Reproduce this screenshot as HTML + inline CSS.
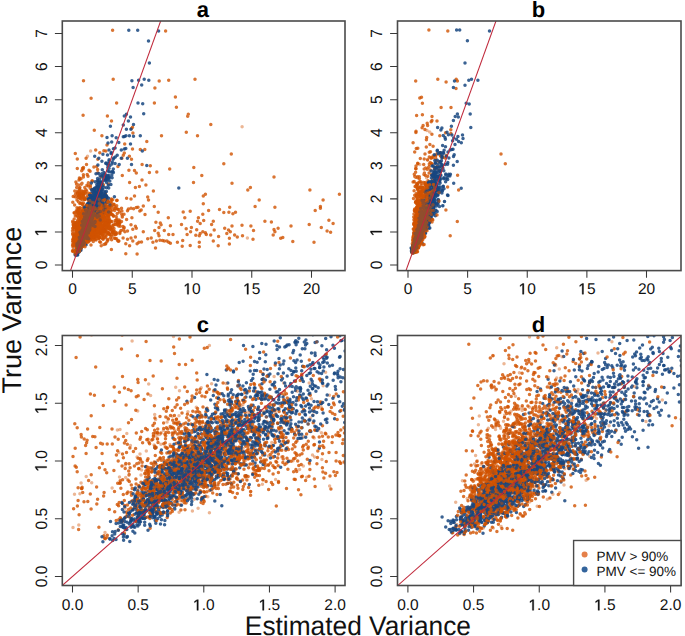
<!DOCTYPE html><html><head><meta charset="utf-8"><style>html,body{margin:0;padding:0;background:#fff;overflow:hidden}svg{display:block;text-rendering:geometricPrecision}.t{font-family:"Liberation Sans", sans-serif;font-size:15.5px;fill:#111}.h{font-family:"Liberation Sans", sans-serif;font-size:22px;font-weight:bold;fill:#000}.L{font-family:"Liberation Sans", sans-serif;font-size:26.3px;fill:#111}.g{font-family:"Liberation Sans", sans-serif;font-size:13.5px;fill:#111}</style></head><body><svg width="685" height="636" viewBox="0 0 685 636"><rect width="685" height="636" fill="#fff"/><defs><clipPath id="ca"><rect x="62.30" y="21.00" width="282.70" height="249.60"/></clipPath><clipPath id="cb"><rect x="397.50" y="21.00" width="283.50" height="249.60"/></clipPath><clipPath id="cc"><rect x="62.30" y="335.50" width="282.70" height="250.00"/></clipPath><clipPath id="cd"><rect x="397.50" y="335.50" width="283.50" height="250.00"/></clipPath></defs><path d="M90.6 151.1h0M107.0 206.9h0M122.3 216.0h0M90.1 214.1h0" stroke="#d15200" stroke-opacity="0.42" stroke-width="3.5" stroke-linecap="round" fill="none" clip-path="url(#ca)"/><path d="M153.4 191.0h0M117.0 219.1h0M85.8 222.8h0M80.0 197.6h0M89.5 210.2h0M75.9 181.9h0M100.8 201.1h0M100.0 208.1h0M107.4 115.9h0M79.2 197.7h0M87.2 174.5h0M82.0 231.6h0M108.4 224.2h0M82.1 228.7h0M90.9 204.5h0M81.9 191.1h0M169.7 169.1h0M92.5 217.1h0M78.8 195.8h0M93.1 224.0h0M93.6 205.0h0M80.5 229.5h0M93.4 196.7h0M92.0 181.1h0M113.3 225.0h0M81.6 219.1h0M145.0 214.6h0M100.9 215.6h0M223.8 163.8h0M75.3 153.5h0M104.6 222.9h0M88.5 226.0h0M119.2 220.1h0M77.8 192.9h0M113.9 204.4h0M86.8 232.7h0M88.5 230.5h0M88.6 211.9h0M110.1 209.1h0M83.5 80.8h0M100.6 206.9h0M85.7 193.1h0M93.9 166.9h0M104.0 211.6h0M105.4 204.9h0M94.1 223.3h0M83.1 168.9h0M82.7 225.6h0M99.4 212.1h0M83.7 218.0h0M99.1 218.0h0M117.7 209.3h0M73.2 196.5h0M250.4 187.5h0M84.1 212.3h0M187.7 116.3h0M97.7 172.7h0M146.8 141.5h0M131.5 128.6h0M98.4 196.6h0M82.9 226.0h0M78.5 213.3h0M96.8 224.7h0M79.4 209.9h0M85.0 198.9h0M98.8 210.0h0M83.9 227.7h0M99.1 222.3h0M156.8 171.9h0M98.7 209.8h0M148.5 199.9h0M90.0 213.0h0M78.3 217.4h0M99.8 211.7h0M102.4 220.6h0M108.2 224.1h0M91.8 213.0h0M84.3 221.0h0M109.4 206.6h0M89.7 193.9h0M79.9 187.6h0M80.1 232.8h0M84.6 224.8h0M112.2 214.4h0M100.1 210.5h0M86.4 220.5h0M186.3 132.3h0M193.5 182.4h0M155.9 222.2h0M85.5 224.7h0M154.4 103.1h0M85.2 225.7h0M104.3 229.9h0M88.5 218.0h0M80.6 203.3h0M100.1 189.4h0M83.1 234.3h0M116.7 200.5h0M92.0 215.2h0M77.8 211.8h0M97.6 169.6h0M86.9 227.6h0M98.2 212.4h0M102.1 220.3h0M80.4 224.4h0M90.6 219.3h0M81.9 210.8h0M78.6 230.0h0M94.3 130.2h0M84.8 210.5h0M79.0 180.1h0M188.3 114.3h0M79.0 191.6h0M96.3 213.5h0M100.3 209.6h0M101.9 135.8h0M84.4 231.3h0M81.6 222.3h0M98.5 195.5h0M105.0 202.7h0M93.8 224.2h0M83.8 206.7h0M79.6 195.3h0M85.1 219.9h0M81.8 193.5h0M93.5 204.9h0M84.9 232.3h0M101.7 215.9h0M84.6 213.5h0M103.9 150.7h0M109.2 206.2h0M85.8 220.3h0M89.9 209.4h0M86.3 231.3h0M116.6 103.1h0M83.9 217.7h0M92.5 228.5h0M86.6 211.1h0M92.7 223.7h0M86.2 221.1h0M88.7 232.8h0M197.5 135.8h0M175.4 97.0h0M129.6 182.4h0M96.9 223.1h0M90.9 217.4h0M100.2 198.0h0M85.0 224.4h0M86.5 221.9h0M89.7 211.2h0M84.8 187.6h0M98.2 206.0h0M90.1 171.3h0M79.6 191.0h0M86.9 197.2h0" stroke="#d15200" stroke-opacity="0.8" stroke-width="3.5" stroke-linecap="round" fill="none" clip-path="url(#ca)"/><path d="M86.3 214.9h0M81.2 195.6h0M103.4 210.5h0" stroke="#d15200" stroke-opacity="0.42" stroke-width="3.5" stroke-linecap="round" fill="none" clip-path="url(#ca)"/><path d="M86.6 224.2h0M91.7 214.4h0M81.1 228.2h0M91.7 189.3h0M87.6 221.4h0M150.3 165.8h0M274.0 177.0h0M81.7 228.8h0M82.3 216.9h0M93.6 190.7h0M83.0 223.1h0M81.7 228.3h0M85.8 212.8h0M74.5 213.1h0M91.4 216.2h0M92.9 222.1h0M87.8 216.2h0M95.2 224.8h0M145.9 185.0h0M112.5 227.7h0M79.8 225.7h0M87.7 215.1h0M82.7 197.4h0M104.8 228.3h0M87.6 208.9h0M83.4 174.8h0M79.8 221.8h0M99.8 152.7h0M77.3 158.9h0M103.0 200.3h0M203.3 203.8h0M210.8 124.4h0M102.3 199.8h0M82.2 222.4h0M96.1 216.6h0M95.9 213.1h0M100.7 221.7h0M97.8 213.2h0M159.2 81.1h0M84.6 219.4h0M77.0 195.9h0M333.1 223.4h0M80.1 228.0h0M83.0 217.8h0M98.9 226.9h0M105.0 218.0h0M80.2 198.2h0M83.8 220.3h0M100.8 217.8h0M90.1 216.5h0M106.8 211.1h0M124.7 143.9h0M108.4 183.9h0M85.5 219.4h0M87.3 215.0h0M88.0 176.3h0M105.8 219.8h0M107.2 200.7h0M94.4 218.8h0M107.8 222.3h0M76.3 214.8h0M80.4 178.8h0M128.9 170.2h0M78.7 231.3h0M76.3 210.8h0M127.5 210.8h0M75.1 226.8h0M107.0 202.9h0M203.3 195.9h0M86.1 219.3h0M102.5 200.1h0M86.0 220.7h0M201.8 175.4h0M83.8 216.6h0M86.0 221.5h0M85.7 229.0h0M88.4 182.7h0M99.1 210.0h0M97.8 217.2h0M101.1 210.5h0M100.0 227.2h0M92.0 213.9h0M81.7 199.3h0M82.9 227.7h0M176.4 107.2h0M94.7 197.9h0M90.1 216.9h0M86.2 226.8h0M104.1 215.4h0M91.9 215.2h0M87.0 219.2h0M158.2 212.2h0M86.3 221.8h0M111.5 121.1h0M78.4 201.8h0M81.7 222.6h0M83.0 223.8h0M89.7 215.4h0M100.7 222.7h0M193.8 167.4h0M79.8 193.3h0M108.6 216.1h0M139.8 211.1h0M117.9 166.5h0M81.1 194.1h0M96.4 188.1h0M90.4 187.1h0M81.6 223.9h0M91.5 222.5h0M91.6 215.8h0M90.2 188.3h0M81.7 170.7h0M134.5 195.9h0M106.3 215.0h0M75.5 197.0h0M82.1 229.0h0M79.9 224.9h0M90.0 226.7h0M205.4 194.2h0M98.3 208.5h0M87.8 211.1h0M118.8 209.5h0M92.3 181.0h0M89.7 193.5h0M88.9 214.3h0M101.0 177.0h0M82.6 225.4h0M83.6 195.4h0M77.3 233.1h0M109.1 218.6h0M121.9 158.2h0M95.2 217.0h0M91.6 220.2h0M95.7 150.1h0M79.2 222.7h0M89.1 210.1h0M84.1 192.1h0M111.0 211.3h0M84.2 211.0h0M102.2 229.4h0M88.7 204.6h0M200.2 223.4h0M184.8 217.8h0M88.2 221.0h0M168.7 80.2h0M232.0 226.0h0M81.2 223.8h0M79.6 203.2h0M92.6 235.0h0M89.0 170.2h0M81.0 178.8h0M90.8 207.8h0M88.2 213.8h0M90.2 222.4h0M161.5 135.8h0M91.3 203.7h0" stroke="#d15200" stroke-opacity="0.8" stroke-width="3.5" stroke-linecap="round" fill="none" clip-path="url(#ca)"/><path d="M98.8 222.8h0M89.0 209.8h0M87.5 156.2h0" stroke="#d15200" stroke-opacity="0.42" stroke-width="3.5" stroke-linecap="round" fill="none" clip-path="url(#ca)"/><path d="M77.1 191.2h0M106.5 197.1h0M77.0 207.8h0M76.1 222.8h0M83.3 228.8h0M117.2 213.5h0M105.1 213.4h0M105.9 151.1h0M88.7 202.3h0M95.3 210.4h0M77.9 220.1h0M109.9 221.9h0M106.2 211.1h0M224.7 228.3h0M99.2 218.8h0M93.0 207.8h0M97.8 159.3h0M87.1 217.3h0M82.9 230.0h0M195.0 79.2h0M82.4 192.1h0M92.0 228.2h0M100.1 219.9h0M111.4 199.1h0M75.7 227.1h0M101.6 229.3h0M111.2 203.6h0M113.9 204.3h0M85.4 212.1h0M81.3 232.6h0M205.4 232.7h0M77.3 168.5h0M115.3 222.4h0M108.7 218.4h0M75.6 194.1h0M81.0 192.1h0M83.9 226.6h0M103.6 198.8h0M103.7 216.8h0M320.4 206.4h0M131.5 159.3h0M144.8 149.5h0M110.9 227.2h0M97.3 216.4h0M81.2 219.6h0M90.7 215.9h0M136.3 173.1h0M79.7 189.6h0M86.6 223.0h0M87.8 195.2h0M100.4 228.5h0M191.4 227.4h0M95.5 206.5h0M139.4 186.6h0M109.6 207.7h0M96.4 195.0h0M94.9 216.6h0M91.5 212.7h0M121.5 208.2h0M154.9 88.1h0M83.8 211.6h0M97.5 227.0h0M82.2 220.9h0M102.2 221.0h0M102.6 215.5h0M84.8 232.5h0M78.9 191.7h0M84.1 191.2h0M100.3 220.2h0M88.3 186.0h0M91.5 223.7h0M78.4 208.6h0M83.0 215.3h0M74.8 191.1h0M99.3 218.3h0M80.9 228.0h0M89.8 208.6h0M97.9 211.6h0M98.1 216.9h0M82.8 226.7h0M79.7 225.9h0M78.6 225.7h0M84.1 211.4h0M100.9 212.8h0M105.4 194.0h0M111.6 230.0h0M122.3 217.1h0M87.5 210.4h0M97.9 222.1h0M129.4 156.2h0M104.2 204.6h0M91.2 197.7h0M107.9 201.2h0M105.3 222.1h0M231.3 154.0h0M100.4 213.1h0M101.6 212.2h0M85.6 223.2h0M113.3 215.6h0M108.2 219.6h0M79.4 225.7h0M77.1 229.9h0M86.9 217.8h0M99.0 207.9h0M109.9 214.1h0M93.0 213.8h0M124.3 153.1h0M84.2 194.1h0M79.7 190.5h0M122.3 175.4h0M147.7 197.1h0M135.4 187.5h0M235.5 212.2h0M339.4 194.2h0M140.3 149.5h0M89.6 231.1h0M95.6 201.3h0M78.9 195.5h0M94.5 216.8h0M87.0 192.1h0M104.7 208.3h0M87.4 228.0h0M84.7 212.2h0M113.2 225.2h0M79.3 190.5h0M86.0 212.7h0M82.0 214.5h0M86.6 190.9h0M123.0 226.6h0M92.8 207.6h0M76.6 184.2h0M86.7 205.3h0M202.8 214.3h0M90.4 213.6h0M84.4 216.5h0M98.8 221.4h0M98.0 181.0h0M83.5 227.9h0M112.0 230.5h0M90.8 219.5h0M232.0 183.3h0M84.7 225.0h0M85.5 219.8h0M78.4 185.1h0M89.7 214.4h0M100.4 199.3h0M89.5 220.0h0M84.5 199.6h0M84.6 228.5h0M109.7 229.3h0M134.5 170.5h0M82.0 208.3h0M82.5 168.3h0M101.6 202.9h0M85.3 229.5h0M96.7 166.4h0" stroke="#d15200" stroke-opacity="0.8" stroke-width="3.5" stroke-linecap="round" fill="none" clip-path="url(#ca)"/><path d="M242.1 126.8h0M100.0 222.0h0M78.4 217.6h0M83.5 222.2h0M93.2 213.7h0" stroke="#d15200" stroke-opacity="0.42" stroke-width="3.5" stroke-linecap="round" fill="none" clip-path="url(#ca)"/><path d="M98.3 226.9h0M83.4 176.9h0M123.3 155.2h0M86.1 158.2h0M81.3 184.3h0M90.4 185.3h0M132.9 133.1h0M103.1 210.5h0M116.5 233.4h0M96.4 218.7h0M88.9 223.6h0M102.9 220.5h0M81.0 222.4h0M117.1 200.3h0M82.0 221.4h0M88.1 215.1h0M79.3 188.3h0M223.8 212.5h0M81.9 220.0h0M74.2 219.0h0M95.1 216.4h0M132.5 149.0h0M81.8 223.2h0M84.3 225.1h0M84.2 218.8h0M86.9 185.3h0M84.6 223.1h0M105.1 212.9h0M132.5 127.2h0M86.1 232.4h0M72.8 202.3h0M80.2 224.5h0M97.8 208.8h0M82.9 222.6h0M88.6 220.3h0M107.4 209.5h0M76.7 187.5h0M93.9 214.7h0M98.6 202.4h0M86.1 225.5h0M79.3 194.9h0M88.0 226.8h0M91.8 218.1h0M103.1 196.9h0M84.8 198.0h0M323.1 199.9h0M82.1 222.9h0M106.4 199.0h0M90.6 228.1h0M100.5 230.9h0M128.4 209.0h0M109.2 221.8h0M126.6 198.2h0M86.2 228.0h0M309.9 190.1h0M309.2 224.4h0M85.4 226.6h0M88.0 215.8h0M111.8 206.7h0M82.5 233.5h0M82.0 183.3h0M100.0 223.0h0M91.1 98.3h0M83.4 225.3h0M98.4 201.8h0M124.0 214.3h0M88.2 199.9h0M85.9 189.8h0M82.3 230.9h0M81.4 229.4h0M105.3 194.6h0M100.1 215.2h0M84.1 218.1h0M94.6 216.5h0M104.7 207.3h0M88.2 212.4h0M113.2 79.2h0M142.1 164.4h0M76.6 223.0h0M101.1 205.4h0M108.2 208.3h0M154.3 206.4h0M112.6 30.2h0M104.3 206.5h0M108.6 206.9h0M247.8 190.1h0M96.5 212.7h0M149.4 172.6h0M107.0 145.0h0M83.5 167.4h0M89.6 206.3h0M229.7 207.3h0M83.4 194.1h0M102.7 210.1h0M87.5 213.9h0M91.7 193.4h0M168.3 217.8h0M86.5 164.4h0M103.5 227.0h0M97.4 204.0h0M111.2 200.3h0M87.6 214.9h0M79.7 178.8h0M96.6 196.5h0M83.1 115.3h0M100.3 210.5h0M89.9 213.3h0M86.5 204.8h0M106.1 206.7h0M89.2 222.3h0M77.6 211.5h0M85.7 227.2h0M89.0 223.2h0M89.2 223.5h0M88.8 230.6h0M165.6 31.1h0M84.1 229.2h0M84.7 216.8h0M103.4 184.7h0M83.9 208.8h0M104.0 229.5h0M92.6 231.9h0M93.6 220.5h0M86.6 211.4h0M97.5 199.4h0M85.2 228.6h0M91.0 218.2h0M79.4 178.0h0M81.5 231.9h0M79.8 207.6h0M106.4 212.8h0M91.6 226.4h0M85.6 212.2h0M197.6 221.3h0M142.0 180.1h0M82.2 211.9h0M102.8 226.0h0M82.2 204.3h0M77.4 216.0h0M83.5 229.6h0M93.4 207.1h0M88.3 227.7h0M74.5 225.0h0M95.0 208.4h0M259.2 199.9h0M98.4 196.3h0M87.2 231.0h0M120.0 222.4h0M82.9 230.9h0M81.1 220.8h0M86.6 205.6h0M106.2 210.2h0M118.6 226.0h0" stroke="#d15200" stroke-opacity="0.8" stroke-width="3.5" stroke-linecap="round" fill="none" clip-path="url(#ca)"/><path d="M90.5 219.1h0M82.9 241.6h0M80.5 247.9h0M84.9 229.9h0M81.4 234.3h0M88.9 199.1h0M113.4 148.7h0M85.7 233.4h0M78.6 239.4h0M79.7 246.3h0M92.4 206.0h0M86.5 220.2h0M86.8 229.0h0M106.2 176.5h0M79.5 250.0h0M98.3 204.3h0M81.4 241.8h0M99.9 191.2h0M82.7 238.6h0M97.9 213.3h0M89.1 218.9h0M100.6 201.3h0M81.5 242.5h0M83.6 236.4h0M83.2 240.8h0M85.7 227.1h0M86.1 225.4h0M79.8 241.9h0M82.8 229.1h0M91.4 215.4h0M94.3 201.0h0M78.0 245.8h0M92.4 222.6h0M87.7 217.0h0M142.3 151.1h0M83.9 224.0h0M84.4 237.5h0M128.4 121.1h0M77.9 248.7h0M86.4 233.9h0M87.4 229.7h0M84.8 228.1h0M84.8 224.0h0M80.5 243.3h0M77.1 251.0h0M89.3 227.0h0M86.3 217.7h0M84.6 233.5h0M83.2 231.9h0M84.1 219.1h0M84.0 233.5h0M78.2 242.8h0M83.0 228.7h0M91.3 214.4h0M83.3 235.8h0M85.1 231.1h0M81.6 244.5h0M97.7 186.9h0M81.3 239.1h0M87.7 233.9h0M83.9 239.4h0M86.1 232.6h0M88.6 218.9h0M84.6 222.7h0M89.4 218.3h0M86.2 236.4h0M84.7 234.7h0M88.0 221.6h0M86.3 237.0h0M84.0 233.3h0M83.9 230.5h0M80.8 246.6h0M79.1 246.4h0M93.4 222.4h0M86.0 219.3h0M88.7 225.2h0M94.0 206.9h0M81.5 239.7h0M84.8 223.0h0M102.0 202.1h0M83.1 224.8h0M83.5 234.2h0M148.5 40.9h0M84.1 240.9h0M89.0 220.7h0M88.9 229.6h0M85.5 216.7h0M87.5 232.0h0M80.5 240.5h0M79.2 233.6h0M108.9 178.2h0M88.3 209.5h0M94.1 231.8h0M83.6 232.4h0M83.1 234.6h0M82.8 227.5h0M97.6 178.6h0M84.9 226.5h0M82.4 232.9h0M88.4 231.0h0M103.6 175.7h0M88.2 227.1h0M80.9 238.7h0M91.3 217.0h0M86.8 224.3h0M82.8 237.9h0M79.4 240.6h0M81.2 239.3h0M82.2 240.2h0M86.2 224.6h0M88.2 226.4h0M81.3 229.3h0M80.6 228.8h0M78.4 247.9h0M86.3 237.0h0M82.0 242.3h0M78.2 241.9h0M85.1 222.3h0M104.0 206.1h0M85.2 239.1h0M91.5 198.8h0M92.4 209.8h0M97.3 197.4h0M86.4 223.1h0M82.3 230.4h0M101.0 191.5h0M93.6 220.3h0M84.6 236.8h0M85.2 233.6h0M82.2 239.9h0M85.8 236.0h0M88.1 223.0h0M83.6 237.1h0M81.9 241.0h0M94.3 209.9h0M80.9 243.2h0M86.8 214.2h0M81.9 236.5h0M85.8 226.0h0M86.3 226.6h0M83.3 238.3h0M86.0 230.8h0M88.3 236.2h0M80.1 237.3h0M86.8 215.9h0M82.3 221.5h0M84.8 220.8h0M78.0 250.1h0M84.2 232.0h0M89.4 212.6h0M105.9 208.0h0M84.7 217.1h0M80.1 247.2h0M93.0 211.0h0M84.7 223.9h0M84.2 235.1h0M83.0 241.1h0M108.4 202.0h0M108.7 175.5h0M77.8 246.3h0M96.0 173.7h0M90.5 222.2h0M102.0 205.4h0M83.3 233.0h0M89.9 225.7h0M87.9 220.7h0M92.6 213.6h0M90.9 217.3h0M85.0 235.7h0M87.0 234.4h0M107.0 137.4h0M84.0 237.8h0M81.5 243.8h0M86.9 226.5h0M80.0 239.5h0M95.1 215.5h0M80.7 244.4h0M87.2 229.6h0M108.5 177.6h0M83.1 241.2h0M83.8 226.6h0M85.3 226.0h0M107.0 197.6h0M86.4 230.4h0M83.4 236.3h0M90.5 220.9h0M86.8 219.2h0M81.2 241.1h0M85.6 232.6h0M94.1 216.7h0M82.5 240.8h0M93.3 216.0h0M79.2 244.9h0M83.3 241.1h0M96.8 202.3h0M78.7 245.0h0M78.8 240.7h0M99.5 209.5h0M103.7 175.8h0M91.1 200.1h0M85.5 234.1h0M79.3 246.2h0M92.9 217.6h0M85.7 227.9h0M85.1 229.4h0M77.8 249.0h0M85.1 227.5h0M89.1 222.7h0M86.3 224.1h0M86.3 217.3h0M79.8 248.2h0M107.7 165.0h0M102.1 199.7h0M87.0 231.8h0M97.5 193.4h0M80.9 235.9h0M79.1 238.5h0M79.1 246.3h0M89.9 220.7h0M87.1 206.5h0M85.2 227.4h0M86.1 233.1h0M85.1 230.6h0M94.6 210.6h0M89.7 229.2h0M86.5 235.3h0M93.8 198.3h0" stroke="#174780" stroke-opacity="0.85" stroke-width="3.5" stroke-linecap="round" fill="none" clip-path="url(#ca)"/><path d="M83.4 227.8h0M80.3 245.9h0M102.9 154.2h0M83.3 232.1h0M83.2 237.6h0M98.3 204.8h0M81.7 233.8h0M91.4 222.0h0M89.1 224.2h0M80.0 242.3h0M90.7 210.1h0M87.7 210.2h0M81.8 239.0h0M93.7 213.9h0M83.8 231.5h0M92.1 214.6h0M86.7 212.9h0M85.6 232.9h0M140.3 135.8h0M90.6 223.2h0M94.4 211.2h0M77.3 249.3h0M89.4 220.4h0M96.8 196.1h0M89.6 222.2h0M80.8 237.0h0M87.1 218.7h0M100.6 191.6h0M83.9 226.4h0M97.2 217.2h0M81.7 232.3h0M81.3 230.9h0M97.4 208.4h0M91.0 215.3h0M88.9 218.1h0M94.3 211.3h0M90.5 217.6h0M87.1 221.8h0M93.4 220.8h0M84.3 234.4h0M97.3 217.4h0M83.0 230.6h0M77.5 253.5h0M80.7 245.1h0M85.5 234.1h0M76.4 252.1h0M121.3 150.1h0M85.5 234.3h0M81.9 230.8h0M80.5 242.3h0M78.2 245.0h0M83.5 239.1h0M93.7 218.6h0M95.2 215.4h0M91.4 196.7h0M83.7 235.6h0M84.1 230.9h0M83.6 235.8h0M82.4 240.8h0M80.7 239.8h0M109.8 180.9h0M100.0 210.4h0M88.8 220.7h0M84.9 228.1h0M83.0 243.3h0M92.5 207.2h0M88.1 211.7h0M95.7 210.5h0M85.6 210.2h0M80.9 244.2h0M98.1 220.8h0M92.8 211.8h0M78.1 244.1h0M87.1 224.4h0M85.0 235.8h0M76.3 254.1h0M81.4 240.2h0M87.8 218.3h0M87.1 223.6h0M89.1 227.7h0M86.2 235.8h0M77.0 243.8h0M80.0 249.0h0M84.6 228.8h0M85.1 231.4h0M97.1 216.3h0M85.1 230.2h0M96.7 207.4h0M84.0 231.6h0M87.8 217.2h0M89.9 214.2h0M143.7 113.7h0M99.1 193.7h0M81.8 238.2h0M82.8 236.7h0M85.4 208.6h0M81.2 247.1h0M81.1 240.2h0M87.4 231.9h0M81.8 240.7h0M93.4 206.1h0M83.6 237.6h0M106.8 196.6h0M96.9 209.3h0M84.8 235.2h0M105.3 180.2h0M82.2 230.3h0M95.3 209.7h0M89.8 229.6h0M84.9 234.9h0M84.0 232.4h0M95.7 203.9h0M84.8 232.3h0M85.4 237.2h0M102.4 189.2h0M86.9 215.0h0M83.3 242.6h0M85.1 229.3h0M81.0 234.1h0M79.2 242.0h0M91.4 204.4h0M82.8 226.1h0M92.9 217.6h0M87.7 225.2h0M100.1 192.1h0M80.0 241.3h0M94.0 212.8h0M96.9 195.7h0M84.3 236.2h0M95.6 214.4h0M79.6 242.7h0M86.6 229.1h0M91.5 208.8h0M94.1 223.4h0M88.6 238.7h0M102.8 212.6h0M90.3 225.4h0M87.4 225.5h0M85.8 226.0h0M89.5 227.3h0M80.2 235.5h0M131.9 80.8h0M94.7 212.0h0M98.5 199.8h0M99.7 194.0h0M85.1 237.8h0M80.8 237.4h0M92.0 224.0h0M78.8 244.8h0M84.2 224.2h0M99.0 197.2h0M87.1 226.4h0M105.1 192.5h0M83.6 226.3h0M85.6 233.8h0M83.9 232.5h0M102.0 176.1h0M83.6 234.7h0M80.5 239.2h0M78.9 242.8h0M78.6 244.0h0M113.8 158.1h0M148.8 80.2h0M98.7 204.9h0M81.5 239.0h0M92.1 226.4h0M90.0 203.5h0M87.6 221.7h0M90.8 220.0h0M84.1 236.4h0M80.2 240.2h0M87.7 203.7h0M82.2 237.0h0M87.2 206.2h0M80.1 244.2h0M84.5 229.9h0M88.4 222.7h0M90.0 220.6h0M81.4 237.7h0M85.1 230.9h0M94.9 188.0h0M90.2 213.1h0M84.0 233.8h0M93.7 199.8h0M84.1 227.6h0M144.2 79.2h0M83.5 223.0h0M85.2 226.3h0M88.2 231.0h0M85.6 227.0h0M84.3 230.8h0M81.4 245.4h0M87.8 223.5h0M85.4 225.8h0M85.9 222.6h0M87.0 226.7h0M81.2 238.0h0M86.7 224.8h0M85.1 227.2h0M86.9 212.3h0M95.8 215.8h0M88.9 235.8h0M77.2 254.6h0M83.5 236.1h0M83.1 230.3h0M92.0 207.6h0M82.1 234.9h0M87.0 226.3h0M95.5 201.8h0M85.6 226.6h0M92.3 210.5h0M118.8 142.4h0M92.5 218.1h0M81.3 240.3h0M80.6 236.4h0M86.3 223.1h0M86.5 218.3h0M82.2 234.9h0M93.2 212.0h0M89.5 220.0h0M89.1 219.7h0M89.6 217.5h0M78.9 238.3h0M87.4 219.2h0M91.3 225.5h0M90.2 217.6h0M81.3 242.9h0" stroke="#174780" stroke-opacity="0.85" stroke-width="3.5" stroke-linecap="round" fill="none" clip-path="url(#ca)"/><path d="M78.0 245.9h0M92.0 221.6h0M91.0 229.4h0M86.1 225.7h0M84.6 232.8h0M85.1 233.5h0M86.1 233.8h0M94.1 210.5h0M86.2 225.2h0M79.6 239.8h0M78.2 245.2h0M78.0 243.4h0M93.5 212.8h0M86.0 222.5h0M84.8 236.9h0M80.9 249.0h0M95.5 220.1h0M81.4 236.6h0M78.9 246.6h0M86.1 233.6h0M85.4 231.1h0M99.7 208.0h0M82.4 242.0h0M99.7 195.5h0M92.8 198.7h0M93.1 222.0h0M89.0 224.5h0M95.7 202.3h0M95.3 206.2h0M88.1 232.7h0M81.8 233.7h0M83.3 226.1h0M86.7 213.4h0M86.7 214.7h0M86.3 230.0h0M78.4 242.5h0M91.2 207.0h0M83.3 241.4h0M85.0 230.9h0M93.4 208.5h0M92.8 209.1h0M87.8 221.9h0M81.7 238.0h0M82.7 232.2h0M85.2 233.5h0M98.8 196.7h0M79.0 241.1h0M95.4 192.5h0M100.4 216.3h0M95.5 196.9h0M78.6 248.7h0M81.7 229.7h0M81.1 232.9h0M80.5 239.1h0M94.2 223.5h0M81.5 234.6h0M80.6 234.1h0M86.1 226.4h0M87.7 216.1h0M88.3 233.1h0M87.1 229.0h0M79.2 243.8h0M87.7 225.1h0M117.2 155.2h0M81.1 244.5h0M82.3 235.3h0M83.6 233.0h0M77.0 248.7h0M83.7 237.4h0M84.9 232.0h0M81.4 239.1h0M86.1 222.8h0M82.8 236.2h0M95.2 208.7h0M85.4 227.3h0M94.9 206.7h0M92.5 212.3h0M80.2 239.7h0M82.3 241.2h0M149.4 63.0h0M84.3 219.1h0M87.6 229.7h0M104.2 191.3h0M85.0 229.9h0M80.5 250.0h0M102.0 214.2h0M95.0 228.3h0M90.6 219.8h0M85.5 233.2h0M86.7 218.7h0M106.5 202.5h0M81.1 235.7h0M85.3 233.6h0M89.2 213.0h0M87.5 214.6h0M82.6 231.1h0M86.3 219.1h0M76.2 254.7h0M80.4 240.7h0M88.7 221.7h0M87.4 228.4h0M78.6 245.1h0M87.4 218.1h0M83.9 235.9h0M81.7 225.3h0M93.4 204.8h0M85.8 235.5h0M97.5 219.4h0M80.8 240.7h0M78.4 244.0h0M89.5 228.8h0M90.9 210.6h0M84.2 243.1h0M86.9 236.3h0M85.9 225.6h0M82.5 234.3h0M90.2 205.8h0M93.1 196.8h0M86.4 223.9h0M89.8 212.9h0M85.4 234.2h0M79.1 238.8h0M82.2 230.9h0M108.3 185.3h0M82.0 238.3h0M95.1 221.4h0M78.5 247.0h0M83.2 224.6h0M88.7 218.8h0M93.6 217.7h0M81.8 232.4h0M86.6 220.8h0M90.1 217.9h0M93.4 213.9h0M91.0 203.9h0M88.9 216.0h0M84.5 234.5h0M93.1 220.8h0M89.6 212.3h0M87.1 227.6h0M81.3 236.6h0M92.6 206.5h0M80.1 242.0h0M83.3 244.4h0M78.1 248.9h0M92.4 220.2h0M91.7 204.2h0M79.9 238.8h0M82.9 232.6h0M87.1 227.0h0M78.0 252.0h0M92.5 210.6h0M89.1 203.5h0M79.9 242.6h0M82.2 231.7h0M79.5 236.7h0M79.3 244.3h0M100.0 205.2h0M84.6 229.8h0M93.7 220.6h0M95.6 202.5h0M88.9 218.6h0M91.7 189.8h0M82.5 229.8h0M86.3 227.1h0M100.4 193.5h0M85.6 236.3h0M78.5 243.4h0M87.5 230.1h0M82.7 241.9h0M89.8 207.2h0M82.4 241.5h0M94.8 197.8h0M104.3 194.8h0M83.7 225.2h0M107.3 175.5h0M89.4 219.3h0M86.7 226.2h0M80.9 232.5h0M85.9 221.9h0M92.2 222.8h0M82.7 237.0h0M96.7 213.4h0M84.4 225.8h0M100.2 195.1h0M85.2 227.8h0M90.5 223.7h0M83.2 231.6h0M86.7 226.1h0M81.2 241.8h0M85.2 228.2h0M77.2 246.6h0M82.7 232.4h0M94.8 206.4h0M83.8 239.5h0M85.4 238.6h0M92.3 215.4h0M93.2 213.0h0M81.5 237.5h0M88.1 229.4h0M98.0 182.4h0M89.2 214.3h0M83.1 241.4h0M104.0 172.6h0M82.5 238.7h0M86.3 237.1h0M110.0 205.0h0M80.5 240.9h0M84.8 232.4h0M91.7 215.1h0M81.0 238.1h0M105.7 175.5h0M96.2 204.6h0M100.7 181.9h0M80.7 241.8h0M87.4 213.6h0M85.7 230.8h0M83.8 219.4h0M80.7 234.2h0M83.6 234.5h0M87.7 220.7h0M83.0 232.4h0M90.8 214.5h0M94.1 194.3h0M82.4 232.5h0M91.5 233.8h0M101.0 195.5h0" stroke="#174780" stroke-opacity="0.85" stroke-width="3.5" stroke-linecap="round" fill="none" clip-path="url(#ca)"/><path d="M87.0 231.7h0M80.0 228.1h0M84.1 231.2h0M83.7 230.9h0M92.8 218.4h0M79.0 246.7h0M82.2 236.9h0M80.8 241.4h0M83.1 224.1h0M94.7 189.7h0M89.8 232.9h0M78.9 239.5h0M93.4 199.8h0M81.2 246.2h0M82.0 238.1h0M89.1 229.9h0M78.4 248.7h0M82.6 239.0h0M84.3 236.1h0M83.0 228.1h0M111.7 141.9h0M88.9 207.1h0M91.7 221.0h0M103.4 178.6h0M80.5 236.9h0M85.7 230.4h0M84.8 232.7h0M106.5 187.8h0M85.0 235.3h0M81.2 244.7h0M76.1 253.4h0M83.1 238.1h0M89.5 223.4h0M96.8 217.7h0M84.8 228.4h0M91.0 218.7h0M92.9 206.3h0M79.2 241.2h0M85.7 228.7h0M86.6 232.5h0M79.5 243.9h0M82.9 229.8h0M86.8 228.6h0M90.3 214.4h0M86.8 215.2h0M88.7 220.0h0M92.1 224.0h0M88.7 206.2h0M81.4 232.5h0M94.7 222.2h0M82.9 225.0h0M89.4 227.4h0M77.8 249.0h0M100.9 186.8h0M85.1 220.7h0M83.9 228.5h0M81.0 241.8h0M102.3 169.8h0M84.8 232.0h0M92.7 197.9h0M95.2 198.9h0M93.1 223.4h0M86.1 223.5h0M77.4 247.8h0M83.8 232.2h0M101.8 183.2h0M79.8 247.4h0M87.3 225.4h0M84.3 237.7h0M85.5 233.0h0M87.6 225.4h0M92.8 221.5h0M85.3 237.5h0M83.8 230.4h0M101.9 217.5h0M128.8 30.2h0M92.2 215.5h0M88.0 210.5h0M82.9 214.8h0M85.9 234.3h0M126.0 135.8h0M79.7 239.0h0M87.6 224.8h0M178.8 188.0h0M85.8 233.3h0M87.4 221.2h0M80.6 245.0h0M82.5 229.8h0M86.1 244.8h0M82.7 237.5h0M81.2 243.2h0M98.5 189.6h0M83.0 229.5h0M83.8 232.8h0M83.8 234.9h0M77.5 249.5h0M97.7 212.9h0M91.2 229.0h0M79.8 244.4h0M80.0 247.8h0M78.8 241.5h0M79.1 244.0h0M76.3 252.8h0M84.0 234.9h0M82.8 242.0h0M83.9 237.2h0M86.5 219.7h0M80.0 237.0h0M89.1 213.4h0M85.9 226.6h0M83.1 234.7h0M82.4 232.4h0M99.3 187.8h0M82.1 226.7h0M81.7 236.8h0M95.2 209.6h0M87.6 212.8h0M78.1 250.7h0M79.1 238.5h0M87.9 212.8h0M81.5 236.5h0M81.3 240.2h0M80.0 247.9h0M87.1 231.9h0M78.7 247.9h0M79.6 250.6h0M95.7 220.9h0M87.4 218.7h0M108.2 163.6h0M89.4 217.2h0M81.7 235.3h0M85.4 218.4h0M91.8 214.6h0M86.9 220.5h0M97.3 197.2h0M81.7 227.2h0M84.3 235.9h0M81.1 239.8h0M85.1 227.6h0M82.6 239.1h0M87.5 223.3h0M86.4 224.3h0M86.9 234.2h0M92.0 228.5h0M93.4 217.9h0M93.1 225.4h0M97.1 208.1h0M97.5 201.2h0M98.8 158.2h0M86.9 226.8h0M88.3 231.2h0M88.0 221.6h0M84.9 221.5h0M93.0 197.9h0M85.1 236.7h0M86.6 218.8h0M90.5 207.1h0M92.7 203.3h0M86.8 227.7h0M87.0 215.1h0M91.2 221.2h0M106.0 162.9h0M86.7 221.9h0M84.9 230.3h0M93.5 209.2h0M86.9 218.8h0M84.8 231.5h0M119.2 164.4h0M84.9 226.8h0M79.3 237.4h0M82.7 226.4h0M83.5 231.3h0M84.6 218.7h0M98.3 199.6h0M87.3 222.8h0M85.2 218.5h0M85.1 223.6h0M79.5 245.2h0M102.7 204.0h0M88.0 216.9h0M89.1 230.8h0M75.9 254.2h0M81.7 238.3h0M81.1 235.9h0M77.7 255.0h0M85.0 233.9h0M75.3 255.1h0M83.5 232.2h0M82.2 236.5h0M78.5 247.8h0M94.0 215.6h0M82.2 234.7h0M91.8 215.4h0M158.6 31.1h0M80.3 243.2h0M99.7 202.8h0M94.1 212.6h0M84.9 234.5h0M78.2 243.2h0M97.4 193.9h0M88.1 230.0h0M89.6 232.2h0M83.1 242.9h0M79.7 238.0h0M106.2 178.2h0M83.8 233.5h0M92.3 221.9h0M82.0 236.2h0M84.3 238.7h0M85.6 225.1h0M82.6 237.9h0M86.0 231.3h0M81.0 241.8h0M85.5 211.5h0M78.6 246.8h0M84.2 230.9h0M88.2 220.7h0M100.1 202.7h0M80.1 244.1h0M84.8 217.5h0M76.1 252.2h0M78.9 246.0h0M106.6 182.5h0M91.3 226.3h0M76.5 249.8h0M78.4 240.4h0M92.2 198.7h0" stroke="#174780" stroke-opacity="0.85" stroke-width="3.5" stroke-linecap="round" fill="none" clip-path="url(#ca)"/><path d="M83.3 236.8h0M83.9 233.4h0M84.0 222.5h0M83.7 236.6h0M94.9 216.1h0M92.8 198.1h0M86.5 231.7h0M77.4 251.6h0M82.4 241.0h0M133.5 136.2h0M81.4 242.2h0M90.8 220.1h0M81.4 234.8h0M96.6 206.9h0M80.5 240.1h0M89.5 223.1h0M80.4 240.1h0M83.5 235.7h0M99.1 192.6h0M87.6 209.3h0M78.3 246.6h0M84.9 228.2h0M92.6 215.2h0M80.1 241.8h0M90.6 213.8h0M86.8 229.0h0M96.4 219.8h0M89.2 225.4h0M103.9 209.6h0M85.8 233.9h0M82.6 239.9h0M86.0 228.3h0M79.0 248.3h0M91.2 213.3h0M83.2 231.5h0M85.9 222.8h0M94.4 219.0h0M89.6 214.0h0M99.6 179.6h0M89.4 223.0h0M78.9 248.3h0M85.0 225.5h0M82.1 230.9h0M92.6 206.3h0M93.5 214.4h0M82.0 235.8h0M83.1 233.7h0M81.0 238.3h0M89.8 223.9h0M93.6 189.2h0M79.2 243.6h0M80.7 237.0h0M90.1 214.1h0M111.0 153.5h0M83.7 239.9h0M80.2 242.5h0M91.9 199.1h0M90.4 218.0h0M106.8 179.5h0M83.8 234.2h0M87.9 212.9h0M96.9 197.5h0M94.6 198.0h0M88.3 225.1h0M78.0 250.6h0M94.9 222.6h0M87.9 217.8h0M89.1 211.1h0M84.7 234.6h0M92.2 216.2h0M83.5 234.6h0M82.7 243.1h0M86.8 223.1h0M94.5 220.5h0M86.5 220.7h0M91.8 199.3h0M88.2 211.5h0M78.8 248.3h0M81.7 236.5h0M86.1 212.7h0M84.5 242.2h0M112.3 162.1h0M116.2 137.8h0M90.1 213.4h0M83.9 231.4h0M84.8 220.7h0M82.7 224.2h0M83.7 232.8h0M84.9 227.7h0M78.5 247.3h0M94.0 220.2h0M82.8 230.2h0M83.0 221.4h0M85.8 225.0h0M78.7 247.1h0M98.6 199.8h0M84.9 227.3h0M89.5 223.1h0M85.3 228.4h0M93.2 211.3h0M84.7 231.0h0M101.8 183.6h0M81.2 238.5h0M100.7 192.5h0M90.7 224.6h0M87.5 213.1h0M84.7 219.0h0M78.9 242.7h0M93.2 210.9h0M90.4 227.7h0M84.3 232.0h0M90.1 198.5h0M83.9 229.4h0M78.1 248.6h0M85.6 232.9h0M84.0 234.0h0M86.9 228.5h0M96.4 210.6h0M84.8 233.9h0M85.4 226.6h0M94.1 217.9h0M94.8 223.2h0M87.0 221.2h0M95.3 202.4h0M91.6 227.5h0M89.4 216.5h0M80.0 245.1h0M81.4 239.5h0M99.9 212.0h0M87.0 226.9h0M86.0 224.9h0M106.0 195.5h0M91.7 225.2h0M101.5 208.1h0M85.2 235.8h0M81.8 237.6h0M96.8 215.0h0M114.4 196.8h0M98.5 196.5h0M80.5 242.4h0M85.9 227.3h0M82.6 230.3h0M87.5 232.1h0M83.0 230.7h0M83.1 239.9h0M85.6 227.0h0M91.3 228.2h0M83.7 224.9h0M88.7 216.9h0M85.2 226.1h0M75.9 254.3h0M93.7 198.7h0M87.9 223.7h0M84.5 236.4h0M88.4 226.0h0M96.7 206.2h0M89.5 226.6h0M127.4 158.2h0M88.7 220.7h0M88.4 220.7h0M88.3 222.0h0M94.2 205.7h0M86.7 225.2h0M83.0 237.4h0M85.7 208.8h0M82.3 234.5h0M83.1 235.0h0M89.6 224.7h0M85.8 214.0h0M85.8 230.7h0M82.0 234.8h0M124.3 115.9h0M92.9 213.8h0M95.3 203.8h0M84.3 226.4h0M89.0 224.5h0M84.2 235.6h0M82.2 232.2h0M89.9 223.0h0M130.9 129.2h0M79.6 245.6h0M90.0 227.6h0M88.5 220.7h0M87.0 227.8h0M85.9 229.9h0M80.2 247.0h0M80.9 239.9h0M86.3 222.1h0M79.8 237.3h0M94.3 217.6h0M76.0 249.2h0M86.7 224.6h0M86.8 225.9h0M84.0 236.5h0M81.7 235.5h0M86.3 237.3h0M94.6 201.8h0M86.3 226.6h0M85.3 225.5h0M81.5 233.0h0M82.7 233.4h0M81.9 238.9h0M89.1 206.0h0M86.8 225.0h0M82.6 237.1h0M80.1 246.6h0M83.0 239.3h0M87.9 229.5h0M93.9 215.7h0M84.2 235.9h0M99.1 180.5h0M105.7 200.1h0M79.2 244.5h0M79.7 240.7h0M80.0 237.5h0M91.3 199.3h0M85.5 230.4h0M98.1 201.1h0M79.8 246.7h0M98.7 198.7h0M86.1 225.3h0M81.8 238.9h0M98.4 205.0h0M91.4 223.8h0M109.1 159.7h0M94.5 205.5h0M88.2 221.0h0" stroke="#174780" stroke-opacity="0.85" stroke-width="3.5" stroke-linecap="round" fill="none" clip-path="url(#ca)"/><path d="M80.4 237.3h0M83.4 243.5h0M82.2 236.9h0M90.1 224.5h0M96.2 198.8h0M95.6 208.0h0M86.2 221.7h0M80.5 247.2h0M83.2 240.2h0M84.0 230.3h0M82.2 233.8h0M100.6 199.5h0M89.5 221.5h0M77.0 249.6h0M92.4 216.4h0M94.6 205.5h0M87.2 224.9h0M87.8 225.4h0M86.6 227.2h0M83.2 233.9h0M91.2 215.4h0M89.1 223.5h0M79.7 234.0h0M85.4 219.9h0M82.3 236.7h0M85.8 231.0h0M83.3 240.9h0M83.8 242.7h0M91.7 217.6h0M89.5 200.9h0M94.3 209.1h0M99.3 200.9h0M81.4 236.9h0M107.5 155.1h0M83.5 230.0h0M81.8 245.5h0M85.3 234.3h0M94.7 188.5h0M81.3 238.1h0M85.2 236.5h0M86.9 224.4h0M130.5 117.0h0M80.0 235.1h0M87.4 224.6h0M78.2 243.3h0M81.1 244.4h0M87.8 228.1h0M87.6 220.4h0M79.6 240.0h0M84.0 229.8h0M126.4 114.3h0M83.5 239.9h0M87.5 219.1h0M79.1 246.4h0M80.6 238.2h0M91.0 212.2h0M90.7 216.8h0M90.9 209.4h0M84.8 231.7h0M90.5 216.7h0M83.0 230.9h0M91.5 220.8h0M77.7 247.1h0M123.3 136.8h0M79.7 238.1h0M88.1 224.2h0M123.3 125.1h0M89.1 211.0h0M98.6 201.5h0M86.8 223.6h0M79.6 243.4h0M102.2 193.0h0M90.5 216.6h0M80.1 234.2h0M81.2 238.0h0M81.1 244.8h0M99.9 196.7h0M92.7 209.0h0M84.6 235.3h0M83.6 232.8h0M83.2 235.2h0M84.9 231.9h0M82.2 232.0h0M80.3 244.8h0M109.6 177.3h0M89.4 220.4h0M89.5 223.1h0M83.9 232.7h0M83.1 235.2h0M81.3 236.7h0M83.3 234.0h0M109.0 161.3h0M80.8 236.8h0M95.9 204.8h0M86.0 218.5h0M85.5 215.7h0M86.2 223.8h0M85.7 232.5h0M84.7 207.2h0M90.5 211.4h0M88.2 218.8h0M78.2 239.6h0M85.9 231.0h0M83.6 231.3h0M83.6 235.9h0M85.6 229.0h0M82.9 237.8h0M80.7 235.1h0M90.9 197.6h0M87.5 213.2h0M79.2 241.8h0M86.6 234.2h0M77.7 249.9h0M100.1 182.6h0M86.7 229.8h0M82.6 236.4h0M85.4 232.2h0M88.9 231.9h0M83.0 227.9h0M79.1 250.3h0M94.2 208.5h0M80.9 240.6h0M90.8 220.4h0M85.5 220.7h0M80.0 239.1h0M146.8 165.4h0M88.6 217.3h0M105.4 197.6h0M93.8 214.1h0M91.3 205.5h0M95.3 218.2h0M86.4 219.2h0M126.4 129.2h0M83.6 213.8h0M84.9 219.7h0M77.0 252.8h0M85.8 233.9h0M83.1 236.5h0M85.2 228.2h0M97.6 185.5h0M81.2 247.6h0M81.9 233.1h0M96.8 192.9h0M83.8 231.0h0M83.5 219.3h0M81.5 232.9h0M97.4 193.1h0M86.6 236.1h0M79.6 241.1h0M77.0 250.7h0M88.5 227.0h0M101.2 193.2h0M91.2 212.1h0M86.2 225.9h0M89.5 225.8h0M91.8 209.6h0M85.0 231.4h0M85.5 235.0h0M86.5 228.9h0M97.9 164.9h0M80.2 239.9h0M108.7 187.9h0M93.2 201.6h0M79.4 251.8h0M84.9 232.6h0M93.7 218.8h0M103.7 210.0h0M90.1 201.5h0M81.7 232.9h0M85.4 225.3h0M80.7 243.3h0M88.8 225.3h0M82.9 240.4h0M91.9 226.7h0M83.5 236.1h0M91.9 210.5h0M87.0 215.5h0M78.9 248.2h0M80.7 245.3h0M89.2 233.4h0M94.6 222.0h0M84.2 226.7h0M85.7 231.3h0M77.2 253.1h0M96.8 184.5h0M121.3 158.2h0M88.1 233.1h0M86.2 228.3h0M88.9 222.3h0M92.2 217.7h0M80.6 243.0h0M91.6 208.3h0M96.9 205.6h0M84.1 230.3h0M84.3 228.6h0M91.9 221.1h0M87.8 232.7h0M92.4 218.2h0M88.8 208.9h0M92.1 220.9h0M85.3 223.1h0M81.1 239.8h0M83.5 233.9h0M112.6 171.6h0M82.6 230.9h0M99.2 205.1h0M80.3 240.1h0M85.1 214.5h0M82.7 231.4h0M78.6 246.6h0M102.9 197.0h0M89.9 208.4h0M88.0 226.2h0M81.7 232.2h0M87.4 224.4h0M87.0 222.9h0M95.4 202.9h0M99.7 195.5h0M87.0 228.0h0M95.5 195.4h0M93.7 197.3h0M94.9 211.0h0M82.5 234.1h0M87.8 219.0h0M81.3 241.2h0M86.0 228.3h0M84.0 236.4h0" stroke="#174780" stroke-opacity="0.85" stroke-width="3.5" stroke-linecap="round" fill="none" clip-path="url(#ca)"/><path d="M81.0 241.9h0M82.9 232.1h0M80.2 241.2h0M87.9 224.6h0M98.1 207.3h0M95.7 219.9h0M85.9 234.6h0M83.9 235.0h0M77.7 243.8h0M79.8 243.9h0M85.9 226.9h0M87.4 214.8h0M87.5 215.6h0M81.5 234.1h0M93.8 193.1h0M80.2 239.3h0M81.4 230.6h0M88.6 220.2h0M81.7 237.1h0M111.8 175.1h0M84.0 220.8h0M92.9 210.7h0M90.1 219.3h0M85.8 229.4h0M82.4 237.0h0M90.0 230.2h0M92.8 203.8h0M84.9 223.3h0M83.4 231.3h0M85.8 226.1h0M80.2 237.6h0M89.3 225.5h0M86.0 233.0h0M102.3 185.8h0M97.3 200.5h0M88.2 220.1h0M80.0 248.2h0M80.0 243.4h0M84.1 238.5h0M82.6 232.2h0M80.3 241.2h0M85.1 240.2h0M81.0 241.5h0M79.8 243.5h0M80.6 248.7h0M89.9 205.6h0M81.6 239.9h0M92.0 219.5h0M81.1 243.8h0M93.7 216.2h0M92.6 200.9h0M80.4 243.4h0M81.1 246.3h0M79.8 244.1h0M84.2 231.8h0M84.1 222.4h0M94.7 218.0h0M82.3 226.6h0M94.2 206.7h0M83.0 235.9h0M95.1 181.7h0M80.9 235.6h0M86.6 226.3h0M109.1 171.7h0M83.4 221.6h0M90.1 222.2h0M82.1 240.3h0M82.2 235.5h0M82.5 235.1h0M87.8 237.8h0M78.9 243.0h0M96.9 207.9h0M84.4 237.4h0M90.3 195.5h0M87.5 224.0h0M83.3 229.3h0M91.3 213.6h0M91.4 183.1h0M82.2 230.6h0M86.9 219.1h0M79.5 245.8h0M84.4 231.0h0M80.3 240.4h0M86.3 232.1h0M94.5 210.4h0M80.1 243.7h0M89.0 211.9h0M80.8 246.5h0M87.8 225.6h0M94.4 204.3h0M97.6 186.6h0M82.7 237.9h0M85.2 231.6h0M82.1 234.5h0M98.6 173.4h0M77.2 250.3h0M82.7 238.0h0M88.2 230.4h0M84.4 222.9h0M87.2 218.6h0M87.0 211.5h0M113.1 159.3h0M90.0 222.7h0M79.0 247.7h0M83.5 230.7h0M87.2 230.1h0M88.9 226.4h0M90.8 216.0h0M86.1 232.1h0M88.5 216.3h0M83.2 232.6h0M82.0 235.1h0M110.0 165.4h0M86.9 217.6h0M85.7 229.5h0M78.4 250.6h0M99.2 204.9h0M97.8 210.5h0M83.0 235.5h0M79.8 246.3h0M85.5 223.6h0M85.2 229.8h0M84.1 234.7h0M81.2 234.1h0M82.1 238.7h0M84.8 231.2h0M84.0 229.5h0M86.0 234.7h0M89.7 209.8h0M85.5 218.2h0M111.9 164.1h0M96.7 208.1h0M90.3 223.4h0M89.6 227.8h0M85.2 227.8h0M93.1 224.4h0M82.2 233.6h0M87.9 227.2h0M88.8 217.8h0M80.9 250.2h0M80.8 243.0h0M99.0 201.0h0M80.9 243.2h0M79.7 246.0h0M92.4 221.3h0M88.9 227.4h0M80.1 237.7h0M83.2 231.3h0M95.3 215.2h0M93.4 216.4h0M89.3 203.7h0M78.6 250.0h0M80.6 234.9h0M81.1 238.1h0M84.0 227.3h0M78.5 247.6h0M91.0 223.4h0M81.8 241.8h0M86.7 229.6h0M78.7 246.3h0M92.8 215.9h0M91.5 227.3h0M91.3 202.6h0M83.7 223.4h0M92.8 211.0h0M81.6 236.4h0M84.3 233.7h0M91.6 220.3h0M80.5 237.4h0M130.5 143.9h0M84.7 230.6h0M78.2 252.6h0M83.8 235.1h0M78.5 246.9h0M85.9 225.4h0M88.1 214.5h0M93.2 213.3h0M86.1 232.5h0M84.1 229.5h0M84.7 229.2h0M84.2 233.4h0M84.5 239.2h0M88.7 227.4h0M98.4 194.7h0M87.7 219.4h0M85.7 221.0h0M86.3 213.3h0M87.6 210.5h0M87.7 229.9h0M83.6 234.8h0M80.1 237.4h0M90.9 230.7h0M100.5 208.7h0M89.2 227.0h0M84.2 223.0h0M83.5 236.0h0M87.3 232.2h0M124.3 149.0h0M82.7 236.9h0M82.5 242.4h0M77.3 245.0h0M97.2 205.8h0M93.9 192.5h0M100.6 192.3h0M77.0 245.8h0M85.8 231.8h0M80.7 239.6h0M84.7 224.3h0M101.8 173.8h0M81.3 234.9h0M82.1 239.7h0M87.2 235.1h0M80.2 245.2h0M93.7 225.2h0M89.3 213.2h0M107.8 167.6h0M80.7 233.4h0M86.0 229.4h0M85.3 213.2h0M88.9 223.3h0M82.0 238.9h0M109.1 168.2h0M82.0 243.6h0M80.5 239.6h0M89.8 221.3h0M80.1 243.5h0M83.1 233.0h0" stroke="#174780" stroke-opacity="0.85" stroke-width="3.5" stroke-linecap="round" fill="none" clip-path="url(#ca)"/><path d="M79.0 247.3h0M97.2 215.5h0M90.7 217.0h0M82.8 223.1h0M86.2 224.2h0M101.6 190.0h0M81.9 239.5h0M81.8 231.7h0M89.1 219.4h0M92.0 219.6h0M106.4 191.6h0M84.8 234.9h0M83.2 240.1h0M85.1 237.6h0M80.9 241.0h0M90.2 221.2h0M80.2 238.7h0M81.8 245.7h0M80.4 242.5h0M88.9 208.3h0M84.7 229.3h0M84.8 234.3h0M83.6 227.6h0M81.3 234.0h0M86.3 227.9h0M100.2 220.0h0M80.5 239.8h0M84.4 232.9h0M80.8 244.4h0M81.8 232.2h0M90.4 221.8h0M108.0 142.9h0M91.3 211.5h0M84.3 231.0h0M89.9 218.2h0M78.5 249.2h0M86.9 216.7h0M104.8 194.8h0M93.3 211.3h0M93.8 207.5h0M82.3 240.6h0M99.4 209.6h0M85.0 222.4h0M87.0 225.5h0M88.5 220.7h0M86.6 222.6h0M82.0 240.2h0M85.2 221.0h0M87.4 215.4h0M79.1 241.0h0M84.0 235.3h0M84.3 232.4h0M86.2 218.4h0M89.8 213.5h0M89.9 223.0h0M80.0 244.0h0M83.9 223.0h0M86.9 224.4h0M85.0 222.0h0M92.8 197.6h0M87.2 235.0h0M95.4 203.5h0M84.2 225.5h0M90.8 227.5h0M84.3 230.4h0M85.2 233.2h0M83.8 234.5h0M83.0 235.5h0M83.1 235.1h0M83.8 234.0h0M80.8 238.9h0M85.6 233.7h0M90.0 222.1h0M95.8 191.8h0M86.1 224.3h0M91.8 219.4h0M84.8 228.3h0M92.4 222.6h0M109.0 150.1h0M86.6 209.6h0M93.4 224.3h0M78.7 249.3h0M88.0 223.1h0M81.1 242.2h0M97.3 221.0h0M115.3 157.1h0M83.2 238.6h0M84.6 224.9h0M89.2 229.0h0M81.5 240.0h0M83.4 228.6h0M82.0 236.6h0M100.4 199.5h0M82.6 236.0h0M93.4 198.7h0M79.7 245.6h0M80.5 238.1h0M83.7 227.8h0M95.2 206.9h0M88.1 225.1h0M100.1 200.0h0M81.6 239.5h0M85.7 227.0h0M81.7 234.6h0M105.0 174.0h0M88.4 230.9h0M78.2 242.6h0M96.2 214.0h0M86.2 223.5h0M90.7 214.3h0M138.6 80.2h0M78.2 247.2h0M92.0 218.3h0M86.4 227.8h0M83.8 238.3h0M82.9 234.3h0M81.2 238.9h0M80.7 247.4h0M98.9 202.9h0M133.1 87.5h0M89.5 202.6h0M110.9 184.6h0M98.2 184.0h0M98.8 188.8h0M88.4 211.9h0M98.8 217.9h0M98.6 209.4h0M89.4 219.8h0M83.9 218.9h0M77.0 248.9h0M77.7 247.8h0M92.8 205.4h0M79.9 245.8h0M83.8 230.8h0M112.1 135.8h0M79.2 238.5h0M112.1 177.7h0M97.9 223.1h0M83.9 234.2h0M129.4 135.8h0M92.9 203.0h0M76.8 249.0h0M81.7 230.1h0M94.8 215.0h0M92.1 232.0h0M96.1 193.3h0M82.7 237.0h0M90.1 208.8h0M82.4 234.7h0M83.7 228.2h0M81.7 230.5h0M86.7 222.4h0M87.6 218.8h0M95.4 205.1h0M79.0 246.2h0M88.6 222.3h0M100.8 203.0h0M88.2 217.5h0M81.4 237.5h0M80.4 241.4h0M88.3 225.5h0M94.6 201.1h0M79.8 240.0h0M84.7 221.9h0M82.9 231.0h0M96.0 196.4h0M86.9 221.8h0M79.7 238.6h0M106.1 195.8h0M79.3 243.1h0M92.2 205.6h0M84.3 234.1h0M83.1 235.0h0M86.5 226.9h0M80.0 243.5h0M81.5 238.3h0M82.3 239.0h0M86.5 217.4h0M87.4 221.0h0M131.5 164.4h0M82.9 230.7h0M100.6 185.9h0M86.2 228.7h0M94.5 217.8h0M105.9 163.4h0M101.2 182.3h0M78.4 250.2h0M87.9 222.9h0M96.1 195.9h0M85.5 228.7h0M103.1 181.0h0M86.7 229.1h0M85.8 213.9h0M78.2 240.2h0M81.0 239.4h0M89.5 218.3h0M83.7 238.8h0M91.8 223.3h0M85.9 224.9h0M96.5 198.3h0M100.1 202.6h0M85.1 219.2h0M92.0 215.1h0M93.4 225.4h0M88.9 218.5h0M87.6 223.6h0M78.4 248.3h0M98.9 205.2h0M77.9 248.4h0M89.3 213.2h0M80.5 240.6h0M89.9 223.4h0M101.8 193.7h0M105.8 179.7h0M82.0 229.9h0M94.1 220.2h0M85.3 226.5h0M85.7 217.0h0M94.1 204.4h0M101.1 196.6h0M83.4 235.3h0M97.5 180.7h0M85.9 241.5h0M87.0 221.3h0M83.7 237.7h0M78.2 242.2h0M83.5 234.7h0" stroke="#174780" stroke-opacity="0.85" stroke-width="3.5" stroke-linecap="round" fill="none" clip-path="url(#ca)"/><path d="M83.0 233.5h0M85.4 226.0h0M81.2 238.6h0M91.7 217.7h0M100.3 211.4h0M77.1 253.7h0M81.8 235.5h0M81.3 238.9h0M115.1 163.4h0M81.5 234.9h0M84.6 237.4h0M124.5 136.4h0M84.7 225.3h0M84.9 233.2h0M83.6 231.7h0M93.0 225.5h0M87.0 222.3h0M79.5 241.5h0M85.9 232.5h0M81.7 239.8h0M82.0 236.8h0M82.2 239.7h0M88.5 220.3h0M90.0 227.1h0M83.0 233.1h0M84.6 230.8h0M80.9 239.5h0M87.7 220.9h0M96.9 202.0h0M89.4 212.2h0M78.2 250.9h0M81.2 233.9h0M90.6 219.3h0M84.6 228.7h0M91.5 220.0h0M82.3 236.7h0M99.6 192.0h0M88.1 198.9h0M76.8 250.7h0M83.7 233.9h0M79.1 246.2h0M79.5 242.2h0M76.7 251.8h0M86.2 221.1h0M91.1 198.9h0M79.1 246.8h0M91.2 219.2h0M82.7 242.1h0M96.7 194.4h0M83.0 224.0h0M77.8 249.4h0M79.7 243.4h0M80.8 242.5h0M90.7 222.1h0M102.4 188.0h0M83.0 225.8h0M81.5 238.9h0M81.5 235.7h0M83.8 233.5h0M84.8 226.9h0M78.9 241.7h0M89.7 195.2h0M87.8 228.6h0M78.6 249.2h0M93.6 197.9h0M81.6 242.1h0M89.7 214.4h0M89.3 206.0h0M83.3 228.4h0M95.0 205.1h0M82.7 237.3h0M96.2 208.8h0M87.8 228.7h0M79.5 243.9h0M77.1 250.4h0M85.5 233.0h0M99.5 216.6h0M82.5 231.2h0M92.3 219.3h0M85.8 229.4h0M83.4 226.4h0M90.3 216.3h0M79.8 246.8h0M85.7 233.6h0M85.6 228.7h0M93.9 204.7h0M94.7 156.2h0M90.3 222.5h0M80.4 242.9h0M83.5 238.6h0M92.3 214.8h0M79.4 243.0h0M82.1 240.0h0M87.7 221.4h0M79.5 241.9h0M82.0 243.3h0M87.1 232.8h0M83.5 230.5h0M141.7 85.1h0M88.4 212.5h0M91.2 228.4h0M78.3 244.7h0M111.4 152.5h0M81.8 244.5h0M92.3 216.6h0M89.7 212.2h0M87.6 225.4h0M85.8 236.6h0M80.0 241.3h0M94.4 203.8h0M95.6 200.1h0M77.4 253.7h0M89.1 223.3h0M82.9 237.7h0M95.5 201.6h0M77.4 251.0h0M84.6 230.3h0M80.0 234.4h0M77.2 251.1h0M83.5 235.3h0M82.4 227.6h0M89.7 198.3h0M91.7 213.7h0M86.5 231.3h0M84.8 239.0h0M83.2 231.1h0M80.0 237.9h0M84.9 236.1h0M80.3 233.5h0M86.3 232.1h0M82.1 235.3h0M83.2 242.0h0M89.5 218.5h0M93.9 221.4h0M93.6 217.4h0M81.4 235.4h0M101.9 161.3h0M87.2 226.3h0M95.8 210.0h0M92.1 191.5h0M81.1 236.9h0M96.8 194.5h0M100.2 211.1h0M85.8 228.9h0M92.0 198.7h0M110.4 126.2h0M83.5 229.6h0M84.8 236.5h0M108.7 212.1h0M79.6 239.3h0M90.5 231.1h0M107.8 170.8h0M98.1 210.7h0M83.7 233.8h0M95.7 213.0h0M85.6 236.8h0M94.2 216.0h0M99.3 183.3h0M84.2 232.7h0M91.5 219.9h0M113.4 172.5h0M84.4 234.8h0M89.5 219.3h0M88.8 217.9h0M90.8 223.1h0M84.3 235.2h0M89.1 226.7h0M89.5 222.3h0M87.7 223.9h0M102.8 205.0h0M91.7 206.7h0M87.0 223.0h0M96.3 198.5h0M78.0 241.3h0M85.7 228.1h0M82.4 238.2h0M90.1 220.8h0M86.5 205.9h0M88.1 226.5h0M85.5 230.1h0M87.2 224.3h0M78.3 249.2h0M86.6 235.5h0M79.2 248.1h0M83.8 233.0h0M100.5 184.0h0M92.5 216.9h0M79.8 241.2h0M84.0 241.5h0M95.0 226.5h0M80.1 249.8h0M77.3 248.2h0M100.2 211.2h0M87.0 229.7h0M101.0 197.3h0M98.7 210.6h0M83.3 230.0h0M88.8 228.2h0M103.5 195.9h0M138.0 103.1h0M84.6 231.1h0M84.6 229.5h0M96.4 206.7h0M83.4 237.0h0M88.6 211.0h0M98.3 190.8h0M82.5 236.0h0M81.0 245.1h0M87.3 225.0h0M104.0 187.3h0M77.8 248.4h0M83.5 231.3h0M84.4 231.6h0M113.3 168.9h0M89.4 222.5h0M95.0 205.2h0M85.0 222.1h0M83.4 241.8h0M82.8 231.0h0M79.6 247.8h0M89.3 229.9h0M79.4 244.7h0M83.7 240.2h0M87.6 221.9h0M83.2 235.6h0M87.0 238.6h0M85.0 232.6h0" stroke="#174780" stroke-opacity="0.85" stroke-width="3.5" stroke-linecap="round" fill="none" clip-path="url(#ca)"/><path d="M96.4 211.5h0M90.5 218.6h0M82.9 223.9h0M81.0 234.4h0M89.7 213.2h0M85.2 228.7h0M82.8 235.7h0M82.4 244.6h0M80.0 244.7h0M87.9 228.0h0M79.6 246.2h0M85.0 232.8h0M85.2 231.8h0M85.0 231.2h0M83.9 237.5h0M90.7 224.4h0M82.2 228.2h0M89.9 218.3h0M85.0 230.3h0M92.5 194.9h0M88.7 229.8h0M79.9 244.8h0M87.4 226.1h0M79.7 238.6h0M81.6 235.7h0M80.0 232.3h0M84.8 225.5h0M133.5 124.5h0M85.5 222.6h0M96.3 199.7h0M80.2 241.5h0M84.2 229.8h0M81.9 233.3h0M86.3 234.0h0M100.1 176.1h0M93.4 219.7h0M81.6 239.8h0M86.7 230.9h0M82.8 232.2h0M85.6 225.3h0M79.2 245.7h0M85.6 225.8h0M98.4 209.6h0M86.4 231.8h0M85.0 234.7h0M106.6 178.6h0M88.6 216.8h0M85.4 230.3h0M81.3 243.9h0M77.7 246.8h0M92.3 214.3h0M85.4 234.3h0M79.0 243.0h0M86.2 231.9h0M87.4 225.7h0M115.1 148.0h0M87.7 220.0h0M85.1 229.1h0M85.7 223.9h0M83.9 236.7h0M78.2 245.2h0M137.7 30.2h0M85.4 223.5h0M82.6 233.8h0M81.6 241.8h0M83.6 237.8h0M87.9 232.9h0M95.0 204.4h0M107.7 178.0h0M84.7 231.7h0M88.4 226.2h0M89.7 208.7h0M81.7 233.2h0M78.3 246.0h0M81.4 236.0h0M84.9 222.6h0M84.2 228.2h0M83.4 230.5h0M93.3 203.4h0M87.6 228.5h0M96.3 207.0h0M87.0 230.1h0M108.6 198.2h0M84.9 223.8h0M90.3 207.7h0M83.6 223.6h0M90.3 207.4h0M85.5 243.4h0M83.7 230.1h0M79.5 241.6h0M89.2 226.3h0M82.7 239.8h0M82.6 237.3h0M80.9 238.3h0M125.8 148.5h0M82.4 225.3h0M80.1 241.2h0M87.1 220.2h0M86.6 238.4h0M78.7 243.3h0M86.4 215.0h0M103.1 203.0h0M91.7 203.3h0M84.1 231.5h0M77.7 250.0h0M83.7 226.5h0M76.7 249.7h0M88.7 213.6h0M80.2 243.4h0M87.0 227.8h0M90.2 225.5h0M87.0 231.8h0M90.8 210.0h0M86.1 223.7h0M81.4 240.8h0M88.8 222.8h0M82.4 234.7h0M78.5 248.8h0M93.2 225.4h0M92.6 200.3h0M92.9 214.7h0M80.6 240.9h0M88.6 217.4h0M88.5 229.5h0M80.5 246.8h0M77.6 246.8h0M85.4 235.1h0M84.4 236.8h0M91.2 225.0h0M108.0 180.1h0M87.6 218.1h0M84.5 231.9h0M84.3 242.7h0M84.3 242.4h0M78.7 245.4h0M94.9 190.6h0M86.1 230.8h0M85.9 232.1h0M103.3 197.5h0M96.7 186.8h0M85.7 217.3h0M87.0 223.4h0M94.5 214.9h0M78.0 244.3h0M87.1 213.0h0M76.5 254.4h0M90.1 224.3h0M85.1 225.5h0M86.5 226.5h0M86.7 237.1h0M79.5 241.5h0M83.3 237.8h0M82.8 238.7h0M93.3 208.1h0M84.3 233.4h0M90.8 224.9h0M78.3 246.9h0M77.2 248.5h0M111.1 172.0h0M88.8 216.2h0M88.0 203.4h0M79.6 245.1h0M92.0 221.3h0M77.8 250.9h0M100.5 192.8h0M86.3 219.3h0M75.2 253.6h0M82.2 239.2h0M85.5 232.3h0M82.4 235.6h0M85.5 224.0h0M91.2 217.0h0M81.8 232.7h0M88.8 230.9h0M87.2 231.4h0M91.1 219.1h0M94.7 191.8h0M100.4 186.1h0M97.8 206.0h0M84.8 237.3h0M96.7 189.7h0M83.5 236.4h0M86.1 220.4h0M87.6 235.6h0M85.7 226.2h0M89.1 232.6h0M91.3 212.8h0M79.6 241.1h0M84.8 220.8h0M79.1 248.4h0M82.0 230.3h0M86.1 226.6h0M99.6 202.5h0M78.6 248.5h0M93.9 211.7h0M94.3 204.2h0M82.4 232.1h0M77.0 244.1h0M92.6 217.0h0M99.1 216.0h0M79.1 249.5h0M90.7 221.2h0M95.3 198.4h0M82.8 234.8h0M92.7 224.3h0M97.0 197.5h0M83.5 241.4h0M80.3 248.4h0M77.9 250.6h0M88.7 221.1h0M82.2 227.9h0M80.9 237.1h0M84.7 223.2h0M85.8 226.9h0M94.9 203.9h0M87.3 234.3h0M91.9 217.0h0M88.3 213.6h0M84.5 229.2h0M90.6 218.1h0M89.4 225.4h0M94.4 195.8h0M83.1 230.9h0M97.5 194.0h0M80.9 233.9h0M98.0 218.6h0M142.7 103.7h0" stroke="#174780" stroke-opacity="0.85" stroke-width="3.5" stroke-linecap="round" fill="none" clip-path="url(#ca)"/><path d="M85.1 232.5h0M86.2 232.0h0M81.8 201.2h0" stroke="#d15200" stroke-opacity="0.42" stroke-width="3.5" stroke-linecap="round" fill="none" clip-path="url(#ca)"/><path d="M96.8 232.1h0M83.8 233.9h0M80.8 244.2h0M79.4 238.5h0M117.7 240.4h0M91.3 238.1h0M102.4 230.9h0M81.3 233.1h0M87.0 232.5h0M83.3 218.9h0M80.6 239.1h0M82.6 238.4h0M85.2 228.2h0M83.0 237.3h0M83.8 227.8h0M82.1 240.9h0M86.5 233.2h0M83.0 238.6h0M79.8 239.5h0M93.4 229.9h0M88.5 223.9h0M156.4 240.9h0M83.4 239.3h0M88.5 227.5h0M78.5 239.9h0M143.3 205.9h0M81.7 196.3h0M85.8 238.2h0M154.7 230.4h0M83.3 236.2h0M82.0 215.9h0M94.4 225.1h0M96.3 215.3h0M72.7 228.3h0M106.4 207.0h0M81.9 237.6h0M85.5 238.3h0M82.7 236.4h0M75.2 227.1h0M81.6 242.9h0M94.4 207.5h0M89.5 234.5h0M88.5 229.5h0M85.8 239.8h0M93.9 228.4h0M89.4 226.5h0M87.6 228.3h0M117.8 223.0h0M84.1 232.7h0M83.9 220.8h0M82.6 228.8h0M86.3 232.1h0M77.1 237.3h0M81.7 221.0h0M92.0 212.7h0M106.9 241.8h0M141.5 242.0h0M81.7 237.8h0M84.6 221.2h0M84.9 231.7h0M93.5 215.2h0M80.0 223.9h0M85.9 224.2h0M228.5 230.0h0M80.5 246.8h0M88.0 231.0h0M74.2 235.9h0M80.7 244.8h0M102.6 226.1h0M82.2 236.0h0M78.9 226.7h0M80.3 243.7h0M78.9 240.1h0M112.4 232.2h0M82.4 234.5h0M94.6 239.2h0M84.5 226.4h0M100.6 222.0h0M89.1 218.7h0M93.5 217.2h0M85.1 225.1h0M94.1 219.6h0M95.2 229.9h0M84.5 227.3h0M115.2 220.5h0M85.2 230.9h0M78.3 241.4h0M82.2 232.2h0M103.9 221.8h0M85.2 230.3h0M80.5 236.9h0M89.6 228.4h0M82.7 229.5h0M83.0 236.4h0M84.3 231.6h0M80.5 231.2h0M85.2 229.7h0M79.0 238.6h0M88.0 229.3h0M88.7 210.1h0M84.0 235.2h0M242.0 225.3h0M76.9 238.2h0M80.6 237.7h0M81.9 242.4h0M80.7 244.5h0M86.2 224.3h0M87.4 231.5h0M90.9 233.8h0M79.5 227.0h0M89.5 236.1h0M106.1 225.3h0M83.3 234.6h0M97.7 222.0h0M78.7 241.8h0M80.6 229.7h0M83.3 238.1h0M78.3 224.0h0M87.2 223.8h0M86.9 205.9h0M94.8 230.9h0M80.1 246.5h0M81.7 231.1h0M81.6 232.0h0M82.7 237.2h0M101.5 208.7h0M83.7 235.5h0M78.9 239.6h0M87.6 229.3h0M88.3 219.2h0M82.3 225.6h0M88.8 215.9h0M95.1 209.1h0M79.3 233.7h0M280.7 238.3h0M82.0 242.9h0M78.4 243.5h0M88.4 227.0h0M84.6 233.4h0M97.6 219.1h0M86.9 239.6h0M89.3 233.4h0M82.5 236.4h0M83.6 234.0h0M83.0 236.4h0M85.7 232.4h0M82.9 229.3h0M84.3 224.3h0M106.8 210.5h0M85.7 215.2h0M82.3 227.0h0M78.8 246.1h0M79.5 236.1h0M88.7 220.3h0M86.3 228.5h0M115.3 208.3h0M78.9 238.5h0M74.1 212.7h0M83.3 214.8h0M79.2 241.5h0M84.3 236.8h0M78.7 225.1h0M81.4 246.8h0M95.9 217.8h0M82.1 238.6h0M89.2 222.5h0M77.0 249.3h0M88.0 230.3h0M87.6 218.9h0M89.3 226.0h0M85.6 224.0h0M109.7 234.6h0M102.5 219.1h0M83.4 230.5h0M85.7 238.8h0M87.9 231.0h0M76.8 212.3h0M82.5 240.9h0M85.3 228.5h0M73.1 250.3h0M83.7 222.0h0M78.8 223.5h0M85.8 233.4h0M85.2 229.9h0M79.4 235.3h0M82.9 224.9h0M99.5 220.0h0M83.2 235.4h0M86.2 227.5h0M87.6 216.9h0M83.2 232.3h0M80.6 235.5h0M84.4 239.5h0M86.6 215.7h0M77.6 221.0h0M85.4 226.2h0M81.4 236.6h0M95.1 223.9h0M99.6 224.4h0M82.7 210.8h0M91.9 228.8h0M84.6 238.0h0M72.5 230.7h0M82.9 239.8h0M81.9 243.5h0M109.0 215.5h0M87.5 228.6h0M82.4 231.1h0M79.8 244.6h0M83.5 221.6h0M84.9 235.4h0M81.1 235.5h0M101.1 230.0h0M77.9 238.9h0M90.2 226.6h0M121.5 221.4h0M118.8 240.9h0M85.7 222.1h0M84.6 239.1h0M80.1 241.6h0M88.9 222.6h0M86.5 217.4h0M89.8 230.2h0M84.6 239.1h0M101.4 204.8h0M95.2 231.5h0M78.7 246.2h0M82.7 239.2h0M83.3 223.3h0M87.0 223.6h0" stroke="#d15200" stroke-opacity="0.8" stroke-width="3.5" stroke-linecap="round" fill="none" clip-path="url(#ca)"/><path d="M82.6 233.3h0M93.4 227.9h0M84.3 230.6h0M74.6 228.1h0" stroke="#d15200" stroke-opacity="0.42" stroke-width="3.5" stroke-linecap="round" fill="none" clip-path="url(#ca)"/><path d="M91.7 224.4h0M76.3 240.7h0M84.5 223.7h0M81.1 237.2h0M78.5 234.1h0M83.5 235.9h0M89.0 228.5h0M96.6 220.1h0M91.0 237.3h0M195.8 235.3h0M76.7 251.7h0M84.1 240.5h0M83.1 225.2h0M84.3 231.9h0M85.4 233.9h0M87.1 235.6h0M73.7 229.8h0M242.5 235.8h0M93.3 222.4h0M94.5 227.2h0M327.1 230.9h0M84.4 226.6h0M87.5 236.7h0M87.0 216.8h0M87.4 205.7h0M103.9 244.6h0M85.0 240.4h0M87.8 221.2h0M83.4 213.3h0M82.2 241.0h0M80.8 239.2h0M104.5 225.2h0M83.5 226.0h0M108.1 201.6h0M83.5 235.6h0M84.5 238.7h0M86.0 226.3h0M80.9 234.4h0M87.2 225.9h0M88.0 226.8h0M87.1 228.3h0M90.9 225.8h0M83.5 226.3h0M85.1 237.3h0M80.4 242.7h0M116.6 238.8h0M87.7 231.4h0M84.7 212.3h0M82.7 243.9h0M85.7 219.3h0M87.5 238.9h0M78.8 246.3h0M105.2 244.0h0M99.3 237.6h0M83.0 239.5h0M83.4 233.8h0M91.2 230.0h0M330.6 232.3h0M90.5 205.5h0M105.4 221.8h0M80.8 221.1h0M84.8 242.2h0M85.8 235.2h0M88.5 231.4h0M86.0 237.5h0M90.7 233.3h0M96.7 223.8h0M90.0 233.3h0M97.6 236.4h0M83.1 240.8h0M81.4 234.3h0M87.7 231.7h0M99.8 233.6h0M88.8 219.8h0M95.8 229.5h0M83.0 235.9h0M102.8 200.5h0M94.5 223.1h0M90.7 238.6h0M92.9 230.4h0M85.6 222.3h0M107.7 226.3h0M85.2 233.4h0M92.1 220.7h0M278.1 228.3h0M79.4 212.8h0M88.5 222.1h0M90.0 232.7h0M111.8 236.2h0M86.8 220.9h0M82.8 234.1h0M90.4 213.4h0M274.0 229.4h0M85.7 229.0h0M83.7 239.4h0M82.1 233.0h0M83.4 236.4h0M84.8 225.7h0M79.4 231.3h0M82.5 235.4h0M151.2 237.9h0M107.5 220.4h0M79.9 241.2h0M80.8 223.2h0M83.6 241.4h0M85.6 233.3h0M88.7 241.7h0M88.9 228.2h0M83.6 233.5h0M73.3 239.8h0M78.5 247.2h0M84.8 237.0h0M87.3 216.6h0M81.2 234.9h0M214.2 230.1h0M91.3 222.4h0M82.9 231.3h0M97.2 222.4h0M88.5 222.7h0M86.4 228.3h0M85.5 224.5h0M82.8 233.1h0M91.5 228.9h0M80.0 243.9h0M84.1 233.9h0M80.5 238.5h0M90.7 217.6h0M102.6 231.7h0M84.0 229.3h0M86.8 240.6h0M77.0 233.4h0M83.8 228.9h0M79.3 238.3h0M84.6 231.5h0M84.9 221.7h0M85.2 236.8h0M93.4 236.3h0M108.0 222.7h0M84.9 222.3h0M82.6 221.3h0M78.5 247.8h0M110.9 228.6h0M83.7 234.4h0M83.6 228.4h0M85.9 234.6h0M74.6 205.1h0M78.5 234.2h0M80.0 236.2h0M208.6 210.4h0M105.0 218.4h0M82.8 244.0h0M84.0 230.9h0M86.5 238.6h0M86.7 231.8h0M80.9 239.3h0M91.2 233.3h0M81.9 235.1h0M94.8 229.1h0M79.7 242.0h0M83.1 228.4h0M79.8 232.9h0M84.7 224.6h0M103.2 239.2h0M88.8 217.8h0M84.3 219.4h0M81.8 232.6h0M73.3 224.4h0M83.0 238.4h0M92.4 223.5h0M88.7 229.7h0M85.4 235.3h0M123.1 237.9h0M80.7 233.7h0M81.6 239.0h0M80.9 242.5h0M83.7 222.9h0M81.0 234.7h0M81.6 229.1h0M87.8 225.2h0M89.1 230.1h0M80.8 236.3h0M94.5 230.8h0M83.2 234.3h0M85.1 226.3h0M77.0 199.9h0M91.0 232.1h0M96.5 232.0h0M91.9 220.7h0M131.0 224.8h0M85.1 226.9h0M87.0 233.4h0M87.3 232.8h0M87.0 230.6h0M84.5 238.6h0M99.9 211.0h0M86.5 231.8h0M84.0 238.6h0M78.2 244.6h0M83.6 236.2h0M81.4 244.1h0M92.8 226.7h0M78.4 241.8h0M83.2 229.5h0M92.6 227.3h0M80.3 235.0h0M81.0 223.8h0M116.1 232.6h0M88.5 228.4h0M88.6 222.2h0M97.9 218.9h0M80.5 233.2h0M82.1 228.7h0M80.4 233.9h0M85.3 241.1h0M84.5 233.3h0M84.0 226.7h0M77.3 245.4h0M84.4 235.2h0M88.0 228.4h0M87.1 234.2h0M80.3 222.7h0M88.7 225.9h0M76.9 248.8h0M85.7 216.7h0M80.2 246.4h0M81.9 234.9h0M121.9 211.1h0M83.4 236.0h0M85.6 213.9h0" stroke="#d15200" stroke-opacity="0.8" stroke-width="3.5" stroke-linecap="round" fill="none" clip-path="url(#ca)"/><path d="M86.1 232.2h0M80.7 237.7h0M79.4 243.0h0M74.2 195.9h0M99.6 218.1h0M80.3 239.3h0M88.9 221.5h0M83.8 225.7h0" stroke="#d15200" stroke-opacity="0.42" stroke-width="3.5" stroke-linecap="round" fill="none" clip-path="url(#ca)"/><path d="M84.3 233.9h0M78.5 238.9h0M107.4 215.3h0M83.4 228.1h0M76.8 248.8h0M89.4 217.0h0M79.6 251.2h0M84.5 231.1h0M73.3 239.8h0M91.1 225.5h0M199.3 242.3h0M78.8 242.4h0M81.3 243.8h0M84.7 235.6h0M100.8 233.2h0M80.4 239.0h0M162.5 240.6h0M87.2 215.9h0M83.7 219.9h0M107.9 202.3h0M87.8 228.8h0M82.7 215.8h0M83.9 198.8h0M78.2 249.2h0M75.7 253.2h0M80.1 244.9h0M84.7 224.7h0M87.6 221.2h0M82.0 235.6h0M76.5 230.2h0M86.7 232.6h0M86.6 218.0h0M89.3 234.6h0M82.3 237.1h0M88.2 236.2h0M85.1 230.9h0M87.9 233.0h0M87.8 237.7h0M81.3 229.6h0M87.8 225.2h0M80.4 238.3h0M91.2 237.8h0M102.1 211.9h0M96.5 229.5h0M86.3 229.6h0M94.9 223.1h0M106.1 235.9h0M273.2 235.0h0M97.8 226.7h0M83.1 229.6h0M82.1 240.4h0M77.2 252.6h0M86.2 209.6h0M95.1 215.1h0M136.3 207.6h0M80.9 224.3h0M86.3 235.5h0M86.7 227.1h0M86.4 230.1h0M83.9 236.9h0M98.0 216.9h0M82.6 234.3h0M82.4 221.8h0M190.2 245.5h0M91.3 222.7h0M86.8 237.1h0M85.6 239.8h0M84.3 220.7h0M87.0 229.6h0M80.2 245.1h0M81.2 233.6h0M80.3 231.7h0M99.0 238.3h0M86.0 224.3h0M85.4 234.8h0M82.4 246.0h0M85.6 234.8h0M88.1 234.3h0M83.0 238.8h0M92.7 227.9h0M85.2 234.6h0M81.9 244.7h0M81.7 236.7h0M82.2 234.4h0M85.5 234.2h0M82.3 240.0h0M87.6 228.0h0M83.1 235.3h0M105.7 228.8h0M79.2 235.6h0M80.1 237.5h0M79.6 240.7h0M73.4 241.0h0M77.9 239.8h0M111.2 202.0h0M81.2 232.6h0M89.2 226.9h0M84.4 231.8h0M81.2 241.3h0M85.7 228.5h0M79.3 234.5h0M85.6 231.9h0M118.3 241.3h0M79.2 246.2h0M90.7 229.4h0M80.6 234.0h0M82.9 233.8h0M84.2 243.8h0M83.3 240.2h0M80.4 242.2h0M83.9 236.1h0M103.3 206.9h0M82.8 231.0h0M84.2 235.9h0M73.7 227.5h0M80.5 240.1h0M83.3 233.1h0M82.6 237.7h0M84.1 223.0h0M85.5 239.2h0M87.5 222.9h0M81.2 238.7h0M85.9 229.3h0M87.6 225.3h0M90.4 223.9h0M94.1 234.4h0M84.4 240.7h0M82.3 242.5h0M115.3 238.5h0M93.7 237.6h0M89.6 227.4h0M87.1 223.0h0M81.3 236.9h0M82.4 224.0h0M79.2 234.8h0M131.9 217.8h0M85.1 236.4h0M81.8 236.3h0M99.4 202.9h0M81.0 238.6h0M91.6 230.7h0M78.3 213.6h0M87.5 229.3h0M90.1 237.8h0M85.2 230.4h0M85.8 228.4h0M85.2 235.8h0M90.8 235.7h0M96.3 215.9h0M90.4 240.1h0M79.9 240.4h0M83.7 233.6h0M88.5 221.8h0M78.9 244.3h0M82.1 234.3h0M82.7 222.4h0M88.4 219.6h0M85.8 235.9h0M107.8 239.6h0M105.9 226.2h0M85.4 232.4h0M98.7 236.4h0M79.6 238.0h0M87.2 229.0h0M105.0 230.8h0M118.6 241.1h0M83.6 237.7h0M118.0 221.8h0M83.0 240.4h0M234.6 235.0h0M89.8 228.5h0M92.0 220.9h0M85.8 235.1h0M81.0 217.7h0M89.9 217.7h0M81.4 234.0h0M92.7 229.6h0M206.3 234.4h0M80.4 243.4h0M90.6 222.7h0M80.9 239.2h0M74.8 242.9h0M93.2 234.4h0M87.5 235.7h0M89.5 223.8h0M84.6 237.6h0M113.9 234.3h0M83.9 236.4h0M80.8 238.5h0M85.8 231.3h0M86.0 235.9h0M86.3 224.1h0M72.7 233.4h0M80.6 198.5h0M81.5 242.2h0M82.2 237.3h0M90.6 228.2h0M87.8 219.5h0M88.7 230.5h0M90.3 229.0h0M87.0 220.6h0M89.9 200.7h0M77.8 245.4h0M106.1 205.2h0M99.6 206.9h0M79.5 248.4h0M92.7 237.1h0M83.4 214.2h0M89.0 223.1h0M86.8 217.5h0M81.1 231.7h0M135.4 226.2h0M84.5 229.8h0M81.8 225.8h0M83.5 231.6h0M85.5 229.6h0M87.2 223.6h0M84.0 238.5h0M93.8 227.1h0M89.2 234.7h0M106.4 228.8h0M121.0 230.4h0M83.2 240.9h0M83.2 239.6h0M83.3 236.9h0" stroke="#d15200" stroke-opacity="0.8" stroke-width="3.5" stroke-linecap="round" fill="none" clip-path="url(#ca)"/><path d="M79.6 245.3h0M73.2 241.3h0M85.0 228.3h0M84.6 242.0h0M81.8 243.6h0" stroke="#d15200" stroke-opacity="0.42" stroke-width="3.5" stroke-linecap="round" fill="none" clip-path="url(#ca)"/><path d="M84.6 236.2h0M187.1 234.4h0M94.0 209.6h0M80.8 239.9h0M83.4 231.6h0M88.2 218.0h0M85.1 234.4h0M82.3 237.8h0M94.5 217.4h0M77.4 246.5h0M83.3 221.3h0M82.7 233.7h0M88.1 232.8h0M77.3 234.1h0M93.2 208.9h0M76.7 248.7h0M84.2 227.9h0M83.9 232.3h0M88.6 221.9h0M85.2 233.4h0M80.6 240.2h0M95.9 239.1h0M83.6 233.1h0M83.9 234.7h0M83.7 231.1h0M83.7 228.3h0M95.0 215.0h0M79.2 241.7h0M81.1 216.8h0M87.4 237.0h0M113.8 230.7h0M79.3 234.7h0M77.5 227.2h0M89.4 224.3h0M108.2 232.7h0M82.1 244.3h0M82.1 230.9h0M83.8 212.7h0M82.8 238.8h0M83.7 226.2h0M94.4 221.0h0M91.3 225.2h0M101.6 220.6h0M86.3 223.6h0M85.5 227.7h0M82.3 243.3h0M78.8 242.2h0M96.2 225.0h0M84.1 228.7h0M80.5 235.2h0M123.1 230.1h0M81.6 224.6h0M115.0 234.3h0M86.4 220.6h0M110.3 221.0h0M91.5 219.2h0M80.5 233.3h0M123.7 229.1h0M89.2 228.8h0M85.6 236.5h0M82.2 233.0h0M97.5 227.9h0M82.1 239.9h0M80.8 243.5h0M86.6 225.0h0M77.2 211.0h0M186.2 228.7h0M86.4 224.1h0M87.2 230.3h0M91.9 218.9h0M82.2 230.8h0M82.7 243.3h0M86.5 230.0h0M81.6 241.1h0M75.6 253.7h0M84.9 233.9h0M82.8 225.7h0M80.5 242.5h0M85.1 224.7h0M78.6 249.3h0M106.4 216.7h0M85.6 215.9h0M87.4 229.1h0M94.5 237.1h0M88.0 237.4h0M87.3 225.5h0M78.0 245.8h0M85.0 233.4h0M89.4 214.0h0M82.8 236.7h0M85.6 232.7h0M77.6 234.8h0M96.9 217.5h0M91.6 215.7h0M83.5 234.8h0M101.6 211.2h0M84.7 226.6h0M91.1 228.6h0M91.4 228.8h0M91.4 225.0h0M89.6 227.5h0M87.7 226.3h0M87.0 238.8h0M88.6 223.1h0M80.2 238.0h0M76.4 225.0h0M87.2 228.1h0M95.3 227.6h0M80.9 232.8h0M87.4 235.6h0M101.1 223.9h0M87.8 224.4h0M104.3 212.0h0M92.8 224.5h0M81.0 232.7h0M91.0 217.3h0M80.9 233.0h0M83.6 236.9h0M78.5 247.1h0M80.0 239.4h0M86.4 229.1h0M79.3 223.0h0M80.7 241.5h0M84.1 223.1h0M82.2 213.8h0M108.6 212.7h0M89.7 218.9h0M99.0 215.4h0M83.3 226.7h0M82.7 238.6h0M89.5 223.0h0M81.8 240.4h0M85.6 230.7h0M81.3 245.5h0M73.9 222.8h0M199.3 235.7h0M131.0 208.2h0M81.0 238.5h0M100.1 220.3h0M81.7 237.9h0M74.3 224.9h0M182.2 246.2h0M93.5 227.5h0M79.1 237.9h0M82.8 221.1h0M83.6 225.4h0M84.7 232.4h0M79.1 237.6h0M98.4 221.9h0M91.5 230.8h0M107.3 216.0h0M85.2 209.8h0M82.5 235.3h0M86.8 234.3h0M76.7 225.7h0M88.1 226.7h0M80.8 222.7h0M80.0 227.7h0M85.6 225.5h0M85.0 236.2h0M86.5 228.4h0M84.5 243.5h0M79.6 213.2h0M80.1 239.7h0M80.1 237.9h0M86.3 236.4h0M86.1 234.6h0M164.3 240.9h0M88.2 214.8h0M78.3 237.1h0M90.3 225.1h0M116.4 219.9h0M79.5 241.8h0M85.2 229.4h0M114.0 228.5h0M86.7 231.7h0M99.2 228.1h0M99.7 215.1h0M73.4 239.5h0M81.0 241.6h0M82.3 241.9h0M89.0 227.4h0M87.8 231.2h0M81.8 238.9h0M79.3 231.8h0M92.2 217.2h0M74.9 250.9h0M95.8 225.0h0M98.9 230.5h0M81.5 233.7h0M81.3 235.1h0M79.8 241.0h0M91.9 225.2h0M79.2 233.5h0M78.7 235.9h0M85.8 232.5h0M108.3 222.7h0M83.2 236.8h0M85.4 234.0h0M86.6 222.3h0M84.6 222.0h0M85.7 219.7h0M84.6 223.3h0M76.8 236.5h0M88.5 228.9h0M95.5 224.0h0M77.3 244.7h0M80.8 233.9h0M87.9 211.5h0M81.5 232.7h0M84.0 232.6h0M79.1 244.4h0M72.9 222.4h0M96.9 232.6h0M85.1 236.7h0M75.9 245.8h0M89.3 237.5h0M80.2 224.0h0M82.4 242.1h0M84.2 232.1h0M82.6 232.8h0M80.7 236.0h0M105.2 211.9h0M85.2 230.8h0M93.0 212.0h0M78.2 228.4h0M79.4 237.0h0M92.8 237.3h0" stroke="#d15200" stroke-opacity="0.8" stroke-width="3.5" stroke-linecap="round" fill="none" clip-path="url(#ca)"/><path d="M100.6 233.4h0M83.2 239.8h0M75.2 229.8h0M86.3 232.8h0M85.1 220.7h0M104.6 213.4h0M84.2 232.7h0M108.4 216.6h0" stroke="#d15200" stroke-opacity="0.42" stroke-width="3.5" stroke-linecap="round" fill="none" clip-path="url(#ca)"/><path d="M81.1 229.6h0M85.1 238.1h0M88.5 225.9h0M84.7 221.2h0M82.7 231.5h0M84.1 229.9h0M83.1 220.3h0M80.8 241.0h0M82.9 237.0h0M88.4 226.8h0M80.2 247.0h0M72.7 241.5h0M88.8 219.2h0M79.9 224.1h0M81.1 235.8h0M81.4 236.4h0M86.7 227.7h0M94.1 232.5h0M80.8 243.1h0M86.1 222.4h0M80.7 211.3h0M94.2 214.1h0M110.6 213.3h0M88.4 223.9h0M95.3 235.1h0M92.9 223.0h0M97.1 230.4h0M82.4 237.4h0M102.1 206.5h0M85.5 232.1h0M85.7 227.4h0M84.8 224.9h0M85.1 235.5h0M82.5 227.9h0M93.6 225.0h0M73.5 243.6h0M86.5 221.9h0M86.4 236.8h0M84.1 225.3h0M82.0 238.7h0M164.3 230.4h0M82.2 241.2h0M101.6 214.3h0M79.5 239.5h0M80.5 219.2h0M100.5 224.6h0M77.4 229.5h0M90.5 209.3h0M91.3 223.1h0M101.5 237.5h0M81.6 220.3h0M81.9 234.4h0M136.3 228.3h0M229.4 244.1h0M81.5 222.5h0M170.4 225.7h0M83.4 239.5h0M96.1 226.6h0M82.3 225.2h0M77.7 247.9h0M101.9 208.5h0M85.9 224.4h0M87.3 229.6h0M94.1 232.8h0M92.6 225.4h0M84.2 231.1h0M87.0 225.8h0M166.9 240.9h0M81.7 232.9h0M79.1 245.1h0M147.7 238.8h0M87.1 236.2h0M104.6 199.7h0M79.5 226.6h0M110.2 226.1h0M80.2 249.0h0M87.9 225.3h0M92.4 217.8h0M158.2 233.2h0M84.1 221.3h0M81.0 224.7h0M81.7 224.0h0M97.4 232.3h0M314.0 242.3h0M79.4 234.9h0M82.8 233.2h0M83.0 234.9h0M100.9 236.0h0M96.4 236.1h0M90.6 220.4h0M118.9 223.5h0M87.1 241.0h0M87.6 224.8h0M82.3 237.9h0M72.6 245.6h0M82.3 223.6h0M80.0 219.7h0M82.5 229.8h0M83.9 232.3h0M159.9 240.2h0M79.2 240.2h0M73.0 239.6h0M78.8 233.4h0M78.9 246.8h0M77.5 244.5h0M84.5 235.5h0M87.5 231.8h0M170.4 243.2h0M98.3 234.8h0M86.5 223.7h0M113.5 216.3h0M87.5 222.5h0M81.4 227.2h0M79.1 239.8h0M132.8 240.9h0M90.0 222.9h0M85.5 223.4h0M78.8 243.7h0M96.7 224.6h0M102.6 227.4h0M91.0 244.9h0M77.5 247.1h0M94.6 223.1h0M82.5 237.3h0M89.7 232.0h0M253.0 239.2h0M82.4 235.5h0M73.0 243.2h0M155.5 247.9h0M74.7 244.2h0M95.6 224.2h0M104.2 237.3h0M84.3 232.1h0M83.6 225.5h0M91.5 207.7h0M85.4 238.7h0M107.6 233.5h0M82.8 223.3h0M83.4 246.3h0M82.8 235.5h0M84.1 237.9h0M80.9 237.3h0M80.0 218.6h0M91.8 212.0h0M85.8 226.1h0M92.1 226.2h0M82.0 239.9h0M77.9 197.6h0M77.2 226.8h0M93.1 240.1h0M79.3 247.9h0M82.5 231.0h0M99.3 230.4h0M114.6 210.4h0M94.7 232.8h0M84.5 240.9h0M85.1 238.4h0M85.2 230.5h0M83.4 232.8h0M88.6 232.9h0M82.0 231.4h0M87.9 219.1h0M84.5 236.3h0M85.0 246.7h0M88.5 239.5h0M119.9 232.2h0M81.5 234.1h0M84.0 237.6h0M86.0 234.6h0M79.9 241.8h0M76.6 238.3h0M85.2 230.6h0M83.7 229.4h0M107.9 231.9h0M84.5 226.9h0M83.0 229.0h0M77.4 241.3h0M81.7 237.5h0M80.9 243.9h0M84.3 235.6h0M86.2 236.6h0M81.9 232.1h0M75.0 222.4h0M79.7 194.7h0M77.9 241.7h0M213.3 240.9h0M83.0 227.6h0M83.5 228.7h0M81.6 238.4h0M92.1 234.3h0M84.9 229.9h0M79.3 238.4h0M83.7 236.8h0M80.3 237.1h0M86.7 236.6h0M81.6 239.6h0M77.3 251.6h0M93.3 241.6h0M101.1 223.0h0M86.3 234.3h0M89.7 210.9h0M80.2 225.7h0M88.7 240.7h0M88.7 230.3h0M103.2 234.7h0M82.3 226.0h0M79.7 232.6h0M89.1 222.2h0M111.0 229.7h0M80.3 235.3h0M88.9 234.1h0M78.3 232.8h0M119.5 211.9h0M82.2 237.1h0M82.0 233.6h0M81.8 228.7h0M84.8 227.5h0M96.8 224.7h0M90.5 230.0h0M99.9 228.7h0M86.8 221.3h0M96.9 232.6h0M82.3 224.2h0M83.3 232.3h0M87.0 235.9h0" stroke="#d15200" stroke-opacity="0.8" stroke-width="3.5" stroke-linecap="round" fill="none" clip-path="url(#ca)"/><path d="M80.8 239.9h0M72.8 233.7h0M78.1 239.9h0M79.2 244.5h0" stroke="#d15200" stroke-opacity="0.42" stroke-width="3.5" stroke-linecap="round" fill="none" clip-path="url(#ca)"/><path d="M86.5 227.2h0M80.6 233.3h0M81.5 237.5h0M106.7 227.4h0M83.1 229.5h0M85.5 230.4h0M84.8 231.4h0M78.6 239.2h0M88.7 231.2h0M83.2 233.9h0M202.8 231.8h0M95.2 233.9h0M91.4 227.8h0M101.3 221.7h0M87.0 213.8h0M133.6 208.7h0M84.4 232.3h0M81.8 235.0h0M87.5 230.8h0M160.3 223.0h0M88.2 238.5h0M88.1 232.4h0M86.5 226.2h0M82.0 224.2h0M81.3 244.3h0M80.6 237.5h0M82.4 223.5h0M81.4 242.1h0M86.2 237.2h0M73.8 226.0h0M90.5 215.8h0M78.4 208.6h0M81.9 226.9h0M77.2 243.2h0M80.0 239.5h0M89.9 232.5h0M120.1 226.2h0M75.6 235.3h0M111.4 249.6h0M84.2 240.8h0M80.6 233.1h0M81.9 234.5h0M81.6 244.6h0M80.3 226.7h0M81.4 218.9h0M85.6 234.7h0M274.9 231.8h0M81.5 244.3h0M80.2 223.8h0M232.9 213.8h0M88.7 216.6h0M86.9 240.6h0M79.9 227.3h0M84.5 238.8h0M82.2 197.0h0M89.7 223.4h0M73.3 238.2h0M107.3 221.0h0M92.9 235.0h0M86.6 237.2h0M82.1 232.8h0M77.3 232.6h0M82.7 243.1h0M82.5 237.5h0M93.9 231.4h0M81.2 222.8h0M92.8 209.1h0M90.3 233.1h0M80.9 246.7h0M79.8 242.3h0M90.3 230.5h0M77.1 231.0h0M183.2 212.0h0M89.8 222.9h0M78.8 245.3h0M81.2 241.7h0M83.8 235.7h0M80.4 233.5h0M80.2 240.2h0M102.3 209.4h0M88.9 227.8h0M80.4 238.9h0M88.0 239.2h0M82.9 219.6h0M85.9 236.1h0M79.4 239.6h0M80.0 243.9h0M78.5 246.1h0M78.2 244.2h0M129.6 245.8h0M83.9 238.7h0M111.4 205.8h0M92.1 217.0h0M96.0 240.0h0M92.6 231.3h0M95.0 225.1h0M84.7 233.2h0M92.5 223.0h0M83.0 236.7h0M84.4 243.1h0M83.3 229.4h0M80.0 221.1h0M73.6 225.7h0M80.7 239.1h0M79.3 243.1h0M82.8 235.2h0M101.6 228.6h0M85.1 222.5h0M84.3 242.5h0M85.8 225.1h0M79.8 240.6h0M87.7 231.3h0M84.5 229.8h0M82.2 235.4h0M72.5 251.0h0M85.6 241.5h0M83.4 225.2h0M79.2 238.4h0M83.4 233.7h0M72.9 244.8h0M81.7 232.0h0M80.4 241.3h0M84.9 234.5h0M83.7 233.0h0M81.3 232.8h0M81.4 222.1h0M83.8 235.3h0M82.2 225.3h0M82.0 230.7h0M86.7 236.3h0M93.3 232.9h0M90.6 213.8h0M86.5 234.2h0M85.7 231.9h0M84.3 242.4h0M95.9 236.3h0M291.0 226.0h0M89.8 238.6h0M101.2 245.7h0M90.3 228.1h0M80.4 245.3h0M90.6 230.5h0M77.3 226.1h0M102.6 238.7h0M79.7 237.7h0M111.8 214.4h0M87.0 226.0h0M81.8 229.9h0M80.5 239.7h0M90.6 238.1h0M82.8 228.9h0M74.1 241.4h0M83.2 196.5h0M84.7 233.3h0M80.7 236.6h0M81.2 220.0h0M80.9 237.7h0M88.9 235.5h0M82.7 245.9h0M105.7 231.3h0M94.1 213.1h0M87.5 230.4h0M84.2 239.2h0M80.6 236.6h0M87.2 234.6h0M102.9 219.2h0M80.2 241.5h0M161.1 224.8h0M80.6 237.5h0M79.3 225.9h0M86.9 224.8h0M79.2 239.8h0M82.9 228.6h0M83.6 232.5h0M87.4 231.4h0M84.8 221.3h0M84.3 238.3h0M85.4 227.4h0M84.3 222.2h0M83.3 235.6h0M81.5 236.8h0M88.8 220.7h0M76.5 249.0h0M84.4 227.4h0M87.2 232.5h0M84.9 211.4h0M125.8 253.7h0M84.1 219.6h0M108.5 233.1h0M82.5 239.8h0M97.2 232.2h0M88.3 233.0h0M80.1 220.1h0M83.1 232.4h0M90.8 218.9h0M81.6 245.9h0M80.2 235.6h0M81.3 236.0h0M82.0 237.7h0M82.3 244.5h0M82.3 233.5h0M86.7 232.0h0M76.1 227.1h0M96.5 224.5h0M80.3 239.9h0M87.0 219.6h0M85.8 234.6h0M328.9 220.2h0M79.0 243.2h0M97.4 220.3h0M78.4 245.0h0M86.7 237.2h0M97.3 232.6h0M80.6 239.5h0M83.1 230.3h0M92.3 202.4h0M89.3 234.7h0M75.4 240.9h0M110.4 237.8h0M86.3 214.4h0M82.7 231.8h0M103.3 216.4h0M78.6 241.2h0M82.2 232.8h0M84.8 199.5h0M79.9 244.5h0M82.8 240.3h0M83.0 240.0h0" stroke="#d15200" stroke-opacity="0.8" stroke-width="3.5" stroke-linecap="round" fill="none" clip-path="url(#ca)"/><path d="M91.2 231.0h0M80.1 224.8h0M86.2 232.8h0M79.4 238.0h0M247.4 237.9h0M110.3 232.2h0M80.5 242.0h0M100.9 232.2h0" stroke="#d15200" stroke-opacity="0.42" stroke-width="3.5" stroke-linecap="round" fill="none" clip-path="url(#ca)"/><path d="M82.1 231.1h0M83.9 245.5h0M90.8 229.0h0M98.5 231.7h0M80.0 237.7h0M81.9 236.4h0M89.5 234.6h0M80.6 241.2h0M80.5 231.1h0M81.9 229.8h0M73.7 236.4h0M82.5 232.4h0M92.9 229.9h0M86.0 235.8h0M102.5 216.3h0M104.8 232.2h0M83.4 229.2h0M79.9 232.2h0M87.7 230.8h0M85.0 229.5h0M79.4 236.5h0M196.7 229.7h0M87.7 229.0h0M78.8 238.1h0M89.3 225.2h0M91.1 225.0h0M86.9 230.5h0M82.5 224.0h0M84.8 239.6h0M104.4 216.9h0M95.1 208.6h0M81.6 236.4h0M104.9 224.2h0M85.2 233.3h0M81.0 243.2h0M78.8 242.8h0M91.8 221.0h0M182.7 240.6h0M85.7 231.6h0M78.9 241.5h0M315.2 210.4h0M100.5 225.0h0M85.7 235.1h0M84.7 240.8h0M94.0 227.9h0M114.1 230.9h0M90.0 229.7h0M78.9 246.4h0M88.3 236.1h0M79.1 238.0h0M91.2 235.2h0M75.5 252.4h0M84.0 236.1h0M79.6 233.9h0M80.5 240.2h0M81.9 232.1h0M84.0 224.8h0M218.2 245.8h0M90.9 226.6h0M96.6 235.2h0M199.3 246.7h0M320.4 208.2h0M87.8 226.9h0M90.6 226.6h0M90.8 217.4h0M78.3 238.5h0M101.0 229.0h0M87.2 235.5h0M79.4 240.7h0M116.2 216.6h0M87.4 234.2h0M82.5 241.4h0M78.0 229.2h0M78.2 244.9h0M82.7 234.6h0M80.5 227.2h0M83.8 240.1h0M90.6 219.0h0M81.6 217.5h0M93.1 233.2h0M83.2 227.3h0M78.4 230.8h0M86.7 220.4h0M89.9 222.6h0M198.4 217.8h0M85.0 237.9h0M137.1 254.0h0M73.1 251.5h0M89.5 238.9h0M85.6 233.3h0M80.7 244.4h0M101.8 218.0h0M82.2 226.4h0M138.9 242.3h0M97.4 223.1h0M90.0 227.4h0M85.1 224.8h0M274.9 207.3h0M79.0 244.7h0M83.7 230.5h0M78.4 242.9h0M127.5 230.9h0M101.2 210.0h0M82.3 232.3h0M80.4 241.0h0M91.5 224.3h0M89.5 234.1h0M80.3 235.5h0M80.0 228.0h0M87.7 230.4h0M80.0 238.8h0M81.7 233.0h0M90.6 221.8h0M92.0 231.2h0M98.1 235.1h0M282.8 237.4h0M91.6 216.4h0M84.6 228.1h0M80.0 234.9h0M80.3 242.1h0M108.5 227.2h0M135.4 237.1h0M73.3 225.1h0M82.2 238.8h0M81.7 225.7h0M89.2 223.6h0M79.7 235.1h0M79.8 234.5h0M81.3 238.7h0M97.8 231.0h0M81.0 239.5h0M109.3 223.6h0M83.8 233.6h0M96.2 218.3h0M109.4 234.5h0M82.0 231.5h0M88.4 229.0h0M81.4 239.4h0M90.9 233.9h0M80.3 239.4h0M86.3 233.0h0M78.0 247.5h0M80.1 237.7h0M100.6 242.2h0M86.5 209.8h0M87.1 234.3h0M77.6 236.0h0M98.0 238.4h0M79.9 238.4h0M88.1 221.2h0M81.5 237.4h0M81.1 235.7h0M90.9 215.9h0M82.6 227.9h0M80.4 246.5h0M82.6 241.9h0M82.2 246.6h0M82.9 237.9h0M79.5 240.5h0M80.6 231.7h0M80.2 241.9h0M86.5 230.2h0M79.2 236.6h0M77.1 225.0h0M81.4 227.7h0M98.9 220.3h0M101.8 205.6h0M83.2 229.3h0M124.9 231.8h0M94.0 226.3h0M83.4 235.6h0M94.0 236.3h0M85.0 236.7h0M81.7 240.9h0M98.1 238.6h0M101.1 233.7h0M99.1 199.2h0M86.3 229.6h0M138.0 207.3h0M80.1 238.6h0M80.4 246.6h0M84.0 236.9h0M98.3 225.7h0M177.4 242.3h0M83.5 235.1h0M78.9 244.3h0M85.1 222.7h0M79.1 244.2h0M84.2 234.3h0M80.5 247.0h0M85.4 239.6h0M74.2 245.7h0M89.1 216.6h0M83.3 229.0h0M108.8 214.5h0M84.0 235.7h0M84.6 217.8h0M89.0 214.1h0M93.0 232.0h0M76.7 229.6h0M79.4 243.5h0M93.3 236.5h0M89.1 226.7h0M87.3 242.4h0M85.8 235.2h0M83.9 235.0h0M91.6 225.1h0M88.0 240.1h0M87.8 220.2h0M91.7 226.3h0M80.6 236.9h0M100.0 228.8h0M83.1 235.1h0M107.4 228.9h0M83.6 233.7h0M89.0 217.5h0M93.2 218.6h0M168.7 242.3h0M80.0 245.4h0M82.5 239.1h0M81.4 235.9h0M101.3 228.8h0M90.2 207.7h0M86.3 234.4h0" stroke="#d15200" stroke-opacity="0.8" stroke-width="3.5" stroke-linecap="round" fill="none" clip-path="url(#ca)"/><path d="M111.2 221.7h0M90.4 234.8h0M86.0 233.7h0M86.9 215.8h0M82.7 235.4h0M81.2 231.7h0M92.2 231.9h0" stroke="#d15200" stroke-opacity="0.42" stroke-width="3.5" stroke-linecap="round" fill="none" clip-path="url(#ca)"/><path d="M292.8 241.4h0M109.5 228.5h0M78.4 245.5h0M95.5 235.4h0M103.2 215.4h0M89.0 223.6h0M80.3 233.5h0M81.8 229.5h0M84.8 234.7h0M78.5 209.5h0M124.2 227.4h0M87.0 228.4h0M226.8 233.6h0M132.8 229.2h0M86.7 226.2h0M87.2 225.1h0M79.8 242.6h0M82.0 219.9h0M84.5 236.9h0M90.3 233.1h0M84.0 235.9h0M89.1 212.0h0M83.7 237.9h0M100.4 216.5h0M90.7 227.6h0M92.3 219.5h0M210.7 235.0h0M83.4 233.1h0M88.3 229.3h0M84.3 213.4h0M86.7 232.1h0M75.5 254.2h0M91.7 209.6h0M76.8 237.6h0M85.7 230.2h0M88.8 223.5h0M83.6 236.6h0M101.6 223.5h0M100.5 214.8h0M90.5 213.9h0M115.2 224.6h0M82.5 233.0h0M84.1 232.6h0M79.5 246.7h0M85.9 232.4h0M113.3 232.4h0M94.1 223.3h0M100.9 228.5h0M78.1 233.4h0M81.1 237.6h0M84.7 222.6h0M99.7 229.5h0M87.1 233.7h0M90.0 232.1h0M96.3 235.0h0M83.9 216.9h0M87.3 232.7h0M127.5 239.2h0M79.6 240.5h0M92.8 231.2h0M83.9 229.8h0M80.0 242.0h0M82.0 242.4h0M90.1 231.7h0M88.8 222.5h0M79.3 239.5h0M80.0 245.9h0M85.3 235.2h0M81.2 241.9h0M88.5 236.4h0M84.0 234.7h0M87.0 230.7h0M86.0 230.0h0M82.2 232.8h0M81.9 235.3h0M88.2 224.6h0M84.7 221.2h0M78.4 243.2h0M88.4 237.4h0M82.3 236.4h0M97.7 208.8h0M73.9 243.6h0M83.7 241.1h0M159.0 235.7h0M82.8 231.4h0M97.1 226.9h0M87.5 222.4h0M84.5 237.7h0M87.4 231.8h0M79.1 235.5h0M82.8 238.6h0M100.0 220.4h0M88.5 231.2h0M80.0 230.4h0M81.3 245.4h0M102.9 230.7h0M81.9 233.1h0M83.5 227.1h0M85.2 219.8h0M89.3 229.6h0M80.7 246.8h0M80.8 227.0h0M85.5 230.9h0M78.7 238.1h0M79.0 214.4h0M77.8 241.0h0M82.5 238.6h0M80.3 243.9h0M82.8 227.8h0M82.2 232.1h0M89.8 237.3h0M92.1 226.7h0M78.8 241.6h0M100.4 214.0h0M83.3 239.1h0M112.7 199.7h0M213.3 221.3h0M100.7 209.0h0M250.9 226.0h0M81.0 219.4h0M81.0 236.3h0M82.5 237.5h0M84.1 236.1h0M80.6 237.2h0M77.5 240.8h0M87.1 221.6h0M95.4 236.8h0M88.1 231.8h0M88.0 214.6h0M112.0 221.4h0M82.1 242.7h0M78.7 244.6h0M92.4 232.0h0M81.0 236.3h0M79.5 248.1h0M85.9 230.6h0M91.9 219.9h0M95.2 217.2h0M86.7 217.8h0M79.4 237.7h0M88.2 236.5h0M80.0 242.7h0M76.6 244.4h0M82.5 239.6h0M91.2 221.0h0M79.5 241.6h0M84.7 239.3h0M84.3 235.9h0M100.4 229.0h0M84.2 233.2h0M90.8 230.9h0M84.8 223.9h0M82.6 228.2h0M81.0 239.5h0M119.8 233.5h0M81.4 232.5h0M82.0 235.6h0M82.6 238.7h0M84.4 234.4h0M90.9 224.5h0M119.5 224.2h0M85.8 233.2h0M82.0 221.1h0M117.8 221.9h0M87.7 227.9h0M103.0 224.6h0M91.7 226.0h0M80.8 230.9h0M78.7 243.7h0M91.8 232.9h0M83.5 241.3h0M79.8 247.4h0M78.6 246.1h0M80.0 242.2h0M79.5 244.1h0M106.0 224.2h0M106.3 220.2h0M219.5 209.6h0M80.9 245.1h0M85.7 227.0h0M85.7 231.4h0M105.1 205.1h0M119.0 221.0h0M86.0 219.5h0M80.8 217.0h0M105.9 220.5h0M88.5 230.8h0M89.0 233.8h0M86.0 230.2h0M85.1 224.7h0M81.0 245.1h0M81.9 232.6h0M79.2 243.8h0M80.2 225.6h0M97.4 223.7h0M89.0 234.5h0M97.1 225.9h0M84.0 224.3h0M82.8 204.4h0M81.6 246.4h0M82.9 238.0h0M90.1 213.1h0M79.6 239.2h0M87.0 217.7h0M86.0 230.9h0M97.2 212.1h0M85.7 232.2h0M101.4 224.2h0M78.8 232.3h0M84.9 228.8h0M89.5 228.4h0M80.5 223.9h0M88.3 225.3h0M112.3 209.7h0M76.8 222.9h0M81.1 228.3h0M81.8 234.8h0M99.3 222.6h0M85.4 238.1h0M80.5 236.1h0M83.2 242.2h0M81.8 216.6h0M81.1 237.3h0M89.2 225.9h0M89.4 225.0h0" stroke="#d15200" stroke-opacity="0.8" stroke-width="3.5" stroke-linecap="round" fill="none" clip-path="url(#ca)"/><path d="M102.9 227.4h0M85.7 212.3h0M93.9 221.4h0M77.3 248.0h0M82.7 233.9h0M77.7 233.9h0" stroke="#d15200" stroke-opacity="0.42" stroke-width="3.5" stroke-linecap="round" fill="none" clip-path="url(#ca)"/><path d="M79.1 248.1h0M101.6 220.8h0M89.8 207.0h0M87.3 220.7h0M88.2 224.1h0M77.4 224.1h0M84.2 240.9h0M79.4 235.6h0M90.0 212.6h0M81.1 232.8h0M80.4 243.0h0M77.1 249.1h0M87.5 237.3h0M85.4 231.7h0M83.4 203.1h0M74.9 233.9h0M82.3 225.8h0M81.0 242.0h0M89.0 230.0h0M93.4 207.5h0M83.4 232.2h0M84.6 234.9h0M77.8 227.5h0M101.4 228.9h0M90.6 219.1h0M80.0 223.2h0M84.9 234.6h0M95.3 221.9h0M84.0 238.1h0M131.0 237.9h0M86.6 229.2h0M82.8 230.1h0M104.5 210.3h0M82.4 239.1h0M114.9 206.8h0M83.5 217.7h0M137.1 243.7h0M83.2 237.4h0M93.5 233.4h0M94.1 203.0h0M73.8 226.7h0M85.8 226.8h0M101.7 220.9h0M86.2 238.7h0M74.7 239.3h0M76.7 231.9h0M228.9 212.2h0M85.5 219.9h0M98.6 232.8h0M78.1 243.1h0M77.3 236.7h0M86.2 234.1h0M84.3 230.3h0M88.0 217.6h0M89.3 236.1h0M86.7 227.2h0M83.7 228.8h0M75.4 253.3h0M81.0 226.7h0M86.7 238.3h0M85.6 224.1h0M77.5 237.4h0M79.7 243.1h0M89.1 236.6h0M89.1 231.1h0M81.0 238.7h0M99.5 238.1h0M114.4 208.4h0M75.4 254.1h0M82.0 239.9h0M87.4 231.3h0M89.5 225.1h0M200.2 233.6h0M76.6 229.0h0M181.5 224.4h0M83.2 228.9h0M105.7 243.8h0M107.0 226.0h0M83.8 233.3h0M168.7 234.4h0M109.5 226.6h0M105.5 237.7h0M81.6 227.8h0M80.6 241.5h0M89.8 237.3h0M106.3 234.5h0M131.0 198.9h0M83.3 232.5h0M90.1 219.4h0M80.8 234.0h0M80.8 236.8h0M77.7 235.8h0M86.3 235.5h0M78.4 240.9h0M78.2 243.4h0M100.8 213.9h0M76.9 239.8h0M75.5 234.5h0M93.8 236.6h0M92.4 222.8h0M110.8 234.0h0M84.9 233.3h0M86.0 231.3h0M101.4 227.6h0M87.5 241.3h0M107.8 240.2h0M78.6 244.4h0M99.0 214.5h0M81.1 241.4h0M89.1 235.5h0M80.0 216.1h0M82.4 230.5h0M81.8 234.0h0M95.0 227.7h0M84.4 233.1h0M78.5 231.2h0M81.7 237.4h0M85.9 224.2h0M72.7 221.3h0M116.4 208.4h0M76.3 246.5h0M91.1 232.3h0M152.9 242.3h0M82.3 227.3h0M79.9 238.4h0M85.7 226.9h0M115.9 234.4h0M79.6 237.7h0M81.3 234.4h0M82.9 242.8h0M81.6 234.7h0M103.1 235.9h0M115.6 234.4h0M109.1 228.0h0M86.8 230.0h0M229.4 238.3h0M87.1 225.1h0M77.3 193.0h0M101.0 232.4h0M78.6 242.3h0M271.4 222.0h0M117.3 224.1h0M85.7 234.3h0M90.3 224.8h0M84.0 235.8h0M104.4 224.4h0M86.2 232.0h0M104.0 230.4h0M97.1 219.2h0M86.0 227.2h0M83.6 242.9h0M84.5 235.0h0M111.4 234.5h0M92.9 226.2h0M84.7 231.1h0M87.3 220.1h0M84.6 229.7h0M83.4 225.2h0M90.2 220.8h0M84.7 238.8h0M86.6 231.9h0M87.4 220.8h0M82.0 231.7h0M85.5 218.0h0M83.5 238.2h0M82.0 240.5h0M82.0 232.8h0M82.2 227.3h0M87.2 225.8h0M81.8 240.5h0M79.4 245.3h0M88.0 226.8h0M81.9 221.1h0M77.7 237.8h0M110.4 212.7h0M86.7 218.9h0M108.2 220.3h0M98.8 214.9h0M83.2 233.8h0M91.6 225.0h0M79.7 238.6h0M84.6 227.9h0M83.0 212.1h0M81.9 234.9h0M83.3 218.9h0M112.0 233.6h0M88.9 218.6h0M84.1 228.0h0M85.9 232.1h0M86.4 221.0h0M85.0 235.1h0M87.1 231.6h0M82.2 224.3h0M80.1 242.6h0M79.0 241.5h0M85.9 228.2h0M78.5 232.5h0M82.7 232.6h0M104.2 233.4h0M87.7 229.5h0M100.4 214.6h0M107.0 217.7h0M85.4 226.4h0M81.3 214.1h0M92.0 232.6h0M86.8 231.4h0M85.8 226.1h0M101.1 230.2h0M141.2 209.9h0M95.6 232.1h0M83.6 239.8h0M90.5 227.8h0M88.2 223.5h0M84.8 223.4h0M83.7 231.8h0M83.7 234.4h0M93.2 230.2h0M99.2 203.9h0M77.1 241.5h0M81.0 244.0h0M80.0 240.5h0M87.9 233.1h0M79.8 243.4h0M87.8 229.0h0M84.9 236.3h0M87.8 233.2h0" stroke="#d15200" stroke-opacity="0.8" stroke-width="3.5" stroke-linecap="round" fill="none" clip-path="url(#ca)"/><path d="M88.5 233.9h0M84.4 236.3h0M85.3 232.0h0M89.2 235.8h0M84.1 222.3h0M83.3 223.8h0M79.6 247.1h0M94.3 230.2h0M81.1 239.5h0M105.9 223.2h0M76.7 243.8h0" stroke="#d15200" stroke-opacity="0.42" stroke-width="3.5" stroke-linecap="round" fill="none" clip-path="url(#ca)"/><path d="M85.0 234.7h0M87.2 239.4h0M92.2 228.7h0M90.0 234.1h0M76.8 248.2h0M81.6 234.9h0M83.7 227.4h0M190.6 231.8h0M83.3 239.7h0M91.7 232.4h0M89.3 229.7h0M81.7 239.2h0M91.8 227.0h0M87.2 226.2h0M81.6 227.8h0M80.5 233.3h0M85.2 237.1h0M84.4 234.7h0M84.0 231.5h0M82.9 232.5h0M72.9 235.0h0M230.3 231.8h0M93.5 228.8h0M80.8 231.7h0M85.5 228.2h0M89.4 212.5h0M95.4 226.3h0M85.3 225.4h0M87.6 239.8h0M211.6 224.4h0M99.4 237.4h0M84.5 224.2h0M99.5 224.1h0M82.5 231.2h0M95.4 228.1h0M76.1 239.7h0M98.4 216.6h0M84.4 236.5h0M99.1 229.0h0M91.9 220.9h0M83.9 230.5h0M159.0 227.4h0M81.2 216.5h0M88.2 231.8h0M81.4 231.4h0M97.3 223.9h0M81.0 241.1h0M90.6 213.6h0M81.9 235.1h0M75.2 232.6h0M82.5 228.9h0M98.9 215.5h0M85.0 229.9h0M76.3 234.7h0M86.4 226.7h0M80.5 240.6h0M80.7 242.8h0M74.2 238.2h0M78.9 244.7h0M83.2 231.9h0M75.3 242.0h0M82.4 235.9h0M85.9 234.9h0M85.9 214.4h0M82.8 239.0h0M77.9 243.5h0M79.5 234.5h0M81.0 232.3h0M119.0 221.8h0M83.9 230.2h0M84.4 235.7h0M84.2 233.8h0M80.8 240.2h0M85.8 232.0h0M80.4 234.9h0M86.9 238.2h0M143.3 231.8h0M101.6 226.3h0M79.7 235.0h0M82.1 236.6h0M81.8 218.9h0M80.4 239.1h0M81.7 240.3h0M76.7 244.7h0M85.2 240.0h0M89.9 231.7h0M105.6 231.3h0M121.7 214.2h0M88.8 228.9h0M83.6 233.3h0M87.0 214.7h0M90.9 211.1h0M86.5 233.5h0M108.7 208.3h0M87.2 224.4h0M90.5 232.5h0M77.7 232.7h0M79.9 240.5h0M92.8 234.4h0M94.5 225.4h0M87.5 228.8h0M82.5 218.2h0M79.6 238.1h0M85.8 226.7h0M87.2 238.0h0M108.1 224.6h0M87.0 228.7h0M80.0 244.0h0M83.0 218.6h0M91.3 217.8h0M92.5 215.9h0M82.0 240.4h0M90.5 227.7h0M84.5 229.9h0M109.8 220.7h0M79.1 208.7h0M78.9 243.3h0M87.6 232.5h0M103.4 231.3h0M81.9 234.8h0M83.5 230.1h0M253.5 230.4h0M81.0 225.6h0M108.4 205.9h0M173.0 234.4h0M82.7 237.4h0M79.6 247.6h0M87.3 231.4h0M78.6 246.5h0M84.0 235.4h0M321.3 227.4h0M79.4 239.1h0M101.2 231.6h0M84.8 237.1h0M82.5 243.3h0M77.7 228.2h0M84.1 228.4h0M91.7 231.4h0M84.3 232.3h0M84.1 220.7h0M80.0 228.3h0M85.5 229.1h0M81.1 248.1h0M108.4 209.9h0M86.8 218.6h0M80.3 239.9h0M87.0 217.2h0M237.3 237.1h0M89.7 234.0h0M116.8 224.8h0M83.1 231.9h0M102.6 220.0h0M75.3 216.0h0M88.9 232.8h0M85.3 227.1h0M82.7 232.0h0M78.7 231.7h0M74.0 237.5h0M80.3 242.4h0M105.2 223.4h0M255.1 206.4h0M89.2 231.6h0M190.2 211.3h0M82.6 238.2h0M111.6 239.8h0M84.4 244.1h0M203.7 220.4h0M82.2 219.0h0M264.9 221.3h0M93.0 222.2h0M78.8 240.0h0M93.1 214.5h0M90.7 221.3h0M84.8 225.2h0M85.4 211.8h0M81.7 235.1h0M76.8 238.3h0M81.3 237.9h0M85.9 227.3h0M83.3 241.0h0M87.3 226.1h0M88.7 240.8h0M86.0 229.4h0M79.9 224.5h0M114.3 238.1h0M78.9 242.9h0M116.7 205.7h0M92.0 239.8h0M82.1 238.9h0M102.3 235.0h0M80.5 236.1h0M125.8 243.7h0M79.2 229.1h0M99.6 241.8h0M87.4 216.4h0M77.6 245.8h0M78.9 246.1h0M81.9 237.9h0M81.9 223.6h0M85.6 223.9h0M79.0 242.2h0M79.9 233.4h0M87.3 235.4h0M87.2 220.6h0M98.2 222.2h0M87.0 222.8h0M78.8 234.5h0M97.5 231.5h0M94.5 227.4h0M126.6 219.5h0M87.6 230.6h0M89.4 234.0h0M83.7 221.1h0M85.3 235.1h0M81.5 234.6h0M76.9 248.4h0M87.7 215.7h0M218.6 236.5h0M73.1 247.3h0M85.4 239.0h0M79.7 242.9h0" stroke="#d15200" stroke-opacity="0.8" stroke-width="3.5" stroke-linecap="round" fill="none" clip-path="url(#ca)"/><path d="M83.6 232.4h0M84.1 234.7h0M87.8 228.7h0M88.6 222.3h0M80.4 240.7h0M83.5 234.6h0M83.1 242.9h0M79.8 241.2h0M96.2 198.8h0M82.8 229.1h0M84.7 217.1h0M100.6 199.5h0M83.6 227.6h0M84.7 231.0h0M103.1 203.0h0M94.5 205.5h0M81.4 242.2h0M77.0 245.8h0M88.4 222.7h0M77.3 245.0h0M79.8 247.4h0M83.7 238.8h0M89.9 205.6h0M92.3 214.3h0M81.8 245.5h0M91.8 215.4h0M93.5 214.4h0M90.1 217.9h0M80.0 244.7h0M99.9 196.7h0M87.0 223.0h0M88.9 226.4h0M80.4 240.1h0M84.7 229.2h0M86.0 234.7h0M81.1 244.8h0M87.0 226.7h0M78.2 242.8h0M83.8 234.9h0M95.8 215.8h0M78.9 241.7h0M82.3 240.6h0M85.8 226.9h0M96.8 192.9h0M85.1 227.6h0M79.1 244.0h0M85.0 233.9h0M90.3 195.5h0M79.6 245.1h0M89.9 208.4h0M79.8 243.5h0M82.0 243.3h0M85.8 226.1h0M104.0 206.1h0M86.9 228.5h0M86.0 229.4h0M86.7 222.4h0M87.1 223.6h0M90.5 218.6h0M79.6 241.1h0M110.0 205.0h0M96.7 208.1h0M82.4 238.2h0M79.7 238.0h0M85.0 231.2h0M98.6 199.8h0M92.9 206.3h0M100.4 193.5h0M83.9 235.0h0M87.0 227.8h0M89.1 219.7h0M83.2 231.5h0M84.7 231.7h0M80.2 241.5h0M86.7 226.2h0M84.8 232.7h0M80.5 247.2h0M84.8 226.9h0M84.3 226.4h0M90.6 219.3h0M82.7 243.1h0M81.2 238.9h0M84.9 234.5h0M80.1 244.2h0M85.5 228.7h0M81.8 231.7h0M99.2 204.9h0M83.0 243.3h0M90.8 220.4h0M87.7 217.0h0M83.7 237.4h0M80.7 245.3h0M81.8 233.7h0M83.5 239.1h0M85.8 233.9h0M92.7 209.0h0M84.9 228.2h0M82.2 236.5h0M85.4 218.4h0M87.1 220.2h0M83.8 219.4h0M82.4 241.0h0M85.1 231.4h0M82.1 240.0h0M83.5 241.4h0M78.9 248.3h0M79.2 243.6h0M103.7 210.0h0M100.3 211.4h0M78.7 249.3h0M86.8 229.0h0M87.5 224.0h0M87.9 220.7h0M86.5 226.9h0M87.2 224.9h0M85.8 229.4h0M83.6 235.9h0M94.5 214.9h0M93.1 225.4h0M87.0 231.7h0M87.6 221.9h0M92.0 207.6h0M83.5 234.7h0M80.4 242.5h0M85.2 228.2h0M90.7 224.4h0M108.7 212.1h0M87.5 232.0h0M94.4 195.8h0M89.4 223.0h0M91.2 221.2h0M78.6 245.1h0M85.1 219.2h0M93.0 211.0h0M88.7 220.7h0M83.1 234.6h0M90.5 207.1h0M82.0 236.6h0M81.2 238.5h0M86.9 215.0h0M88.2 211.5h0M84.0 237.8h0M84.0 227.3h0M86.5 228.9h0M89.5 220.0h0M78.2 245.0h0M86.1 232.6h0M89.7 213.2h0M95.6 200.1h0M81.7 233.8h0M96.6 206.9h0M91.4 222.0h0M81.7 233.2h0M86.1 223.7h0M89.5 228.8h0M85.8 230.7h0M85.2 218.5h0M82.0 230.3h0M83.3 234.0h0M84.1 231.2h0M88.6 216.8h0M83.7 225.2h0M89.4 227.4h0M84.2 223.0h0M82.9 241.6h0M88.7 229.8h0M91.5 208.8h0M88.2 230.4h0M81.2 233.9h0M93.1 223.4h0M90.1 208.8h0M88.1 226.5h0M87.0 238.6h0M81.5 239.0h0M79.7 246.0h0M85.9 232.5h0M88.6 217.3h0M83.8 232.8h0M80.2 245.2h0M78.2 245.2h0M83.4 221.6h0M84.6 222.7h0M84.8 220.8h0M87.0 226.9h0M82.2 230.3h0M79.6 243.4h0M77.0 244.1h0M98.8 196.7h0M93.2 225.4h0M90.0 227.6h0M81.2 243.2h0M85.2 229.8h0M77.8 248.4h0M88.3 225.1h0M80.8 246.6h0M88.8 208.9h0M87.1 221.8h0M79.3 246.2h0M80.8 236.8h0M78.6 250.0h0M88.1 224.2h0M84.5 236.4h0M81.8 239.0h0M81.8 245.7h0M85.6 227.0h0M84.0 233.3h0M90.1 201.5h0M83.6 213.8h0M95.1 221.4h0M83.9 223.0h0M89.4 217.2h0M91.5 220.8h0M86.5 231.3h0M80.0 243.4h0M85.7 229.5h0M83.5 233.9h0M84.6 228.8h0M82.3 235.3h0M80.7 234.2h0M83.3 244.4h0M80.4 237.3h0M93.8 214.1h0M85.2 226.1h0M89.4 212.6h0M79.0 247.7h0M92.4 222.6h0M91.0 212.2h0M95.5 201.6h0M81.7 236.8h0M97.9 213.3h0M92.3 214.8h0M85.1 230.9h0M85.0 222.1h0M84.7 207.2h0M84.6 236.8h0M83.8 242.7h0M82.2 240.2h0M82.6 237.1h0M94.3 209.1h0M89.3 213.2h0M83.3 238.3h0M86.1 224.3h0M92.8 205.4h0M94.9 203.9h0M91.5 220.0h0M99.1 216.0h0M87.7 225.1h0M98.1 201.1h0M83.3 230.0h0M83.2 240.8h0M89.3 229.9h0M88.2 231.0h0M85.7 228.1h0M80.7 247.4h0M88.3 233.1h0M82.2 230.9h0M82.0 240.2h0M92.9 214.7h0M82.4 241.5h0M83.6 231.7h0M83.3 233.0h0M89.8 221.3h0M87.9 224.6h0M90.7 222.1h0M82.4 240.8h0M86.9 236.3h0M83.4 231.3h0M94.4 203.8h0M98.9 202.9h0M80.7 237.0h0M85.5 233.0h0M89.5 219.3h0M94.9 222.6h0M79.9 242.6h0M92.0 198.7h0M90.0 227.1h0M87.0 215.1h0M87.6 225.4h0M91.2 207.0h0M79.2 242.0h0M82.9 223.9h0M80.2 241.2h0M89.6 222.2h0M82.8 230.2h0M91.1 219.1h0M86.3 237.0h0M88.9 218.6h0M95.0 226.5h0M86.1 233.8h0M81.4 236.6h0M92.5 218.1h0M82.9 234.3h0M89.5 223.1h0M81.9 238.9h0M81.7 238.3h0M87.5 213.1h0M92.0 219.5h0M85.2 231.6h0M79.7 246.3h0M87.1 226.4h0M87.9 228.0h0M81.6 244.5h0M90.1 222.2h0M93.3 203.4h0M89.5 225.8h0M90.5 220.9h0M92.9 203.0h0M83.2 238.6h0M88.8 220.7h0M97.3 197.4h0M94.4 204.3h0M85.1 236.7h0M83.3 229.3h0M84.0 229.5h0M87.3 222.8h0M82.7 238.0h0M83.0 228.1h0M82.5 234.1h0M87.1 229.0h0M81.9 233.1h0M80.0 237.5h0M79.3 237.4h0M89.8 229.6h0M80.2 240.2h0M89.9 223.4h0M91.7 204.2h0M102.0 202.1h0M92.7 224.3h0M84.7 224.3h0M80.0 232.3h0M82.4 232.5h0M89.5 202.6h0M85.7 227.0h0M82.7 237.0h0M78.9 246.6h0M85.9 234.6h0M78.0 244.3h0M87.0 223.4h0M86.9 219.1h0M88.6 238.7h0M89.8 207.2h0M95.3 202.4h0M82.8 242.0h0M84.1 238.5h0M80.2 247.0h0M93.4 225.4h0M85.2 236.5h0M81.7 225.3h0M94.8 197.8h0M81.1 244.5h0M81.9 239.5h0M83.5 231.3h0M79.1 246.8h0M84.4 225.8h0M103.5 195.9h0M98.5 196.5h0M92.6 217.0h0M86.3 213.3h0M81.1 235.9h0M88.9 207.1h0M86.0 224.9h0M82.6 236.4h0M91.7 206.7h0M85.0 235.8h0M85.2 221.0h0M85.6 233.7h0M78.2 243.2h0M85.6 210.2h0M96.8 202.3h0M79.1 241.0h0M80.3 240.1h0M82.5 229.8h0M87.8 217.2h0M79.8 244.4h0M91.6 220.3h0M83.9 232.5h0M87.8 237.8h0M87.5 230.1h0M84.8 225.5h0M84.0 236.5h0M85.6 225.3h0M82.2 234.9h0M84.9 221.5h0M83.6 234.7h0M79.5 241.9h0M84.1 222.4h0M87.8 232.7h0M93.0 197.9h0M86.8 219.2h0M83.1 235.2h0M83.7 235.6h0M81.7 232.3h0M81.8 235.5h0M83.3 235.8h0M86.5 220.7h0M85.8 229.4h0M78.0 245.9h0M87.2 231.4h0M86.8 224.3h0M86.7 214.7h0M97.2 217.2h0M86.3 234.0h0M89.5 226.6h0M82.3 221.5h0M80.7 245.1h0M82.8 236.7h0M96.3 199.7h0M84.3 228.6h0M90.8 216.0h0M81.4 240.2h0M92.4 209.8h0M92.6 200.3h0M84.7 219.0h0M80.7 243.3h0M79.0 248.3h0M84.4 231.0h0M84.0 235.3h0M80.4 241.4h0M94.9 206.7h0M85.4 225.3h0M79.8 240.0h0M87.9 227.2h0M79.1 246.4h0M86.4 223.1h0M84.8 231.5h0M84.2 243.1h0M98.7 204.9h0M88.0 210.5h0M79.6 241.1h0M87.9 212.8h0M83.1 239.9h0M81.9 230.8h0M81.4 232.5h0M77.0 243.8h0M100.2 220.0h0M85.5 233.2h0M94.3 211.3h0M80.1 237.7h0M78.9 246.0h0M93.4 213.9h0M89.1 230.8h0M100.6 192.3h0M94.6 222.0h0M92.2 215.5h0M84.8 217.5h0M81.8 232.4h0M86.1 230.8h0M85.8 236.0h0M88.8 217.9h0M77.2 254.6h0M77.4 251.6h0M78.0 250.6h0M75.3 255.1h0M80.5 247.9h0M77.4 253.7h0M102.9 197.0h0M99.7 195.5h0M97.5 193.4h0M100.6 191.6h0M96.1 195.9h0M100.7 192.5h0M95.3 198.4h0" stroke="#174780" stroke-opacity="0.35" stroke-width="3.5" stroke-linecap="round" fill="none" clip-path="url(#ca)"/><line x1="60.55" y1="298.07" x2="431.00" y2="-727.10" stroke="#c0283a" stroke-width="1.05" clip-path="url(#ca)"/><rect x="62.30" y="21.00" width="282.70" height="249.60" fill="none" stroke="#4a4a4a" stroke-width="1.6"/><path d="M72.50 270.60V277.70M132.25 270.60V277.70M192.00 270.60V277.70M251.75 270.60V277.70M311.50 270.60V277.70M62.30 265.00H54.90M62.30 231.93H54.90M62.30 198.86H54.90M62.30 165.79H54.90M62.30 132.72H54.90M62.30 99.65H54.90M62.30 66.58H54.90M62.30 33.51H54.90" stroke="#383838" stroke-width="1.05" fill="none"/><g transform="translate(72.50 294.20)"><text x="-4.31" y="0" class="t">0</text></g><g transform="translate(132.25 294.20)"><text x="-4.31" y="0" class="t">5</text></g><g transform="translate(192.00 294.20)"><path d="M515 0L515 1237L197 1010L197 1180L530 1409L696 1409L696 0Z" fill="#111" stroke="#111" stroke-width="45" stroke-linejoin="round" transform="translate(-8.62 0) scale(0.00757 -0.00757)"/><text x="0.00" y="0" class="t">0</text></g><g transform="translate(251.75 294.20)"><path d="M515 0L515 1237L197 1010L197 1180L530 1409L696 1409L696 0Z" fill="#111" stroke="#111" stroke-width="45" stroke-linejoin="round" transform="translate(-8.62 0) scale(0.00757 -0.00757)"/><text x="0.00" y="0" class="t">5</text></g><g transform="translate(311.50 294.20)"><text x="-8.62" y="0" class="t">20</text></g><g transform="translate(46.60 265.00) rotate(-90) scale(1 1.060)"><text x="-4.31" y="0" class="t">0</text></g><g transform="translate(46.60 231.93) rotate(-90) scale(1 1.060)"><path d="M515 0L515 1237L197 1010L197 1180L530 1409L696 1409L696 0Z" fill="#111" stroke="#111" stroke-width="45" stroke-linejoin="round" transform="translate(-4.31 0) scale(0.00757 -0.00757)"/></g><g transform="translate(46.60 198.86) rotate(-90) scale(1 1.060)"><text x="-4.31" y="0" class="t">2</text></g><g transform="translate(46.60 165.79) rotate(-90) scale(1 1.060)"><text x="-4.31" y="0" class="t">3</text></g><g transform="translate(46.60 132.72) rotate(-90) scale(1 1.060)"><text x="-4.31" y="0" class="t">4</text></g><g transform="translate(46.60 99.65) rotate(-90) scale(1 1.060)"><text x="-4.31" y="0" class="t">5</text></g><g transform="translate(46.60 66.58) rotate(-90) scale(1 1.060)"><text x="-4.31" y="0" class="t">6</text></g><g transform="translate(46.60 33.51) rotate(-90) scale(1 1.060)"><text x="-4.31" y="0" class="t">7</text></g><text x="202.85" y="17.10" text-anchor="middle" class="h">a</text><path d="M429.7 132.1h0M431.6 183.6h0M425.7 184.7h0M427.5 159.6h0" stroke="#d15200" stroke-opacity="0.42" stroke-width="3.5" stroke-linecap="round" fill="none" clip-path="url(#cb)"/><path d="M428.0 180.8h0M431.9 164.0h0M416.3 148.6h0M421.1 182.1h0M433.8 189.9h0M429.2 166.4h0M422.4 103.3h0M422.1 127.8h0M416.0 168.8h0M428.2 187.6h0M442.1 167.2h0M434.7 168.6h0M415.1 186.5h0M446.1 82.0h0M414.2 181.4h0M424.4 173.0h0M428.4 183.2h0M501.0 153.9h0M426.0 185.4h0M424.0 174.6h0M432.4 189.4h0M432.0 120.5h0M415.9 132.6h0M428.6 167.3h0M426.0 193.1h0M421.3 190.9h0M437.8 79.3h0M417.7 163.2h0M433.1 156.0h0M420.3 196.1h0M424.2 159.1h0M431.0 158.0h0M419.3 176.8h0M419.4 178.5h0M416.5 185.8h0M415.7 177.2h0M435.8 155.1h0M435.1 183.0h0M441.1 107.4h0M428.9 30.1h0M414.8 176.5h0M445.6 132.8h0M424.0 174.2h0M439.7 170.2h0M437.0 153.8h0" stroke="#d15200" stroke-opacity="0.8" stroke-width="3.5" stroke-linecap="round" fill="none" clip-path="url(#cb)"/><path d="M419.8 164.5h0M426.5 177.7h0M423.6 193.1h0" stroke="#d15200" stroke-opacity="0.42" stroke-width="3.5" stroke-linecap="round" fill="none" clip-path="url(#cb)"/><path d="M440.7 156.2h0M450.8 129.7h0M440.3 171.9h0M432.6 174.9h0M417.6 184.9h0M431.9 163.8h0M429.3 157.1h0M431.6 182.9h0M431.6 174.8h0M431.2 121.7h0M451.0 107.4h0M420.3 158.6h0M423.7 164.4h0M427.6 160.0h0M414.3 174.2h0M442.4 157.5h0M424.9 129.5h0M438.1 177.9h0M417.9 194.9h0M413.1 182.1h0M429.0 183.0h0M435.4 188.4h0M426.2 183.9h0M421.7 183.4h0M456.2 79.3h0M437.7 177.3h0M424.7 183.8h0M435.5 183.9h0M416.1 196.0h0M415.6 172.2h0M419.6 201.1h0M419.9 187.4h0M432.4 193.2h0M415.7 81.1h0M425.8 189.4h0M426.7 137.6h0M428.3 189.5h0M438.3 178.8h0M423.6 182.6h0M424.7 195.8h0M431.9 134.2h0M439.8 135.8h0M423.1 125.4h0M430.5 151.8h0M433.1 146.2h0M423.6 182.8h0" stroke="#d15200" stroke-opacity="0.8" stroke-width="3.5" stroke-linecap="round" fill="none" clip-path="url(#cb)"/><path d="" stroke="#d15200" stroke-opacity="0.42" stroke-width="3.5" stroke-linecap="round" fill="none" clip-path="url(#cb)"/><path d="M427.9 183.1h0M446.4 155.4h0M416.8 187.6h0M435.6 156.1h0M423.8 190.8h0M432.1 182.0h0M425.0 154.1h0M434.4 181.8h0M457.6 175.2h0M416.0 165.9h0M414.7 152.1h0M425.5 167.9h0M419.8 98.1h0M424.2 168.9h0M419.0 196.5h0M456.0 88.4h0M417.4 183.9h0M430.2 169.9h0M426.4 139.7h0M433.9 177.4h0M427.2 123.3h0M440.2 155.2h0M432.8 179.4h0M419.8 181.4h0M431.2 190.4h0M450.9 133.6h0M416.6 115.6h0M434.3 176.0h0M434.1 171.9h0M437.3 166.3h0M420.8 189.9h0M438.9 170.3h0M431.0 189.0h0M418.6 187.7h0M432.8 179.2h0M419.1 192.2h0M413.1 142.8h0M435.7 158.2h0M430.3 162.6h0M431.3 158.1h0M422.4 114.7h0M415.7 168.6h0M434.7 174.4h0M445.2 158.1h0M420.8 189.1h0M434.4 168.0h0M415.9 186.2h0M417.8 189.8h0" stroke="#d15200" stroke-opacity="0.8" stroke-width="3.5" stroke-linecap="round" fill="none" clip-path="url(#cb)"/><path d="M427.0 130.6h0M424.4 183.3h0" stroke="#d15200" stroke-opacity="0.42" stroke-width="3.5" stroke-linecap="round" fill="none" clip-path="url(#cb)"/><path d="M429.9 144.6h0M421.5 97.2h0M457.4 81.1h0M417.5 198.6h0M429.6 196.2h0M424.8 191.4h0M432.0 116.5h0M416.0 131.3h0M425.8 182.8h0M422.7 187.4h0M425.4 182.6h0M447.8 31.0h0M417.9 163.7h0M435.7 184.7h0M436.1 160.8h0M425.5 175.6h0M433.4 176.3h0M427.2 169.2h0M429.3 164.0h0M426.3 147.0h0M417.5 189.1h0M424.6 196.0h0M429.1 173.1h0M417.5 176.8h0M440.3 152.8h0M426.0 190.5h0M422.8 188.4h0M417.8 177.7h0M435.0 172.6h0M447.6 187.0h0M436.6 168.0h0M431.6 185.4h0M433.0 157.6h0M417.8 148.2h0M421.4 193.2h0M426.5 195.6h0M437.0 120.9h0M418.4 182.7h0M439.1 161.7h0M421.3 192.6h0M429.3 152.2h0M442.9 157.1h0M427.6 125.4h0M428.0 188.2h0M427.8 176.2h0M505.3 163.8h0" stroke="#d15200" stroke-opacity="0.8" stroke-width="3.5" stroke-linecap="round" fill="none" clip-path="url(#cb)"/><path d="M416.9 236.5h0M421.0 222.7h0M420.9 230.8h0M417.7 238.1h0M419.6 237.2h0M435.4 197.3h0M447.5 194.9h0M414.3 245.9h0M429.9 210.5h0M435.4 194.4h0M428.6 217.1h0M427.1 214.8h0M414.1 243.6h0M418.2 239.4h0M449.8 175.9h0M430.3 201.2h0M418.9 240.7h0M420.2 222.3h0M430.9 194.2h0M415.3 244.1h0M413.6 249.8h0M427.3 192.0h0M416.5 242.6h0M477.9 80.2h0M412.9 248.0h0M425.1 214.5h0M427.6 220.0h0M425.4 223.5h0M416.1 241.2h0M427.3 186.7h0M417.8 238.9h0M429.3 223.1h0M437.9 204.3h0M418.8 228.4h0M426.3 218.1h0M418.3 233.8h0M426.4 213.1h0M424.0 213.5h0M439.5 184.0h0M418.6 238.9h0M421.0 233.9h0M442.8 205.8h0M428.5 191.4h0M422.4 222.3h0M417.5 244.2h0M416.6 239.8h0M417.8 233.2h0M416.4 244.5h0M416.7 240.5h0M414.7 249.6h0M413.4 245.9h0M421.2 233.1h0M416.5 234.2h0M418.3 231.5h0M419.8 227.4h0M425.9 203.8h0M430.8 200.6h0M423.8 213.7h0M416.9 236.2h0M419.2 230.5h0M432.5 191.8h0M428.0 217.5h0M416.8 236.9h0M418.3 239.8h0M425.8 220.9h0M436.9 203.3h0M414.2 244.6h0M417.2 242.1h0M418.3 236.4h0M418.8 235.6h0M413.8 247.2h0M416.4 238.3h0M439.5 206.6h0M419.2 235.5h0M433.9 173.3h0M420.0 232.4h0M418.1 229.7h0M425.6 221.8h0M424.8 208.0h0M419.7 227.4h0M423.0 218.4h0M419.0 237.2h0M434.9 179.8h0M427.3 214.2h0M416.1 238.9h0M417.8 233.8h0M412.4 251.7h0M427.5 225.1h0M417.1 235.6h0M434.9 202.8h0M422.5 222.5h0M418.7 244.4h0M418.1 241.2h0M429.4 195.4h0M411.1 248.0h0M417.2 224.0h0M413.0 246.7h0M444.0 188.7h0M415.5 243.3h0M425.8 221.5h0M423.8 234.5h0M422.1 232.5h0M415.8 235.3h0M416.7 238.7h0M421.6 219.8h0M420.2 229.0h0M420.4 231.6h0M425.4 225.5h0M421.6 214.3h0M414.7 245.7h0M419.8 234.0h0M416.1 240.2h0M413.1 250.2h0M425.3 223.7h0M433.4 195.1h0M414.6 247.1h0M419.4 226.8h0M418.2 239.8h0M415.9 238.8h0M426.5 204.7h0M425.5 212.3h0M415.6 245.0h0M418.1 226.5h0M428.3 210.8h0M420.7 228.8h0M423.7 227.5h0M423.2 213.5h0M414.1 250.7h0M422.7 232.0h0M417.6 238.0h0M418.2 240.3h0M420.9 212.9h0M421.8 216.9h0M415.7 246.5h0M423.1 224.9h0M416.3 242.1h0M418.8 231.5h0M418.7 235.2h0M426.6 212.2h0M434.1 190.1h0M434.5 192.1h0M414.6 247.9h0M440.1 182.9h0M436.5 187.0h0M414.6 247.5h0M414.0 248.6h0M439.8 152.8h0M414.8 242.6h0M430.2 221.6h0M423.6 222.4h0M427.1 192.7h0M417.7 244.3h0M418.7 236.4h0M416.7 244.1h0M413.9 245.4h0M415.6 239.7h0M427.4 212.3h0M453.0 149.3h0M415.6 239.8h0M413.8 244.6h0M415.4 230.8h0M419.3 227.0h0M456.6 30.1h0M418.3 235.6h0M418.3 232.6h0M437.1 176.3h0M429.4 188.3h0M424.5 214.3h0M418.0 239.0h0M432.0 196.6h0M417.0 244.6h0M422.5 216.2h0M418.7 236.7h0M418.0 235.9h0M428.6 190.4h0M421.6 229.6h0M418.5 234.9h0M415.7 244.2h0M417.5 237.2h0M434.0 213.6h0M414.6 246.4h0M419.8 231.4h0M420.8 225.3h0M423.0 221.1h0M434.1 182.6h0M420.8 232.3h0M423.6 228.2h0M420.7 229.0h0M416.8 245.4h0M426.1 205.2h0M415.7 244.4h0M414.7 246.0h0M432.6 202.0h0M416.6 244.5h0M425.7 222.8h0M414.6 247.1h0M418.4 237.4h0M420.0 227.6h0M424.3 227.4h0M423.3 230.0h0M425.1 197.1h0M434.3 203.4h0M423.8 222.3h0M433.4 203.2h0M417.7 240.3h0M423.8 223.4h0M418.6 236.5h0M424.1 213.2h0M418.1 233.7h0M426.3 215.9h0M422.9 218.6h0M416.6 246.8h0M423.5 217.8h0M418.1 243.1h0M426.5 216.7h0M415.4 244.3h0M422.0 228.5h0M418.2 235.2h0M423.1 225.2h0M420.6 227.1h0M420.3 233.1h0M415.9 244.2h0M421.3 231.3h0M417.9 246.7h0M417.2 238.4h0M413.8 248.6h0" stroke="#174780" stroke-opacity="0.85" stroke-width="3.5" stroke-linecap="round" fill="none" clip-path="url(#cb)"/><path d="M420.5 225.8h0M420.4 214.0h0M420.0 236.7h0M415.8 239.5h0M422.1 215.0h0M420.2 227.5h0M453.5 156.6h0M417.8 235.6h0M426.1 218.7h0M437.5 191.3h0M431.6 205.6h0M416.0 242.2h0M427.7 222.6h0M422.6 227.6h0M415.3 242.3h0M421.2 233.1h0M427.9 216.5h0M417.9 242.3h0M420.1 226.4h0M419.4 232.5h0M421.9 226.2h0M434.0 173.7h0M427.4 204.5h0M426.5 200.3h0M445.8 173.9h0M461.3 142.8h0M444.5 201.4h0M421.8 209.1h0M415.6 249.5h0M418.5 234.9h0M429.6 192.4h0M418.6 230.7h0M421.5 230.1h0M414.8 243.1h0M428.6 201.3h0M422.5 223.0h0M431.2 196.4h0M415.9 232.0h0M423.4 219.5h0M415.8 239.0h0M423.2 217.7h0M416.2 241.7h0M421.8 226.2h0M426.1 216.2h0M439.6 167.0h0M433.4 206.0h0M423.9 213.1h0M412.4 248.8h0M427.7 210.5h0M423.3 223.3h0M419.1 234.9h0M423.9 208.5h0M420.3 233.7h0M423.2 219.9h0M420.6 226.7h0M422.5 221.5h0M414.9 245.3h0M422.4 227.3h0M414.2 245.5h0M415.7 245.5h0M422.9 225.9h0M425.4 227.3h0M448.9 158.1h0M427.5 218.1h0M419.4 229.7h0M415.6 245.6h0M418.0 242.0h0M423.4 223.4h0M415.7 239.7h0M419.8 226.1h0M412.2 249.5h0M415.6 246.4h0M421.2 229.8h0M419.1 228.8h0M416.8 236.8h0M426.8 210.8h0M425.8 215.4h0M431.0 202.6h0M442.0 156.6h0M419.4 234.9h0M420.6 224.5h0M435.7 212.6h0M424.9 212.6h0M417.0 243.5h0M415.4 242.3h0M423.2 234.6h0M424.9 228.9h0M429.9 218.6h0M428.7 215.6h0M416.3 238.5h0M421.9 223.1h0M419.1 229.5h0M416.7 242.8h0M421.9 238.0h0M439.5 180.2h0M455.0 144.6h0M428.1 222.2h0M426.3 210.5h0M436.2 167.5h0M427.2 201.8h0M417.3 237.3h0M417.8 236.3h0M421.5 221.6h0M422.8 231.4h0M416.1 239.4h0M415.8 239.2h0M436.2 183.7h0M431.9 199.8h0M418.1 226.1h0M438.4 176.0h0M416.2 239.1h0M425.9 216.1h0M417.2 238.4h0M418.9 241.6h0M415.1 241.9h0M422.1 233.1h0M422.0 235.2h0M419.5 233.7h0M422.2 215.5h0M429.4 207.4h0M419.5 227.6h0M416.1 245.1h0M424.0 208.9h0M420.3 225.8h0M415.1 247.0h0M431.2 204.6h0M437.1 188.0h0M415.5 239.6h0M428.8 225.9h0M418.2 233.8h0M431.0 203.4h0M431.9 199.4h0M424.4 211.8h0M418.1 239.7h0M431.3 210.9h0M414.6 244.0h0M421.6 237.6h0M423.7 223.3h0M420.7 224.8h0M415.8 242.4h0M417.1 242.9h0M437.2 211.6h0M423.5 220.8h0M430.8 215.1h0M421.8 231.8h0M413.5 251.8h0M425.1 216.6h0M423.7 234.4h0M413.3 247.7h0M423.9 214.8h0M414.0 245.3h0M415.0 246.8h0M413.9 249.5h0M435.2 182.2h0M418.2 240.8h0M439.6 176.3h0M424.3 214.4h0M417.9 239.5h0M439.8 171.3h0M424.0 221.6h0M415.7 235.4h0M421.1 214.2h0M420.6 230.9h0M441.8 189.5h0M417.4 229.3h0M416.8 240.1h0M423.3 220.1h0M424.9 224.2h0M421.3 215.2h0M417.3 240.7h0M422.3 226.5h0M417.0 238.1h0M422.5 229.7h0M420.8 218.6h0M415.9 238.6h0M419.4 235.5h0M419.3 233.5h0M423.0 222.5h0M416.6 235.2h0M439.8 178.7h0M420.5 230.8h0M430.5 211.5h0M418.0 241.9h0M430.3 192.1h0M442.2 164.7h0M417.8 238.3h0M414.0 244.2h0M425.9 202.6h0M416.3 238.9h0M412.4 247.8h0M414.2 246.1h0M426.2 229.2h0M423.9 229.7h0M438.2 172.6h0M414.9 245.5h0M423.3 231.3h0M417.1 242.0h0M425.8 221.1h0M422.1 222.7h0M447.8 162.5h0M468.8 80.2h0M421.4 222.2h0M416.5 236.5h0M421.8 227.8h0M418.7 236.5h0M418.0 240.0h0M435.4 163.2h0M419.8 241.5h0M418.6 225.7h0M417.3 240.8h0M414.8 242.8h0M422.7 229.2h0M470.2 113.9h0M414.7 241.6h0M431.5 181.4h0M440.3 187.2h0M415.8 239.3h0M429.1 202.6h0M422.7 209.3h0M423.6 202.7h0M415.0 240.5h0M428.7 214.8h0M423.4 228.6h0M423.6 228.6h0M424.1 216.2h0M415.5 242.4h0" stroke="#174780" stroke-opacity="0.85" stroke-width="3.5" stroke-linecap="round" fill="none" clip-path="url(#cb)"/><path d="M418.4 243.2h0M416.2 236.4h0M419.3 238.9h0M422.7 218.7h0M434.8 160.4h0M414.8 245.1h0M453.7 137.9h0M415.1 245.8h0M438.0 194.9h0M413.5 248.3h0M428.0 209.1h0M422.0 230.2h0M416.4 239.3h0M430.1 215.0h0M424.1 214.7h0M434.3 172.6h0M417.2 227.3h0M417.9 233.5h0M415.0 239.4h0M421.4 234.1h0M414.5 245.4h0M418.9 228.3h0M433.4 191.3h0M418.0 241.9h0M418.6 222.1h0M422.9 217.0h0M433.9 205.9h0M426.6 210.9h0M417.4 244.4h0M417.4 242.6h0M426.3 216.9h0M437.6 127.6h0M414.4 242.5h0M421.5 229.9h0M421.3 228.0h0M418.8 231.9h0M422.4 212.1h0M419.9 227.5h0M420.4 224.4h0M421.9 232.5h0M437.2 194.7h0M412.8 250.3h0M421.2 219.9h0M421.5 225.9h0M423.6 232.1h0M420.4 223.7h0M419.8 237.8h0M412.9 248.7h0M411.4 250.9h0M420.8 239.0h0M422.2 228.3h0M426.7 213.7h0M418.8 237.6h0M418.2 240.4h0M425.8 218.7h0M420.5 230.4h0M436.4 167.0h0M418.8 237.8h0M426.1 224.3h0M412.1 251.2h0M428.0 222.9h0M414.8 243.4h0M420.5 238.7h0M435.9 170.4h0M424.8 218.2h0M413.2 252.0h0M423.8 229.2h0M415.0 244.8h0M453.7 183.3h0M415.9 242.3h0M420.7 223.1h0M439.8 180.0h0M427.7 206.0h0M413.9 245.1h0M422.0 228.3h0M426.3 210.3h0M416.6 243.5h0M421.8 224.9h0M435.8 190.6h0M412.6 251.5h0M414.4 242.3h0M413.6 247.8h0M419.3 236.8h0M423.1 205.9h0M413.6 246.5h0M415.6 246.6h0M419.3 231.9h0M439.7 191.9h0M423.5 226.9h0M420.8 230.0h0M441.4 160.7h0M416.3 235.5h0M421.4 231.1h0M422.6 234.0h0M430.0 210.8h0M435.3 162.9h0M432.3 192.2h0M430.3 216.9h0M426.4 218.9h0M429.8 202.1h0M419.6 229.1h0M419.5 233.0h0M418.0 239.9h0M445.4 139.3h0M422.1 220.7h0M415.5 245.2h0M417.0 237.2h0M422.6 233.5h0M421.5 231.2h0M414.9 240.5h0M416.1 238.5h0M414.3 244.3h0M415.7 236.7h0M426.3 228.6h0M414.6 244.9h0M413.8 245.2h0M413.0 249.0h0M418.1 233.2h0M419.4 229.7h0M414.7 248.3h0M422.0 220.3h0M417.0 234.5h0M426.0 204.4h0M413.2 250.4h0M417.5 243.8h0M416.7 236.9h0M457.9 136.5h0M429.0 216.8h0M413.3 248.8h0M424.7 208.8h0M422.7 217.9h0M417.9 227.1h0M422.1 232.2h0M416.8 245.4h0M426.8 213.6h0M415.1 244.4h0M414.4 242.3h0M422.4 211.0h0M423.2 212.0h0M437.2 168.9h0M420.4 227.2h0M430.7 205.3h0M418.1 238.8h0M426.4 212.2h0M419.8 233.5h0M417.9 229.5h0M418.8 224.2h0M419.6 234.1h0M421.2 232.0h0M419.0 230.3h0M417.6 236.5h0M426.2 207.9h0M431.4 178.1h0M435.9 188.2h0M433.5 192.5h0M426.8 214.1h0M427.5 203.5h0M418.1 226.7h0M418.5 242.8h0M416.0 243.0h0M422.9 216.4h0M421.7 219.1h0M420.2 235.5h0M441.9 157.9h0M434.8 189.7h0M415.9 241.5h0M421.5 211.7h0M416.8 233.2h0M413.9 245.1h0M421.0 226.3h0M436.3 167.3h0M425.0 227.2h0M418.4 234.2h0M421.5 215.0h0M421.1 225.7h0M436.1 171.9h0M419.7 233.3h0M429.7 202.7h0M416.4 240.0h0M421.4 219.2h0M412.7 245.4h0M411.9 249.2h0M428.8 216.5h0M420.6 231.1h0M423.2 229.7h0M417.6 236.6h0M424.8 216.1h0M414.7 239.9h0M431.3 190.6h0M450.1 150.1h0M433.8 199.5h0M424.0 229.7h0M416.1 244.7h0M431.0 217.4h0M429.0 199.6h0M429.1 213.9h0M433.6 188.4h0M420.2 223.8h0M420.8 235.5h0M414.1 244.1h0M414.8 244.9h0M425.5 215.9h0M422.1 228.0h0M416.9 243.0h0M434.3 194.7h0M416.3 242.9h0M414.3 245.3h0M419.4 228.9h0M415.2 239.4h0M420.2 234.4h0M422.9 222.1h0M415.4 243.8h0M414.2 244.7h0M415.5 237.1h0M420.6 228.2h0M421.3 221.8h0M433.4 207.5h0M414.9 244.0h0M428.5 213.6h0M424.5 209.4h0M414.6 245.9h0M416.5 245.8h0M429.4 210.3h0M420.9 217.4h0M415.0 240.3h0M415.1 246.7h0" stroke="#174780" stroke-opacity="0.85" stroke-width="3.5" stroke-linecap="round" fill="none" clip-path="url(#cb)"/><path d="M418.3 237.0h0M415.0 242.8h0M423.0 202.9h0M418.1 239.4h0M416.7 233.3h0M423.5 234.9h0M414.5 249.4h0M420.6 218.0h0M432.6 210.1h0M455.2 116.5h0M416.9 243.4h0M435.8 210.2h0M435.7 172.5h0M414.5 247.0h0M414.5 245.4h0M421.2 227.6h0M412.8 252.1h0M418.4 236.0h0M419.7 239.1h0M416.3 240.3h0M424.7 221.2h0M419.1 225.9h0M416.6 239.0h0M431.5 212.5h0M417.3 234.3h0M422.1 219.2h0M414.9 242.0h0M413.2 250.2h0M421.2 224.8h0M425.8 226.3h0M424.7 213.9h0M422.8 229.2h0M419.8 230.7h0M418.3 231.6h0M415.3 232.9h0M412.8 251.9h0M431.1 207.1h0M425.9 204.4h0M442.4 165.8h0M437.3 150.3h0M416.5 240.7h0M418.7 235.3h0M418.5 238.7h0M417.2 241.5h0M417.3 237.1h0M438.1 200.3h0M427.1 221.1h0M420.2 215.4h0M421.0 230.1h0M429.6 208.0h0M415.1 242.9h0M429.7 217.7h0M417.1 247.7h0M414.9 244.5h0M420.8 224.1h0M417.2 238.9h0M422.2 235.9h0M424.9 206.9h0M414.3 246.5h0M415.3 245.6h0M414.9 242.6h0M421.9 236.2h0M418.3 230.2h0M416.2 238.1h0M413.7 250.2h0M425.1 216.0h0M431.6 202.3h0M441.1 164.5h0M425.5 209.1h0M424.9 230.3h0M413.8 245.6h0M415.3 246.1h0M435.1 193.3h0M432.2 166.0h0M416.2 237.4h0M418.7 241.8h0M423.2 233.6h0M422.0 228.3h0M424.1 228.1h0M418.7 240.3h0M425.5 211.1h0M418.3 236.1h0M417.3 238.0h0M423.1 232.8h0M429.9 190.5h0M416.3 244.6h0M418.0 234.5h0M433.4 196.6h0M417.1 240.3h0M434.2 182.8h0M421.2 234.2h0M430.1 195.8h0M466.2 103.3h0M420.5 234.2h0M417.2 236.3h0M415.6 238.9h0M420.3 240.6h0M442.6 145.5h0M422.8 231.2h0M430.8 218.0h0M432.1 211.0h0M417.6 241.1h0M429.0 217.6h0M422.9 227.7h0M413.0 249.5h0M415.5 237.3h0M422.4 230.0h0M424.5 204.1h0M422.6 223.1h0M417.0 238.4h0M418.4 234.0h0M424.6 225.7h0M423.5 218.3h0M424.1 217.0h0M417.0 236.4h0M416.4 240.4h0M416.6 241.7h0M417.6 242.3h0M412.9 252.2h0M425.7 219.5h0M421.4 228.6h0M417.6 242.2h0M422.4 226.0h0M422.0 229.4h0M421.5 230.1h0M420.4 232.6h0M418.1 243.7h0M433.4 189.6h0M417.7 226.9h0M433.6 191.4h0M424.5 209.0h0M419.8 229.1h0M411.9 249.9h0M415.7 246.2h0M413.2 247.3h0M447.0 132.3h0M433.4 193.9h0M433.7 206.1h0M427.8 213.3h0M428.8 211.0h0M420.5 240.5h0M437.3 187.1h0M418.8 238.3h0M419.2 234.6h0M422.6 221.1h0M412.0 252.5h0M415.8 242.4h0M419.8 223.1h0M426.3 224.0h0M426.2 204.5h0M417.7 239.4h0M427.9 217.5h0M416.8 238.8h0M418.8 243.0h0M413.7 247.6h0M438.9 187.8h0M417.0 231.9h0M421.5 211.8h0M418.8 229.6h0M429.5 208.2h0M423.8 223.2h0M414.0 248.9h0M417.0 232.9h0M412.1 248.9h0M435.5 177.1h0M420.2 231.2h0M413.6 250.7h0M414.4 241.0h0M448.7 174.3h0M413.7 247.6h0M418.5 229.8h0M426.4 220.8h0M428.4 207.9h0M424.5 225.2h0M422.2 213.8h0M422.3 223.3h0M417.0 238.3h0M431.8 181.6h0M441.9 192.9h0M426.4 215.2h0M416.8 233.7h0M434.2 202.7h0M411.7 249.1h0M423.2 221.4h0M427.5 209.3h0M422.3 230.1h0M416.3 240.8h0M416.3 238.3h0M411.8 251.6h0M417.9 242.2h0M419.7 212.1h0M413.4 248.1h0M422.0 200.5h0M431.7 219.1h0M433.4 205.3h0M417.6 237.9h0M415.3 238.4h0M420.5 234.7h0M417.3 233.5h0M414.5 246.4h0M429.0 205.7h0M419.0 234.4h0M431.3 205.9h0M432.7 192.8h0M416.3 235.9h0M418.2 242.3h0M415.4 238.5h0M423.3 213.6h0M424.3 219.8h0M420.1 219.3h0M423.1 229.6h0M415.9 242.7h0M420.9 233.6h0M417.9 231.9h0M423.9 222.3h0M422.9 226.8h0M417.9 233.7h0M427.0 186.5h0M423.7 218.6h0M430.3 214.6h0M421.2 218.3h0M420.5 228.7h0M415.0 248.7h0M433.0 185.3h0M424.4 210.3h0" stroke="#174780" stroke-opacity="0.85" stroke-width="3.5" stroke-linecap="round" fill="none" clip-path="url(#cb)"/><path d="M417.9 227.5h0M419.3 234.5h0M421.8 228.6h0M423.9 224.2h0M414.4 242.8h0M422.9 229.3h0M421.2 220.5h0M416.8 241.4h0M420.1 228.2h0M413.9 244.7h0M422.5 227.9h0M418.2 237.0h0M415.3 245.3h0M417.4 235.3h0M433.4 187.1h0M415.0 244.9h0M427.0 216.3h0M421.1 227.4h0M415.8 243.8h0M414.6 247.6h0M417.2 239.4h0M416.6 236.6h0M424.7 203.6h0M429.2 189.4h0M416.0 243.5h0M420.4 238.8h0M414.7 249.3h0M425.2 229.5h0M419.9 224.1h0M418.1 233.2h0M420.6 219.0h0M427.5 221.7h0M418.2 238.1h0M416.4 230.6h0M425.9 222.2h0M437.3 188.5h0M415.7 245.8h0M418.5 232.2h0M420.0 223.8h0M415.3 242.8h0M419.0 230.6h0M425.5 220.9h0M419.1 229.4h0M422.9 232.3h0M428.7 208.9h0M435.9 174.0h0M443.1 186.5h0M416.1 243.2h0M423.0 213.8h0M423.1 222.8h0M415.1 245.6h0M414.5 245.9h0M418.2 237.7h0M424.0 209.1h0M418.1 240.2h0M421.1 222.1h0M422.5 217.4h0M419.2 220.0h0M421.2 230.5h0M429.3 209.3h0M419.6 231.7h0M416.2 239.4h0M418.0 236.3h0M424.8 209.2h0M420.6 225.3h0M426.1 223.4h0M415.1 238.7h0M415.1 247.2h0M415.0 241.5h0M424.7 203.6h0M429.9 221.7h0M429.2 181.8h0M429.8 218.9h0M417.2 241.9h0M420.7 216.1h0M433.5 207.4h0M417.5 243.9h0M413.9 239.6h0M418.7 234.6h0M428.5 212.4h0M421.8 223.6h0M416.1 243.8h0M413.8 243.1h0M423.6 221.3h0M413.7 248.8h0M424.2 196.9h0M426.9 214.5h0M451.4 126.2h0M422.1 223.6h0M420.9 225.8h0M413.9 246.6h0M423.1 234.4h0M421.4 231.1h0M417.0 240.4h0M418.4 235.1h0M420.6 222.9h0M428.6 216.5h0M413.7 248.9h0M430.0 203.8h0M435.0 187.6h0M426.7 221.8h0M415.6 242.0h0M428.4 225.0h0M428.5 197.3h0M427.4 215.7h0M416.2 247.3h0M420.4 235.1h0M437.1 195.8h0M427.8 214.4h0M412.8 248.6h0M421.0 226.8h0M420.9 220.1h0M427.5 215.0h0M420.0 222.5h0M416.0 244.0h0M415.5 245.7h0M416.0 245.6h0M418.1 234.7h0M421.6 232.3h0M425.6 220.0h0M418.0 236.2h0M414.4 246.6h0M420.8 221.5h0M420.8 224.9h0M413.9 248.4h0M417.2 241.2h0M417.2 241.3h0M421.4 218.5h0M418.9 237.5h0M435.8 186.8h0M420.4 227.8h0M431.7 206.4h0M437.0 203.9h0M418.7 236.7h0M420.2 233.2h0M421.9 233.0h0M419.0 233.7h0M413.1 249.0h0M458.6 141.5h0M422.0 211.7h0M412.8 246.7h0M417.0 243.8h0M434.2 199.4h0M423.6 205.8h0M414.3 245.1h0M433.8 175.9h0M416.2 239.3h0M416.3 241.6h0M417.7 234.2h0M429.2 191.4h0M415.5 238.8h0M414.2 247.8h0M419.5 240.3h0M467.4 40.8h0M415.6 246.0h0M417.8 239.4h0M430.6 206.6h0M429.3 203.2h0M447.6 164.2h0M417.8 229.9h0M424.7 203.5h0M413.9 244.0h0M421.4 212.2h0M420.7 228.6h0M419.3 228.6h0M419.7 234.6h0M421.7 227.4h0M420.2 233.5h0M417.8 234.0h0M445.6 181.8h0M431.8 175.5h0M414.6 239.9h0M416.4 245.3h0M457.4 113.9h0M419.5 232.2h0M423.0 226.4h0M421.7 214.7h0M422.0 235.1h0M440.5 171.3h0M429.7 215.5h0M417.0 236.8h0M426.0 224.9h0M415.8 249.4h0M419.0 218.2h0M419.9 235.4h0M422.2 220.4h0M421.6 225.3h0M416.9 238.3h0M430.8 183.2h0M416.1 241.4h0M422.5 219.1h0M419.8 240.6h0M416.0 247.2h0M419.4 223.4h0M421.3 235.0h0M416.7 244.2h0M424.0 218.1h0M412.7 252.6h0M437.3 151.1h0M422.1 237.1h0M433.0 199.0h0M420.2 229.9h0M415.7 246.8h0M414.6 243.6h0M419.6 234.4h0M413.3 246.1h0M424.7 226.6h0M415.4 241.2h0M426.2 191.2h0M422.8 224.2h0M441.0 178.8h0M423.9 223.3h0M427.1 208.4h0M429.8 211.3h0M413.2 246.5h0M419.5 235.2h0M414.0 244.7h0M422.6 221.8h0M427.2 208.1h0M417.0 245.3h0M424.4 219.0h0M418.9 237.1h0M418.5 232.6h0M440.8 152.8h0M419.9 237.3h0" stroke="#174780" stroke-opacity="0.85" stroke-width="3.5" stroke-linecap="round" fill="none" clip-path="url(#cb)"/><path d="M419.1 221.3h0M422.0 224.0h0M434.3 154.8h0M422.2 216.3h0M424.6 214.5h0M417.2 227.0h0M419.1 227.8h0M418.6 235.6h0M418.3 239.4h0M417.9 233.4h0M425.0 217.1h0M420.0 225.9h0M419.5 230.4h0M417.2 240.8h0M426.6 205.3h0M414.9 233.6h0M416.9 234.4h0M426.7 206.9h0M415.4 248.4h0M416.7 240.6h0M432.7 194.1h0M419.8 226.5h0M418.4 232.2h0M418.5 236.2h0M421.7 229.0h0M428.1 216.4h0M423.3 215.7h0M423.5 215.0h0M431.3 197.2h0M425.8 205.4h0M415.4 246.7h0M423.1 210.5h0M432.4 184.9h0M426.0 221.2h0M413.0 247.5h0M424.4 218.6h0M418.6 233.3h0M429.8 218.6h0M422.8 226.0h0M418.7 225.7h0M432.5 189.8h0M414.7 243.0h0M418.6 238.2h0M416.7 228.0h0M425.2 218.4h0M426.0 217.3h0M426.8 201.2h0M439.0 170.8h0M417.3 234.6h0M421.4 226.6h0M421.3 235.1h0M414.4 245.5h0M415.1 247.4h0M418.9 233.1h0M418.4 236.4h0M427.9 197.5h0M414.1 247.8h0M419.4 229.9h0M417.5 237.4h0M425.8 216.8h0M430.9 218.9h0M425.9 218.4h0M419.9 232.0h0M429.4 206.0h0M416.7 239.3h0M413.8 250.9h0M415.1 248.2h0M415.8 245.7h0M443.7 153.3h0M420.0 225.4h0M414.9 250.5h0M434.1 202.9h0M414.4 247.6h0M416.2 247.2h0M431.2 201.1h0M427.5 217.8h0M428.7 205.2h0M424.6 227.4h0M439.1 178.4h0M414.2 245.0h0M432.2 175.0h0M416.1 244.9h0M426.4 208.0h0M419.2 238.2h0M424.9 214.6h0M422.8 215.5h0M418.0 242.9h0M419.9 233.6h0M444.1 150.2h0M425.2 224.0h0M414.5 245.8h0M424.0 223.4h0M432.2 184.3h0M414.2 250.0h0M425.4 224.1h0M417.2 241.2h0M422.0 226.2h0M417.7 230.4h0M414.9 243.9h0M419.6 231.9h0M418.4 231.0h0M435.4 215.8h0M429.8 196.3h0M423.8 211.5h0M417.2 242.1h0M427.3 203.7h0M426.5 223.4h0M417.5 237.5h0M420.0 227.3h0M419.8 220.5h0M428.9 228.3h0M441.9 127.9h0M418.4 240.1h0M431.7 193.8h0M413.2 249.4h0M421.3 204.5h0M428.4 210.4h0M429.4 214.2h0M426.7 215.6h0M418.7 235.1h0M418.3 227.9h0M413.4 249.6h0M425.6 216.2h0M420.4 225.0h0M471.5 79.3h0M416.7 233.3h0M442.4 190.7h0M417.0 232.2h0M418.0 234.6h0M427.9 221.5h0M423.0 225.2h0M416.5 243.3h0M439.7 176.1h0M451.8 149.6h0M414.8 245.9h0M430.0 216.2h0M414.8 238.8h0M422.0 230.1h0M435.0 190.5h0M421.2 220.2h0M413.9 245.0h0M413.6 246.4h0M416.5 241.6h0M422.6 220.6h0M416.7 238.5h0M426.3 213.9h0M416.4 236.1h0M429.5 203.2h0M425.2 226.2h0M429.8 203.1h0M429.0 218.9h0M418.9 234.8h0M417.2 233.5h0M422.4 221.5h0M420.6 222.9h0M417.7 234.2h0M436.5 178.1h0M419.3 228.9h0M416.9 236.7h0M415.3 249.1h0M437.3 160.3h0M428.7 209.4h0M425.7 228.2h0M427.6 216.6h0M413.4 248.6h0M415.1 245.4h0M416.7 246.9h0M418.5 234.2h0M421.3 227.8h0M432.8 204.7h0M422.2 226.9h0M417.1 241.7h0M437.2 177.3h0M417.5 236.1h0M421.0 225.1h0M456.5 139.2h0M419.3 230.3h0M428.0 218.7h0M418.0 243.2h0M418.5 218.6h0M448.5 175.5h0M420.2 232.2h0M423.6 214.7h0M412.4 250.4h0M420.4 239.0h0M415.6 241.2h0M425.5 219.2h0M416.8 241.2h0M434.1 183.2h0M417.4 246.6h0M427.0 204.5h0M416.2 229.8h0M420.2 227.5h0M420.7 235.9h0M434.8 181.1h0M438.0 164.1h0M440.9 175.3h0M417.1 237.0h0M428.0 211.4h0M423.9 213.7h0M424.0 201.2h0M423.7 200.6h0M417.2 235.1h0M429.3 220.4h0M422.1 236.9h0M415.4 241.8h0M428.2 222.8h0M415.8 242.4h0M418.1 244.5h0M418.2 242.7h0M417.0 241.9h0M439.9 161.5h0M470.8 127.5h0M422.4 227.0h0M425.6 218.3h0M424.4 227.0h0M417.6 233.3h0M427.6 205.1h0M416.9 238.4h0M416.0 238.2h0M431.5 185.8h0M417.6 234.2h0M426.4 188.9h0M433.8 200.0h0M419.7 231.2h0" stroke="#174780" stroke-opacity="0.85" stroke-width="3.5" stroke-linecap="round" fill="none" clip-path="url(#cb)"/><path d="M422.6 227.9h0M412.4 251.7h0M421.1 227.7h0M416.6 244.7h0M425.6 230.2h0M422.3 228.6h0M420.7 236.4h0M414.4 246.2h0M427.4 227.2h0M418.0 240.5h0M417.7 236.4h0M419.2 238.1h0M429.1 201.4h0M416.9 237.0h0M423.7 215.4h0M415.2 244.5h0M420.3 228.0h0M423.2 224.0h0M415.0 244.8h0M416.1 239.1h0M415.0 245.6h0M415.7 243.8h0M418.4 237.0h0M419.6 226.3h0M417.9 237.7h0M425.6 208.0h0M421.5 223.1h0M419.7 222.3h0M417.5 229.7h0M421.3 220.9h0M420.0 211.4h0M427.2 211.7h0M424.9 213.1h0M428.4 217.6h0M419.8 232.4h0M413.7 245.2h0M416.9 237.1h0M446.1 179.0h0M415.2 246.8h0M416.5 238.2h0M420.2 226.7h0M416.5 234.1h0M432.7 199.1h0M414.3 251.4h0M418.9 242.9h0M417.0 247.6h0M421.0 233.4h0M419.3 234.7h0M418.3 239.7h0M415.1 243.5h0M422.0 229.1h0M430.0 186.9h0M417.1 240.0h0M415.4 242.0h0M416.1 245.1h0M415.1 243.6h0M422.6 229.6h0M422.5 220.7h0M417.4 237.1h0M414.7 241.7h0M415.7 244.6h0M425.5 227.4h0M424.7 215.5h0M420.3 235.8h0M421.1 237.0h0M420.3 239.5h0M421.2 234.3h0M419.3 235.0h0M452.6 140.8h0M424.0 218.2h0M427.6 218.9h0M415.1 245.4h0M418.6 238.5h0M416.6 240.6h0M427.6 193.6h0M417.9 230.7h0M425.5 214.2h0M435.8 180.2h0M427.8 221.0h0M419.8 234.2h0M419.4 232.5h0M451.9 135.0h0M424.2 213.4h0M420.7 220.2h0M416.1 243.9h0M419.0 233.7h0M418.4 234.8h0M415.2 249.6h0M416.9 241.7h0M420.5 232.4h0M418.4 242.1h0M422.1 220.8h0M420.5 223.5h0M417.9 240.1h0M421.9 224.4h0M426.0 220.4h0M423.2 227.0h0M428.3 214.7h0M415.1 245.2h0M420.6 233.4h0M416.1 241.0h0M419.3 230.5h0M417.8 228.5h0M413.7 246.6h0M420.0 234.2h0M417.0 241.5h0M423.4 231.1h0M415.2 243.6h0M421.6 227.4h0M421.8 232.3h0M434.3 178.8h0M425.3 213.2h0M423.8 217.8h0M415.7 240.8h0M416.8 236.4h0M418.9 229.9h0M418.1 233.7h0M421.1 240.9h0M420.6 231.4h0M416.0 245.3h0M439.2 167.1h0M415.6 237.0h0M423.8 206.2h0M438.5 201.9h0M420.1 236.1h0M443.9 177.8h0M430.3 196.1h0M414.7 244.8h0M424.1 229.0h0M425.6 200.6h0M421.2 234.6h0M417.7 236.4h0M445.5 146.8h0M418.3 240.6h0M419.4 228.4h0M423.7 213.2h0M415.2 244.0h0M415.3 246.9h0M416.4 243.1h0M423.4 231.4h0M422.8 233.4h0M416.4 245.1h0M434.2 172.7h0M432.8 203.2h0M435.1 189.5h0M416.9 241.9h0M424.6 221.5h0M422.6 215.0h0M419.6 224.5h0M420.5 226.2h0M424.4 210.3h0M416.0 231.8h0M429.9 204.2h0M422.4 225.5h0M418.7 235.2h0M418.0 235.5h0M427.5 214.7h0M414.8 252.6h0M425.3 204.9h0M422.1 229.7h0M416.0 244.3h0M431.3 192.5h0M413.8 246.6h0M432.9 208.7h0M424.7 212.5h0M416.0 241.3h0M442.9 168.3h0M423.9 218.8h0M433.7 202.5h0M436.5 206.0h0M427.3 208.2h0M424.3 216.6h0M419.7 237.5h0M416.1 239.9h0M417.4 241.0h0M420.7 208.6h0M434.4 176.4h0M417.3 234.7h0M424.4 229.3h0M417.0 241.6h0M418.7 228.7h0M414.8 243.0h0M424.5 219.7h0M422.2 226.3h0M423.1 226.1h0M417.7 243.3h0M427.2 203.0h0M416.3 235.9h0M415.6 233.9h0M427.0 199.8h0M418.6 235.2h0M414.0 243.1h0M420.4 239.1h0M418.8 230.9h0M427.5 209.4h0M420.2 237.9h0M421.6 211.5h0M432.6 200.4h0M416.7 241.1h0M421.0 210.7h0M433.3 191.2h0M419.5 234.5h0M419.3 231.0h0M419.9 231.4h0M422.2 224.9h0M432.9 209.8h0M421.5 224.2h0M434.0 206.8h0M421.8 226.4h0M443.8 170.7h0M417.3 243.2h0M446.3 156.2h0M415.7 243.3h0M418.6 233.7h0M423.3 222.8h0M418.9 236.1h0M420.0 222.3h0M423.8 218.3h0M430.4 195.9h0M414.3 240.0h0M420.9 231.2h0M431.4 215.3h0M420.0 230.4h0M441.7 169.7h0M413.3 249.1h0" stroke="#174780" stroke-opacity="0.85" stroke-width="3.5" stroke-linecap="round" fill="none" clip-path="url(#cb)"/><path d="M414.3 248.0h0M418.0 234.5h0M419.2 231.1h0M421.8 222.4h0M465.0 85.3h0M424.7 223.1h0M440.9 130.0h0M426.7 196.5h0M417.5 236.5h0M421.6 231.0h0M430.0 192.6h0M416.3 231.3h0M426.5 225.0h0M415.8 242.3h0M413.6 246.6h0M425.0 222.9h0M418.3 235.4h0M416.4 240.3h0M425.3 192.0h0M422.7 223.2h0M422.0 229.4h0M421.7 214.4h0M417.4 239.6h0M418.7 234.8h0M418.7 235.5h0M434.4 196.3h0M416.5 240.1h0M416.3 241.8h0M453.4 165.3h0M421.4 239.6h0M418.9 226.9h0M424.7 231.0h0M418.0 237.9h0M415.0 249.0h0M420.6 228.5h0M420.3 231.4h0M417.7 237.8h0M420.4 229.1h0M417.1 237.5h0M416.5 240.9h0M414.2 242.8h0M413.8 247.0h0M426.8 209.9h0M416.2 235.7h0M425.2 216.0h0M417.0 234.9h0M417.0 242.3h0M429.8 228.0h0M434.8 175.5h0M429.5 213.9h0M413.1 252.3h0M420.0 221.5h0M425.5 218.5h0M429.5 212.4h0M425.4 214.4h0M429.3 198.7h0M423.9 215.5h0M414.7 246.3h0M428.2 192.9h0M417.5 236.6h0M420.5 240.5h0M448.4 134.7h0M439.4 180.3h0M412.8 248.5h0M419.9 231.2h0M427.1 221.8h0M412.1 251.2h0M423.2 225.8h0M421.1 234.4h0M429.9 219.0h0M416.2 228.8h0M425.5 211.1h0M415.5 239.8h0M423.2 207.8h0M412.3 251.3h0M419.4 225.7h0M421.9 214.1h0M417.8 236.3h0M418.0 236.7h0M440.7 162.6h0M413.5 249.7h0M433.1 186.1h0M418.5 233.1h0M419.4 219.8h0M418.3 238.4h0M434.5 189.5h0M423.6 205.0h0M420.2 229.4h0M421.9 232.3h0M418.0 243.0h0M448.0 195.4h0M426.0 213.7h0M432.7 215.0h0M415.7 243.7h0M415.0 245.8h0M424.3 229.9h0M415.3 241.8h0M417.0 240.9h0M426.1 195.8h0M420.6 236.0h0M431.3 171.0h0M418.4 230.2h0M418.5 245.0h0M415.6 243.2h0M423.3 229.4h0M423.7 225.4h0M445.3 164.4h0M425.6 205.8h0M429.4 209.2h0M417.9 239.2h0M416.3 239.4h0M418.0 237.4h0M418.7 226.9h0M421.9 231.4h0M416.6 234.8h0M416.3 239.8h0M416.4 243.9h0M432.8 207.5h0M420.0 229.5h0M417.3 241.0h0M420.1 231.0h0M417.3 239.3h0M412.8 245.8h0M422.2 243.3h0M414.3 248.6h0M427.7 204.8h0M417.5 238.4h0M420.9 227.7h0M424.9 231.2h0M420.3 234.3h0M416.3 243.7h0M427.1 218.6h0M416.6 237.6h0M428.6 223.6h0M413.6 245.6h0M418.5 237.1h0M435.1 200.5h0M428.0 207.6h0M428.5 182.7h0M413.2 251.3h0M424.8 226.1h0M425.6 211.9h0M419.4 229.9h0M419.4 226.5h0M413.9 249.5h0M416.0 241.6h0M420.1 238.2h0M418.4 239.5h0M418.5 232.3h0M429.4 217.8h0M423.8 226.6h0M419.0 234.7h0M422.1 224.9h0M414.9 243.3h0M412.9 250.3h0M453.4 87.6h0M414.2 242.2h0M418.6 239.6h0M414.5 247.4h0M431.1 193.3h0M416.0 247.2h0M425.2 222.0h0M431.2 198.0h0M417.3 242.1h0M422.3 232.0h0M421.8 235.0h0M422.6 230.3h0M489.5 31.0h0M432.2 206.9h0M422.1 202.1h0M418.9 240.3h0M413.8 245.8h0M419.2 230.8h0M420.5 226.7h0M423.7 231.7h0M421.3 223.4h0M430.4 212.1h0M425.3 222.9h0M425.3 226.5h0M423.0 217.5h0M430.3 206.4h0M422.4 225.4h0M428.5 204.2h0M434.5 187.1h0M428.7 209.3h0M427.2 226.1h0M418.8 238.9h0M413.1 252.7h0M418.0 240.7h0M424.3 214.8h0M416.1 236.6h0M421.9 215.3h0M416.0 243.9h0M426.0 209.8h0M437.8 190.4h0M416.9 240.8h0M416.6 241.6h0M423.1 220.7h0M421.7 235.9h0M415.6 245.9h0M422.2 210.9h0M431.2 204.6h0M423.9 217.4h0M422.3 222.3h0M437.1 176.2h0M422.1 211.9h0M415.9 246.9h0M424.4 227.3h0M417.9 235.5h0M414.4 240.4h0M414.7 242.3h0M420.5 229.8h0M421.7 224.6h0M414.6 245.6h0M434.9 188.3h0M424.2 222.8h0M425.5 233.2h0M419.0 236.8h0M418.6 230.1h0M425.7 208.7h0M419.7 235.1h0M415.2 246.3h0M415.7 234.7h0M418.5 236.4h0M412.2 251.5h0" stroke="#174780" stroke-opacity="0.85" stroke-width="3.5" stroke-linecap="round" fill="none" clip-path="url(#cb)"/><path d="M418.1 236.7h0M416.2 246.1h0M416.6 241.0h0M432.1 193.3h0M412.2 249.0h0M418.3 241.0h0M419.2 231.1h0M457.2 161.6h0M417.0 245.7h0M416.0 236.4h0M427.8 223.4h0M414.5 246.3h0M439.0 190.1h0M425.0 210.9h0M431.4 205.8h0M424.9 224.7h0M426.6 218.7h0M415.0 242.3h0M422.3 216.6h0M415.1 243.0h0M418.6 239.4h0M415.2 245.2h0M417.0 243.7h0M415.2 241.8h0M438.2 153.8h0M417.9 233.1h0M414.9 241.3h0M423.7 228.0h0M425.7 226.5h0M430.0 199.9h0M434.9 192.9h0M420.6 222.9h0M424.7 219.8h0M420.8 228.7h0M420.3 222.3h0M423.4 228.3h0M420.8 232.9h0M448.0 151.9h0M418.3 235.7h0M414.8 238.8h0M439.6 181.6h0M416.2 243.3h0M419.7 235.6h0M422.1 223.3h0M426.4 209.2h0M445.8 175.0h0M432.8 189.0h0M421.6 211.3h0M415.3 239.8h0M417.1 239.4h0M421.8 232.4h0M418.5 230.7h0M418.3 229.3h0M441.8 155.0h0M417.8 244.7h0M414.1 247.9h0M426.9 223.0h0M421.4 228.4h0M465.0 63.0h0M424.0 224.2h0M414.5 247.9h0M416.3 235.6h0M423.9 219.8h0M433.7 192.7h0M422.0 219.1h0M415.4 245.4h0M433.6 207.9h0M417.4 238.8h0M424.0 222.4h0M427.8 212.1h0M420.4 237.0h0M433.3 166.1h0M417.7 239.6h0M415.4 241.3h0M423.6 216.1h0M433.8 211.3h0M425.6 212.8h0M418.8 242.1h0M416.3 239.8h0M413.8 242.7h0M421.6 234.6h0M430.0 220.4h0M416.8 243.4h0M422.5 214.7h0M415.5 247.8h0M421.6 231.1h0M412.8 248.2h0M430.2 200.9h0M419.6 233.1h0M427.9 217.5h0M438.2 180.4h0M419.8 232.9h0M429.0 215.6h0M421.5 231.2h0M416.1 245.2h0M420.2 238.5h0M418.5 235.0h0M412.1 249.5h0M427.3 209.9h0M417.8 243.3h0M417.6 238.7h0M416.5 243.6h0M443.8 178.7h0M414.3 247.3h0M418.2 235.2h0M421.1 237.3h0M415.9 242.3h0M416.5 241.5h0M420.4 230.5h0M422.6 225.8h0M415.0 243.6h0M421.0 230.8h0M436.7 186.1h0M417.7 241.1h0M433.5 189.5h0M416.0 245.6h0M417.5 222.1h0M419.5 226.6h0M423.3 216.0h0M453.4 120.5h0M427.0 219.7h0M416.2 246.6h0M422.5 216.3h0M418.4 225.2h0M418.2 234.8h0M421.8 223.6h0M415.6 246.7h0M418.5 233.8h0M415.7 245.5h0M419.9 233.0h0M414.6 248.9h0M426.9 209.2h0M422.5 229.8h0M421.3 206.1h0M427.1 210.1h0M414.0 247.3h0M425.1 213.1h0M418.3 233.8h0M421.6 230.9h0M416.2 243.0h0M415.3 245.7h0M416.1 243.5h0M416.3 244.2h0M434.0 170.4h0M427.6 210.8h0M433.0 195.6h0M422.1 223.7h0M415.5 241.1h0M416.5 243.4h0M426.7 217.0h0M423.5 216.2h0M419.0 240.1h0M418.4 232.1h0M419.4 231.5h0M433.6 176.3h0M432.0 193.7h0M419.5 238.1h0M416.9 238.1h0M427.7 218.5h0M428.5 205.9h0M412.8 248.7h0M424.1 228.0h0M418.7 238.4h0M434.1 204.1h0M415.5 248.1h0M418.5 224.0h0M469.2 103.9h0M443.2 152.6h0M420.9 233.1h0M418.6 233.6h0M417.8 237.7h0M416.4 235.1h0M445.0 137.5h0M416.6 246.7h0M414.8 245.6h0M423.9 228.7h0M422.9 231.5h0M415.2 239.5h0M463.0 138.6h0M429.7 206.6h0M420.1 231.5h0M431.8 197.5h0M423.4 217.6h0M419.8 233.2h0M415.4 237.3h0M419.1 234.7h0M417.6 233.1h0M418.1 237.8h0M420.8 215.7h0M413.3 245.3h0M431.7 206.4h0M426.7 207.8h0M422.3 226.8h0M418.9 236.2h0M415.1 244.9h0M413.8 246.0h0M420.7 227.7h0M423.8 222.1h0M419.8 226.3h0M428.8 208.4h0M416.5 248.0h0M419.1 240.5h0M434.8 175.5h0M415.7 239.9h0M426.8 223.7h0M418.0 237.7h0M420.3 230.8h0M424.3 225.8h0M429.8 205.5h0M427.2 207.5h0M419.3 235.5h0M423.4 230.1h0M418.4 239.5h0M430.6 216.5h0M447.1 177.5h0M419.4 231.7h0M437.5 177.0h0M411.9 252.1h0M425.3 209.4h0M413.2 250.7h0M427.7 212.8h0M421.7 215.7h0M419.7 228.8h0M435.8 172.7h0M428.7 201.8h0" stroke="#174780" stroke-opacity="0.85" stroke-width="3.5" stroke-linecap="round" fill="none" clip-path="url(#cb)"/><path d="M424.3 222.3h0M420.9 223.3h0M422.0 228.0h0M419.0 239.3h0M416.0 239.8h0M421.2 224.9h0M419.0 238.7h0M425.2 217.0h0M415.8 240.5h0M426.2 223.2h0M427.2 198.3h0M421.7 228.8h0M419.4 228.7h0M415.9 244.5h0M421.3 232.3h0M425.3 232.7h0M427.3 204.8h0M424.3 212.4h0M416.3 240.0h0M418.4 226.7h0M422.0 228.0h0M419.5 234.4h0M432.4 195.1h0M420.8 231.2h0M420.3 218.2h0M418.6 239.6h0M422.1 232.7h0M421.5 228.1h0M414.9 245.9h0M429.5 212.3h0M427.3 207.2h0M420.7 223.7h0M417.8 239.3h0M425.8 210.8h0M415.7 247.7h0M421.5 228.1h0M415.0 238.7h0M417.7 233.7h0M437.6 194.5h0M436.2 185.7h0M425.1 215.1h0M440.2 175.0h0M414.3 246.6h0M427.0 190.2h0M420.4 235.4h0M418.1 233.5h0M422.9 220.9h0M414.1 250.3h0M423.2 227.6h0M416.3 241.8h0M426.7 210.9h0M417.8 227.6h0M432.5 212.9h0M416.9 243.3h0M443.3 135.5h0M428.9 183.0h0M417.5 243.9h0M414.3 246.9h0M416.3 240.9h0M416.0 245.1h0M419.0 236.9h0M421.6 231.9h0M424.3 205.4h0M422.7 212.0h0M420.8 213.6h0M423.8 219.3h0M422.0 231.8h0M424.1 229.6h0M417.0 236.1h0M416.9 239.1h0M415.8 248.7h0M434.0 203.7h0M417.1 238.6h0M420.5 227.2h0M424.1 223.4h0M426.3 217.3h0M417.0 236.7h0M415.2 242.2h0M461.2 188.2h0M423.5 214.3h0M432.7 175.9h0M435.8 183.4h0M426.2 210.6h0M422.1 233.7h0M427.4 220.9h0M419.3 232.7h0M425.4 218.5h0M417.3 243.3h0M417.5 237.2h0M418.1 226.6h0M420.6 224.0h0M413.5 245.1h0M430.8 199.7h0M415.7 237.0h0M418.1 228.4h0M424.6 219.6h0M417.5 239.5h0M421.1 231.2h0M423.7 235.2h0M443.2 186.2h0M414.5 248.3h0M424.8 210.9h0M413.6 248.1h0M411.9 251.6h0M414.5 248.6h0M428.4 202.2h0M418.9 230.3h0M418.2 239.7h0M416.2 235.0h0M417.4 235.9h0M430.2 199.4h0M429.2 202.2h0M417.5 239.1h0M412.9 249.2h0M414.7 245.8h0M419.7 241.1h0M462.5 135.0h0M425.3 206.5h0M415.8 245.9h0M417.3 229.1h0M434.9 167.8h0M418.0 244.8h0M417.0 241.3h0M430.8 204.3h0M419.9 225.9h0M458.3 117.0h0M421.1 225.5h0M419.6 232.3h0M418.3 231.8h0M427.6 209.5h0M417.9 236.9h0M438.3 199.6h0M428.8 209.9h0M421.0 225.9h0M427.0 218.2h0M425.0 220.6h0M422.5 212.1h0M426.7 220.4h0M419.0 236.4h0M416.5 236.3h0M438.1 189.5h0M414.3 248.4h0M424.4 204.7h0M454.5 81.1h0M416.7 233.7h0M414.5 239.0h0M412.1 251.8h0M415.3 246.0h0M423.0 235.6h0M423.0 221.0h0M421.4 228.0h0M419.8 233.8h0M415.1 244.0h0M419.3 225.2h0M417.1 241.1h0M416.8 229.7h0M412.3 251.5h0M413.9 248.3h0M450.4 174.3h0M423.8 213.5h0M423.0 221.5h0M413.8 247.4h0M454.2 154.7h0M426.3 197.2h0M415.7 240.0h0M447.7 179.4h0M416.8 236.9h0M423.1 218.1h0M416.3 241.0h0M423.9 221.9h0M417.7 231.7h0M415.7 238.9h0M430.7 214.1h0M420.8 233.3h0M422.5 232.0h0M413.2 248.3h0M420.7 237.9h0M424.0 218.8h0M418.2 241.7h0M416.6 244.7h0M414.6 242.8h0M419.2 226.6h0M427.5 216.6h0M424.7 214.7h0M427.5 187.0h0M419.7 234.2h0M429.0 213.9h0M413.5 245.9h0M432.0 205.4h0M422.7 228.6h0M422.4 230.3h0M418.6 227.5h0M416.8 238.5h0M459.7 30.1h0M414.8 244.2h0M421.6 226.3h0M418.7 238.3h0M419.3 237.7h0M415.8 246.0h0M424.0 219.0h0M432.5 207.7h0M418.8 236.3h0M417.1 233.6h0M415.6 240.8h0M419.9 240.9h0M424.0 224.1h0M419.0 221.8h0M417.1 245.3h0M431.6 194.3h0M422.6 220.0h0M416.4 240.6h0M430.0 205.4h0M421.2 225.5h0M420.0 233.7h0M422.2 224.9h0M422.7 223.1h0M420.0 225.4h0M428.8 200.8h0M418.8 238.4h0M416.7 240.3h0M419.1 237.4h0M414.4 247.2h0M418.0 231.4h0M431.1 185.2h0M428.2 222.7h0" stroke="#174780" stroke-opacity="0.85" stroke-width="3.5" stroke-linecap="round" fill="none" clip-path="url(#cb)"/><path d="M428.2 191.8h0M412.6 246.4h0M416.8 237.5h0M418.0 231.8h0M418.7 237.3h0M418.1 232.8h0M420.1 231.9h0M418.8 227.3h0M415.2 237.8h0M419.2 238.0h0M425.9 217.8h0M421.9 232.8h0M415.8 228.7h0" stroke="#d15200" stroke-opacity="0.42" stroke-width="3.5" stroke-linecap="round" fill="none" clip-path="url(#cb)"/><path d="M422.7 218.9h0M416.4 249.0h0M414.2 244.1h0M421.6 218.3h0M416.7 236.6h0M413.4 246.0h0M421.4 211.5h0M419.8 210.9h0M418.5 240.4h0M422.3 211.4h0M415.2 226.4h0M415.2 230.6h0M413.9 248.1h0M416.4 238.6h0M418.1 217.0h0M419.1 219.4h0M416.7 239.8h0M415.4 240.4h0M414.5 241.2h0M416.2 239.7h0M421.1 232.7h0M415.0 244.5h0M416.3 236.2h0M415.5 242.5h0M415.8 237.8h0M416.3 230.4h0M415.0 238.5h0M420.5 228.7h0M421.8 223.4h0M416.9 230.4h0M416.0 242.0h0M417.1 224.3h0M418.5 235.2h0M416.3 225.0h0M416.0 237.9h0M416.0 238.9h0M420.6 217.6h0M417.5 208.3h0M415.3 222.6h0M420.7 210.8h0M416.7 232.3h0M418.9 216.2h0M416.0 237.1h0M418.5 221.5h0M416.1 240.8h0M423.2 227.6h0M417.3 238.6h0M422.1 225.3h0M418.1 229.9h0M415.6 248.2h0M421.5 223.8h0M418.6 222.2h0M415.8 239.0h0M417.5 232.2h0M423.4 221.8h0M420.1 233.3h0M417.4 227.7h0M415.6 244.4h0M421.0 219.9h0M417.1 207.5h0M422.5 222.6h0M414.8 244.3h0M426.8 218.7h0M415.7 239.2h0M418.9 228.9h0M418.7 233.0h0M421.3 225.7h0M427.4 209.8h0M417.8 230.1h0M416.6 243.9h0M417.5 224.0h0M417.0 221.6h0M423.4 233.2h0M431.1 214.5h0M413.8 245.1h0M423.5 208.9h0M419.5 234.7h0M421.4 214.9h0M418.3 227.3h0M421.0 221.4h0M413.7 216.9h0M413.5 239.6h0M416.9 236.7h0M413.9 223.4h0M420.7 230.8h0M417.4 245.5h0M416.6 233.3h0M415.9 232.8h0M421.9 228.2h0M413.7 239.1h0M418.1 233.4h0M415.1 245.1h0M423.1 244.7h0M416.7 238.1h0M415.5 229.7h0M417.3 229.1h0M424.0 224.9h0M419.0 231.3h0M417.8 229.8h0M422.5 223.7h0M414.6 235.5h0M420.7 224.1h0M416.4 222.1h0M415.7 242.5h0M415.5 235.1h0M421.0 233.0h0M423.8 203.6h0M416.3 246.1h0M425.7 223.5h0M417.4 234.3h0M418.9 234.9h0M424.1 234.8h0M420.0 224.7h0M417.7 227.2h0M416.9 227.3h0M419.6 236.1h0M416.3 225.8h0M418.5 241.3h0M419.8 235.8h0M419.6 203.3h0M421.3 219.9h0M418.3 228.2h0M433.2 210.6h0M414.8 242.7h0M415.2 242.9h0M417.1 229.7h0M416.7 245.4h0M417.3 240.7h0M418.4 233.9h0M418.7 222.9h0M419.6 225.8h0M417.2 218.2h0M421.3 228.5h0M417.7 245.4h0M420.7 227.7h0M419.0 243.7h0M426.3 221.9h0M415.0 250.1h0M417.5 223.9h0M417.9 229.9h0M419.6 229.6h0M419.1 238.7h0M419.5 233.6h0M416.7 238.9h0M414.5 240.3h0M418.0 239.2h0M421.0 227.7h0M416.4 234.4h0M422.1 229.5h0M414.3 246.4h0M414.9 233.5h0M418.2 234.2h0M418.1 235.1h0M415.1 249.3h0M418.5 240.1h0M414.6 223.4h0M414.1 242.9h0M418.5 226.5h0M425.5 184.8h0M416.2 235.7h0M419.3 242.1h0M419.8 241.3h0M416.5 236.2h0M424.4 213.7h0M419.9 232.8h0M416.4 245.9h0M414.0 249.8h0M417.4 230.9h0M458.6 190.1h0M414.5 234.9h0M414.2 246.3h0M419.2 221.5h0M417.9 239.7h0M414.1 239.5h0M419.3 239.2h0M413.2 246.1h0M415.0 236.9h0M420.2 223.0h0M416.4 225.9h0M421.4 238.4h0M420.2 225.5h0M417.5 240.6h0M421.8 226.7h0M417.7 218.6h0M417.9 239.4h0M416.2 250.1h0M422.2 191.6h0M416.9 232.7h0M419.7 221.7h0M415.7 232.3h0M432.9 204.8h0M421.3 231.8h0M416.3 231.3h0M415.6 211.0h0M415.5 215.9h0M417.3 241.0h0M412.9 244.7h0M417.1 237.6h0M415.3 242.0h0M413.3 252.0h0M414.7 239.7h0M417.7 236.2h0M417.6 225.9h0M418.2 229.4h0M415.3 244.6h0M420.3 232.9h0M414.5 251.1h0M419.7 229.9h0M414.4 247.3h0M414.4 240.5h0M416.0 248.1h0M416.0 235.4h0M419.9 234.9h0M417.3 207.2h0M417.2 226.5h0M417.5 228.6h0M420.4 229.1h0M419.5 218.7h0M417.4 237.8h0M415.8 243.8h0M417.8 232.2h0M413.4 249.0h0M425.9 215.3h0M417.1 223.3h0M421.6 219.3h0M422.2 227.1h0M419.3 226.4h0M418.9 240.0h0M418.2 225.6h0M426.7 215.4h0M419.4 230.0h0M414.9 242.7h0M418.2 235.8h0M414.6 236.1h0M416.3 237.1h0M417.2 235.2h0" stroke="#d15200" stroke-opacity="0.8" stroke-width="3.5" stroke-linecap="round" fill="none" clip-path="url(#cb)"/><path d="M415.3 241.9h0M421.7 218.3h0M422.4 201.3h0M416.0 246.9h0M419.2 204.2h0M415.8 209.2h0M422.8 236.0h0M414.0 243.3h0M418.4 232.4h0M417.5 238.5h0M427.8 217.6h0M420.4 225.1h0M417.6 221.6h0" stroke="#d15200" stroke-opacity="0.42" stroke-width="3.5" stroke-linecap="round" fill="none" clip-path="url(#cb)"/><path d="M420.4 227.1h0M421.0 224.5h0M418.0 240.6h0M419.0 234.1h0M416.1 228.6h0M416.6 241.0h0M419.2 241.7h0M418.8 226.4h0M416.8 239.9h0M420.9 218.9h0M416.8 236.1h0M416.9 226.7h0M418.9 233.6h0M416.4 232.3h0M420.6 207.8h0M417.5 230.6h0M419.8 219.2h0M418.3 221.3h0M418.8 225.7h0M421.4 230.7h0M417.4 238.2h0M417.2 237.5h0M423.0 233.1h0M429.8 210.2h0M415.3 248.9h0M414.0 232.8h0M417.2 240.5h0M424.8 219.4h0M423.7 217.7h0M426.6 205.8h0M420.4 226.6h0M416.3 239.3h0M414.4 250.0h0M416.8 234.9h0M424.0 220.2h0M417.2 244.7h0M421.0 228.8h0M415.5 240.3h0M424.5 209.7h0M416.5 208.3h0M413.8 249.1h0M419.0 234.4h0M416.9 200.4h0M420.9 237.8h0M421.8 222.3h0M418.0 231.2h0M416.4 234.3h0M431.7 195.4h0M420.0 233.1h0M420.2 232.7h0M415.6 242.0h0M417.5 238.0h0M419.0 240.2h0M420.2 231.7h0M416.1 230.1h0M418.2 247.1h0M417.2 231.3h0M416.9 245.4h0M413.4 242.7h0M413.5 198.6h0M426.9 223.3h0M415.4 236.8h0M421.0 221.0h0M417.4 240.6h0M417.5 242.7h0M417.9 218.6h0M419.0 229.0h0M416.0 244.2h0M418.2 235.2h0M418.7 232.0h0M418.6 221.8h0M419.4 231.9h0M421.8 215.3h0M425.0 221.5h0M414.9 237.5h0M416.6 242.0h0M419.8 234.9h0M415.8 238.9h0M416.6 245.8h0M416.1 243.1h0M417.6 221.4h0M414.1 249.7h0M417.2 245.6h0M445.9 210.0h0M418.7 238.0h0M414.8 234.9h0M427.6 210.9h0M417.7 242.3h0M414.8 244.0h0M417.4 234.4h0M416.9 236.9h0M420.8 216.2h0M424.3 223.5h0M418.6 227.8h0M421.1 231.1h0M421.0 214.6h0M417.8 229.8h0M414.1 230.4h0M420.2 236.8h0M414.7 232.5h0M414.2 247.4h0M419.5 230.2h0M417.4 244.7h0M418.3 237.0h0M415.8 238.4h0M419.8 232.5h0M418.3 223.3h0M414.6 234.1h0M416.0 243.6h0M423.1 223.2h0M416.5 236.9h0M416.0 242.3h0M425.7 221.3h0M424.0 229.4h0M416.9 247.7h0M413.3 236.0h0M418.0 236.1h0M416.6 244.5h0M421.6 230.8h0M422.8 225.4h0M418.9 240.4h0M417.5 211.8h0M412.4 250.7h0M417.0 229.8h0M420.4 216.2h0M417.3 208.9h0M418.5 238.4h0M418.7 203.2h0M414.4 248.0h0M426.7 199.8h0M416.9 230.0h0M415.7 201.8h0M417.7 232.3h0M419.7 224.8h0M417.0 236.9h0M421.4 228.3h0M423.2 217.3h0M414.1 246.0h0M414.9 240.6h0M419.5 206.7h0M421.2 228.8h0M417.5 231.2h0M427.1 226.7h0M414.3 245.9h0M418.5 233.2h0M414.7 238.4h0M421.9 237.7h0M418.9 224.0h0M418.9 233.4h0M418.9 230.2h0M422.2 216.7h0M422.5 216.2h0M413.8 249.1h0M416.9 230.8h0M427.9 187.7h0M413.8 239.5h0M419.0 221.7h0M418.3 235.2h0M415.3 228.9h0M420.5 229.5h0M418.2 231.6h0M412.7 252.8h0M417.1 235.9h0M417.9 204.9h0M420.9 215.0h0M421.1 234.4h0M427.0 230.7h0M416.0 215.2h0M414.2 246.4h0M421.7 217.9h0M420.2 218.7h0M420.6 231.5h0M422.4 222.3h0M420.1 220.0h0M417.3 223.5h0M422.6 229.1h0M418.9 229.7h0M420.4 235.6h0M416.7 237.8h0M416.2 242.8h0M418.4 238.6h0M415.1 234.0h0M421.4 217.5h0M424.3 218.1h0M418.6 242.7h0M415.5 235.0h0M414.2 250.7h0M419.3 236.0h0M421.2 222.1h0M416.4 241.5h0M416.6 245.9h0M421.0 239.1h0M418.3 219.5h0M417.8 223.6h0M426.5 217.5h0M417.8 231.1h0M415.6 239.7h0M415.4 247.1h0M421.0 213.9h0M413.1 253.0h0M421.6 234.8h0M415.7 250.9h0M424.2 227.8h0M423.0 220.8h0M415.0 241.9h0M415.3 231.7h0M416.9 237.0h0M418.9 235.6h0M416.8 238.9h0M416.3 234.4h0M419.1 230.8h0M417.7 235.8h0M418.4 222.3h0M421.9 212.2h0M418.3 233.5h0M422.8 213.1h0M415.5 227.5h0M418.1 233.8h0M422.6 220.7h0M431.7 195.9h0M417.3 218.5h0M415.9 235.9h0M417.9 242.5h0M415.9 232.3h0M418.0 239.9h0M416.0 235.2h0M420.9 206.1h0M419.1 241.0h0M419.6 222.6h0M416.3 221.7h0M423.0 231.2h0M419.6 241.5h0M421.2 203.9h0M415.8 230.5h0M422.3 226.6h0M420.3 238.7h0" stroke="#d15200" stroke-opacity="0.8" stroke-width="3.5" stroke-linecap="round" fill="none" clip-path="url(#cb)"/><path d="M414.6 235.7h0M417.5 226.6h0M418.2 219.3h0M417.2 245.7h0M416.2 235.9h0M433.7 190.1h0M414.5 245.8h0M418.5 231.9h0M415.7 231.6h0M417.1 237.7h0M414.9 238.6h0M415.2 241.0h0" stroke="#d15200" stroke-opacity="0.42" stroke-width="3.5" stroke-linecap="round" fill="none" clip-path="url(#cb)"/><path d="M415.3 247.7h0M413.1 242.1h0M417.1 229.8h0M416.1 233.3h0M417.8 225.0h0M416.9 239.8h0M424.0 221.1h0M418.8 204.1h0M417.1 223.7h0M421.5 209.9h0M421.0 228.6h0M419.4 237.1h0M417.1 220.0h0M412.3 250.9h0M421.9 208.2h0M418.8 241.9h0M414.2 252.5h0M416.8 231.4h0M416.6 245.5h0M418.0 226.9h0M418.8 242.8h0M415.7 244.2h0M416.7 220.5h0M422.4 212.8h0M417.7 226.9h0M414.4 244.5h0M426.4 215.4h0M428.4 193.8h0M416.0 235.0h0M421.1 232.8h0M417.4 230.0h0M426.7 193.0h0M419.9 231.0h0M415.9 236.8h0M419.2 243.3h0M416.3 243.4h0M419.9 217.8h0M420.6 231.4h0M421.6 227.7h0M422.8 239.4h0M419.3 208.6h0M418.7 219.8h0M420.4 233.1h0M420.7 231.3h0M418.6 234.2h0M417.6 206.6h0M416.4 196.9h0M420.0 218.8h0M415.5 202.5h0M418.1 223.0h0M418.6 246.7h0M415.8 231.0h0M417.8 194.3h0M418.8 235.1h0M418.7 247.1h0M421.8 224.2h0M415.6 245.8h0M419.0 223.9h0M421.4 208.8h0M415.4 238.9h0M416.4 243.0h0M416.9 222.4h0M420.4 219.8h0M417.2 211.2h0M417.0 247.1h0M417.0 231.6h0M418.2 227.3h0M416.5 238.4h0M419.9 234.3h0M417.8 204.6h0M419.2 228.1h0M422.3 207.7h0M417.5 236.8h0M425.0 236.6h0M417.4 232.7h0M415.6 227.0h0M418.9 220.5h0M418.6 235.6h0M419.0 239.4h0M417.0 233.4h0M421.1 226.6h0M417.3 240.6h0M415.1 238.7h0M420.5 233.6h0M415.6 246.1h0M418.1 233.0h0M415.0 234.5h0M418.1 242.3h0M437.0 215.0h0M416.1 252.2h0M418.2 235.3h0M417.7 236.6h0M415.3 239.9h0M417.2 221.7h0M419.7 236.9h0M415.6 236.5h0M416.6 207.3h0M418.2 236.3h0M414.4 237.0h0M421.6 212.1h0M420.0 224.7h0M415.5 237.8h0M417.9 230.5h0M420.5 214.0h0M421.2 225.2h0M417.2 240.7h0M416.7 229.5h0M417.7 245.7h0M421.9 223.9h0M424.4 223.7h0M418.3 236.5h0M417.7 228.8h0M415.8 234.6h0M417.6 232.3h0M424.1 226.5h0M418.2 238.1h0M425.1 212.0h0M417.5 236.8h0M418.0 216.2h0M417.7 237.5h0M415.3 239.3h0M415.2 234.7h0M425.6 219.5h0M416.9 237.4h0M413.8 237.2h0M414.8 244.9h0M422.5 211.3h0M419.8 223.8h0M416.9 236.3h0M414.8 242.3h0M414.2 244.8h0M416.5 217.2h0M417.2 201.7h0M415.6 210.5h0M414.3 237.1h0M415.8 240.7h0M425.5 225.2h0M414.2 243.5h0M416.8 231.8h0M417.3 239.4h0M416.6 227.1h0M416.7 235.0h0M416.5 246.8h0M416.5 237.2h0M414.4 250.9h0M415.1 239.0h0M428.8 217.3h0M416.9 231.6h0M420.4 213.6h0M418.0 237.0h0M417.1 230.1h0M417.3 239.9h0M422.7 220.6h0M419.8 229.7h0M413.4 248.5h0M417.6 226.7h0M425.5 188.6h0M419.1 238.8h0M416.8 245.1h0M426.5 186.4h0M416.6 229.4h0M418.6 191.6h0M418.9 236.6h0M416.0 228.9h0M415.1 245.3h0M457.3 221.5h0M417.5 226.7h0M415.2 219.4h0M415.0 249.3h0M415.6 238.4h0M419.8 221.2h0M430.2 192.7h0M421.3 216.9h0M415.7 241.8h0M416.1 232.3h0M419.4 237.9h0M415.6 242.6h0M416.4 249.1h0M413.1 246.3h0M414.4 242.7h0M416.5 233.3h0M416.9 246.7h0M418.7 233.6h0M419.6 238.1h0M424.3 222.4h0M418.6 223.2h0M413.8 250.0h0M417.3 231.8h0M423.2 204.0h0M421.2 226.6h0M417.5 234.0h0M429.6 220.6h0M416.5 236.8h0M425.2 212.6h0M418.7 231.6h0M419.9 216.4h0M420.8 210.0h0M417.1 234.9h0M413.1 240.4h0M413.8 243.2h0M418.0 237.3h0M415.4 245.1h0M414.6 237.2h0M419.2 220.6h0M418.5 237.8h0M423.1 222.3h0M421.1 228.5h0M417.0 240.4h0M418.1 239.6h0M420.6 229.7h0M415.9 228.8h0M416.6 242.3h0M418.1 234.3h0M424.1 221.5h0M417.1 225.1h0M415.8 232.2h0M417.8 211.1h0M416.5 250.7h0M423.7 201.4h0M415.8 238.5h0M422.0 226.6h0M415.4 216.7h0M426.0 193.7h0M418.0 230.2h0M414.2 250.1h0M418.7 236.1h0M414.7 237.2h0M419.0 212.9h0M416.2 236.4h0M421.2 225.2h0M417.1 241.3h0M421.0 237.1h0M413.8 248.3h0M422.2 235.6h0M417.5 243.1h0M414.8 242.0h0M417.3 239.2h0" stroke="#d15200" stroke-opacity="0.8" stroke-width="3.5" stroke-linecap="round" fill="none" clip-path="url(#cb)"/><path d="M419.3 238.6h0M420.1 224.8h0M421.2 233.6h0M420.7 222.1h0" stroke="#d15200" stroke-opacity="0.42" stroke-width="3.5" stroke-linecap="round" fill="none" clip-path="url(#cb)"/><path d="M417.0 244.9h0M418.1 241.2h0M419.4 229.6h0M418.8 244.5h0M416.4 246.3h0M418.1 223.9h0M420.0 230.4h0M421.4 216.9h0M425.4 210.8h0M415.7 229.7h0M419.4 225.1h0M418.5 242.1h0M420.1 225.4h0M416.7 242.9h0M415.3 232.3h0M416.0 228.3h0M422.3 224.5h0M426.4 229.3h0M424.4 225.0h0M418.1 220.9h0M414.7 246.5h0M430.0 218.8h0M417.1 236.5h0M418.7 234.7h0M418.8 236.6h0M413.3 249.3h0M417.8 234.5h0M417.6 238.2h0M418.1 231.2h0M416.0 238.1h0M417.7 242.4h0M416.1 229.6h0M418.3 235.5h0M422.0 227.3h0M419.5 227.2h0M418.3 228.2h0M420.1 223.1h0M416.8 238.3h0M419.3 215.1h0M418.9 236.9h0M418.6 238.0h0M418.7 225.1h0M420.3 235.0h0M414.9 238.9h0M424.7 217.7h0M419.7 226.7h0M413.8 242.4h0M416.4 241.0h0M420.0 234.5h0M417.1 232.7h0M416.0 240.6h0M417.2 240.4h0M415.8 236.2h0M418.3 232.8h0M423.2 224.2h0M417.3 244.1h0M414.2 233.4h0M419.8 230.0h0M418.3 205.1h0M416.9 246.5h0M416.9 248.0h0M422.5 217.2h0M413.7 250.1h0M415.4 233.2h0M413.9 223.4h0M423.1 219.6h0M417.0 228.4h0M422.2 226.9h0M416.2 241.1h0M420.3 198.7h0M421.1 230.0h0M420.2 220.8h0M427.6 201.3h0M415.9 242.5h0M417.9 231.7h0M415.5 247.2h0M421.3 210.4h0M414.4 238.7h0M426.9 213.8h0M419.3 217.1h0M425.9 212.9h0M419.6 224.6h0M413.2 237.6h0M417.5 227.3h0M415.7 240.3h0M413.7 224.6h0M418.0 237.5h0M416.6 232.9h0M415.0 239.3h0M419.0 242.2h0M417.0 233.1h0M418.3 236.3h0M417.1 229.6h0M414.2 243.8h0M415.1 240.5h0M416.1 228.9h0M413.5 245.2h0M422.6 220.7h0M418.6 240.3h0M422.7 230.8h0M413.9 245.8h0M412.8 248.3h0M416.2 232.0h0M416.3 242.6h0M419.0 230.2h0M420.8 223.0h0M419.8 241.0h0M425.3 217.6h0M417.2 245.8h0M415.4 246.4h0M417.8 216.8h0M419.7 219.7h0M416.0 242.4h0M419.1 229.4h0M417.0 237.7h0M417.5 234.9h0M417.9 227.3h0M415.8 228.9h0M416.5 246.1h0M417.6 230.5h0M418.4 247.7h0M418.3 226.4h0M420.5 213.2h0M418.5 247.7h0M413.9 219.7h0M416.1 240.8h0M417.7 239.0h0M425.8 216.9h0M416.5 242.1h0M416.4 236.1h0M416.4 243.6h0M414.1 239.8h0M414.5 219.1h0M433.6 190.4h0M419.6 235.2h0M417.9 233.1h0M413.6 245.5h0M415.8 242.0h0M417.1 240.3h0M425.0 219.1h0M418.7 237.6h0M423.8 207.8h0M421.0 226.2h0M417.7 222.3h0M416.7 223.2h0M413.8 242.1h0M416.0 240.5h0M420.5 235.2h0M415.3 249.3h0M417.1 231.4h0M419.2 229.9h0M418.7 238.1h0M418.0 229.4h0M414.8 238.9h0M414.4 235.8h0M418.8 227.5h0M420.5 227.5h0M423.5 228.4h0M419.1 219.7h0M420.8 231.4h0M416.4 248.5h0M418.1 232.1h0M416.6 232.3h0M419.8 192.5h0M418.1 231.6h0M427.4 207.7h0M420.6 221.2h0M416.4 237.3h0M414.7 195.3h0M418.1 226.1h0M418.0 239.2h0M415.3 240.7h0M426.5 188.4h0M417.4 226.2h0M424.1 244.6h0M418.5 228.1h0M421.4 204.3h0M417.8 237.5h0M415.8 234.8h0M418.4 237.2h0M413.8 241.9h0M416.2 248.9h0M416.9 231.2h0M417.6 233.5h0M417.1 241.5h0M415.3 235.0h0M420.3 236.1h0M417.3 238.9h0M415.0 236.2h0M418.5 222.5h0M415.5 232.0h0M423.1 219.4h0M415.4 243.7h0M418.5 230.9h0M417.0 237.6h0M417.9 220.2h0M417.7 231.0h0M416.3 217.8h0M418.0 234.6h0M415.6 237.4h0M415.2 242.8h0M420.0 224.1h0M414.0 239.0h0M414.2 242.9h0M420.1 211.8h0M420.8 226.1h0M416.2 229.2h0M420.4 223.1h0M415.3 242.4h0M414.4 210.4h0M417.0 238.0h0M417.1 216.5h0M420.7 231.1h0M422.8 216.6h0M415.9 211.7h0M418.4 237.1h0M417.2 199.5h0M415.7 242.7h0M427.5 186.5h0M414.1 242.0h0M416.3 242.1h0M415.1 243.3h0M417.8 220.8h0M420.6 236.6h0M420.5 216.8h0M417.6 228.0h0M422.3 205.2h0M415.1 247.0h0M417.9 237.1h0M424.1 224.4h0M416.1 220.4h0M414.4 241.6h0M412.9 237.6h0M419.6 234.5h0M417.8 232.8h0M416.4 238.0h0M417.3 233.4h0M417.5 232.1h0M419.5 241.4h0M416.8 233.6h0M419.2 224.0h0M419.6 242.8h0M414.8 242.0h0M423.6 229.4h0M423.0 228.9h0" stroke="#d15200" stroke-opacity="0.8" stroke-width="3.5" stroke-linecap="round" fill="none" clip-path="url(#cb)"/><path d="M431.9 206.2h0M416.7 240.1h0M418.1 210.1h0M414.0 245.4h0M415.6 238.7h0M417.1 237.9h0M418.1 237.0h0M416.6 235.7h0M422.6 233.5h0M421.2 215.9h0M417.2 235.7h0M418.2 228.9h0M423.0 234.2h0M420.0 233.1h0M414.7 227.5h0M415.2 209.1h0" stroke="#d15200" stroke-opacity="0.42" stroke-width="3.5" stroke-linecap="round" fill="none" clip-path="url(#cb)"/><path d="M416.8 228.2h0M416.0 234.5h0M423.1 231.4h0M422.9 220.4h0M418.3 230.6h0M417.9 227.1h0M417.6 231.1h0M423.2 221.2h0M417.9 202.2h0M416.1 246.7h0M414.1 242.4h0M419.8 205.4h0M418.3 229.2h0M419.5 209.0h0M419.4 216.7h0M419.8 235.4h0M417.7 228.1h0M415.3 245.3h0M417.9 242.1h0M415.8 235.0h0M415.9 238.9h0M417.3 234.9h0M414.2 247.5h0M418.8 238.5h0M418.5 238.7h0M414.3 249.6h0M420.4 227.5h0M416.2 221.2h0M414.5 245.3h0M418.7 231.4h0M420.8 217.0h0M419.0 203.6h0M415.9 228.9h0M423.6 218.4h0M413.1 252.5h0M416.5 236.3h0M418.6 205.6h0M420.0 228.3h0M416.8 240.7h0M415.3 227.8h0M421.7 195.8h0M418.1 237.5h0M419.5 241.4h0M439.0 192.6h0M419.5 237.9h0M421.1 222.4h0M415.8 229.7h0M417.4 238.8h0M418.3 241.6h0M421.7 228.4h0M416.0 239.1h0M417.0 238.3h0M419.5 206.6h0M422.6 232.3h0M419.9 230.5h0M413.8 248.4h0M415.6 241.9h0M420.7 208.0h0M415.2 248.9h0M421.8 241.0h0M421.5 232.7h0M420.9 234.7h0M420.2 218.8h0M417.5 229.2h0M417.6 239.9h0M418.3 240.5h0M418.4 216.1h0M417.4 236.5h0M415.3 225.5h0M427.7 200.8h0M420.6 226.2h0M418.0 229.5h0M415.7 230.2h0M422.2 208.9h0M418.7 217.2h0M413.9 234.9h0M414.3 244.8h0M419.8 223.8h0M418.9 237.5h0M419.8 230.7h0M416.3 224.8h0M418.1 226.1h0M415.7 201.8h0M416.5 239.1h0M418.2 236.6h0M419.2 228.5h0M418.1 231.4h0M415.4 241.0h0M417.5 241.1h0M413.3 229.0h0M418.2 220.0h0M419.1 223.7h0M419.2 228.5h0M417.1 228.7h0M418.3 239.5h0M419.2 224.5h0M417.9 219.4h0M416.2 228.6h0M417.0 245.7h0M422.0 236.5h0M415.6 238.0h0M420.6 234.9h0M416.8 236.4h0M417.1 216.5h0M414.7 238.0h0M421.3 232.1h0M415.4 236.3h0M415.3 239.0h0M417.9 240.4h0M418.0 236.1h0M434.7 189.4h0M418.7 232.5h0M423.8 223.6h0M415.1 235.2h0M416.3 234.2h0M415.3 229.7h0M420.9 209.7h0M415.3 243.3h0M421.4 220.2h0M421.3 225.3h0M418.1 237.3h0M414.5 244.3h0M417.6 238.5h0M415.8 237.8h0M416.3 237.5h0M416.9 226.5h0M419.2 225.7h0M415.3 241.1h0M414.2 243.7h0M417.8 230.7h0M418.1 226.4h0M421.6 230.8h0M415.7 228.7h0M415.0 242.1h0M416.8 238.3h0M417.6 217.2h0M418.0 236.6h0M412.9 246.8h0M419.4 229.0h0M424.2 237.4h0M414.5 244.6h0M414.8 246.2h0M414.1 241.4h0M417.6 232.6h0M418.8 238.9h0M417.2 237.9h0M418.9 241.4h0M418.1 240.1h0M419.9 226.5h0M414.3 248.1h0M416.4 232.3h0M413.6 241.7h0M416.4 242.2h0M419.5 239.4h0M415.3 238.9h0M418.7 235.6h0M420.0 215.3h0M414.4 249.3h0M414.7 236.8h0M419.0 230.6h0M415.9 241.1h0M421.0 185.7h0M413.9 240.8h0M421.2 222.6h0M414.7 251.3h0M414.6 235.6h0M417.2 230.2h0M425.7 215.5h0M420.0 222.3h0M420.2 237.1h0M414.6 225.7h0M418.6 239.4h0M416.4 216.6h0M418.0 230.5h0M416.2 239.1h0M412.7 250.6h0M417.5 233.7h0M418.0 242.3h0M416.7 207.9h0M423.3 231.3h0M415.7 242.7h0M414.7 246.3h0M415.9 219.9h0M418.1 231.0h0M416.6 237.4h0M414.5 242.6h0M419.5 227.0h0M420.3 224.0h0M418.5 231.0h0M418.7 233.6h0M417.2 234.6h0M415.1 238.4h0M414.1 243.6h0M417.1 231.5h0M422.7 227.8h0M421.7 241.5h0M419.7 222.1h0M418.2 237.9h0M421.3 231.7h0M416.8 238.4h0M418.8 240.2h0M417.2 244.7h0M418.5 236.4h0M416.5 227.1h0M420.9 219.4h0M421.9 233.8h0M432.3 219.6h0M419.3 234.0h0M420.5 234.6h0M415.5 251.8h0M421.0 230.6h0M415.2 232.8h0M417.3 241.1h0M418.8 229.6h0M414.1 239.4h0M418.5 240.0h0M418.1 230.5h0M415.1 235.8h0M415.7 237.2h0M431.7 194.3h0M417.7 229.9h0M418.3 229.1h0M415.2 232.5h0M416.4 238.2h0M413.2 238.8h0M413.4 247.6h0M415.9 238.6h0M416.8 239.4h0M419.9 213.2h0M422.3 211.4h0M417.3 236.9h0M415.8 210.7h0M421.5 216.6h0" stroke="#d15200" stroke-opacity="0.8" stroke-width="3.5" stroke-linecap="round" fill="none" clip-path="url(#cb)"/><path d="M417.1 216.4h0M416.4 237.6h0M416.5 244.0h0M421.7 201.8h0M417.5 226.3h0M414.4 235.5h0M417.1 232.6h0M417.9 223.5h0M416.8 228.2h0M419.0 220.4h0M416.1 234.7h0M416.2 247.0h0M423.0 231.4h0M419.0 235.4h0M421.0 234.3h0M415.5 242.3h0M417.5 235.1h0M420.0 238.2h0M419.2 234.0h0M414.8 240.7h0" stroke="#d15200" stroke-opacity="0.42" stroke-width="3.5" stroke-linecap="round" fill="none" clip-path="url(#cb)"/><path d="M422.0 202.1h0M425.0 218.5h0M417.5 202.9h0M419.1 201.1h0M418.5 225.8h0M416.3 232.1h0M415.1 237.4h0M414.9 240.2h0M422.0 218.9h0M416.7 246.9h0M418.6 241.6h0M420.2 224.2h0M417.3 235.8h0M413.7 249.3h0M420.2 232.9h0M418.6 217.1h0M415.4 241.5h0M418.0 234.5h0M414.9 240.0h0M416.9 239.8h0M413.9 244.6h0M419.3 235.2h0M420.4 234.1h0M419.7 244.9h0M419.0 232.4h0M420.5 235.9h0M415.0 241.9h0M414.7 232.9h0M417.1 208.6h0M417.4 235.4h0M420.8 236.4h0M422.4 218.0h0M418.5 232.5h0M419.2 236.5h0M418.1 236.2h0M419.7 227.1h0M412.8 240.6h0M417.9 208.0h0M421.2 228.9h0M422.5 228.8h0M416.8 234.9h0M415.4 237.8h0M417.9 232.3h0M417.3 236.0h0M416.0 243.9h0M418.4 217.5h0M417.0 233.7h0M418.2 234.4h0M421.2 224.2h0M418.6 226.9h0M418.5 231.7h0M418.5 242.5h0M418.3 232.3h0M416.1 240.4h0M418.9 225.3h0M418.8 243.4h0M418.3 216.6h0M417.7 231.0h0M416.4 222.6h0M421.5 199.5h0M414.2 234.6h0M417.2 242.9h0M418.2 238.2h0M423.2 224.6h0M415.8 234.8h0M417.2 234.3h0M418.3 220.1h0M423.0 226.0h0M418.6 224.2h0M419.9 229.2h0M419.9 239.7h0M418.7 235.3h0M417.9 245.0h0M416.9 242.0h0M423.1 211.5h0M414.6 237.0h0M417.4 241.0h0M416.1 242.4h0M418.4 221.7h0M416.9 241.9h0M416.5 231.1h0M417.1 212.9h0M415.7 246.4h0M421.2 210.0h0M417.0 240.9h0M416.1 243.0h0M420.7 225.5h0M417.9 233.7h0M418.2 229.2h0M418.4 239.9h0M418.8 229.9h0M420.4 234.3h0M413.1 246.5h0M418.0 248.3h0M416.0 235.9h0M422.6 217.4h0M416.3 245.8h0M419.3 233.3h0M425.0 224.3h0M416.8 232.9h0M415.2 224.4h0M415.6 210.2h0M417.0 236.7h0M417.0 238.9h0M422.3 221.3h0M416.7 242.5h0M421.3 226.9h0M416.8 240.2h0M415.0 242.1h0M419.4 235.5h0M416.5 239.3h0M416.8 231.1h0M421.7 235.0h0M420.4 235.4h0M418.4 236.7h0M421.9 195.4h0M421.4 218.3h0M420.3 242.3h0M417.5 238.7h0M416.6 235.8h0M415.1 230.7h0M418.8 209.1h0M414.6 251.1h0M419.4 232.4h0M417.5 234.5h0M430.7 213.6h0M417.7 236.3h0M413.7 250.0h0M417.2 233.2h0M418.0 230.6h0M417.7 227.4h0M416.8 234.7h0M417.9 225.3h0M416.7 241.1h0M417.8 218.9h0M419.0 234.9h0M419.0 222.8h0M418.8 236.2h0M422.1 224.4h0M415.7 222.3h0M417.0 230.8h0M414.0 247.9h0M414.0 235.2h0M415.9 220.2h0M422.2 238.8h0M416.4 232.0h0M419.2 223.5h0M415.1 232.4h0M422.6 196.5h0M418.5 230.1h0M422.6 227.2h0M416.5 243.3h0M419.4 236.6h0M415.3 247.5h0M430.7 193.2h0M418.2 226.2h0M417.0 222.8h0M415.0 243.8h0M415.3 234.2h0M415.3 234.6h0M418.0 228.9h0M421.1 224.5h0M416.9 240.5h0M416.4 232.5h0M420.6 234.6h0M416.1 234.7h0M414.3 246.5h0M423.7 202.3h0M418.0 240.0h0M415.3 230.2h0M414.8 237.2h0M418.1 231.3h0M419.0 242.8h0M419.5 234.2h0M414.7 236.1h0M416.5 238.6h0M415.9 243.4h0M418.3 237.5h0M414.8 239.2h0M416.7 237.9h0M414.0 213.9h0M418.5 234.0h0M417.4 239.9h0M419.1 229.1h0M421.8 233.6h0M416.5 245.3h0M419.6 215.2h0M414.1 237.3h0M423.0 220.6h0M416.3 243.6h0M421.1 231.4h0M417.8 241.3h0M415.6 236.5h0M425.9 212.0h0M413.1 245.2h0M418.1 206.7h0M419.4 237.6h0M417.1 232.2h0M422.5 216.6h0M413.7 246.2h0M418.3 226.3h0M418.4 225.1h0M417.4 238.4h0M417.7 215.4h0M416.3 227.1h0M419.3 227.4h0M427.5 196.6h0M416.8 223.9h0M415.8 233.5h0M417.0 230.4h0M413.7 252.6h0M417.6 221.1h0M415.6 238.8h0M415.8 244.6h0M418.0 233.7h0M417.6 230.7h0M421.4 204.6h0M419.8 222.3h0M417.2 236.5h0M421.6 228.7h0M414.8 241.8h0M417.8 225.3h0M416.4 235.3h0M416.1 236.8h0M416.1 241.4h0M416.4 241.6h0M419.9 220.3h0M416.4 244.6h0M420.7 228.1h0" stroke="#d15200" stroke-opacity="0.8" stroke-width="3.5" stroke-linecap="round" fill="none" clip-path="url(#cb)"/><path d="M414.6 245.8h0M416.3 237.0h0M421.2 230.5h0M420.9 242.5h0M416.8 219.5h0M418.5 233.0h0M414.2 248.2h0M417.8 241.3h0M419.5 222.7h0M422.6 191.0h0M421.4 230.9h0M419.5 226.7h0M413.2 246.5h0M414.1 245.1h0" stroke="#d15200" stroke-opacity="0.42" stroke-width="3.5" stroke-linecap="round" fill="none" clip-path="url(#cb)"/><path d="M415.5 226.7h0M416.5 236.3h0M418.5 228.3h0M416.0 221.5h0M417.2 243.2h0M417.7 235.4h0M418.3 224.4h0M427.4 205.5h0M415.4 239.3h0M416.9 235.8h0M428.8 218.6h0M419.1 211.6h0M416.1 240.9h0M419.5 233.9h0M417.6 234.5h0M413.8 237.3h0M417.5 243.9h0M417.7 231.4h0M416.2 245.0h0M423.8 236.2h0M419.1 239.8h0M418.4 240.7h0M419.4 227.1h0M416.0 239.9h0M414.9 248.0h0M416.7 204.1h0M414.5 241.6h0M420.0 235.3h0M421.5 208.1h0M419.2 239.0h0M416.9 231.5h0M416.4 245.1h0M420.5 222.2h0M417.3 229.2h0M418.6 234.7h0M419.2 227.9h0M419.4 228.3h0M415.6 234.5h0M415.4 229.4h0M417.3 235.2h0M425.5 225.7h0M421.6 201.9h0M415.4 239.2h0M415.4 230.1h0M417.3 228.6h0M418.7 233.5h0M416.9 235.8h0M419.4 231.1h0M415.9 240.4h0M419.8 230.0h0M417.5 238.6h0M417.4 217.7h0M414.6 235.7h0M416.3 246.5h0M417.2 240.9h0M419.0 216.5h0M415.2 240.6h0M415.2 239.4h0M421.1 230.6h0M414.9 238.9h0M415.8 243.1h0M415.1 224.5h0M419.3 227.9h0M425.4 218.1h0M419.0 222.9h0M417.3 242.7h0M414.7 242.4h0M426.7 210.9h0M417.4 234.8h0M421.4 231.6h0M418.4 233.9h0M415.6 241.0h0M416.2 247.1h0M417.4 238.8h0M423.0 221.7h0M414.1 190.8h0M415.1 240.2h0M416.8 226.5h0M415.0 238.1h0M416.2 234.6h0M423.9 227.3h0M416.7 236.3h0M419.3 226.8h0M420.7 242.9h0M415.1 249.8h0M418.2 236.0h0M420.1 217.7h0M421.3 214.1h0M415.2 234.7h0M418.9 206.1h0M417.1 246.6h0M422.8 218.1h0M423.8 209.6h0M417.1 243.5h0M416.9 247.9h0M419.5 228.3h0M417.4 230.6h0M418.5 231.2h0M415.2 240.8h0M418.8 211.5h0M415.6 240.5h0M418.2 247.2h0M415.1 240.3h0M416.4 248.3h0M416.0 231.0h0M416.3 218.1h0M425.3 210.4h0M419.7 229.1h0M420.0 229.6h0M419.1 241.8h0M415.2 242.3h0M423.3 222.8h0M415.1 242.3h0M416.9 223.3h0M417.4 233.1h0M417.4 223.9h0M416.3 244.8h0M426.5 197.8h0M419.9 226.1h0M417.2 236.4h0M420.5 230.4h0M415.3 237.4h0M419.9 207.8h0M421.7 205.6h0M419.1 226.8h0M418.0 243.6h0M423.8 186.9h0M416.8 231.4h0M417.7 188.3h0M419.4 241.0h0M424.8 223.9h0M416.1 244.2h0M417.9 221.4h0M416.8 246.7h0M420.3 231.7h0M420.0 217.1h0M416.7 230.7h0M419.5 224.2h0M423.8 196.4h0M417.8 217.2h0M415.8 247.5h0M416.8 227.1h0M419.9 230.6h0M420.2 232.5h0M420.9 215.5h0M421.7 233.6h0M423.7 223.1h0M416.3 239.2h0M419.8 230.7h0M419.7 235.6h0M418.7 214.8h0M413.8 243.2h0M415.8 245.6h0M425.0 222.3h0M425.1 210.9h0M416.4 236.3h0M420.3 223.6h0M414.4 246.2h0M420.3 223.8h0M417.0 228.6h0M415.2 243.3h0M414.3 232.1h0M422.2 237.4h0M416.7 239.4h0M417.5 244.8h0M416.6 227.3h0M414.5 244.4h0M414.1 245.5h0M418.1 221.4h0M439.0 201.1h0M423.4 212.2h0M416.2 239.5h0M417.9 238.1h0M415.5 226.7h0M413.9 229.1h0M425.5 222.4h0M416.5 239.2h0M425.7 213.8h0M423.9 190.6h0M415.9 237.1h0M417.6 239.2h0M417.7 238.2h0M415.3 232.2h0M420.6 227.6h0M414.4 249.4h0M420.9 228.1h0M415.3 237.2h0M417.1 240.1h0M417.3 228.8h0M415.4 241.2h0M415.7 236.5h0M415.9 246.4h0M419.2 232.7h0M415.5 229.9h0M418.3 236.6h0M415.9 235.3h0M415.7 245.9h0M422.8 223.9h0M415.7 248.6h0M417.9 243.6h0M419.2 218.2h0M412.9 248.0h0M417.7 235.7h0M415.2 235.1h0M419.4 222.0h0M418.7 244.6h0M415.9 233.8h0M419.6 222.6h0M418.0 241.1h0M414.3 231.9h0M414.4 240.2h0M418.1 231.4h0M416.9 217.8h0M417.8 237.0h0M415.3 243.5h0M414.2 244.5h0M418.0 237.3h0M432.2 191.2h0M420.0 233.2h0M417.8 235.6h0M417.3 223.0h0M415.6 233.1h0M413.6 249.1h0M418.6 218.5h0M416.7 229.0h0M416.3 233.7h0M420.2 223.5h0M419.0 229.3h0M416.3 240.1h0M419.9 235.8h0M421.8 229.7h0M420.4 233.3h0M418.9 232.4h0M415.9 244.6h0M417.3 231.7h0" stroke="#d15200" stroke-opacity="0.8" stroke-width="3.5" stroke-linecap="round" fill="none" clip-path="url(#cb)"/><path d="M417.8 234.5h0M426.1 194.4h0M423.4 211.5h0M417.7 238.9h0M424.6 204.3h0M419.2 231.5h0M424.2 202.8h0M422.6 206.1h0M416.3 231.7h0M424.6 226.7h0M413.8 241.1h0M421.8 227.7h0M428.5 213.5h0M421.1 217.1h0M413.5 245.4h0M419.1 227.5h0M415.6 241.3h0" stroke="#d15200" stroke-opacity="0.42" stroke-width="3.5" stroke-linecap="round" fill="none" clip-path="url(#cb)"/><path d="M425.0 223.3h0M417.3 235.8h0M417.0 244.8h0M415.6 242.1h0M426.6 184.9h0M416.8 239.2h0M416.9 229.9h0M415.6 221.8h0M414.6 209.3h0M420.3 231.1h0M416.6 236.3h0M414.8 243.7h0M413.9 240.1h0M413.9 242.7h0M424.3 211.8h0M414.9 209.0h0M417.5 251.8h0M414.8 239.5h0M418.5 236.1h0M416.5 234.4h0M421.8 220.6h0M419.9 241.5h0M414.0 248.3h0M418.6 236.6h0M417.1 246.0h0M416.0 234.3h0M418.3 237.1h0M423.0 225.2h0M422.5 200.4h0M418.1 214.1h0M415.2 232.4h0M418.0 227.8h0M417.8 235.8h0M415.5 246.4h0M418.1 225.2h0M414.7 238.4h0M418.4 244.3h0M413.2 249.7h0M415.5 235.8h0M413.0 246.0h0M418.3 205.4h0M418.4 219.8h0M419.4 238.0h0M418.5 228.2h0M415.9 231.0h0M416.4 234.0h0M415.7 246.5h0M417.2 226.5h0M416.3 234.7h0M414.0 250.3h0M417.7 240.3h0M420.0 221.0h0M419.9 234.3h0M418.4 228.7h0M414.3 247.5h0M419.3 217.9h0M419.8 237.5h0M416.8 223.3h0M415.5 219.2h0M422.3 228.2h0M415.0 242.4h0M422.1 233.1h0M418.4 206.8h0M424.2 215.1h0M418.8 242.1h0M421.4 223.2h0M417.5 236.6h0M423.0 203.4h0M419.4 226.8h0M415.2 240.2h0M417.2 242.0h0M418.2 236.0h0M418.1 224.1h0M418.3 226.6h0M423.3 197.8h0M417.2 240.5h0M419.5 233.7h0M415.6 240.7h0M417.9 232.7h0M412.3 243.7h0M417.4 237.3h0M418.3 236.1h0M420.5 200.0h0M420.9 227.1h0M417.5 230.6h0M415.9 237.1h0M420.3 216.9h0M419.9 221.2h0M415.3 234.0h0M414.0 245.9h0M417.4 239.7h0M418.2 229.4h0M421.8 221.2h0M419.5 232.3h0M420.0 235.1h0M421.8 222.7h0M420.8 214.5h0M419.4 207.2h0M418.6 236.3h0M417.3 235.8h0M417.5 236.8h0M417.3 237.4h0M413.5 246.6h0M421.5 211.5h0M415.6 228.3h0M419.6 218.8h0M419.5 232.2h0M414.2 245.5h0M418.6 239.2h0M415.3 235.8h0M415.8 243.8h0M424.9 216.1h0M419.6 231.3h0M423.3 221.3h0M420.2 193.4h0M416.9 225.8h0M416.0 236.2h0M417.0 233.0h0M418.1 244.5h0M418.4 224.7h0M417.5 236.0h0M418.2 226.0h0M418.8 241.2h0M419.0 233.0h0M416.8 216.7h0M425.6 230.8h0M422.7 224.2h0M416.5 235.8h0M417.5 222.0h0M415.3 243.4h0M416.0 237.2h0M419.4 222.5h0M421.5 218.6h0M412.9 246.3h0M418.2 219.3h0M419.0 226.1h0M420.0 232.1h0M421.3 232.9h0M415.5 237.6h0M419.0 220.5h0M420.0 205.2h0M417.7 237.0h0M421.9 215.0h0M417.5 239.8h0M413.6 242.2h0M418.1 227.3h0M412.8 249.4h0M418.7 221.0h0M415.8 238.9h0M415.0 241.7h0M421.4 219.5h0M415.1 217.9h0M415.9 240.6h0M417.9 239.9h0M420.5 230.8h0M413.8 245.7h0M419.0 233.7h0M415.7 233.6h0M424.2 223.0h0M424.0 193.0h0M422.7 216.2h0M417.2 242.0h0M415.3 229.9h0M422.5 224.5h0M415.5 240.9h0M416.0 236.0h0M416.3 230.8h0M416.3 246.5h0M420.2 228.0h0M420.0 235.4h0M417.3 239.1h0M423.7 229.4h0M414.6 243.6h0M424.1 195.8h0M414.6 246.1h0M415.8 236.2h0M416.4 240.2h0M422.7 230.1h0M421.1 219.1h0M419.0 236.5h0M414.9 244.4h0M422.0 223.8h0M419.4 218.7h0M417.0 218.4h0M418.8 229.2h0M421.1 239.0h0M417.2 226.4h0M417.2 241.0h0M417.6 246.1h0M417.8 223.8h0M413.2 250.6h0M413.6 242.3h0M423.6 202.8h0M421.5 230.7h0M419.5 230.3h0M412.4 250.2h0M422.7 213.5h0M423.5 214.8h0M425.1 219.8h0M417.7 237.2h0M413.3 239.5h0M415.8 242.3h0M414.6 241.0h0M426.9 212.8h0M418.3 240.7h0M422.0 229.6h0M416.8 208.3h0M426.1 202.2h0M414.6 234.1h0M421.2 236.0h0M416.0 241.1h0M417.5 229.5h0M423.2 224.5h0M421.0 230.3h0M417.1 214.9h0M414.8 242.4h0M420.7 224.5h0M422.1 220.1h0M414.6 237.8h0M414.6 246.3h0M419.2 225.6h0M424.5 230.6h0M419.8 239.0h0M423.1 229.4h0M420.1 234.7h0M417.1 229.4h0M416.6 233.3h0M413.6 250.2h0M415.8 251.1h0M415.8 230.3h0M417.0 234.4h0M417.7 239.6h0" stroke="#d15200" stroke-opacity="0.8" stroke-width="3.5" stroke-linecap="round" fill="none" clip-path="url(#cb)"/><path d="M414.0 248.1h0M416.6 230.1h0M415.7 236.2h0M417.5 238.8h0M420.7 230.5h0M420.0 222.3h0M421.0 238.9h0M415.9 240.8h0M417.6 221.4h0M416.1 248.8h0M416.6 238.0h0M416.2 244.2h0M416.0 221.0h0M418.7 234.1h0M423.2 196.0h0M416.0 241.9h0M425.4 218.0h0M416.0 235.1h0" stroke="#d15200" stroke-opacity="0.42" stroke-width="3.5" stroke-linecap="round" fill="none" clip-path="url(#cb)"/><path d="M417.9 241.0h0M419.7 213.3h0M417.7 236.6h0M422.7 233.7h0M416.4 234.9h0M419.7 223.2h0M414.6 248.6h0M415.6 227.4h0M416.5 246.5h0M417.8 245.9h0M416.0 242.3h0M420.8 214.1h0M421.0 192.2h0M416.8 235.7h0M421.1 233.6h0M424.4 224.4h0M417.5 224.9h0M415.4 245.7h0M430.2 207.5h0M415.4 235.5h0M417.5 238.0h0M417.2 237.0h0M414.9 251.2h0M418.5 225.2h0M416.5 231.0h0M427.6 214.3h0M419.4 231.8h0M419.2 236.2h0M416.0 231.9h0M416.9 231.3h0M415.1 238.0h0M412.5 247.5h0M418.7 234.0h0M415.4 224.8h0M422.1 232.4h0M415.2 239.6h0M412.5 253.1h0M413.7 246.3h0M415.0 236.3h0M414.6 236.9h0M418.0 242.4h0M415.4 225.9h0M415.2 223.2h0M417.9 243.7h0M416.4 231.5h0M414.1 246.7h0M415.7 247.4h0M415.3 230.2h0M418.6 229.6h0M416.0 211.4h0M416.5 234.1h0M418.4 241.2h0M418.1 230.9h0M416.4 225.6h0M421.3 229.6h0M423.2 230.0h0M422.1 219.9h0M419.6 235.3h0M417.4 228.8h0M418.2 229.7h0M415.5 246.2h0M422.9 214.6h0M419.2 215.2h0M419.9 227.8h0M418.5 227.0h0M420.1 225.0h0M420.7 229.4h0M414.8 243.2h0M414.5 246.8h0M414.1 240.7h0M416.6 230.1h0M423.8 224.6h0M417.6 240.0h0M420.1 236.5h0M415.5 245.2h0M417.1 237.2h0M413.9 252.3h0M419.6 217.5h0M432.0 221.9h0M416.1 242.7h0M417.4 247.5h0M414.8 233.9h0M416.9 229.6h0M419.5 210.4h0M419.5 231.3h0M423.9 219.7h0M416.7 242.7h0M421.7 228.7h0M416.2 237.3h0M415.5 240.2h0M415.5 244.4h0M416.4 193.5h0M427.7 218.1h0M421.7 234.0h0M417.7 210.0h0M416.0 237.9h0M421.8 223.9h0M417.8 226.6h0M421.6 215.1h0M413.9 250.9h0M419.3 228.1h0M420.1 232.5h0M420.3 219.6h0M412.1 252.5h0M421.8 233.4h0M421.7 227.7h0M417.7 242.4h0M417.4 221.9h0M424.4 221.8h0M414.2 251.2h0M419.0 202.9h0M424.7 222.3h0M417.3 236.2h0M418.3 235.9h0M418.7 223.1h0M418.3 240.2h0M419.1 236.6h0M423.5 220.9h0M418.1 233.2h0M415.9 242.8h0M419.5 237.2h0M418.9 230.4h0M417.9 219.9h0M421.4 202.6h0M416.8 237.1h0M414.4 241.6h0M419.6 200.9h0M422.2 223.2h0M415.0 250.1h0M417.6 235.9h0M421.2 212.9h0M416.1 245.7h0M422.3 219.3h0M416.8 225.6h0M421.0 224.8h0M416.0 221.9h0M413.9 237.8h0M415.5 244.9h0M417.8 213.4h0M415.0 245.1h0M416.2 183.6h0M416.3 231.3h0M415.9 239.5h0M417.8 227.2h0M415.8 235.0h0M421.1 212.4h0M416.9 238.2h0M421.6 232.2h0M419.1 227.7h0M416.6 235.3h0M416.9 229.8h0M419.5 221.4h0M414.4 237.2h0M420.0 236.9h0M417.7 224.0h0M420.2 193.6h0M420.8 221.3h0M418.9 229.4h0M413.9 240.6h0M414.6 237.2h0M415.7 238.1h0M416.4 232.1h0M414.4 238.8h0M420.4 231.1h0M420.4 235.3h0M419.0 242.5h0M417.0 248.1h0M416.4 235.6h0M416.9 239.6h0M432.8 220.0h0M418.6 241.6h0M417.7 245.8h0M416.3 209.6h0M420.6 225.2h0M420.2 226.0h0M415.9 243.5h0M414.9 245.9h0M416.0 244.0h0M422.2 227.1h0M416.0 238.9h0M415.9 242.2h0M414.8 235.3h0M414.8 245.9h0M418.8 225.9h0M421.4 209.8h0M423.6 204.4h0M416.3 236.5h0M413.9 248.6h0M415.0 236.4h0M422.6 226.1h0M416.8 241.7h0M414.5 252.1h0M414.4 243.4h0M417.3 240.5h0M418.5 233.8h0M419.6 239.0h0M416.3 236.9h0M414.4 240.5h0M418.2 209.9h0M418.6 241.1h0M416.7 241.1h0M420.0 236.3h0M415.5 237.0h0M416.9 228.5h0M416.7 223.7h0M414.6 211.3h0M420.5 230.2h0M416.8 219.4h0M418.6 238.2h0M420.9 211.0h0M422.5 187.9h0M422.3 219.7h0M416.2 193.9h0M414.3 247.3h0M414.4 224.8h0M415.5 233.2h0M415.6 233.3h0M416.1 244.2h0M421.1 225.2h0M417.0 234.5h0M417.7 231.5h0M416.7 237.5h0M429.9 197.9h0M419.1 228.0h0M416.1 246.0h0M416.5 229.7h0M416.5 251.3h0M416.9 238.4h0M416.6 212.1h0M417.5 230.2h0M417.7 234.8h0" stroke="#d15200" stroke-opacity="0.8" stroke-width="3.5" stroke-linecap="round" fill="none" clip-path="url(#cb)"/><path d="M415.3 220.3h0M416.2 220.8h0M418.9 230.3h0M415.8 232.6h0M418.2 221.3h0M418.0 240.6h0M416.8 218.7h0M419.1 245.8h0M416.2 214.5h0M423.7 212.8h0M413.7 240.2h0" stroke="#d15200" stroke-opacity="0.42" stroke-width="3.5" stroke-linecap="round" fill="none" clip-path="url(#cb)"/><path d="M415.7 240.8h0M430.0 192.5h0M418.6 235.6h0M425.3 201.0h0M421.3 233.8h0M418.3 234.9h0M416.8 242.2h0M416.6 235.7h0M413.7 241.9h0M413.7 239.3h0M417.8 237.5h0M418.0 235.2h0M420.6 187.4h0M414.1 239.4h0M419.6 222.3h0M414.1 239.8h0M420.1 227.5h0M422.3 192.0h0M421.2 241.5h0M419.7 214.2h0M415.9 243.1h0M431.0 210.7h0M422.2 234.2h0M419.9 227.4h0M415.6 233.2h0M418.4 236.8h0M416.1 239.3h0M420.8 221.9h0M417.0 239.3h0M416.0 222.9h0M418.5 235.4h0M419.0 242.7h0M416.6 239.2h0M415.6 235.3h0M420.6 218.3h0M418.2 237.0h0M417.2 243.3h0M422.0 232.5h0M422.0 223.8h0M415.1 242.6h0M424.2 236.1h0M428.6 210.6h0M417.9 241.0h0M415.9 239.3h0M424.5 207.5h0M418.8 239.6h0M426.4 217.6h0M415.6 235.5h0M415.1 248.5h0M416.6 243.4h0M416.3 244.6h0M414.3 243.6h0M417.1 246.3h0M417.6 224.6h0M417.7 226.4h0M419.1 226.8h0M417.7 233.1h0M417.2 202.6h0M416.9 213.8h0M434.7 187.2h0M416.9 232.3h0M417.7 229.2h0M416.2 242.2h0M416.3 237.1h0M421.9 229.9h0M416.0 243.0h0M421.8 220.5h0M417.4 236.5h0M416.4 215.1h0M415.1 234.9h0M418.3 237.4h0M417.8 227.2h0M422.1 198.6h0M422.1 213.5h0M417.4 213.5h0M413.9 248.9h0M418.1 232.5h0M415.7 244.1h0M418.2 208.2h0M420.1 228.3h0M416.9 232.8h0M416.3 237.8h0M418.8 243.7h0M419.0 229.7h0M417.6 212.6h0M418.3 237.0h0M412.7 247.8h0M417.4 229.0h0M417.4 240.4h0M414.9 229.5h0M413.5 243.3h0M413.7 233.2h0M413.7 245.4h0M421.3 227.1h0M414.9 247.8h0M415.5 247.4h0M416.0 240.3h0M415.2 239.9h0M420.9 224.3h0M417.6 224.7h0M417.5 228.2h0M417.8 215.9h0M415.9 230.4h0M419.3 234.4h0M419.6 216.2h0M417.2 236.7h0M418.0 241.8h0M414.4 221.6h0M418.9 223.8h0M413.0 245.8h0M417.6 243.0h0M416.7 228.5h0M418.4 225.9h0M417.2 229.2h0M422.6 196.1h0M419.4 233.5h0M419.1 229.1h0M415.6 242.0h0M419.6 241.1h0M415.9 242.7h0M417.0 251.3h0M416.7 224.7h0M420.5 218.3h0M422.7 223.6h0M414.3 233.3h0M424.7 229.3h0M417.7 233.7h0M418.0 240.4h0M421.4 213.4h0M418.5 232.3h0M420.5 227.2h0M415.2 225.2h0M417.7 226.8h0M415.0 237.2h0M418.2 233.2h0M418.1 239.9h0M417.2 228.3h0M427.9 185.5h0M424.7 223.5h0M420.8 227.8h0M418.8 226.9h0M421.2 237.3h0M424.0 227.4h0M414.3 248.6h0M418.0 220.7h0M420.4 223.8h0M413.5 246.2h0M422.4 226.6h0M420.2 230.6h0M415.8 238.3h0M418.1 218.9h0M423.9 230.1h0M422.0 220.2h0M418.5 233.0h0M418.7 228.1h0M417.5 240.4h0M429.6 184.8h0M421.6 226.0h0M418.5 225.3h0M415.4 246.6h0M416.9 237.5h0M420.1 232.2h0M422.5 223.6h0M422.3 217.3h0M420.1 224.7h0M417.1 240.2h0M419.6 216.9h0M424.3 237.0h0M417.4 235.8h0M419.1 225.0h0M419.9 245.0h0M414.6 237.9h0M416.3 246.8h0M419.8 196.6h0M416.7 225.4h0M414.1 240.4h0M416.4 241.5h0M415.1 239.6h0M415.1 246.0h0M420.0 230.1h0M416.4 241.2h0M422.6 234.1h0M415.9 231.5h0M450.2 235.7h0M417.7 216.5h0M417.0 228.1h0M416.3 241.7h0M415.6 247.9h0M417.2 227.1h0M419.5 231.4h0M417.2 240.6h0M417.2 237.9h0M420.2 222.5h0M420.6 230.3h0M416.8 224.8h0M416.9 237.5h0M433.5 184.6h0M415.2 243.2h0M424.1 201.0h0M422.6 226.9h0M420.1 226.5h0M417.8 237.8h0M416.3 242.4h0M413.7 246.7h0M415.2 249.5h0M417.1 243.7h0M415.9 231.7h0M419.1 224.2h0M419.2 237.2h0M416.2 240.4h0M418.0 243.2h0M414.5 223.9h0M418.6 243.1h0M416.9 231.2h0M422.0 225.0h0M418.3 232.2h0M420.0 230.0h0M416.0 238.7h0M414.5 236.8h0M416.1 242.4h0M418.9 224.3h0M419.7 237.3h0M418.6 236.8h0M418.0 230.7h0M420.0 225.1h0M423.7 231.5h0M416.9 221.6h0M419.2 235.6h0M415.8 234.2h0M416.6 234.2h0M417.7 235.5h0M414.8 247.9h0M416.7 242.6h0M419.0 211.3h0M418.0 234.8h0M422.3 223.0h0M415.7 234.1h0" stroke="#d15200" stroke-opacity="0.8" stroke-width="3.5" stroke-linecap="round" fill="none" clip-path="url(#cb)"/><path d="M418.3 239.7h0M424.0 224.1h0M425.6 208.0h0M425.8 220.9h0M415.3 245.3h0M423.0 225.2h0M413.7 250.2h0M422.5 220.7h0M417.2 233.5h0M421.0 226.8h0M417.6 236.6h0M417.4 239.6h0M424.8 216.1h0M425.4 214.4h0M421.9 226.2h0M413.9 245.4h0M434.2 202.7h0M418.2 234.8h0M415.3 239.8h0M412.2 249.5h0M427.9 217.5h0M414.5 239.0h0M417.6 233.1h0M419.6 224.5h0M415.1 247.2h0M429.1 213.9h0M413.3 248.8h0M431.6 194.3h0M436.7 186.1h0M418.1 241.2h0M423.3 222.8h0M414.9 250.5h0M420.1 231.0h0M421.2 227.6h0M420.6 236.0h0M418.0 236.7h0M433.8 211.3h0M425.5 227.4h0M413.6 246.5h0M416.5 245.8h0M418.0 241.9h0M431.2 198.0h0M431.7 206.4h0M414.7 241.6h0M420.4 239.0h0M415.0 249.0h0M419.1 229.4h0M430.3 214.6h0M416.3 238.3h0M418.8 238.3h0M414.4 242.8h0M419.0 233.7h0M417.8 228.5h0M426.4 220.8h0M415.0 248.7h0M423.2 229.7h0M416.6 239.8h0M423.0 218.4h0M415.1 238.7h0M420.8 239.0h0M423.0 221.0h0M421.9 223.1h0M423.7 225.4h0M417.2 241.2h0M433.4 207.5h0M420.4 224.4h0M417.8 239.4h0M414.1 244.1h0M435.8 210.2h0M416.3 240.9h0M418.6 227.5h0M420.4 231.6h0M415.8 239.5h0M430.0 216.2h0M428.4 225.0h0M418.0 237.4h0M444.5 201.4h0M423.9 223.3h0M416.1 244.9h0M421.7 215.7h0M433.4 195.1h0M418.5 235.0h0M421.3 220.9h0M421.5 228.1h0M417.1 239.4h0M412.8 251.9h0M416.6 237.6h0M429.3 223.1h0M418.1 240.2h0M417.0 232.2h0M416.4 240.3h0M416.4 243.1h0M434.9 202.8h0M422.6 225.8h0M425.5 211.1h0M418.1 228.4h0M417.4 229.3h0M424.5 219.7h0M420.1 226.4h0M422.2 224.9h0M415.9 242.7h0M412.4 250.4h0M414.8 242.8h0M417.0 238.3h0M428.5 205.9h0M417.2 235.1h0M431.2 204.6h0M420.0 234.2h0M428.4 202.2h0M415.7 243.7h0M415.4 241.2h0M416.9 243.4h0M426.2 207.9h0M417.9 239.2h0M418.3 231.6h0M415.4 242.3h0M418.0 241.9h0M420.9 217.4h0M421.5 231.2h0M419.6 234.1h0M438.1 200.3h0M423.4 231.1h0M415.6 246.4h0M423.1 205.9h0M415.4 238.5h0M426.3 217.3h0M416.9 238.4h0M433.4 189.6h0M434.9 192.9h0M423.1 220.7h0M432.5 207.7h0M416.0 245.1h0M425.4 224.1h0M417.3 243.2h0M417.3 242.1h0M417.5 229.7h0M422.1 228.0h0M418.7 238.3h0M417.0 238.1h0M420.8 235.5h0M427.2 208.1h0M428.7 209.3h0M422.8 215.5h0M429.0 215.6h0M425.4 225.5h0M430.8 200.6h0M420.8 233.3h0M422.4 230.0h0M432.8 204.7h0M425.0 227.2h0M428.7 214.8h0M416.0 241.3h0M416.9 236.5h0M417.7 239.6h0M425.4 223.5h0M416.7 238.5h0M422.0 229.4h0M423.8 218.3h0M429.5 208.2h0M429.2 202.2h0M432.1 193.3h0M436.2 185.7h0M429.0 205.7h0M421.7 219.1h0M418.0 239.9h0M415.2 249.6h0M428.0 217.5h0M420.2 222.3h0M412.3 251.3h0M422.1 236.9h0M429.1 202.6h0M422.6 227.9h0M418.2 239.7h0M413.8 247.0h0M424.0 213.5h0M416.1 236.6h0M418.0 234.5h0M424.9 212.6h0M419.0 240.1h0M427.6 210.8h0M416.3 241.8h0M423.4 223.4h0M415.1 246.7h0M424.1 216.2h0M421.3 235.1h0M419.0 218.2h0M422.8 231.2h0M421.6 211.5h0M420.6 231.1h0M416.1 243.5h0M424.3 216.6h0M412.8 250.3h0M425.6 211.9h0M423.8 222.3h0M428.5 204.2h0M425.2 226.2h0M413.6 246.6h0M423.6 202.7h0M414.5 245.9h0M435.0 187.6h0M432.7 192.8h0M425.1 213.1h0M420.7 223.1h0M424.6 225.7h0M417.5 236.6h0M421.3 235.0h0M417.0 236.1h0M424.7 212.5h0M427.9 217.5h0M416.5 236.3h0M422.1 233.7h0M415.6 237.0h0M415.7 244.2h0M418.0 236.2h0M419.8 226.5h0M414.6 247.6h0M416.1 243.2h0M426.3 218.1h0M415.8 242.3h0M413.0 246.7h0M424.7 208.8h0M414.3 248.6h0M430.9 194.2h0M424.6 221.5h0M424.9 224.2h0M417.2 238.4h0M412.7 245.4h0M437.1 188.0h0M417.7 230.4h0M423.2 213.5h0M416.0 243.5h0M429.9 204.2h0M420.2 233.2h0M420.7 229.0h0M420.8 225.3h0M413.1 252.7h0M422.3 216.6h0M417.1 235.6h0M420.4 239.1h0M414.7 246.0h0M427.5 216.6h0M413.2 250.7h0M427.5 225.1h0M418.7 234.8h0M419.4 229.7h0M415.3 241.8h0M419.7 233.3h0M414.6 239.9h0M419.8 237.8h0M426.4 208.0h0M431.1 207.1h0M419.6 231.9h0M414.4 242.3h0M422.2 228.3h0M439.7 191.9h0M433.7 192.7h0M414.8 238.8h0M416.0 236.4h0M418.2 240.8h0M419.3 228.9h0M415.2 241.8h0M421.4 222.2h0M415.5 247.8h0M417.6 237.9h0M413.8 242.7h0M418.4 236.0h0M418.9 236.2h0M424.1 229.6h0M431.4 205.8h0M418.7 235.2h0M416.6 240.6h0M419.8 233.2h0M418.4 225.2h0M442.8 205.8h0M421.4 228.6h0M425.7 222.8h0M417.3 240.8h0M416.3 235.6h0M429.9 210.5h0M437.3 188.5h0M425.8 216.8h0M419.1 237.4h0M412.1 251.8h0M417.3 238.0h0M421.5 221.6h0M423.8 223.2h0M413.8 250.9h0M418.7 234.6h0M418.2 242.7h0M419.0 221.8h0M417.8 236.3h0M426.2 229.2h0M420.4 238.8h0M420.6 224.0h0M416.8 229.7h0M421.1 227.7h0M418.4 237.0h0M417.0 247.6h0M418.4 234.8h0M421.4 228.4h0M420.1 238.2h0M431.9 199.8h0M425.6 218.3h0M415.0 243.6h0M420.2 233.5h0M416.9 238.3h0M413.7 247.6h0M420.7 208.6h0M426.4 209.2h0M426.4 215.2h0M424.6 219.6h0M418.6 233.7h0M415.9 238.8h0M421.9 238.0h0M429.8 218.6h0M414.9 244.5h0M430.1 195.8h0M433.4 203.2h0M417.8 235.6h0M416.5 243.3h0M423.9 228.7h0M420.6 222.9h0M418.8 235.6h0M420.7 236.4h0M415.3 246.9h0M414.4 247.6h0M417.2 236.3h0M429.7 217.7h0M420.9 223.3h0M416.5 241.6h0M419.7 235.1h0M420.2 238.5h0M411.9 249.9h0M414.2 246.1h0M418.5 229.8h0M415.1 245.8h0M413.2 251.3h0M422.0 235.2h0M418.2 235.2h0M419.4 229.7h0M423.8 223.4h0M412.8 245.8h0M427.0 219.7h0M415.1 247.4h0M426.1 218.7h0M418.5 238.7h0M425.0 217.1h0M423.7 227.5h0M413.8 247.2h0M426.3 210.5h0M425.9 203.8h0M424.0 208.9h0M416.6 244.7h0M420.1 231.5h0M416.0 245.6h0M430.3 216.9h0M423.1 222.8h0M414.9 245.9h0M421.2 233.1h0M412.9 248.0h0M419.7 241.1h0M426.9 209.2h0M432.5 212.9h0M428.0 207.6h0M421.2 234.3h0M420.4 235.1h0M421.8 223.6h0M415.8 245.9h0M412.1 251.2h0M423.7 218.6h0M415.6 233.9h0M418.4 243.2h0M425.1 214.5h0M424.0 221.6h0M424.6 214.5h0M422.2 226.3h0M415.6 243.2h0M415.8 246.0h0M424.0 218.2h0M442.4 190.7h0M417.5 239.1h0M426.4 213.1h0M421.6 231.9h0M424.6 227.4h0M423.0 222.5h0M416.5 240.9h0M422.5 217.4h0M431.2 201.1h0M419.7 212.1h0M422.0 200.5h0M427.0 190.2h0M421.7 214.4h0M435.8 186.8h0M425.3 192.0h0M429.8 203.1h0M423.2 207.8h0M429.1 201.4h0M420.0 222.3h0M423.7 200.6h0M427.1 210.1h0M423.0 202.9h0M422.5 223.0h0M429.8 196.3h0M422.0 211.7h0M418.4 226.7h0M422.9 216.4h0M414.9 233.6h0M425.5 209.1h0M423.9 215.5h0M424.7 203.6h0M419.8 223.1h0M423.9 214.8h0M432.0 196.6h0M418.1 233.2h0M424.1 213.2h0M424.5 214.3h0M420.1 219.3h0M428.0 209.1h0M420.2 215.4h0M420.3 218.2h0M423.9 208.5h0M427.2 203.0h0M420.6 219.0h0M420.7 216.1h0M431.8 181.6h0M439.0 190.1h0M430.0 186.9h0M432.4 195.1h0M431.7 193.8h0" stroke="#174780" stroke-opacity="0.35" stroke-width="3.5" stroke-linecap="round" fill="none" clip-path="url(#cb)"/><line x1="396.07" y1="298.07" x2="765.75" y2="-727.10" stroke="#c0283a" stroke-width="1.05" clip-path="url(#cb)"/><rect x="397.50" y="21.00" width="283.50" height="249.60" fill="none" stroke="#4a4a4a" stroke-width="1.6"/><path d="M408.00 270.60V277.70M467.62 270.60V277.70M527.25 270.60V277.70M586.88 270.60V277.70M646.50 270.60V277.70M397.50 265.00H390.10M397.50 231.93H390.10M397.50 198.86H390.10M397.50 165.79H390.10M397.50 132.72H390.10M397.50 99.65H390.10M397.50 66.58H390.10M397.50 33.51H390.10" stroke="#383838" stroke-width="1.05" fill="none"/><g transform="translate(408.00 294.20)"><text x="-4.31" y="0" class="t">0</text></g><g transform="translate(467.62 294.20)"><text x="-4.31" y="0" class="t">5</text></g><g transform="translate(527.25 294.20)"><path d="M515 0L515 1237L197 1010L197 1180L530 1409L696 1409L696 0Z" fill="#111" stroke="#111" stroke-width="45" stroke-linejoin="round" transform="translate(-8.62 0) scale(0.00757 -0.00757)"/><text x="0.00" y="0" class="t">0</text></g><g transform="translate(586.88 294.20)"><path d="M515 0L515 1237L197 1010L197 1180L530 1409L696 1409L696 0Z" fill="#111" stroke="#111" stroke-width="45" stroke-linejoin="round" transform="translate(-8.62 0) scale(0.00757 -0.00757)"/><text x="0.00" y="0" class="t">5</text></g><g transform="translate(646.50 294.20)"><text x="-8.62" y="0" class="t">20</text></g><g transform="translate(381.80 265.00) rotate(-90) scale(1 1.060)"><text x="-4.31" y="0" class="t">0</text></g><g transform="translate(381.80 231.93) rotate(-90) scale(1 1.060)"><path d="M515 0L515 1237L197 1010L197 1180L530 1409L696 1409L696 0Z" fill="#111" stroke="#111" stroke-width="45" stroke-linejoin="round" transform="translate(-4.31 0) scale(0.00757 -0.00757)"/></g><g transform="translate(381.80 198.86) rotate(-90) scale(1 1.060)"><text x="-4.31" y="0" class="t">2</text></g><g transform="translate(381.80 165.79) rotate(-90) scale(1 1.060)"><text x="-4.31" y="0" class="t">3</text></g><g transform="translate(381.80 132.72) rotate(-90) scale(1 1.060)"><text x="-4.31" y="0" class="t">4</text></g><g transform="translate(381.80 99.65) rotate(-90) scale(1 1.060)"><text x="-4.31" y="0" class="t">5</text></g><g transform="translate(381.80 66.58) rotate(-90) scale(1 1.060)"><text x="-4.31" y="0" class="t">6</text></g><g transform="translate(381.80 33.51) rotate(-90) scale(1 1.060)"><text x="-4.31" y="0" class="t">7</text></g><text x="538.45" y="17.10" text-anchor="middle" class="h">b</text><path d="M179.0 415.8h0M209.5 472.1h0M137.1 456.9h0M134.8 505.2h0M190.1 452.6h0M157.1 482.3h0M118.8 452.6h0M228.2 415.5h0M191.5 415.5h0M142.6 483.9h0M325.6 372.2h0M310.3 418.0h0M242.9 404.5h0M201.6 473.6h0M225.0 478.1h0M231.1 411.6h0M156.6 494.3h0M179.1 512.2h0M126.8 433.4h0M150.6 395.5h0M217.3 444.4h0M228.1 411.7h0M313.0 415.1h0M174.6 430.3h0M143.0 510.5h0" stroke="#d15200" stroke-opacity="0.42" stroke-width="3.5" stroke-linecap="round" fill="none" clip-path="url(#cc)"/><path d="M186.1 465.2h0M146.1 466.5h0M176.2 505.6h0M206.9 462.6h0M190.6 450.1h0M275.1 442.4h0M193.8 440.1h0M74.8 423.8h0M225.0 421.5h0M133.3 509.5h0M161.0 478.5h0M222.7 443.1h0M207.0 423.4h0M201.6 461.5h0M150.5 482.1h0M164.1 486.5h0M239.2 460.1h0M215.6 451.2h0M234.1 462.9h0M90.3 493.9h0M193.6 427.1h0M157.1 495.8h0M148.6 486.1h0M220.1 451.9h0M166.0 500.4h0M138.6 514.3h0M262.9 373.8h0M173.8 492.4h0M139.1 521.6h0M251.9 421.9h0M223.7 463.9h0M76.3 467.2h0M200.1 463.8h0M252.9 473.5h0M178.7 485.0h0M242.9 451.8h0M185.5 442.5h0M270.5 462.9h0M253.3 410.4h0M177.1 484.6h0M242.9 457.8h0M218.4 474.7h0M161.0 490.0h0M162.5 477.2h0M283.7 441.3h0M179.2 473.0h0M282.7 420.1h0M247.4 418.0h0M243.3 486.5h0M234.9 421.7h0M121.7 521.7h0M131.4 495.2h0M248.6 487.5h0M191.7 442.5h0M168.7 464.9h0M233.8 432.6h0M234.5 421.3h0M196.6 472.8h0M161.1 473.4h0M250.8 456.0h0M157.7 428.9h0M204.5 432.1h0M207.1 408.2h0M240.7 450.0h0M148.9 442.3h0M288.5 449.6h0M206.3 465.6h0M300.9 494.7h0M114.2 387.1h0M181.9 453.6h0M136.8 463.8h0M248.4 426.6h0M221.1 457.4h0M301.5 476.8h0M251.3 411.5h0M138.1 382.5h0M117.6 450.7h0M215.1 447.8h0M210.6 428.8h0M187.7 476.7h0M127.9 491.9h0M231.6 416.4h0M207.4 436.3h0M201.1 465.3h0M173.8 464.5h0M201.9 498.0h0M272.7 445.7h0M131.1 390.7h0M265.0 463.5h0M196.8 450.3h0M204.9 484.6h0M230.4 491.2h0M151.9 471.8h0M220.5 455.0h0M115.0 436.9h0M126.5 452.6h0M177.1 490.6h0M256.4 431.4h0M139.1 510.4h0M147.6 516.9h0M218.0 461.9h0M177.8 464.6h0M195.2 469.6h0M157.8 502.1h0M306.6 434.1h0M338.1 435.5h0M255.3 391.2h0M185.2 477.5h0M252.4 446.5h0M192.6 456.0h0M216.9 470.5h0M198.3 484.7h0M206.4 436.6h0M250.7 491.6h0M237.8 451.9h0M166.6 480.7h0M87.1 440.3h0M221.9 427.5h0M224.4 469.2h0M178.7 397.7h0M236.9 455.7h0M138.2 395.8h0M212.4 456.9h0M154.1 490.6h0M218.9 462.8h0M243.2 443.0h0M279.2 428.7h0M238.7 456.4h0M205.5 446.7h0M137.8 506.6h0M197.6 478.3h0M268.5 465.1h0M244.6 422.9h0M75.2 448.2h0M238.5 380.4h0M265.3 465.8h0M252.7 431.7h0M251.8 428.1h0M273.1 417.4h0M300.2 380.6h0M281.8 450.2h0M231.0 487.8h0M259.7 385.1h0M219.8 434.5h0M184.5 476.7h0M185.6 472.4h0M279.1 411.5h0M191.5 488.1h0M138.9 463.0h0M274.0 450.6h0M73.6 508.7h0M245.0 401.3h0M177.6 484.3h0M235.3 473.0h0M145.6 488.6h0M205.7 430.0h0M199.4 442.9h0M182.3 433.3h0M121.5 349.1h0M320.4 379.3h0M186.7 417.7h0M190.2 497.0h0M150.1 528.3h0M248.5 439.8h0M192.1 464.9h0M242.3 442.9h0M278.2 465.7h0M141.7 431.6h0M177.1 473.8h0M162.7 475.1h0M231.5 456.4h0M200.2 427.2h0M172.0 461.1h0M279.8 436.9h0M200.1 389.2h0M233.9 439.8h0M235.9 447.3h0M231.7 431.8h0M81.8 488.6h0M161.2 360.9h0M187.0 498.8h0M191.7 462.2h0M234.0 434.7h0M157.5 439.0h0M258.2 408.8h0M221.4 458.8h0M202.8 469.5h0M244.6 483.9h0M309.4 463.1h0M314.7 430.1h0M161.5 468.0h0M150.0 490.8h0M255.8 470.5h0M163.4 457.4h0M232.1 448.7h0M104.1 492.4h0" stroke="#d15200" stroke-opacity="0.8" stroke-width="3.5" stroke-linecap="round" fill="none" clip-path="url(#cc)"/><path d="M181.5 461.6h0M184.1 488.4h0M127.1 522.3h0M203.1 480.0h0M263.8 429.8h0M266.4 416.8h0M296.2 371.3h0M254.4 456.9h0M196.7 471.3h0M142.8 518.2h0M211.1 459.1h0M164.9 520.6h0M142.0 494.5h0M102.9 541.8h0M203.9 476.7h0M160.7 478.4h0M148.0 530.3h0M293.6 350.6h0M170.2 481.3h0M169.0 457.3h0M184.5 479.6h0M187.8 446.9h0M207.8 421.6h0M213.4 441.9h0M145.1 484.9h0M205.3 453.5h0M198.0 455.8h0M202.9 457.6h0M196.0 464.0h0M176.6 478.0h0M192.6 458.9h0M127.4 536.4h0M139.4 524.3h0M245.3 441.7h0M304.0 410.3h0M188.3 433.4h0M190.5 463.2h0M212.5 466.4h0M121.7 502.4h0M233.5 372.1h0M229.5 402.6h0M233.3 434.7h0M145.7 496.0h0M199.5 457.4h0M261.2 395.4h0M315.1 342.4h0M246.9 390.9h0M185.2 457.6h0M252.8 414.0h0M237.4 404.1h0M195.8 467.4h0M193.0 462.1h0M258.0 393.2h0M160.8 489.6h0M218.0 441.1h0M291.5 428.2h0M215.1 468.6h0M241.5 394.2h0M287.2 375.9h0M160.5 524.0h0M159.6 491.7h0M248.9 408.2h0M207.4 477.0h0M197.2 469.0h0M194.8 462.5h0M233.5 454.4h0M246.0 426.3h0M132.8 509.2h0M187.9 452.5h0M222.0 467.3h0M221.5 462.8h0M233.3 425.5h0M239.6 422.6h0M202.6 467.0h0M168.9 490.3h0M151.9 482.1h0M219.6 470.4h0M337.4 373.5h0M301.9 438.0h0M310.9 369.2h0M278.0 373.8h0M172.8 496.3h0M277.8 416.5h0M226.1 410.0h0M264.0 412.8h0M166.7 488.6h0M239.6 408.9h0M187.4 474.7h0M197.1 442.2h0M322.7 362.5h0M133.0 526.0h0M192.7 446.4h0M236.0 438.6h0M189.9 480.7h0M197.0 469.0h0M221.4 465.1h0M265.8 354.7h0M254.3 453.7h0M223.0 431.4h0M295.5 390.5h0M176.6 483.3h0M207.9 467.9h0M263.1 374.6h0M152.7 503.6h0M185.0 478.4h0M294.9 342.2h0M249.0 415.3h0M142.6 498.7h0M283.9 361.0h0M239.1 437.0h0M226.4 421.8h0M274.6 456.6h0M263.5 429.9h0M223.7 468.0h0M160.2 488.5h0M207.8 461.1h0M184.4 480.4h0M328.0 384.2h0M189.4 470.1h0M276.0 414.6h0M309.6 431.2h0M320.8 403.5h0M215.7 428.2h0M201.4 466.1h0M241.8 464.3h0M202.6 497.7h0M180.3 424.6h0M239.2 405.7h0M212.8 430.2h0M252.8 461.0h0M151.8 468.2h0M229.5 416.5h0M213.7 455.2h0M165.7 495.5h0M123.7 525.0h0M202.6 462.5h0M161.1 499.6h0M226.3 413.3h0M211.0 477.7h0M184.4 499.8h0M231.8 460.4h0M332.5 365.3h0M209.8 453.7h0M229.1 450.8h0M222.4 442.5h0M273.7 430.2h0M165.3 484.7h0M246.2 476.0h0M218.7 457.5h0M232.1 429.4h0M191.7 440.5h0M222.7 449.6h0M245.4 457.8h0M206.4 437.8h0M226.2 472.8h0M177.1 455.2h0M230.9 469.0h0M252.9 346.4h0M137.8 490.7h0M244.1 429.8h0M196.1 467.9h0M228.1 440.7h0M129.2 516.4h0M311.5 352.9h0M163.4 493.9h0M220.4 464.9h0M213.1 440.1h0M171.6 477.0h0M155.4 462.4h0M254.5 361.6h0M315.0 353.1h0M131.0 520.5h0M235.9 401.2h0M339.8 401.8h0M176.5 489.7h0M186.4 432.9h0M286.1 346.2h0M218.4 467.8h0M183.1 455.3h0M173.0 437.9h0M157.1 484.6h0M232.2 423.4h0M342.3 406.3h0M251.6 437.8h0M266.4 411.8h0M245.5 389.4h0M343.4 369.5h0M248.2 443.9h0M318.2 387.8h0M166.4 469.5h0M208.9 428.4h0M300.3 387.5h0M301.8 406.7h0M219.4 442.5h0M144.8 511.5h0M302.3 348.8h0" stroke="#174780" stroke-opacity="0.85" stroke-width="3.5" stroke-linecap="round" fill="none" clip-path="url(#cc)"/><path d="M267.0 427.6h0M140.6 510.8h0M283.7 382.9h0M91.5 335.1h0M206.7 473.8h0M160.9 444.3h0M246.0 464.7h0M345.2 463.2h0M262.6 479.7h0M329.5 395.3h0M105.0 532.6h0M201.3 458.0h0M253.6 431.9h0M177.5 449.7h0M167.6 418.0h0M142.3 499.3h0M226.1 410.2h0M188.8 452.7h0M207.7 445.3h0M256.8 440.2h0M184.9 484.3h0M208.6 473.1h0M221.8 438.4h0M166.1 476.2h0M182.6 488.6h0" stroke="#d15200" stroke-opacity="0.42" stroke-width="3.5" stroke-linecap="round" fill="none" clip-path="url(#cc)"/><path d="M152.3 498.1h0M217.3 472.2h0M243.2 410.9h0M221.2 475.0h0M169.0 478.2h0M177.2 424.2h0M116.4 454.9h0M185.9 468.6h0M156.2 447.4h0M135.8 410.2h0M197.0 467.7h0M207.4 423.8h0M261.2 431.2h0M208.0 431.1h0M173.6 428.2h0M157.6 433.1h0M119.4 392.3h0M176.2 471.5h0M183.9 450.1h0M294.3 432.2h0M195.1 473.6h0M156.4 506.3h0M189.7 451.8h0M228.1 444.2h0M176.3 443.3h0M155.4 484.8h0M204.7 441.7h0M193.4 443.9h0M221.0 474.4h0M240.2 388.0h0M148.0 499.7h0M179.9 481.9h0M166.4 427.7h0M177.5 498.7h0M254.9 457.9h0M208.0 462.9h0M264.3 461.4h0M173.9 477.6h0M304.3 366.7h0M235.2 497.5h0M276.8 438.4h0M179.8 432.0h0M195.6 481.7h0M314.3 478.9h0M173.5 481.5h0M163.7 492.7h0M246.5 437.9h0M86.1 453.6h0M146.1 341.4h0M170.2 426.5h0M183.7 424.0h0M151.6 484.3h0M152.9 469.9h0M185.0 467.8h0M166.9 452.9h0M138.8 485.4h0M204.3 348.2h0M218.2 448.6h0M208.8 450.0h0M131.5 501.3h0M141.6 489.0h0M317.8 450.9h0M179.3 444.7h0M193.3 493.8h0M158.0 473.3h0M190.7 478.4h0M202.2 462.1h0M194.4 466.6h0M192.1 467.1h0M227.3 451.5h0M214.1 460.3h0M271.0 416.1h0M257.3 480.5h0M192.3 464.2h0M309.3 360.0h0M78.6 529.4h0M184.4 470.2h0M180.6 462.2h0M180.9 469.8h0M161.3 460.2h0M251.1 431.4h0M163.8 488.6h0M178.3 429.4h0M104.6 538.3h0M182.8 480.4h0M188.5 437.3h0M209.8 452.4h0M238.4 415.3h0M117.7 483.3h0M160.5 452.3h0M186.4 488.4h0M204.5 492.2h0M224.1 452.8h0M217.9 484.9h0M148.0 458.8h0M342.5 443.5h0M163.8 408.8h0M273.1 457.3h0M175.4 471.1h0M204.2 501.4h0M151.2 463.2h0M151.0 486.4h0M144.1 399.6h0M202.3 483.1h0M122.0 466.0h0M87.6 429.0h0M242.5 400.3h0M163.7 501.4h0M163.9 460.2h0M229.2 463.6h0M192.8 411.3h0M172.7 476.6h0M243.9 460.6h0M231.9 474.9h0M160.4 497.7h0M164.5 507.1h0M340.7 463.2h0M207.5 439.2h0M271.4 417.0h0M257.6 470.8h0M143.6 496.9h0M200.1 430.0h0M232.1 428.9h0M236.3 460.5h0M308.3 441.3h0M173.9 480.2h0M228.7 446.1h0M220.6 470.4h0M207.5 479.0h0M149.0 469.8h0M230.6 482.7h0M202.4 422.8h0M214.2 472.8h0M221.2 452.0h0M238.4 401.5h0M75.1 465.9h0M159.8 492.5h0M140.1 458.6h0M287.9 469.2h0M212.6 472.0h0M208.8 427.5h0M189.0 491.8h0M213.4 444.2h0M102.4 463.4h0M264.6 393.3h0M204.7 465.8h0M107.1 537.2h0M239.8 404.3h0M253.0 468.4h0M268.7 432.9h0M211.7 449.3h0M243.7 442.6h0M99.4 467.8h0M125.4 529.7h0M204.7 454.0h0M178.8 437.7h0M256.3 459.7h0M107.3 535.3h0M229.3 454.1h0M142.9 504.1h0M144.9 482.2h0M293.6 471.7h0M128.5 422.7h0M325.9 433.9h0M217.4 455.1h0M155.5 488.2h0M217.1 450.7h0M297.9 397.7h0M206.0 458.0h0M179.2 479.2h0M275.2 365.0h0M173.5 448.2h0M151.8 439.9h0M224.0 433.4h0M173.7 472.1h0M198.9 483.9h0M211.9 452.2h0M154.9 509.7h0M193.2 482.9h0M272.9 404.9h0M253.7 454.3h0M226.8 366.1h0M161.2 480.5h0M216.7 397.8h0M190.9 415.5h0M172.2 499.3h0M274.3 435.0h0M258.1 392.9h0M80.1 337.0h0M262.8 454.9h0M215.4 417.1h0M152.3 487.3h0M202.1 474.9h0M270.5 368.5h0M130.1 467.8h0" stroke="#d15200" stroke-opacity="0.8" stroke-width="3.5" stroke-linecap="round" fill="none" clip-path="url(#cc)"/><path d="M126.7 537.2h0M172.3 488.9h0M208.8 446.3h0M215.9 467.5h0M228.5 441.0h0M192.7 441.8h0M339.8 335.7h0M321.6 373.6h0M194.9 479.1h0M184.4 458.9h0M151.3 485.7h0M132.9 524.3h0M235.7 423.6h0M252.7 414.5h0M312.3 364.0h0M163.5 511.9h0M222.6 476.6h0M148.2 491.1h0M291.6 428.4h0M288.0 433.2h0M255.1 463.1h0M206.4 457.7h0M216.9 464.3h0M181.4 462.4h0M304.2 420.3h0M147.8 499.7h0M177.7 471.3h0M260.7 462.0h0M213.9 442.4h0M242.9 385.9h0M254.3 388.1h0M191.5 468.1h0M243.5 400.2h0M209.6 467.8h0M208.6 461.2h0M282.8 445.6h0M291.0 370.5h0M256.0 441.1h0M154.5 506.9h0M199.9 455.2h0M191.7 449.4h0M177.7 490.1h0M237.7 461.4h0M187.3 456.6h0M216.3 476.2h0M201.4 474.8h0M192.3 495.3h0M268.3 399.8h0M205.5 449.6h0M142.0 491.6h0M204.3 453.9h0M118.6 522.9h0M163.0 504.4h0M157.8 489.5h0M278.4 395.7h0M234.6 452.6h0M248.1 452.4h0M259.8 435.6h0M224.8 433.0h0M218.3 473.5h0M241.0 413.2h0M239.7 467.7h0M239.7 421.8h0M164.3 479.1h0M259.7 431.3h0M149.4 494.3h0M215.5 454.5h0M171.2 468.5h0M206.1 434.2h0M160.4 480.0h0M120.3 526.6h0M132.7 501.0h0M219.5 469.3h0M193.7 429.8h0M206.3 415.9h0M197.1 463.9h0M131.5 519.7h0M146.4 501.6h0M264.7 455.0h0M214.8 455.4h0M170.9 489.2h0M312.0 410.7h0M170.8 456.2h0M221.8 456.9h0M169.6 499.1h0M181.0 492.7h0M224.7 411.1h0M246.8 457.6h0M207.2 478.5h0M144.1 510.8h0M163.8 498.0h0M202.3 441.5h0M181.5 496.1h0M171.0 474.1h0M156.2 468.8h0M167.5 496.9h0M194.0 431.7h0M210.7 400.0h0M196.2 462.1h0M203.0 471.1h0M288.6 403.7h0M209.5 455.3h0M201.5 461.1h0M264.9 444.0h0M203.4 439.5h0M156.4 503.5h0M246.8 421.7h0M156.8 497.9h0M223.2 432.5h0M150.3 510.9h0M161.4 450.1h0M196.8 417.3h0M230.3 411.0h0M236.3 461.0h0M263.6 431.1h0M228.2 396.1h0M143.2 487.5h0M236.4 397.0h0M155.2 520.6h0M228.9 457.4h0M190.1 459.9h0M252.5 453.0h0M224.9 460.4h0M263.0 424.0h0M287.2 344.9h0M264.3 421.2h0M333.0 345.3h0M202.6 475.5h0M154.9 447.7h0M138.5 513.5h0M196.5 457.0h0M303.4 399.8h0M144.7 525.2h0M173.1 470.3h0M154.6 516.7h0M205.1 478.0h0M247.5 428.8h0M270.7 432.1h0M309.5 407.9h0M157.4 507.4h0M308.0 390.3h0M259.5 442.3h0M210.8 431.8h0M219.9 463.0h0M160.0 514.3h0M171.7 480.2h0M112.7 540.5h0M137.3 516.9h0M245.9 396.9h0M185.0 466.0h0M224.3 430.1h0M280.7 467.3h0M289.7 385.9h0M232.5 461.0h0M160.0 497.7h0M219.7 457.7h0M236.3 435.4h0M157.9 490.6h0M233.2 443.6h0M130.9 518.5h0M290.3 403.1h0M244.4 465.0h0M344.7 422.6h0M140.9 511.2h0M300.4 388.8h0M251.4 380.4h0M255.6 466.2h0M301.7 422.1h0M208.1 447.6h0M169.9 508.0h0M150.7 498.7h0M164.3 462.8h0M185.3 430.1h0M250.2 371.1h0M337.9 375.3h0M347.4 417.1h0M166.9 502.3h0M223.6 478.5h0M195.9 436.3h0M269.9 374.1h0M236.4 416.5h0M224.2 461.4h0M273.4 445.4h0M224.0 442.4h0M220.9 416.9h0M210.5 451.7h0M334.6 418.7h0M214.5 413.5h0M214.6 437.8h0M312.9 364.5h0M292.2 386.5h0M212.4 422.8h0M180.9 494.4h0M253.9 435.1h0M308.9 420.1h0M161.4 519.7h0M167.4 504.6h0M168.1 484.3h0M237.9 386.1h0" stroke="#174780" stroke-opacity="0.85" stroke-width="3.5" stroke-linecap="round" fill="none" clip-path="url(#cc)"/><path d="M323.2 385.7h0M152.2 492.8h0M171.1 468.5h0M179.0 469.6h0M191.7 437.9h0M213.7 391.8h0M226.9 454.2h0M155.1 471.4h0M232.8 459.7h0M179.2 475.1h0M169.0 472.1h0M165.3 469.5h0M190.6 469.2h0M309.2 382.9h0M140.9 505.1h0M231.5 400.9h0M125.7 477.5h0M191.4 492.6h0M154.7 414.4h0M319.5 401.9h0M140.0 454.1h0M211.6 383.8h0M180.6 433.8h0M228.1 441.0h0M180.8 496.5h0M202.3 461.7h0M147.5 499.9h0M191.1 482.5h0" stroke="#d15200" stroke-opacity="0.42" stroke-width="3.5" stroke-linecap="round" fill="none" clip-path="url(#cc)"/><path d="M239.0 402.3h0M138.8 468.4h0M174.6 449.7h0M219.0 470.2h0M222.8 434.3h0M218.5 466.0h0M154.3 483.5h0M257.6 452.8h0M291.1 411.6h0M127.4 505.0h0M155.2 475.9h0M195.8 448.4h0M205.2 480.6h0M216.1 460.9h0M217.6 445.1h0M169.8 474.9h0M245.2 412.4h0M244.9 435.2h0M345.3 406.7h0M212.3 453.1h0M194.9 475.9h0M176.6 497.6h0M199.7 467.9h0M238.6 424.1h0M313.9 445.1h0M206.8 392.1h0M186.5 449.3h0M194.9 477.4h0M142.9 500.7h0M284.9 464.5h0M192.2 475.3h0M234.0 470.2h0M94.9 436.8h0M228.8 460.2h0M216.8 476.8h0M136.1 483.9h0M140.0 439.3h0M157.3 432.6h0M195.9 426.3h0M177.7 457.4h0M139.6 512.0h0M240.4 434.8h0M205.8 486.1h0M262.2 429.4h0M332.4 436.8h0M184.0 479.9h0M143.5 484.3h0M265.0 429.6h0M281.6 416.3h0M161.3 493.2h0M179.5 479.6h0M231.7 411.2h0M165.0 486.7h0M302.4 476.2h0M233.1 424.9h0M157.4 489.8h0M337.2 419.6h0M195.8 460.4h0M152.9 425.5h0M158.6 497.4h0M125.8 463.4h0M269.0 397.0h0M135.9 479.1h0M148.9 475.4h0M225.1 442.5h0M278.9 362.4h0M287.0 458.3h0M150.2 515.8h0M226.0 460.4h0M163.3 488.7h0M223.1 383.0h0M142.9 512.9h0M250.4 365.5h0M290.8 429.2h0M201.1 447.0h0M259.5 437.1h0M328.3 436.9h0M129.9 448.0h0M156.4 482.0h0M195.1 423.1h0M187.1 463.0h0M189.6 462.3h0M237.4 485.3h0M119.2 502.5h0M148.3 482.1h0M203.7 460.4h0M158.5 487.1h0M160.1 484.1h0M281.5 393.6h0M212.0 455.5h0M187.9 487.4h0M184.7 387.1h0M296.3 453.8h0M175.9 480.9h0M205.1 459.4h0M159.7 507.7h0M207.7 459.0h0M213.8 487.6h0M190.7 473.6h0M183.2 463.8h0M285.3 422.3h0M227.9 479.4h0M284.3 394.7h0M181.5 456.1h0M172.9 470.6h0M218.0 462.6h0M191.6 432.4h0M219.0 440.6h0M154.8 490.9h0M137.4 355.7h0M144.5 488.5h0M199.0 470.6h0M237.7 460.6h0M215.8 461.4h0M157.7 488.8h0M142.5 489.5h0M166.9 463.9h0M332.4 413.2h0M223.5 468.4h0M187.1 440.2h0M198.5 436.0h0M145.5 503.9h0M160.9 472.3h0M168.6 460.0h0M136.9 508.4h0M175.0 439.6h0M239.4 457.1h0M261.5 399.6h0M169.2 508.0h0M201.1 502.4h0M133.5 488.7h0M261.7 461.3h0M251.6 456.2h0M277.7 457.9h0M197.9 411.3h0M196.5 420.5h0M144.8 507.0h0M118.6 505.7h0M237.2 456.9h0M173.9 464.8h0M187.8 432.5h0M184.5 500.0h0M323.9 478.0h0M132.2 488.5h0M160.0 465.8h0M333.7 396.5h0M184.2 502.7h0M286.5 488.5h0M287.7 442.5h0M189.4 455.3h0M190.7 452.1h0M219.1 458.9h0M203.1 503.6h0M242.6 480.1h0M191.7 430.7h0M198.8 474.0h0M205.5 486.1h0M245.0 433.7h0M254.5 384.5h0M136.3 396.8h0M217.4 450.6h0M184.4 463.2h0M176.0 471.3h0M157.1 513.6h0M94.4 395.3h0M210.7 473.3h0M284.5 391.3h0M249.4 391.1h0M139.0 486.4h0M156.7 506.9h0M172.9 446.6h0M161.3 465.8h0M188.3 489.1h0M210.9 441.2h0M209.9 475.7h0M163.5 483.8h0M310.1 430.8h0M192.7 473.6h0M214.4 485.8h0M322.9 471.9h0M184.4 473.2h0M212.3 456.1h0M176.9 481.0h0M218.3 472.5h0M198.7 473.2h0M155.6 511.9h0M176.8 488.8h0M207.1 423.5h0M159.6 512.1h0M176.1 471.9h0M313.2 422.8h0M166.1 487.5h0M173.0 471.3h0M235.5 419.7h0M162.4 388.8h0M226.3 441.0h0M322.5 436.2h0M201.0 492.0h0" stroke="#d15200" stroke-opacity="0.8" stroke-width="3.5" stroke-linecap="round" fill="none" clip-path="url(#cc)"/><path d="M259.5 444.8h0M272.6 408.1h0M274.7 382.3h0M171.2 502.5h0M135.2 498.9h0M164.0 478.0h0M178.8 467.3h0M260.6 446.6h0M200.4 445.9h0M187.5 457.5h0M146.6 504.8h0M312.8 388.4h0M167.1 489.8h0M180.2 477.7h0M123.6 540.2h0M184.1 462.0h0M209.0 418.0h0M162.7 507.0h0M254.9 430.9h0M306.8 343.4h0M142.4 510.2h0M138.6 513.3h0M278.6 438.6h0M171.2 464.6h0M238.4 394.2h0M168.2 484.1h0M295.3 381.1h0M260.5 410.7h0M168.3 482.3h0M166.7 506.0h0M240.3 409.4h0M286.9 417.7h0M249.6 409.7h0M198.4 472.8h0M209.0 471.2h0M182.0 491.9h0M144.5 484.0h0M189.6 472.3h0M193.8 475.0h0M231.8 454.6h0M124.3 527.8h0M231.8 441.2h0M160.6 486.4h0M168.6 482.0h0M293.5 396.7h0M122.4 503.4h0M224.5 409.9h0M184.3 495.8h0M163.7 478.7h0M231.5 402.0h0M250.3 453.4h0M218.5 398.4h0M318.3 405.6h0M197.4 479.3h0M299.7 394.9h0M189.1 488.7h0M265.4 380.1h0M221.1 414.0h0M201.9 416.1h0M159.6 494.2h0M198.0 487.0h0M179.8 472.7h0M241.0 431.3h0M309.1 394.2h0M188.9 433.5h0M231.1 441.9h0M207.8 460.1h0M264.0 421.8h0M204.8 451.5h0M187.6 447.7h0M254.0 434.9h0M141.0 513.9h0M212.0 445.0h0M173.5 461.8h0M181.1 478.5h0M168.9 486.1h0M209.2 432.5h0M190.1 496.3h0M312.8 415.6h0M326.8 377.3h0M237.7 454.4h0M178.6 488.9h0M144.3 512.6h0M258.5 418.5h0M204.1 469.9h0M228.8 414.7h0M230.0 430.2h0M202.5 481.1h0M218.5 477.1h0M145.1 510.9h0M165.9 468.7h0M152.1 501.1h0M236.8 430.8h0M174.8 485.6h0M196.5 457.8h0M272.6 435.4h0M216.3 437.0h0M231.6 484.1h0M226.5 460.0h0M208.0 438.6h0M295.8 413.8h0M254.6 418.4h0M265.3 361.7h0M211.5 466.9h0M193.0 416.8h0M272.9 408.9h0M315.9 391.3h0M150.7 492.9h0M179.0 448.0h0M275.4 452.1h0M137.6 498.0h0M162.2 514.9h0M222.7 439.7h0M310.8 431.4h0M169.6 485.3h0M196.2 466.5h0M220.6 458.8h0M224.0 442.3h0M212.9 438.6h0M139.3 519.6h0M305.5 415.0h0M178.7 457.4h0M165.5 487.1h0M295.7 340.8h0M209.4 438.5h0M272.8 423.3h0M234.1 436.5h0M207.7 448.8h0M163.1 507.6h0M279.4 368.7h0M191.2 448.7h0M192.3 472.6h0M218.0 458.9h0M186.8 457.6h0M206.3 432.8h0M209.0 447.4h0M173.8 465.5h0M173.1 477.0h0M114.7 533.9h0M284.1 430.7h0M253.2 374.3h0M231.6 403.6h0M174.0 444.3h0M187.8 456.2h0M242.8 430.2h0M249.3 410.0h0M200.4 416.2h0M188.7 470.8h0M179.5 455.3h0M228.5 453.5h0M251.7 421.6h0M188.3 424.2h0M258.5 407.0h0M293.8 371.5h0M136.2 521.4h0M263.3 378.8h0M198.3 462.7h0M256.2 394.7h0M212.4 414.2h0M227.5 422.0h0M210.5 454.9h0M145.6 466.7h0M279.5 346.9h0M154.8 480.4h0M198.8 494.3h0M211.7 441.3h0M210.2 457.3h0M167.9 493.0h0M302.1 379.2h0M152.4 489.1h0M221.0 448.4h0M164.6 488.9h0M186.9 401.2h0M177.0 470.9h0M152.1 491.6h0M326.9 418.9h0M211.9 447.9h0M196.7 455.5h0M220.2 443.3h0M209.1 444.9h0M135.6 500.5h0M160.9 512.8h0M199.2 422.0h0M155.8 523.3h0M312.2 381.2h0M230.7 443.0h0M240.6 447.5h0M294.5 380.9h0M205.2 450.0h0M233.4 446.0h0M217.4 449.8h0M193.9 470.4h0M134.8 533.1h0M243.7 463.5h0" stroke="#174780" stroke-opacity="0.85" stroke-width="3.5" stroke-linecap="round" fill="none" clip-path="url(#cc)"/><path d="M216.2 471.1h0M303.9 436.6h0M155.3 502.9h0M214.4 468.0h0M321.9 459.6h0M175.7 501.3h0M167.1 421.9h0M263.6 411.2h0M187.9 411.7h0M194.4 465.0h0M169.9 459.1h0M183.9 465.6h0M209.4 345.6h0M173.5 336.4h0M211.8 447.9h0M303.3 466.1h0M86.2 476.5h0M253.2 445.1h0M321.4 432.8h0M217.2 459.0h0M268.4 456.0h0M250.5 491.8h0M231.6 465.9h0M172.8 451.2h0M318.7 430.1h0M160.8 512.9h0M170.9 480.1h0M263.8 428.4h0M194.3 499.3h0M73.0 527.6h0M271.8 442.4h0M254.8 454.7h0M146.3 450.9h0M193.1 474.8h0M81.1 483.0h0M321.0 406.8h0" stroke="#d15200" stroke-opacity="0.42" stroke-width="3.5" stroke-linecap="round" fill="none" clip-path="url(#cc)"/><path d="M144.7 473.6h0M240.6 423.4h0M295.7 442.6h0M174.7 453.9h0M178.4 492.3h0M147.9 394.1h0M161.6 465.0h0M139.6 504.5h0M228.5 368.0h0M77.2 427.8h0M204.6 471.8h0M220.5 441.4h0M135.2 504.0h0M184.7 438.9h0M201.7 455.2h0M263.9 395.8h0M241.2 389.6h0M179.2 461.7h0M228.4 460.4h0M266.6 442.3h0M190.1 467.8h0M271.2 425.6h0M128.3 389.6h0M219.9 456.2h0M240.3 450.7h0M344.1 462.0h0M149.4 503.4h0M137.8 379.4h0M231.8 452.9h0M156.6 511.7h0M174.1 439.2h0M103.9 535.7h0M213.9 442.2h0M336.2 393.9h0M188.8 460.8h0M207.9 437.5h0M188.1 490.5h0M199.6 429.7h0M212.3 457.3h0M158.6 466.4h0M301.8 375.6h0M160.0 458.3h0M214.9 468.7h0M217.9 426.7h0M178.9 422.3h0M137.7 379.5h0M215.3 418.9h0M171.4 463.8h0M250.1 458.3h0M160.4 465.4h0M271.2 448.0h0M155.4 502.6h0M210.8 462.8h0M209.5 434.6h0M168.1 471.4h0M325.6 473.2h0M159.8 483.4h0M155.5 498.2h0M286.8 422.3h0M189.5 469.3h0M184.5 459.4h0M117.3 504.5h0M147.7 467.3h0M288.8 409.4h0M212.7 493.0h0M346.5 462.2h0M127.2 514.0h0M205.9 411.7h0M170.5 477.3h0M187.7 479.9h0M216.8 432.8h0M163.5 500.0h0M179.2 464.8h0M238.0 488.3h0M198.3 476.6h0M181.7 480.0h0M194.0 468.3h0M160.8 496.2h0M232.2 449.8h0M96.8 503.9h0M195.9 464.7h0M118.3 530.1h0M166.7 479.8h0M205.3 476.0h0M171.1 467.0h0M198.0 456.0h0M179.6 497.9h0M200.5 467.5h0M81.4 436.9h0M245.0 392.7h0M180.4 489.2h0M99.8 427.5h0M159.4 511.9h0M210.9 483.6h0M229.0 444.5h0M211.7 418.5h0M226.0 426.1h0M177.0 378.3h0M158.0 471.8h0M192.3 451.4h0M196.7 465.6h0M183.5 469.3h0M222.7 461.1h0M240.4 481.2h0M187.4 414.2h0M236.5 478.5h0M205.4 426.3h0M84.2 439.1h0M270.8 446.5h0M100.6 443.2h0M141.9 497.0h0M240.9 420.1h0M309.9 469.6h0M163.1 494.4h0M200.0 449.6h0M305.6 480.6h0M174.6 491.1h0M210.2 470.6h0M310.3 395.2h0M165.3 447.1h0M147.7 470.6h0M295.3 479.6h0M185.6 364.6h0M147.3 487.5h0M151.1 499.3h0M149.9 518.6h0M202.3 427.0h0M145.6 428.6h0M227.6 404.3h0M180.3 504.9h0M232.8 437.2h0M200.5 453.9h0M258.3 434.3h0M298.5 489.7h0M315.5 407.0h0M102.5 443.9h0M299.5 414.3h0M267.0 422.0h0M152.4 515.0h0M168.2 466.9h0M148.1 478.6h0M223.0 484.6h0M176.6 459.2h0M163.8 489.9h0M303.5 445.6h0M204.6 484.1h0M219.1 443.1h0M219.7 462.7h0M247.0 443.8h0M182.6 492.4h0M278.7 437.3h0M215.0 486.3h0M161.4 487.5h0M213.9 445.2h0M176.6 488.9h0M168.8 398.7h0M295.9 469.6h0M204.9 436.1h0M303.6 409.6h0M195.4 455.9h0M254.8 407.5h0M193.3 459.7h0M138.0 513.9h0M215.6 418.7h0M201.1 474.7h0M213.9 390.5h0M185.0 427.7h0M82.1 487.3h0M195.1 445.3h0M287.2 447.8h0M195.2 487.2h0M337.0 472.4h0M259.4 475.5h0M163.4 467.9h0M168.4 419.1h0M185.7 446.4h0M190.9 470.4h0M201.9 396.1h0M296.1 375.8h0M172.7 420.3h0M293.7 438.1h0M171.3 496.7h0M223.2 447.2h0M198.8 474.8h0M298.7 433.1h0" stroke="#d15200" stroke-opacity="0.8" stroke-width="3.5" stroke-linecap="round" fill="none" clip-path="url(#cc)"/><path d="M244.8 419.5h0M183.2 461.9h0M232.4 441.7h0M163.6 504.4h0M174.6 508.3h0M231.8 469.4h0M209.0 453.8h0M232.0 427.2h0M317.1 341.8h0M213.3 467.0h0M261.3 332.6h0M339.9 411.3h0M292.7 412.6h0M134.8 527.3h0M292.9 352.7h0M265.9 426.8h0M192.9 454.4h0M161.0 492.3h0M226.7 450.2h0M205.3 464.0h0M240.4 481.6h0M259.6 358.6h0M258.1 445.3h0M267.6 431.1h0M165.7 495.5h0M195.2 457.4h0M231.6 389.7h0M241.6 447.3h0M209.8 459.2h0M161.7 506.5h0M259.1 430.3h0M219.4 444.6h0M268.5 333.7h0M237.4 433.1h0M149.3 495.6h0M251.0 419.3h0M167.8 505.5h0M191.1 494.0h0M334.6 372.9h0M289.9 401.0h0M290.2 425.9h0M173.1 477.9h0M314.2 385.8h0M218.0 466.7h0M245.1 421.8h0M109.9 539.0h0M227.5 469.0h0M250.2 437.4h0M184.7 482.3h0M160.1 487.9h0M200.6 473.6h0M132.8 509.9h0M179.1 461.3h0M158.8 499.4h0M203.3 429.4h0M197.2 498.7h0M165.5 483.4h0M155.2 493.8h0M319.0 373.0h0M218.9 460.3h0M221.9 461.5h0M150.6 492.9h0M215.1 468.6h0M183.2 467.6h0M156.1 496.2h0M179.6 456.2h0M293.1 402.4h0M300.5 395.7h0M224.7 401.8h0M188.0 449.6h0M139.4 486.9h0M154.1 498.1h0M262.3 396.5h0M252.2 430.9h0M196.4 472.2h0M191.5 504.6h0M193.6 475.5h0M155.8 502.0h0M269.8 426.9h0M220.8 470.5h0M262.0 383.8h0M146.0 493.5h0M152.5 504.5h0M338.1 377.8h0M224.3 479.1h0M212.1 446.5h0M151.7 510.2h0M114.1 538.4h0M218.4 475.2h0M193.8 468.0h0M284.4 400.3h0M261.7 399.6h0M152.6 514.9h0M198.4 476.7h0M298.9 421.9h0M258.8 430.2h0M297.5 342.1h0M224.9 455.4h0M174.4 480.7h0M205.6 472.8h0M155.4 487.5h0M293.3 408.8h0M173.2 479.0h0M160.5 485.8h0M223.8 395.7h0M155.2 497.0h0M169.3 482.4h0M162.4 478.5h0M192.9 458.7h0M210.7 445.9h0M175.0 462.7h0M217.8 380.3h0M138.2 521.4h0M195.4 431.3h0M257.0 438.4h0M172.2 476.4h0M123.0 525.4h0M258.0 413.5h0M230.7 448.8h0M185.1 477.7h0M287.2 402.1h0M204.1 486.3h0M231.3 476.1h0M310.3 386.2h0M156.5 495.3h0M171.4 464.2h0M137.9 526.1h0M177.0 501.8h0M237.7 400.4h0M267.2 369.6h0M239.7 417.2h0M300.2 355.1h0M281.8 420.4h0M188.3 462.4h0M303.3 394.0h0M142.2 518.2h0M147.2 504.0h0M207.2 458.5h0M239.3 385.1h0M168.6 500.5h0M154.4 500.9h0M201.5 453.6h0M238.8 412.6h0M258.7 427.9h0M214.0 469.1h0M189.1 457.3h0M270.8 410.9h0M213.8 468.8h0M122.4 509.5h0M157.6 489.0h0M162.7 487.8h0M194.2 469.9h0M215.6 413.0h0M173.6 488.5h0M189.0 467.0h0M116.0 539.5h0M211.4 445.5h0M324.0 359.6h0M237.9 420.5h0M207.1 472.3h0M201.9 474.7h0M237.8 461.1h0M210.9 456.1h0M176.6 485.2h0M323.3 371.0h0M279.5 441.2h0M213.2 448.6h0M283.0 397.1h0M188.9 464.7h0M304.8 411.1h0M143.9 514.7h0M215.4 407.8h0M257.7 416.8h0M160.0 516.6h0M227.6 444.4h0M272.1 426.8h0M241.1 425.8h0M174.4 460.1h0M255.0 417.2h0M230.7 392.4h0M196.1 454.6h0M190.0 489.6h0M174.8 508.9h0M278.1 403.3h0M154.8 478.5h0M172.8 495.3h0M159.6 497.9h0M238.5 453.3h0M219.0 440.2h0M223.7 433.6h0M192.5 455.8h0M244.4 390.1h0M131.6 518.4h0M285.6 386.0h0M249.6 387.9h0M168.9 451.9h0M162.0 482.9h0M235.1 428.9h0M331.0 336.7h0M162.8 469.0h0M318.4 362.9h0M189.1 471.5h0" stroke="#174780" stroke-opacity="0.85" stroke-width="3.5" stroke-linecap="round" fill="none" clip-path="url(#cc)"/><path d="M213.0 472.4h0M240.1 437.5h0M174.9 476.3h0M129.3 516.9h0M155.1 498.6h0M210.6 435.8h0M209.4 453.7h0M211.0 477.5h0M142.0 501.9h0M117.4 429.9h0M231.6 463.0h0M74.5 494.3h0M180.3 500.7h0M243.9 462.5h0M275.6 479.6h0M313.7 410.1h0M177.0 490.7h0M164.7 497.9h0M161.9 481.3h0M297.4 391.2h0M181.3 433.2h0M179.5 493.2h0M198.8 484.2h0M120.7 518.6h0M314.6 457.0h0M141.6 470.0h0M256.5 443.3h0M78.8 525.0h0M346.2 420.2h0M208.6 465.8h0M239.3 446.9h0M167.0 479.2h0" stroke="#d15200" stroke-opacity="0.42" stroke-width="3.5" stroke-linecap="round" fill="none" clip-path="url(#cc)"/><path d="M175.1 407.2h0M95.7 367.0h0M146.2 510.8h0M270.1 381.7h0M233.3 429.6h0M141.5 511.3h0M142.7 333.8h0M239.1 459.2h0M205.2 453.1h0M210.8 435.6h0M210.8 469.7h0M210.8 482.7h0M215.5 455.7h0M189.0 472.6h0M206.5 485.1h0M159.8 486.1h0M291.4 431.6h0M233.0 469.0h0M250.7 455.4h0M255.4 442.7h0M273.3 415.6h0M233.7 487.1h0M343.2 416.3h0M207.1 435.7h0M330.1 411.4h0M194.6 467.0h0M147.3 429.8h0M175.7 472.2h0M214.9 446.2h0M199.7 412.5h0M256.4 439.8h0M148.5 483.9h0M219.9 444.6h0M190.1 467.7h0M222.5 463.9h0M149.9 487.5h0M258.8 485.2h0M165.7 470.5h0M236.8 449.4h0M213.5 461.1h0M248.1 448.5h0M208.6 462.1h0M303.7 402.5h0M222.6 423.1h0M160.3 475.4h0M160.9 465.8h0M175.5 461.6h0M236.5 458.8h0M307.9 448.5h0M190.6 488.5h0M211.4 457.5h0M130.8 508.0h0M154.4 423.2h0M177.1 404.8h0M235.2 464.0h0M148.4 501.4h0M200.2 490.8h0M263.1 479.8h0M142.3 510.4h0M228.3 476.3h0M161.7 479.4h0M126.5 512.0h0M225.7 451.1h0M296.9 429.9h0M243.9 402.3h0M191.6 486.0h0M248.6 467.8h0M146.5 502.4h0M122.6 521.0h0M344.0 427.7h0M103.3 405.4h0M84.0 501.7h0M122.5 376.6h0M260.0 448.5h0M192.4 476.7h0M170.3 512.9h0M138.1 458.3h0M291.2 461.3h0M318.1 407.6h0M205.0 396.7h0M160.0 416.4h0M154.5 507.9h0M203.5 476.1h0M124.4 533.2h0M198.4 472.3h0M174.4 471.7h0M216.3 463.6h0M186.1 490.2h0M123.3 494.5h0M149.9 494.6h0M153.3 495.5h0M202.3 467.9h0M313.3 375.5h0M199.1 475.6h0M166.2 476.1h0M203.0 406.9h0M212.0 456.2h0M236.4 422.0h0M216.7 430.3h0M207.4 433.0h0M286.2 402.5h0M202.1 497.5h0M114.7 511.7h0M178.3 458.1h0M244.0 469.3h0M299.7 455.0h0M223.8 473.3h0M256.3 427.4h0M264.6 453.2h0M260.4 445.0h0M96.6 486.9h0M268.1 464.9h0M232.4 469.3h0M224.4 476.6h0M164.6 502.6h0M248.1 432.8h0M232.6 476.0h0M230.0 479.1h0M201.0 415.0h0M242.1 416.0h0M149.6 443.8h0M143.0 487.6h0M211.8 478.9h0M158.0 442.6h0M231.4 409.6h0M169.9 463.1h0M82.7 492.5h0M238.8 447.2h0M224.4 452.9h0M175.2 431.9h0M177.3 473.8h0M177.3 433.9h0M227.3 436.7h0M287.9 408.8h0M170.1 476.6h0M78.1 487.7h0M306.2 444.2h0M259.5 470.4h0M272.5 410.8h0M333.5 403.0h0M198.5 482.5h0M165.3 442.8h0M234.3 450.6h0M193.7 453.0h0M148.1 487.8h0M339.6 461.7h0M125.7 440.5h0M209.5 477.6h0M228.1 461.3h0M213.3 438.2h0M209.7 490.5h0M215.9 435.5h0M235.2 440.5h0M262.1 449.0h0M271.7 415.8h0M128.0 480.0h0M163.1 513.1h0M265.0 442.7h0M167.5 494.0h0M296.7 471.6h0M205.7 496.2h0M231.2 445.9h0M209.2 389.3h0M180.6 408.3h0M137.3 495.3h0M258.4 398.3h0M268.4 447.4h0M180.1 438.7h0M172.2 427.2h0M160.6 513.6h0M204.3 478.2h0M176.3 419.4h0M192.7 486.8h0M148.6 472.8h0M185.0 500.5h0M215.2 457.2h0M159.9 475.4h0M90.4 393.9h0M182.1 476.7h0M229.0 479.5h0M221.1 454.3h0M221.4 462.0h0M183.6 481.1h0M153.9 483.6h0M330.0 476.1h0M221.0 417.4h0M103.6 496.1h0M167.3 408.1h0" stroke="#d15200" stroke-opacity="0.8" stroke-width="3.5" stroke-linecap="round" fill="none" clip-path="url(#cc)"/><path d="M300.4 391.3h0M284.8 347.1h0M286.9 413.5h0M209.5 472.7h0M217.1 466.1h0M236.4 439.0h0M184.1 496.4h0M212.9 480.4h0M340.3 377.1h0M168.3 468.5h0M287.6 441.7h0M208.9 475.6h0M228.4 426.0h0M296.1 344.8h0M248.2 421.8h0M217.1 443.6h0M264.7 428.7h0M219.6 438.2h0M236.6 403.0h0M303.3 381.5h0M189.8 491.9h0M342.9 377.8h0M223.3 413.5h0M334.4 348.3h0M271.7 418.7h0M297.1 360.0h0M231.0 434.7h0M209.8 426.1h0M301.6 377.8h0M216.6 464.5h0M139.4 521.4h0M300.3 438.2h0M162.3 472.0h0M194.3 441.4h0M234.3 414.2h0M283.1 437.4h0M327.2 394.9h0M197.2 441.5h0M187.5 473.5h0M135.0 507.2h0M216.2 443.7h0M240.8 415.6h0M280.8 422.2h0M190.0 435.3h0M302.0 427.8h0M199.4 458.2h0M166.9 505.0h0M181.5 505.3h0M143.9 518.2h0M294.6 434.2h0M211.7 448.1h0M201.9 475.9h0M227.8 382.9h0M301.7 434.3h0M255.5 443.8h0M267.3 423.3h0M179.1 486.4h0M122.1 526.7h0M174.0 472.6h0M246.4 382.7h0M184.8 478.8h0M226.3 458.6h0M290.9 419.9h0M301.3 361.3h0M280.9 419.1h0M232.4 463.9h0M176.6 477.3h0M210.1 474.5h0M299.0 431.0h0M210.7 458.0h0M287.7 422.5h0M345.4 340.2h0M160.6 490.8h0M232.5 431.9h0M187.9 473.4h0M176.7 482.6h0M233.5 472.2h0M223.9 478.6h0M217.9 444.0h0M196.6 468.3h0M332.9 398.2h0M329.6 366.1h0M310.0 364.7h0M269.9 416.0h0M216.5 478.1h0M160.7 497.3h0M190.0 467.7h0M251.2 429.2h0M157.8 466.6h0M216.7 449.7h0M240.5 463.8h0M132.7 504.2h0M203.6 480.3h0M217.7 457.1h0M170.3 477.3h0M172.7 474.2h0M201.8 469.7h0M222.3 432.1h0M188.9 455.4h0M220.8 427.9h0M194.7 476.7h0M189.9 458.8h0M312.5 383.9h0M290.7 383.6h0M302.6 366.2h0M144.6 513.1h0M145.4 492.6h0M191.2 483.3h0M164.6 483.1h0M112.1 535.8h0M295.6 362.6h0M217.2 463.0h0M170.2 495.5h0M188.3 465.0h0M174.6 461.9h0M102.0 536.7h0M230.9 415.1h0M223.0 433.8h0M191.3 492.9h0M220.2 425.8h0M211.3 444.3h0M301.7 370.7h0M235.4 461.7h0M176.2 457.1h0M201.4 499.8h0M199.2 455.4h0M144.0 515.9h0M228.0 427.8h0M208.1 485.7h0M268.3 376.3h0M134.9 506.6h0M248.9 427.3h0M182.0 453.4h0M139.7 518.7h0M264.0 399.1h0M240.1 438.0h0M175.1 505.0h0M305.6 405.9h0M324.2 361.7h0M238.2 436.0h0M257.7 409.4h0M173.9 467.6h0M192.5 476.1h0M143.3 499.5h0M228.3 437.3h0M306.8 375.6h0M224.6 416.8h0M123.4 536.9h0M321.4 403.4h0M191.6 498.2h0M150.1 500.9h0M252.7 441.7h0M201.6 468.7h0M323.0 357.6h0M237.7 416.2h0M344.4 409.4h0M197.4 480.3h0M199.1 452.4h0M165.3 500.2h0M157.6 473.4h0M112.5 531.8h0M207.1 429.7h0M198.8 468.0h0M215.4 449.5h0M239.1 437.5h0M145.6 517.6h0M292.0 374.4h0M211.3 416.4h0M215.0 469.1h0M226.3 369.9h0M145.3 511.4h0M201.2 429.8h0M142.8 517.8h0M212.3 440.4h0M176.8 453.9h0M340.9 340.7h0M295.8 342.6h0M255.4 428.6h0M175.8 485.4h0M172.2 487.4h0M222.2 441.8h0M187.9 466.4h0M214.0 440.1h0M199.3 466.5h0M283.8 411.3h0M158.2 500.5h0M218.4 398.1h0M206.0 480.2h0M122.0 520.4h0M201.5 442.6h0M186.6 481.1h0M172.4 488.6h0M205.9 436.3h0M215.6 462.2h0M218.6 467.9h0M340.1 356.4h0M257.9 392.1h0M230.0 399.2h0M271.0 416.9h0M218.3 440.2h0" stroke="#174780" stroke-opacity="0.85" stroke-width="3.5" stroke-linecap="round" fill="none" clip-path="url(#cc)"/><path d="M187.9 483.4h0M207.8 496.7h0M243.1 448.5h0M179.1 441.8h0M154.8 487.4h0M242.0 464.6h0M170.6 468.2h0M198.8 451.9h0M91.7 482.7h0M152.9 501.1h0M282.0 441.7h0M125.1 508.2h0M221.1 467.0h0M148.7 384.0h0M137.9 489.0h0M293.1 460.8h0M166.6 487.3h0M277.4 449.4h0M231.0 456.0h0M192.8 441.4h0M282.7 404.2h0M197.0 439.2h0M172.4 416.3h0M198.1 508.2h0M175.7 387.2h0M183.8 495.9h0M154.1 444.9h0M222.1 470.3h0M249.2 464.5h0M119.5 477.1h0M196.3 407.3h0M189.5 448.6h0M186.9 482.1h0M226.8 448.5h0M194.2 465.6h0M195.2 469.6h0M120.8 520.0h0M112.1 488.0h0M191.1 462.9h0M201.2 387.7h0" stroke="#d15200" stroke-opacity="0.42" stroke-width="3.5" stroke-linecap="round" fill="none" clip-path="url(#cc)"/><path d="M154.9 503.2h0M182.7 479.9h0M159.7 497.0h0M88.6 480.5h0M204.0 473.4h0M182.1 462.6h0M254.4 414.6h0M212.2 439.0h0M271.2 447.7h0M159.7 466.4h0M199.4 457.5h0M199.3 478.3h0M183.7 446.9h0M153.4 434.9h0M186.5 451.8h0M153.4 433.4h0M247.8 457.1h0M218.9 420.3h0M212.4 453.7h0M231.8 417.7h0M198.2 454.9h0M145.6 477.1h0M259.2 470.0h0M286.4 393.7h0M256.4 428.0h0M87.8 501.6h0M223.0 461.1h0M206.4 392.4h0M187.3 391.6h0M168.4 493.6h0M315.1 486.5h0M205.8 423.6h0M256.1 450.1h0M229.7 491.3h0M182.0 487.7h0M203.2 474.2h0M267.5 437.1h0M160.9 432.9h0M217.5 418.0h0M285.2 421.8h0M237.6 450.1h0M212.5 470.4h0M180.5 444.6h0M166.2 507.1h0M231.4 421.3h0M182.8 484.3h0M154.7 497.0h0M245.7 446.3h0M278.5 482.4h0M182.3 457.7h0M173.8 480.6h0M158.0 460.3h0M246.1 475.7h0M194.4 481.0h0M217.8 443.3h0M288.9 461.0h0M172.3 511.6h0M203.6 487.4h0M343.4 391.8h0M218.7 465.5h0M180.2 479.0h0M217.0 494.4h0M185.5 473.5h0M112.0 429.0h0M231.7 484.8h0M147.5 483.1h0M206.5 428.4h0M284.5 443.8h0M236.7 451.0h0M175.7 497.6h0M179.4 338.9h0M242.2 437.7h0M134.0 500.0h0M185.0 509.7h0M269.4 396.2h0M239.6 441.2h0M290.4 357.9h0M178.4 490.7h0M237.5 427.6h0M178.4 450.6h0M254.0 469.9h0M269.0 470.8h0M238.4 423.6h0M240.9 417.6h0M219.2 472.5h0M249.7 430.2h0M264.7 394.6h0M174.5 353.6h0M286.0 437.5h0M171.9 504.1h0M217.8 402.6h0M177.4 466.9h0M175.1 452.5h0M186.4 457.3h0M201.9 477.9h0M155.3 496.0h0M163.2 477.9h0M206.1 442.5h0M167.2 517.6h0M150.2 467.8h0M186.1 485.7h0M175.3 465.2h0M164.7 486.3h0M219.9 471.4h0M170.0 496.4h0M204.5 444.8h0M238.2 437.9h0M323.6 441.3h0M228.7 461.4h0M271.8 420.8h0M239.0 452.4h0M191.1 424.0h0M181.0 425.7h0M257.5 466.0h0M203.4 458.6h0M165.6 463.6h0M155.8 480.3h0M261.4 403.3h0M244.5 431.6h0M224.5 401.5h0M131.1 492.5h0M186.6 428.5h0M194.1 494.2h0M212.3 466.2h0M148.5 481.1h0M155.3 448.3h0M160.1 488.2h0M182.9 485.9h0M282.3 404.5h0M176.5 459.4h0M174.8 485.4h0M228.4 477.3h0M76.1 357.4h0M155.3 481.0h0M158.4 502.7h0M266.3 408.6h0M231.3 456.6h0M162.2 481.1h0M264.3 468.5h0M122.5 454.0h0M142.5 511.4h0M188.9 420.3h0M198.6 474.5h0M186.7 446.3h0M231.9 440.4h0M261.8 415.3h0M192.8 470.9h0M188.0 474.8h0M207.2 347.6h0M248.0 440.2h0M252.8 464.0h0M196.4 393.7h0M151.3 496.3h0M192.5 447.7h0M136.7 494.0h0M244.0 423.3h0M228.6 420.8h0M313.1 437.1h0M218.5 394.1h0M181.8 431.4h0M114.5 491.6h0M215.7 412.1h0M253.6 430.4h0M164.3 463.9h0M336.1 461.1h0M210.7 421.7h0M150.8 481.0h0M217.1 459.7h0M185.6 450.2h0M112.3 444.0h0M204.9 453.4h0M220.2 434.1h0M227.4 388.0h0M248.2 450.3h0M296.7 455.5h0M169.5 463.9h0M146.8 439.7h0M253.5 448.8h0M145.8 473.6h0M136.3 433.1h0M182.9 484.6h0M329.0 452.5h0" stroke="#d15200" stroke-opacity="0.8" stroke-width="3.5" stroke-linecap="round" fill="none" clip-path="url(#cc)"/><path d="M192.9 458.8h0M243.5 345.6h0M233.2 394.7h0M171.8 485.8h0M246.2 464.9h0M126.2 527.5h0M134.4 519.0h0M211.6 486.0h0M305.7 437.3h0M285.3 408.7h0M145.8 483.9h0M142.7 495.1h0M173.9 473.4h0M304.3 342.0h0M189.0 472.5h0M256.6 370.5h0M156.4 514.5h0M280.5 403.3h0M149.5 502.6h0M215.7 464.6h0M248.4 406.4h0M182.1 458.4h0M289.9 416.8h0M254.7 433.9h0M276.0 402.7h0M223.1 425.1h0M199.7 452.3h0M143.8 499.6h0M281.5 380.0h0M224.5 454.1h0M274.2 341.1h0M176.5 500.7h0M193.5 456.1h0M277.7 448.6h0M221.9 439.3h0M183.1 486.0h0M271.7 412.6h0M260.6 426.9h0M276.2 392.1h0M189.9 473.9h0M157.4 493.5h0M149.7 524.2h0M121.5 519.5h0M181.2 445.9h0M261.8 343.5h0M239.3 453.9h0M315.8 386.3h0M222.4 466.6h0M163.3 499.7h0M317.1 371.8h0M308.1 424.1h0M305.5 345.0h0M339.5 357.3h0M167.3 478.4h0M179.2 478.3h0M131.1 527.3h0M285.6 442.7h0M193.0 452.8h0M152.6 513.0h0M150.8 486.6h0M199.2 476.9h0M190.3 490.0h0M208.4 465.5h0M200.7 463.6h0M135.0 498.1h0M181.1 491.8h0M259.4 416.8h0M201.9 457.6h0M325.3 355.6h0M233.7 471.8h0M181.0 462.8h0M232.1 429.7h0M296.8 397.7h0M133.1 493.7h0M326.9 422.4h0M181.8 482.8h0M280.1 432.5h0M259.2 414.0h0M265.6 435.0h0M218.4 452.0h0M291.9 408.3h0M283.4 372.9h0M121.4 522.8h0M211.1 489.7h0M205.9 458.1h0M246.9 393.1h0M214.3 484.3h0M214.1 444.9h0M281.1 444.7h0M184.4 481.9h0M219.2 461.6h0M170.2 491.8h0M319.6 367.5h0M275.4 363.1h0M134.6 514.2h0M223.5 474.6h0M282.5 378.5h0M238.3 425.8h0M188.8 493.5h0M170.6 480.5h0M270.2 414.5h0M145.6 506.1h0M168.4 495.3h0M211.5 449.8h0M272.2 384.8h0M152.8 479.7h0M186.9 481.5h0M160.1 500.7h0M190.8 474.4h0M264.0 368.9h0M202.3 484.6h0M325.4 355.1h0M183.7 457.3h0M211.1 457.3h0M211.8 460.5h0M210.3 458.5h0M272.0 434.5h0M213.7 418.8h0M214.1 458.1h0M186.5 494.7h0M118.3 530.3h0M151.9 484.2h0M169.8 473.1h0M214.9 404.2h0M177.8 472.8h0M273.7 405.1h0M182.2 497.6h0M157.5 494.4h0M250.7 415.0h0M157.8 505.9h0M347.6 353.7h0M193.0 488.9h0M167.7 510.8h0M302.3 418.1h0M209.1 424.4h0M176.0 492.7h0M231.2 407.7h0M216.7 439.6h0M186.3 436.7h0M174.2 495.4h0M216.8 450.9h0M306.5 398.6h0M241.6 452.6h0M207.6 463.6h0M243.2 408.4h0M279.1 396.9h0M263.1 464.4h0M288.0 400.5h0M144.7 522.3h0M203.7 464.3h0M184.4 441.5h0M173.3 483.2h0M129.3 512.9h0M323.1 413.0h0M289.9 399.3h0M314.9 368.5h0M273.5 419.3h0M261.4 451.6h0M223.2 460.8h0M255.8 399.4h0M239.0 419.2h0M230.2 425.4h0M171.2 488.2h0M220.2 494.6h0M197.9 477.4h0M183.6 488.9h0M169.5 471.2h0M138.7 514.7h0M344.5 410.3h0M214.8 431.4h0M257.5 395.5h0M308.7 403.9h0M210.7 427.4h0M305.5 421.3h0M228.4 400.6h0M314.9 426.3h0M247.6 440.9h0M225.8 467.8h0M280.6 426.4h0M223.3 423.1h0M201.4 447.9h0M206.6 470.6h0M289.2 411.4h0M259.5 413.3h0M181.7 470.8h0M338.0 371.2h0M162.5 495.5h0M139.6 503.0h0M264.1 413.4h0M149.4 509.6h0M164.2 480.0h0M243.4 437.0h0M194.6 397.6h0M183.4 479.6h0M134.9 507.2h0M188.3 439.5h0M193.7 456.8h0M222.4 429.1h0" stroke="#174780" stroke-opacity="0.85" stroke-width="3.5" stroke-linecap="round" fill="none" clip-path="url(#cc)"/><path d="M274.1 376.5h0M281.6 457.0h0M174.3 490.5h0M258.4 436.7h0M316.6 342.1h0M225.3 422.7h0M152.8 497.2h0M209.4 512.7h0M237.2 429.3h0M120.0 429.6h0M159.7 485.6h0M221.2 444.4h0M306.7 477.3h0M235.9 459.3h0M146.4 495.1h0M132.1 341.0h0M275.3 413.0h0M237.7 385.6h0M231.9 439.7h0M202.6 460.0h0M243.3 442.9h0M249.2 420.1h0M280.3 405.9h0M225.7 421.1h0" stroke="#d15200" stroke-opacity="0.42" stroke-width="3.5" stroke-linecap="round" fill="none" clip-path="url(#cc)"/><path d="M142.6 442.8h0M250.0 420.2h0M173.8 422.9h0M186.0 503.1h0M142.3 494.3h0M167.2 460.2h0M202.1 417.0h0M188.4 430.2h0M179.6 495.6h0M237.8 474.1h0M177.5 449.7h0M217.8 449.0h0M276.3 506.1h0M214.5 462.4h0M205.2 447.7h0M224.0 425.4h0M239.5 455.5h0M267.7 436.1h0M214.1 471.0h0M330.9 489.1h0M265.4 406.9h0M281.6 432.2h0M182.7 466.4h0M278.4 472.5h0M159.0 485.2h0M220.4 421.8h0M237.3 493.6h0M326.3 461.4h0M298.4 399.9h0M232.3 408.0h0M203.8 491.4h0M335.4 475.6h0M169.7 484.5h0M253.7 398.5h0M192.3 487.2h0M191.2 401.3h0M157.4 473.7h0M195.1 418.8h0M268.6 489.5h0M132.5 515.2h0M229.5 459.1h0M320.8 381.1h0M309.0 476.2h0M193.3 424.7h0M137.4 492.4h0M150.0 360.6h0M222.3 462.7h0M188.2 484.3h0M204.9 433.9h0M248.3 445.4h0M183.8 447.9h0M259.2 419.4h0M170.3 486.9h0M196.7 372.9h0M298.2 426.8h0M272.9 424.0h0M183.5 482.7h0M171.6 460.9h0M336.1 452.4h0M195.0 466.7h0M147.3 460.4h0M317.4 457.4h0M285.7 402.3h0M343.3 455.6h0M169.1 469.7h0M210.9 476.4h0M194.5 438.2h0M131.5 419.6h0M176.6 459.9h0M181.3 486.0h0M135.4 506.2h0M182.6 480.2h0M152.0 481.0h0M177.0 499.1h0M250.7 384.6h0M134.9 501.0h0M142.2 462.2h0M185.7 430.7h0M344.5 432.9h0M194.7 488.3h0M218.3 472.2h0M203.5 500.0h0M203.7 472.2h0M127.3 444.3h0M273.1 474.0h0M275.2 467.8h0M158.8 498.5h0M188.2 471.2h0M166.3 484.2h0M203.2 464.9h0M262.5 379.5h0M163.6 423.0h0M81.1 434.6h0M118.2 439.3h0M182.2 473.1h0M224.7 431.7h0M248.3 428.8h0M204.8 481.1h0M315.6 430.2h0M172.3 410.6h0M148.0 439.3h0M183.1 483.4h0M249.1 426.0h0M192.2 360.2h0M297.8 376.6h0M261.6 468.2h0M164.6 479.6h0M180.0 466.6h0M272.1 452.2h0M191.3 450.7h0M285.8 450.2h0M206.6 486.7h0M194.3 448.6h0M204.9 458.0h0M105.3 538.8h0M227.6 389.2h0M235.2 407.4h0M216.2 438.6h0M232.4 448.1h0M134.4 466.0h0M199.8 447.3h0M292.3 409.0h0M91.2 415.7h0M153.5 490.8h0M230.6 404.5h0M144.9 480.7h0M158.3 478.9h0M136.9 500.2h0M241.6 465.0h0M220.9 434.3h0M232.6 492.5h0M79.1 514.7h0M197.8 446.2h0M249.8 426.8h0M188.8 462.7h0M236.9 477.8h0M123.4 457.7h0M208.8 469.9h0M211.7 465.7h0M184.6 461.0h0M242.8 489.4h0M285.7 415.5h0M173.6 450.2h0M325.3 433.3h0M186.7 436.2h0M160.3 489.6h0M124.5 387.9h0M278.3 454.1h0M161.7 480.2h0M140.5 460.1h0M196.7 489.6h0M296.9 440.9h0M298.8 465.5h0M190.0 492.4h0M314.5 444.4h0M257.9 441.9h0M182.3 464.6h0M197.5 422.1h0M302.6 446.9h0M251.1 418.7h0M200.5 492.1h0M140.7 502.2h0M184.8 479.5h0M159.2 499.7h0M144.0 494.4h0M286.7 463.1h0M173.3 486.5h0M97.6 499.3h0M152.8 439.3h0M144.1 505.4h0M288.2 440.9h0M205.5 417.1h0M307.3 459.2h0M145.3 517.5h0M161.0 494.4h0M120.9 488.3h0M293.6 458.8h0M78.1 500.4h0M234.3 455.2h0M217.8 392.5h0M232.2 397.5h0M277.1 436.9h0M299.6 397.1h0M182.0 450.5h0M338.0 432.6h0M197.0 466.7h0M145.8 470.9h0M204.8 476.1h0M217.6 407.6h0M223.8 399.7h0M196.9 474.0h0M272.7 484.4h0M153.0 505.1h0M164.9 434.2h0M155.3 455.4h0M168.6 432.5h0M185.3 465.1h0M200.9 463.5h0M322.5 425.8h0M322.4 467.7h0M126.1 405.1h0M283.3 434.8h0" stroke="#d15200" stroke-opacity="0.8" stroke-width="3.5" stroke-linecap="round" fill="none" clip-path="url(#cc)"/><path d="M196.2 469.9h0M232.7 419.9h0M170.4 475.1h0M164.5 487.3h0M140.2 500.5h0M319.3 448.3h0M164.8 491.2h0M165.1 500.2h0M253.5 391.0h0M129.3 524.1h0M133.6 503.6h0M200.7 438.6h0M214.7 479.5h0M136.9 524.8h0M289.1 428.9h0M197.8 415.6h0M201.3 433.8h0M214.0 439.6h0M157.3 501.0h0M232.0 446.6h0M273.4 384.3h0M166.1 494.5h0M171.2 497.8h0M180.4 442.5h0M178.3 488.0h0M206.3 470.4h0M149.8 494.8h0M189.9 484.3h0M290.8 406.8h0M250.2 425.2h0M171.8 471.2h0M152.7 511.2h0M192.4 424.8h0M128.7 513.0h0M214.3 472.2h0M203.2 477.8h0M212.3 459.9h0M140.6 521.7h0M277.7 436.6h0M170.4 469.2h0M138.4 515.8h0M260.1 392.4h0M187.5 492.8h0M190.2 458.1h0M285.3 423.2h0M197.8 459.1h0M217.1 432.8h0M176.7 474.3h0M166.8 474.7h0M186.7 490.7h0M124.9 521.6h0M115.2 531.4h0M220.9 436.4h0M248.6 421.8h0M139.9 512.8h0M208.3 442.9h0M314.0 401.5h0M137.5 519.5h0M259.3 427.3h0M209.2 463.3h0M189.2 436.1h0M335.6 389.5h0M276.9 345.7h0M265.7 434.2h0M145.6 502.3h0M210.7 438.5h0M156.1 493.5h0M231.9 446.6h0M116.1 523.5h0M184.2 434.1h0M193.2 474.2h0M207.4 433.2h0M152.9 502.9h0M169.1 502.7h0M273.8 436.3h0M340.9 381.8h0M124.1 518.8h0M293.9 360.8h0M170.6 487.6h0M223.8 444.1h0M276.6 416.1h0M305.9 340.1h0M273.6 420.7h0M199.0 428.0h0M227.0 441.3h0M150.8 507.0h0M215.7 465.5h0M191.1 464.7h0M149.3 502.7h0M145.3 483.8h0M216.7 467.0h0M288.3 461.4h0M309.2 373.5h0M221.0 457.2h0M228.9 478.9h0M251.9 457.4h0M276.2 431.0h0M145.6 509.0h0M181.6 464.2h0M129.2 523.6h0M238.6 438.1h0M158.9 501.1h0M216.0 384.9h0M154.8 505.5h0M176.4 497.3h0M196.4 483.1h0M256.9 395.5h0M206.8 451.5h0M207.2 469.2h0M191.8 501.4h0M259.0 424.5h0M225.5 434.4h0M279.5 394.2h0M230.1 436.8h0M157.6 513.5h0M283.7 410.8h0M222.2 463.4h0M237.2 395.2h0M149.3 496.7h0M144.6 518.6h0M235.6 438.1h0M236.0 412.6h0M179.0 488.0h0M280.2 364.9h0M204.7 461.0h0M277.8 423.4h0M228.3 394.3h0M153.9 484.9h0M274.4 386.3h0M200.4 476.6h0M282.9 402.2h0M230.2 416.2h0M253.0 405.3h0M257.1 362.2h0M189.7 459.5h0M238.3 473.8h0M267.9 375.3h0M159.5 479.8h0M250.2 423.2h0M251.0 445.1h0M126.8 516.4h0M245.2 422.8h0M179.5 447.0h0M207.6 462.2h0M223.8 426.5h0M229.4 449.3h0M195.1 437.5h0M202.1 449.4h0M198.8 467.4h0M312.9 334.7h0M323.9 367.1h0M272.9 399.4h0M202.2 455.7h0M211.5 477.0h0M189.3 494.1h0M186.8 453.4h0M150.4 489.2h0M169.7 489.7h0M124.1 535.1h0M179.2 466.7h0M206.9 374.5h0M227.9 451.2h0M197.0 464.8h0M149.2 477.7h0M238.2 438.1h0M220.8 448.3h0M135.6 496.8h0M190.5 460.9h0M302.2 398.1h0M202.2 498.6h0M192.9 475.6h0M195.1 480.0h0M169.4 477.4h0M200.3 492.2h0M236.0 448.5h0M129.8 541.6h0M312.3 388.7h0M222.3 438.1h0M253.8 421.7h0M154.8 517.8h0M326.1 399.8h0M140.7 508.2h0M210.9 452.0h0M130.8 511.2h0M193.8 493.9h0M233.5 370.9h0M242.2 421.6h0M207.7 410.6h0M231.3 453.1h0M199.1 471.3h0M229.4 432.0h0M265.3 445.7h0M229.9 404.9h0M146.9 480.0h0M345.1 351.0h0M191.5 454.1h0M182.7 475.2h0M222.4 420.5h0M219.0 450.3h0M201.1 472.0h0" stroke="#174780" stroke-opacity="0.85" stroke-width="3.5" stroke-linecap="round" fill="none" clip-path="url(#cc)"/><path d="M312.5 455.0h0M226.5 454.8h0M329.6 486.1h0M138.0 516.5h0M270.9 397.8h0M252.5 448.0h0M308.2 424.0h0M207.2 478.8h0M193.7 449.7h0M141.3 507.8h0M311.4 398.8h0M145.3 504.4h0M209.1 467.8h0M176.1 453.4h0M187.7 484.8h0M192.4 511.1h0M157.4 438.7h0M155.6 419.5h0M163.4 430.4h0M219.7 461.7h0M197.7 442.3h0M275.3 409.9h0M184.1 486.4h0M340.6 463.3h0M314.2 438.1h0" stroke="#d15200" stroke-opacity="0.42" stroke-width="3.5" stroke-linecap="round" fill="none" clip-path="url(#cc)"/><path d="M109.3 509.4h0M197.6 470.7h0M168.7 502.5h0M171.0 428.0h0M153.1 491.3h0M265.4 395.1h0M216.4 465.8h0M126.9 493.5h0M297.7 461.1h0M252.6 424.4h0M302.0 453.7h0M260.6 445.5h0M98.9 527.3h0M227.4 433.8h0M237.9 436.0h0M154.9 418.1h0M206.2 435.5h0M339.7 435.8h0M226.8 444.4h0M217.4 443.6h0M235.5 401.8h0M290.2 417.4h0M199.8 421.5h0M303.3 450.1h0M149.5 512.7h0M175.3 423.1h0M177.0 464.1h0M332.1 442.4h0M140.1 495.3h0M153.7 504.8h0M219.2 434.1h0M239.5 458.9h0M173.1 481.9h0M292.3 448.9h0M174.2 463.1h0M168.7 475.3h0M280.5 446.4h0M141.8 499.0h0M133.4 451.4h0M232.6 467.2h0M162.8 506.1h0M165.8 494.6h0M179.2 364.5h0M180.9 510.0h0M295.0 452.8h0M254.7 477.3h0M281.3 434.3h0M182.1 500.8h0M85.6 445.6h0M120.2 480.7h0M347.2 459.3h0M137.4 499.4h0M310.3 430.8h0M199.4 437.9h0M165.7 487.4h0M171.2 477.8h0M207.4 386.1h0M180.0 439.4h0M214.9 431.3h0M220.7 480.4h0M217.2 469.3h0M264.0 460.1h0M245.7 451.7h0M248.3 452.5h0M226.7 465.4h0M237.8 479.6h0M153.2 376.0h0M345.6 430.0h0M230.0 422.5h0M177.7 504.3h0M156.3 481.1h0M167.9 463.4h0M230.6 339.6h0M248.2 456.1h0M224.4 458.8h0M212.4 474.4h0M140.6 437.3h0M188.2 445.7h0M271.2 397.0h0M199.7 417.8h0M252.8 428.5h0M272.9 465.7h0M123.5 436.6h0M160.2 458.0h0M176.5 419.1h0M211.2 436.1h0M174.9 471.0h0M215.6 452.7h0M296.6 426.5h0M167.5 474.5h0M281.6 428.1h0M172.0 509.6h0M77.4 505.9h0M204.7 443.4h0M150.9 491.4h0M246.9 480.0h0M197.9 453.6h0M182.2 493.9h0M199.1 459.4h0M96.1 447.4h0M213.9 484.7h0M271.2 428.9h0M291.8 404.8h0M195.3 450.0h0M188.5 472.0h0M343.2 439.8h0M154.3 462.0h0M197.9 462.4h0M192.9 472.0h0M125.5 517.1h0M165.3 512.7h0M149.0 495.3h0M261.9 388.7h0M250.6 495.2h0M197.5 408.5h0M189.7 460.8h0M178.6 461.6h0M267.9 450.8h0M219.9 470.3h0M248.3 458.3h0M237.8 428.0h0M206.9 491.8h0M145.4 379.7h0M247.2 433.0h0M284.2 412.5h0M163.1 504.4h0M257.4 453.2h0M154.8 446.2h0M175.3 461.5h0M178.6 464.0h0M191.9 467.4h0M303.4 366.4h0M141.8 494.9h0M73.0 456.5h0M114.8 401.2h0M145.8 490.0h0M258.8 468.6h0M203.0 445.2h0M218.3 437.1h0M225.2 454.6h0M142.2 497.6h0M155.0 447.2h0M177.5 485.2h0M159.2 500.9h0M141.6 482.6h0M169.0 504.3h0M208.8 460.2h0M192.7 461.8h0M247.9 425.5h0M201.8 456.2h0M264.3 445.2h0M230.5 370.1h0M204.6 453.4h0M275.0 410.3h0M177.7 488.6h0M155.7 494.9h0M218.8 482.8h0M190.6 444.9h0M205.9 449.0h0M122.1 335.1h0M275.1 388.1h0M205.6 482.2h0M141.0 482.3h0M314.0 408.3h0M147.4 483.6h0M326.4 354.1h0M198.7 434.4h0M301.2 464.4h0M173.0 493.0h0M277.7 341.2h0M116.2 520.6h0M259.7 429.7h0M212.6 466.2h0M320.9 402.0h0M287.3 398.0h0M181.5 458.1h0M240.8 465.3h0M190.7 489.7h0M186.5 478.6h0M218.4 488.5h0M190.5 473.2h0M264.1 463.0h0M167.6 495.1h0M170.4 446.3h0M185.3 484.4h0M246.5 416.4h0M279.7 450.1h0M181.7 473.6h0M146.5 494.3h0M322.2 409.6h0M316.9 463.8h0M257.3 475.4h0M166.3 411.3h0M105.0 469.8h0M163.9 468.0h0M196.7 446.4h0M276.7 462.3h0" stroke="#d15200" stroke-opacity="0.8" stroke-width="3.5" stroke-linecap="round" fill="none" clip-path="url(#cc)"/><path d="M221.8 505.8h0M207.5 448.3h0M223.9 416.0h0M156.0 481.2h0M311.1 379.2h0M296.3 400.8h0M167.4 511.3h0M210.0 427.7h0M271.5 430.3h0M227.6 483.5h0M252.7 474.6h0M210.5 480.8h0M206.0 426.0h0M180.4 491.1h0M338.4 396.2h0M155.9 501.3h0M257.8 420.8h0M254.5 370.4h0M284.7 383.0h0M320.0 364.9h0M319.7 367.4h0M200.3 427.8h0M170.3 489.8h0M343.5 403.7h0M208.2 470.0h0M247.6 457.4h0M168.5 467.7h0M296.3 410.9h0M225.8 418.3h0M156.7 480.7h0M284.5 403.1h0M213.3 395.4h0M152.8 517.7h0M325.7 338.6h0M269.5 412.4h0M159.6 489.4h0M154.2 506.1h0M321.9 345.7h0M175.9 464.9h0M218.2 436.7h0M228.3 436.0h0M164.7 473.7h0M281.4 418.8h0M239.9 433.0h0M328.8 404.5h0M184.3 484.4h0M185.1 450.9h0M175.0 467.1h0M204.2 496.8h0M164.5 504.0h0M278.9 408.9h0M320.7 424.1h0M310.0 460.6h0M304.9 348.7h0M221.5 431.4h0M162.7 466.2h0M317.4 401.8h0M173.5 454.6h0M152.1 511.3h0M309.8 420.1h0M215.8 421.9h0M154.8 516.4h0M217.9 409.7h0M162.3 488.3h0M194.4 460.0h0M208.4 455.3h0M251.6 448.1h0M286.5 424.9h0M155.2 503.3h0M305.0 414.2h0M209.7 470.6h0M262.7 394.4h0M308.2 404.3h0M201.1 460.4h0M232.1 431.1h0M256.9 443.7h0M194.8 474.6h0M277.1 349.6h0M211.7 465.5h0M136.8 512.3h0M211.1 421.9h0M133.8 526.7h0M265.8 422.1h0M181.2 437.9h0M198.4 465.8h0M244.7 410.4h0M231.5 447.4h0M223.2 448.1h0M267.4 411.0h0M273.8 400.1h0M278.7 399.7h0M166.1 507.1h0M167.1 474.3h0M225.5 416.6h0M179.1 478.5h0M226.1 443.5h0M249.0 419.9h0M327.1 357.3h0M190.7 492.4h0M226.8 420.1h0M154.5 493.7h0M264.9 426.6h0M156.9 486.7h0M203.6 459.9h0M227.8 415.1h0M289.5 406.0h0M269.9 389.2h0M252.2 427.2h0M198.0 474.8h0M185.8 440.6h0M271.0 397.5h0M153.6 509.6h0M207.4 479.6h0M187.0 463.1h0M231.7 460.4h0M179.0 489.7h0M179.6 460.0h0M194.3 464.5h0M164.3 467.9h0M188.5 472.1h0M240.9 449.2h0M239.2 362.4h0M157.4 488.2h0M225.7 446.5h0M169.5 477.5h0M244.0 454.1h0M209.2 460.7h0M197.4 448.8h0M185.3 445.3h0M232.8 450.7h0M248.7 420.4h0M140.2 506.5h0M199.0 459.8h0M171.0 483.1h0M236.2 434.7h0M243.2 425.0h0M210.8 481.6h0M167.9 485.2h0M210.2 426.7h0M136.7 510.0h0M142.2 505.9h0M143.3 498.9h0M161.9 471.2h0M255.1 431.5h0M218.9 452.1h0M251.1 411.5h0M232.2 438.5h0M231.4 423.8h0M273.9 419.7h0M300.9 405.4h0M261.8 392.1h0M302.2 411.8h0M230.2 446.3h0M163.8 491.5h0M196.3 466.3h0M194.4 481.5h0M231.8 442.5h0M166.6 464.5h0M149.8 507.2h0M333.2 380.3h0M286.2 448.8h0M244.6 455.7h0M161.2 476.6h0M210.0 474.0h0M316.3 427.1h0M315.2 355.5h0M199.1 481.5h0M240.7 449.8h0M146.5 495.5h0M243.8 452.1h0M195.8 473.9h0M178.5 457.5h0M279.1 447.9h0M235.3 469.1h0M207.2 422.2h0M218.7 456.5h0M233.6 434.3h0M250.1 421.6h0M246.5 438.4h0M258.8 449.9h0M161.8 468.6h0M228.9 450.9h0M209.6 463.9h0M149.3 494.6h0M195.2 446.4h0M225.1 430.0h0M174.8 463.5h0M109.9 538.7h0M223.9 446.8h0M295.6 424.3h0M135.3 487.9h0M191.3 451.9h0M179.5 470.6h0M196.4 459.5h0M155.2 481.6h0M230.2 440.0h0M185.6 482.0h0M243.8 442.1h0M182.1 469.1h0M227.4 475.6h0" stroke="#174780" stroke-opacity="0.85" stroke-width="3.5" stroke-linecap="round" fill="none" clip-path="url(#cc)"/><path d="M271.7 456.0h0M278.9 430.0h0M157.5 435.0h0M182.3 458.5h0M229.7 423.7h0M309.6 464.0h0M158.6 472.6h0M208.5 453.8h0M248.5 412.4h0M174.9 468.2h0M236.0 473.7h0M176.2 472.6h0M202.8 477.0h0M179.8 476.5h0M195.5 477.8h0M233.6 437.2h0M225.9 383.6h0M209.9 466.2h0M141.0 474.9h0M233.1 473.7h0M148.6 491.6h0M262.4 484.3h0M167.6 495.9h0M176.2 476.7h0M179.5 390.8h0M220.9 424.6h0M137.7 410.9h0M155.6 435.9h0M139.3 497.1h0M159.8 434.5h0M240.9 406.0h0" stroke="#d15200" stroke-opacity="0.42" stroke-width="3.5" stroke-linecap="round" fill="none" clip-path="url(#cc)"/><path d="M255.1 426.8h0M204.3 484.8h0M260.5 371.4h0M153.4 436.6h0M159.4 493.7h0M143.9 500.5h0M260.5 458.1h0M288.1 421.5h0M175.6 469.5h0M160.9 478.4h0M264.0 382.1h0M192.0 399.1h0M188.8 452.4h0M281.9 406.5h0M150.4 507.8h0M236.4 459.2h0M220.1 475.4h0M172.2 433.0h0M91.2 474.8h0M225.8 484.2h0M240.8 443.5h0M292.3 429.8h0M158.7 496.4h0M253.9 383.6h0M257.6 470.3h0M161.8 486.0h0M218.3 461.2h0M191.9 437.3h0M224.4 469.7h0M319.4 378.9h0M227.4 427.4h0M119.8 519.8h0M118.9 519.6h0M185.9 439.1h0M167.2 447.9h0M164.8 464.8h0M165.1 481.2h0M250.6 357.2h0M230.1 469.2h0M199.7 392.5h0M124.7 505.5h0M323.8 447.5h0M335.9 434.9h0M195.1 458.1h0M209.0 425.3h0M135.6 521.2h0M256.0 474.5h0M236.5 406.7h0M197.4 475.6h0M304.7 420.9h0M148.0 476.8h0M167.7 484.6h0M295.5 381.3h0M227.3 369.1h0M161.9 477.3h0M154.6 430.3h0M220.1 399.8h0M190.5 480.1h0M174.4 415.4h0M245.6 349.2h0M92.7 436.5h0M166.7 473.6h0M227.9 429.8h0M274.7 439.6h0M195.9 429.6h0M284.2 422.8h0M208.8 476.1h0M148.2 471.3h0M214.7 468.0h0M242.1 457.5h0M149.7 491.0h0M228.1 483.2h0M244.9 475.7h0M235.2 459.1h0M178.1 477.3h0M165.7 435.7h0M250.7 453.1h0M122.6 479.7h0M191.7 437.6h0M282.5 436.8h0M193.8 454.4h0M229.5 410.6h0M138.8 468.7h0M219.4 447.8h0M334.2 404.8h0M156.6 520.6h0M205.0 466.2h0M337.6 337.1h0M128.6 509.5h0M216.7 433.3h0M246.7 450.7h0M216.5 404.9h0M231.2 435.9h0M255.9 431.9h0M155.3 432.8h0M266.2 460.0h0M196.0 452.0h0M322.1 408.9h0M215.2 435.0h0M308.3 447.0h0M273.3 410.1h0M147.2 469.8h0M238.0 408.3h0M113.9 470.5h0M194.2 463.1h0M238.8 462.8h0M165.7 484.6h0M223.5 477.2h0M120.3 517.7h0M197.4 462.3h0M176.7 460.2h0M197.9 471.7h0M176.2 463.1h0M172.5 446.7h0M251.7 416.6h0M192.1 395.9h0M150.0 482.5h0M77.2 471.8h0M214.4 440.8h0M205.1 471.4h0M233.7 447.7h0M218.8 442.6h0M180.7 457.5h0M204.9 430.9h0M226.7 469.0h0M145.6 481.7h0M177.0 423.0h0M234.5 431.7h0M251.7 450.5h0M222.8 445.5h0M210.1 481.7h0M282.8 456.7h0M246.8 443.2h0M195.9 412.1h0M189.9 487.8h0M200.5 451.3h0M211.1 428.0h0M213.7 441.5h0M283.2 459.0h0M120.3 482.9h0M142.4 504.3h0M202.5 434.3h0M189.7 450.3h0M238.0 451.7h0M259.6 448.8h0M250.2 407.5h0M142.3 505.4h0M178.8 427.5h0M319.2 437.0h0M106.7 472.7h0M301.7 374.3h0M160.0 489.7h0M153.7 493.4h0M250.4 463.9h0M226.8 425.8h0M138.1 510.5h0M118.2 461.0h0M234.0 457.8h0M253.8 467.5h0M216.8 392.1h0M252.6 399.4h0M180.5 481.4h0M202.8 470.5h0M125.2 468.4h0M146.4 483.6h0M160.8 491.3h0M220.4 393.8h0M223.9 461.5h0M173.9 490.3h0M190.0 337.0h0M177.8 464.1h0M181.5 474.8h0M199.4 463.2h0M131.3 485.1h0M170.5 452.1h0M187.3 476.7h0M165.5 438.8h0M214.5 482.5h0M166.0 432.4h0M258.2 468.1h0M185.4 457.8h0M232.6 409.9h0M187.5 403.0h0M162.5 504.9h0M221.8 417.0h0M172.0 485.6h0M167.6 407.2h0M182.0 472.6h0M216.0 456.5h0M248.1 476.4h0M212.3 455.4h0M177.3 456.6h0M239.5 450.8h0M184.8 467.0h0" stroke="#d15200" stroke-opacity="0.8" stroke-width="3.5" stroke-linecap="round" fill="none" clip-path="url(#cc)"/><path d="M259.3 439.5h0M274.2 409.9h0M195.9 490.0h0M150.3 526.1h0M193.7 485.9h0M166.2 482.5h0M207.3 471.5h0M245.9 437.1h0M179.6 478.2h0M173.7 482.3h0M156.2 479.7h0M227.5 428.2h0M197.5 471.6h0M280.3 337.8h0M245.6 458.2h0M130.5 522.0h0M205.5 452.6h0M268.5 406.4h0M258.9 419.3h0M167.3 488.5h0M295.9 404.8h0M179.9 477.5h0M296.2 386.8h0M299.2 434.5h0M187.3 456.6h0M269.4 425.6h0M177.9 489.1h0M283.2 364.0h0M182.4 484.6h0M214.8 500.9h0M195.5 484.9h0M259.7 352.5h0M194.9 474.9h0M170.0 470.8h0M255.0 387.9h0M191.2 477.8h0M218.4 443.5h0M138.4 516.4h0M165.3 474.9h0M205.6 466.5h0M206.6 456.2h0M220.3 429.0h0M177.0 472.0h0M238.8 415.2h0M251.2 406.0h0M205.9 455.2h0M191.4 481.6h0M212.4 453.5h0M139.5 512.2h0M122.4 533.8h0M217.3 408.6h0M277.6 391.8h0M134.7 500.7h0M215.0 433.4h0M250.4 397.0h0M310.5 372.8h0M142.9 483.2h0M152.5 493.4h0M183.1 476.6h0M295.8 368.1h0M243.1 361.3h0M175.1 491.6h0M135.7 505.7h0M185.8 462.0h0M296.9 410.9h0M202.1 461.1h0M185.1 462.6h0M189.0 471.7h0M124.8 517.7h0M238.9 431.7h0M150.1 508.6h0M180.3 455.6h0M307.5 365.9h0M322.3 379.9h0M195.5 447.9h0M334.3 373.7h0M145.5 503.0h0M300.7 388.8h0M136.4 513.3h0M215.7 431.9h0M137.2 503.3h0M181.0 473.9h0M134.6 489.8h0M255.0 442.8h0M170.0 478.4h0M221.5 434.4h0M205.6 414.6h0M194.6 464.2h0M252.7 445.0h0M170.5 486.0h0M183.9 475.1h0M180.5 493.2h0M178.4 484.7h0M158.6 509.8h0M258.6 420.6h0M197.3 463.7h0M195.8 481.2h0M215.3 464.5h0M242.1 435.4h0M194.9 480.6h0M226.3 442.1h0M211.2 466.4h0M288.8 368.8h0M295.3 387.7h0M155.0 501.4h0M157.1 489.8h0M189.0 499.1h0M185.7 474.3h0M251.7 411.8h0M236.1 414.8h0M197.7 465.9h0M232.1 443.2h0M184.0 481.7h0M208.2 430.7h0M298.8 338.2h0M178.1 470.0h0M175.8 476.9h0M217.4 422.8h0M250.5 408.3h0M140.0 507.1h0M152.0 508.8h0M152.5 501.2h0M194.4 445.8h0M269.8 407.7h0M287.1 423.7h0M312.9 362.6h0M201.7 466.2h0M207.4 443.3h0M317.1 430.6h0M270.5 458.1h0M155.2 486.1h0M322.7 402.5h0M157.7 518.6h0M200.4 483.9h0M222.9 435.2h0M238.3 381.8h0M180.0 469.8h0M180.1 485.6h0M322.7 383.2h0M277.9 408.8h0M263.5 439.3h0M206.2 451.7h0M156.3 503.9h0M267.2 438.6h0M172.7 504.9h0M230.2 434.6h0M292.2 392.3h0M216.0 442.5h0M192.8 484.4h0M192.9 476.4h0M340.1 368.8h0M263.1 432.8h0M194.1 458.9h0M163.4 485.5h0M140.7 516.9h0M124.7 506.7h0M341.9 340.6h0M256.8 453.8h0M318.6 428.4h0M249.3 484.5h0M167.6 514.0h0M217.3 452.6h0M269.9 407.5h0M200.2 459.3h0M230.9 401.8h0M173.4 464.2h0M185.8 471.1h0M166.6 482.6h0M243.0 424.7h0M289.1 344.7h0M183.8 458.1h0M314.1 368.5h0M206.5 409.0h0M166.3 495.7h0M212.7 469.4h0M298.1 387.9h0M194.3 470.6h0M148.1 505.7h0M252.4 412.8h0M218.6 465.9h0M181.5 470.6h0M142.7 512.2h0M186.9 461.4h0M189.4 482.5h0M193.8 470.8h0M284.0 417.2h0M147.5 499.9h0M236.1 440.7h0M216.9 437.7h0M190.8 461.6h0M156.2 512.3h0M277.6 450.8h0M224.2 461.7h0M193.2 468.8h0" stroke="#174780" stroke-opacity="0.85" stroke-width="3.5" stroke-linecap="round" fill="none" clip-path="url(#cc)"/><path d="M186.7 467.5h0M145.9 504.7h0M178.9 434.1h0M172.3 483.6h0M283.4 440.2h0M125.3 465.0h0M130.4 445.4h0M212.6 449.1h0M265.6 398.6h0M233.8 439.6h0M170.0 444.6h0M266.3 417.3h0M173.0 505.3h0M207.3 487.7h0M158.7 488.7h0M235.2 438.5h0M217.0 465.7h0M148.5 507.7h0M200.2 448.4h0M178.9 456.9h0M299.6 469.5h0M245.4 460.6h0M79.9 493.7h0M233.6 473.5h0M216.2 433.5h0M227.4 412.3h0M170.6 469.1h0" stroke="#d15200" stroke-opacity="0.42" stroke-width="3.5" stroke-linecap="round" fill="none" clip-path="url(#cc)"/><path d="M322.7 445.7h0M225.6 448.2h0M283.7 399.7h0M184.6 404.5h0M266.9 376.2h0M250.1 439.9h0M281.9 437.2h0M135.6 448.6h0M252.5 414.2h0M161.7 453.3h0M166.8 448.2h0M167.7 429.0h0M274.3 467.4h0M194.6 438.4h0M278.6 427.7h0M195.1 441.1h0M295.0 458.3h0M180.7 437.5h0M193.2 446.9h0M189.5 478.1h0M165.6 462.1h0M175.7 481.8h0M169.3 481.9h0M331.4 407.5h0M213.1 452.5h0M236.4 369.1h0M224.0 473.3h0M340.9 410.4h0M277.6 422.9h0M156.1 484.1h0M275.9 461.6h0M176.6 400.0h0M333.9 471.7h0M271.4 482.5h0M171.7 480.4h0M180.1 440.4h0M171.9 470.1h0M173.7 346.9h0M185.9 454.5h0M178.8 463.8h0M219.1 440.5h0M234.5 404.9h0M244.8 397.7h0M178.4 469.3h0M175.7 470.1h0M129.3 481.5h0M199.7 424.0h0M211.1 479.7h0M187.1 481.7h0M230.0 414.2h0M255.4 473.5h0M196.7 389.9h0M224.3 449.1h0M151.7 500.1h0M270.2 404.6h0M155.0 487.1h0M301.3 427.7h0M184.8 452.3h0M228.6 463.3h0M244.0 463.9h0M334.9 414.6h0M274.2 405.1h0M251.2 405.0h0M294.9 446.7h0M166.9 474.0h0M193.1 473.8h0M201.7 437.2h0M295.5 435.0h0M158.2 486.7h0M184.5 460.7h0M242.9 455.4h0M180.4 443.7h0M207.9 470.7h0M199.9 481.9h0M169.7 508.2h0M209.2 470.1h0M266.1 481.6h0M270.6 397.8h0M183.6 438.0h0M209.7 448.3h0M285.8 418.9h0M211.2 419.0h0M227.9 460.8h0M254.2 430.0h0M214.8 483.3h0M217.9 460.7h0M202.6 421.6h0M192.6 459.8h0M86.6 442.8h0M137.7 501.5h0M241.1 437.3h0M259.1 432.7h0M153.4 466.2h0M174.1 461.3h0M173.1 458.1h0M162.2 486.0h0M186.3 458.7h0M165.6 483.8h0M91.1 509.0h0M173.7 433.2h0M217.0 427.3h0M235.5 452.7h0M129.1 463.7h0M206.8 465.3h0M182.0 413.0h0M129.2 474.6h0M129.0 475.0h0M212.0 478.0h0M201.5 486.3h0M263.6 352.0h0M186.0 458.9h0M182.6 446.9h0M165.5 492.9h0M224.5 464.8h0M222.8 479.4h0M163.8 443.7h0M194.2 478.4h0M187.9 477.5h0M224.9 433.6h0M322.5 453.7h0M159.4 471.5h0M170.1 503.5h0M185.8 484.9h0M226.2 466.4h0M172.8 487.8h0M102.1 453.5h0M261.1 387.6h0M163.2 503.8h0M307.3 400.6h0M191.0 475.9h0M233.8 482.2h0M278.5 481.5h0M339.4 435.7h0M174.7 501.7h0M226.3 432.2h0M139.5 493.2h0M211.1 443.5h0M162.5 498.8h0M163.1 467.0h0M185.8 423.1h0M245.3 477.0h0M212.3 489.0h0M197.2 380.0h0M166.0 503.1h0M281.3 376.4h0M163.7 428.6h0M154.4 405.7h0M238.7 448.3h0M340.8 430.0h0M155.9 464.1h0M233.6 440.9h0M151.4 472.0h0M248.1 459.0h0M270.2 454.4h0M237.3 397.9h0M218.7 429.0h0M169.3 463.2h0M199.7 463.3h0M159.6 467.9h0M179.0 492.5h0M216.1 488.4h0M169.4 452.9h0M202.4 460.9h0M236.2 469.0h0M153.2 464.3h0M201.2 469.2h0M148.1 473.8h0M235.6 463.6h0M270.7 446.2h0M150.7 514.0h0M187.6 450.8h0M202.9 462.1h0M163.5 476.2h0M198.5 480.8h0M240.2 458.3h0M81.6 488.4h0M165.8 417.0h0M149.6 517.3h0M191.2 465.1h0M211.4 437.1h0M124.4 443.0h0M107.2 444.1h0M166.4 496.2h0M294.2 479.2h0M172.5 435.3h0M202.9 442.4h0M282.9 462.6h0M124.3 500.4h0M218.1 416.7h0M142.1 466.1h0M200.0 475.5h0M319.6 446.3h0M119.6 483.2h0M256.6 437.4h0M187.2 454.4h0M170.5 415.4h0M293.4 444.8h0M128.7 471.1h0M195.8 493.1h0" stroke="#d15200" stroke-opacity="0.8" stroke-width="3.5" stroke-linecap="round" fill="none" clip-path="url(#cc)"/><path d="M262.0 379.6h0M238.4 448.9h0M227.6 473.6h0M171.1 470.4h0M183.2 485.7h0M186.1 496.0h0M168.7 493.3h0M135.2 495.9h0M291.4 413.0h0M235.8 453.0h0M218.5 440.6h0M178.4 442.7h0M198.0 462.8h0M138.2 519.7h0M155.6 480.0h0M222.2 393.7h0M198.2 452.0h0M175.6 487.5h0M174.3 473.6h0M206.0 430.4h0M237.0 395.5h0M290.9 423.7h0M267.1 395.1h0M192.7 478.7h0M326.9 385.9h0M144.8 511.2h0M126.8 529.6h0M167.6 515.7h0M279.5 389.6h0M220.0 453.9h0M240.8 439.0h0M211.8 474.5h0M313.9 420.9h0M235.9 422.6h0M187.4 500.8h0M247.5 440.3h0M162.1 500.6h0M197.5 429.7h0M202.1 472.4h0M179.1 476.9h0M133.5 520.3h0M185.7 484.4h0M208.7 441.8h0M170.1 496.9h0M241.8 411.5h0M199.5 470.8h0M143.5 492.9h0M214.2 379.5h0M131.1 520.6h0M224.1 479.5h0M124.0 512.1h0M241.8 394.6h0M208.2 462.7h0M173.7 453.0h0M217.2 446.7h0M255.6 438.0h0M232.6 414.8h0M283.5 422.8h0M217.2 455.4h0M208.2 422.2h0M242.0 432.3h0M168.6 486.7h0M123.4 527.5h0M327.3 363.0h0M164.9 492.7h0M197.9 433.4h0M242.8 441.1h0M154.9 472.2h0M316.7 412.4h0M262.4 452.8h0M229.8 450.6h0M270.1 422.4h0M255.3 396.2h0M160.7 491.2h0M146.8 510.8h0M178.6 473.3h0M164.6 524.7h0M170.3 462.9h0M229.3 434.1h0M245.5 415.2h0M110.5 521.5h0M254.5 415.4h0M211.5 446.4h0M195.6 488.7h0M183.5 479.0h0M154.9 469.5h0M221.5 437.9h0M235.3 436.8h0M178.9 461.9h0M188.2 486.7h0M181.9 468.5h0M187.0 469.1h0M244.9 444.1h0M255.5 450.7h0M137.5 518.2h0M252.8 378.4h0M345.7 378.7h0M298.3 426.2h0M176.5 475.9h0M293.7 372.1h0M160.5 482.6h0M299.0 438.2h0M220.1 428.2h0M234.5 441.1h0M243.8 433.8h0M326.6 349.8h0M202.6 457.1h0M215.1 471.8h0M194.1 471.0h0M241.6 429.4h0M198.6 453.4h0M228.8 452.9h0M206.2 460.2h0M210.6 450.9h0M150.1 516.4h0M257.9 438.1h0M129.4 514.1h0M196.0 477.1h0M322.4 383.1h0M242.2 444.4h0M265.4 398.7h0M205.0 428.6h0M138.7 501.2h0M227.7 463.0h0M201.2 457.3h0M220.0 438.7h0M205.3 457.0h0M182.3 472.2h0M286.5 433.2h0M207.2 459.5h0M260.5 398.3h0M257.8 429.8h0M151.4 482.5h0M178.7 471.4h0M228.9 435.4h0M129.4 502.5h0M216.7 443.7h0M195.3 442.0h0M319.5 441.9h0M325.4 419.7h0M120.3 520.4h0M157.8 493.2h0M279.0 358.4h0M132.9 531.2h0M214.1 462.0h0M289.7 407.3h0M258.9 430.0h0M266.0 344.2h0M219.4 436.4h0M311.1 405.2h0M309.8 393.3h0M238.6 425.3h0M182.5 453.6h0M220.6 452.1h0M151.3 484.2h0M175.9 465.8h0M216.1 463.1h0M326.5 358.3h0M267.8 428.1h0M184.7 478.6h0M185.6 455.0h0M163.4 512.3h0M234.3 459.1h0M188.6 477.0h0M267.9 438.1h0M209.4 463.2h0M174.2 482.8h0M150.5 488.4h0M222.9 437.3h0M305.9 398.0h0M174.5 485.3h0M217.2 447.7h0M314.3 411.5h0M215.0 389.7h0M152.6 495.8h0M173.2 456.0h0M174.1 462.3h0M298.0 438.5h0M335.3 386.6h0M160.2 492.2h0M169.6 468.1h0M187.8 480.1h0M239.8 424.3h0M266.3 396.2h0M286.2 418.0h0M152.9 512.5h0M198.9 444.9h0M209.2 447.8h0M231.3 421.0h0M255.2 446.1h0M132.0 526.2h0M193.1 472.6h0M196.3 487.3h0M185.4 475.8h0M170.9 485.2h0M269.1 446.2h0M309.5 411.9h0M231.7 460.1h0" stroke="#174780" stroke-opacity="0.85" stroke-width="3.5" stroke-linecap="round" fill="none" clip-path="url(#cc)"/><line x1="-58.80" y1="692.05" x2="4011.50" y2="-2890.00" stroke="#c0283a" stroke-width="1.05" clip-path="url(#cc)"/><rect x="62.30" y="335.50" width="282.70" height="250.00" fill="none" stroke="#4a4a4a" stroke-width="1.6"/><path d="M72.50 585.50V592.60M138.15 585.50V592.60M203.80 585.50V592.60M269.45 585.50V592.60M335.10 585.50V592.60M62.30 576.50H54.90M62.30 518.73H54.90M62.30 460.95H54.90M62.30 403.18H54.90M62.30 345.40H54.90" stroke="#383838" stroke-width="1.05" fill="none"/><g transform="translate(72.50 610.30)"><text x="-10.77" y="0" class="t">0.0</text></g><g transform="translate(138.15 610.30)"><text x="-10.77" y="0" class="t">0.5</text></g><g transform="translate(203.80 610.30)"><path d="M515 0L515 1237L197 1010L197 1180L530 1409L696 1409L696 0Z" fill="#111" stroke="#111" stroke-width="45" stroke-linejoin="round" transform="translate(-10.77 0) scale(0.00757 -0.00757)"/><text x="-2.15" y="0" class="t">.0</text></g><g transform="translate(269.45 610.30)"><path d="M515 0L515 1237L197 1010L197 1180L530 1409L696 1409L696 0Z" fill="#111" stroke="#111" stroke-width="45" stroke-linejoin="round" transform="translate(-10.77 0) scale(0.00757 -0.00757)"/><text x="-2.15" y="0" class="t">.5</text></g><g transform="translate(335.10 610.30)"><text x="-10.77" y="0" class="t">2.0</text></g><g transform="translate(46.60 576.50) rotate(-90) scale(1 1.060)"><text x="-10.77" y="0" class="t">0.0</text></g><g transform="translate(46.60 518.73) rotate(-90) scale(1 1.060)"><text x="-10.77" y="0" class="t">0.5</text></g><g transform="translate(46.60 460.95) rotate(-90) scale(1 1.060)"><path d="M515 0L515 1237L197 1010L197 1180L530 1409L696 1409L696 0Z" fill="#111" stroke="#111" stroke-width="45" stroke-linejoin="round" transform="translate(-10.77 0) scale(0.00757 -0.00757)"/><text x="-2.15" y="0" class="t">.0</text></g><g transform="translate(46.60 403.18) rotate(-90) scale(1 1.060)"><path d="M515 0L515 1237L197 1010L197 1180L530 1409L696 1409L696 0Z" fill="#111" stroke="#111" stroke-width="45" stroke-linejoin="round" transform="translate(-10.77 0) scale(0.00757 -0.00757)"/><text x="-2.15" y="0" class="t">.5</text></g><g transform="translate(46.60 345.40) rotate(-90) scale(1 1.060)"><text x="-10.77" y="0" class="t">2.0</text></g><text x="202.85" y="331.60" text-anchor="middle" class="h">c</text><path d="M639.7 348.1h0M580.9 351.6h0M503.7 491.1h0M496.2 502.8h0M576.9 404.3h0M504.9 467.1h0M496.9 502.6h0M530.5 452.3h0M560.7 475.9h0M542.2 432.6h0M507.8 473.6h0M512.5 479.3h0M514.8 490.3h0M592.2 397.8h0M504.9 484.9h0M465.0 511.9h0M644.2 378.0h0M538.5 461.1h0M525.5 477.6h0M545.6 470.6h0M521.7 491.2h0M492.5 488.2h0M502.6 505.6h0M549.1 464.5h0M636.5 352.0h0M467.7 509.6h0M545.0 459.9h0M495.5 514.2h0M586.9 445.3h0M523.7 506.5h0M600.8 405.0h0M472.3 519.2h0M499.8 473.6h0M527.2 480.7h0M477.4 511.8h0M574.3 440.6h0M579.5 427.7h0M609.1 385.4h0M619.7 343.4h0M483.8 496.0h0M461.0 530.7h0M485.5 497.0h0M668.1 369.0h0M596.4 407.4h0M536.1 479.3h0M492.9 478.5h0M670.6 347.3h0M516.9 489.5h0M627.7 429.5h0M544.5 484.9h0M478.2 497.1h0M481.0 488.6h0M518.6 453.1h0M620.3 399.1h0M526.6 448.7h0M469.7 523.5h0M583.7 353.5h0M640.1 358.4h0M554.4 471.6h0M624.5 370.3h0M468.5 530.3h0M498.0 514.7h0M550.0 456.9h0M442.1 517.0h0M541.7 441.5h0M606.3 409.9h0M563.4 465.2h0M569.3 461.1h0M559.7 446.4h0M497.5 506.9h0M539.0 479.6h0M508.8 444.8h0M562.3 452.0h0M491.9 508.6h0M618.1 384.7h0M526.0 470.4h0M591.4 380.1h0M463.0 512.5h0M514.2 493.0h0M473.1 522.4h0M545.6 455.5h0M538.4 459.2h0M563.6 447.1h0M532.5 478.1h0M588.8 414.4h0M506.2 499.8h0M522.2 480.2h0M573.8 429.0h0M610.1 391.9h0M516.3 453.7h0M516.4 512.6h0M576.7 419.7h0M590.2 363.8h0M517.1 487.5h0M516.9 444.2h0M611.8 365.7h0M547.2 442.7h0M633.8 396.8h0M491.4 511.6h0M533.5 473.3h0M622.2 437.2h0M485.8 504.7h0M533.3 453.2h0M545.5 457.1h0M553.5 455.8h0M500.0 490.5h0M536.2 445.2h0M483.3 509.6h0M588.6 415.7h0M454.2 522.5h0M555.0 413.9h0M519.3 493.4h0M594.4 393.3h0M643.1 385.5h0M613.1 392.1h0M600.3 388.3h0M547.7 420.1h0M556.3 401.7h0M538.2 468.2h0M499.2 483.9h0M562.2 448.4h0M595.7 387.6h0M534.6 461.9h0M554.4 446.6h0M505.4 477.0h0M562.8 428.7h0M503.8 490.9h0M478.7 492.7h0M526.0 477.6h0M623.9 407.5h0M608.4 365.0h0M520.8 490.0h0M580.3 430.6h0M528.3 494.7h0M515.0 443.5h0M496.2 488.4h0M527.4 499.5h0M584.0 380.3h0M488.6 513.2h0M480.3 515.3h0M567.6 429.8h0M516.9 497.0h0M659.2 402.0h0M623.0 425.1h0M461.1 518.9h0M485.8 495.7h0M591.9 361.9h0M495.3 504.0h0M610.4 377.4h0M584.7 447.3h0M486.4 513.5h0M543.8 465.2h0M497.2 485.4h0M497.7 495.2h0M470.9 520.3h0M662.4 374.2h0M531.7 482.6h0M534.3 470.0h0M553.2 418.8h0M551.8 446.3h0M492.8 504.6h0M497.7 486.8h0M473.2 506.8h0M472.5 508.1h0M598.8 382.2h0M509.9 479.1h0M485.7 508.7h0M540.1 462.5h0M488.6 497.2h0M486.3 515.1h0M563.3 462.0h0M491.3 488.5h0M582.5 469.9h0M608.0 376.9h0M639.5 408.2h0M608.8 451.3h0M566.2 391.6h0M509.5 483.7h0M504.1 465.6h0M475.2 516.6h0M559.5 462.4h0M572.9 413.6h0M480.9 506.2h0M502.6 477.3h0M506.6 501.5h0M667.3 392.9h0M478.2 497.2h0M505.5 501.0h0M661.3 361.4h0M560.1 427.7h0M559.6 431.8h0M539.3 466.9h0" stroke="#174780" stroke-opacity="0.85" stroke-width="3.5" stroke-linecap="round" fill="none" clip-path="url(#cd)"/><path d="M475.8 502.0h0M542.0 431.4h0M488.3 428.3h0M532.8 468.1h0M510.0 472.4h0M521.4 490.8h0M529.5 337.0h0M527.5 452.1h0M609.1 425.8h0M564.7 468.8h0M486.4 482.2h0M497.2 452.7h0M495.1 478.9h0M539.2 455.9h0M480.0 507.6h0M472.9 498.4h0M514.8 485.5h0M559.6 492.7h0M518.1 497.3h0M493.7 496.1h0M498.2 479.8h0M504.7 414.9h0M494.9 500.9h0M521.0 368.3h0M500.9 493.4h0M489.3 452.1h0M528.4 480.4h0M501.1 526.4h0M515.2 485.4h0M550.3 417.0h0M499.2 501.0h0M530.8 459.5h0M505.2 483.3h0M526.6 444.6h0M512.2 456.2h0" stroke="#d15200" stroke-opacity="0.42" stroke-width="3.5" stroke-linecap="round" fill="none" clip-path="url(#cd)"/><path d="M516.3 408.0h0M504.9 471.4h0M479.6 471.3h0M509.4 496.0h0M519.8 478.6h0M505.9 453.5h0M507.0 486.7h0M466.2 475.0h0M520.0 384.1h0M523.0 447.7h0M502.4 464.5h0M517.3 496.3h0M528.4 473.7h0M533.0 473.3h0M567.4 450.1h0M548.8 408.9h0M528.4 462.6h0M505.6 411.6h0M538.4 493.6h0M491.7 491.8h0M516.3 444.5h0M477.9 473.6h0M523.0 462.5h0M499.4 478.2h0M522.4 488.7h0M540.9 448.2h0M520.5 472.8h0M486.1 491.0h0M514.4 479.3h0M573.7 418.0h0M480.1 509.5h0M482.3 503.1h0M526.1 473.7h0M517.9 486.5h0M553.6 475.3h0M509.7 451.4h0M505.1 447.9h0M514.8 482.8h0M486.9 491.8h0M484.7 496.4h0M493.0 476.0h0M514.0 510.5h0M541.5 419.3h0M503.9 435.7h0M486.1 484.6h0M585.7 424.7h0M543.3 471.7h0M510.7 475.1h0M513.6 409.3h0M509.1 477.6h0M482.7 509.9h0M511.6 426.0h0M464.1 534.6h0M516.9 431.5h0M585.0 471.1h0M507.1 457.1h0M499.2 511.8h0M562.6 444.9h0M545.8 470.4h0M610.1 410.8h0M496.5 472.3h0M512.6 477.8h0M499.5 510.3h0M519.6 456.0h0M474.2 525.3h0M513.9 393.4h0M515.8 481.3h0M586.7 429.7h0M555.4 483.5h0M502.0 457.9h0M520.2 423.9h0M519.5 467.5h0M581.4 376.7h0M565.8 416.8h0M521.2 472.3h0M637.5 414.5h0M506.8 490.7h0M507.9 407.1h0M491.9 495.8h0M518.5 490.6h0M559.6 446.1h0M504.4 459.1h0M496.2 471.6h0M621.7 376.4h0M524.4 482.2h0M483.6 380.7h0M489.0 507.0h0M523.8 442.1h0M503.8 438.2h0M518.6 478.8h0M562.8 462.6h0M523.8 448.4h0M492.7 490.2h0M504.7 483.4h0M567.8 432.3h0M518.3 460.5h0M535.5 406.0h0M592.9 432.7h0M493.8 485.7h0M473.2 481.3h0M515.0 443.1h0M527.4 432.5h0M531.3 431.4h0M503.0 476.2h0M497.7 520.2h0M484.0 489.2h0M517.5 491.1h0M559.9 432.9h0M517.7 488.8h0M511.8 474.4h0M490.7 472.0h0M466.2 487.3h0M465.0 510.6h0M520.8 478.8h0M535.0 481.8h0M559.0 468.1h0M649.6 342.0h0M519.3 453.9h0M476.5 517.6h0M486.6 480.2h0M486.3 483.4h0M543.2 458.2h0M534.9 448.3h0M509.2 509.3h0M501.9 468.6h0M510.3 475.9h0M575.8 435.2h0M485.7 472.4h0M481.4 445.4h0M624.8 412.5h0M497.2 499.8h0M534.5 467.3h0M525.9 459.1h0M499.4 498.4h0M509.8 499.2h0M536.3 478.2h0M492.3 454.8h0M576.5 458.9h0M486.6 497.3h0M555.3 401.6h0M514.8 444.5h0M469.4 520.9h0M501.2 510.5h0M524.2 473.9h0M524.1 483.5h0M477.9 522.0h0M528.9 388.7h0M503.0 502.9h0M494.5 474.7h0M479.9 504.5h0M514.9 473.3h0M592.0 411.3h0M526.8 389.6h0M491.7 465.8h0M480.3 510.6h0M534.3 470.6h0M529.2 489.8h0M497.5 512.6h0M498.5 470.4h0M524.0 475.4h0M505.0 497.0h0M488.4 495.7h0M515.2 470.9h0M471.2 511.3h0M569.5 396.7h0M533.9 460.3h0M525.8 475.7h0M568.6 444.6h0M540.6 448.3h0M518.7 437.4h0M479.1 505.0h0M489.9 407.8h0M473.2 509.4h0M487.7 470.7h0M483.6 489.7h0M512.7 493.0h0M523.4 462.8h0M493.0 486.3h0M515.2 465.1h0M579.8 451.9h0M497.2 497.5h0M528.6 450.7h0M511.6 491.3h0M557.0 414.4h0M514.6 477.2h0M498.2 487.6h0M553.5 479.7h0M517.1 463.7h0M538.9 488.0h0M533.4 480.9h0M558.6 413.3h0M494.9 462.3h0M488.0 515.3h0M523.7 489.0h0M592.3 431.5h0M553.0 384.4h0M494.4 419.0h0M561.4 463.9h0M519.5 433.0h0M512.2 478.1h0M486.6 485.6h0M538.9 446.4h0M460.9 491.2h0M670.7 370.9h0M508.0 489.4h0M499.6 506.0h0" stroke="#d15200" stroke-opacity="0.8" stroke-width="3.5" stroke-linecap="round" fill="none" clip-path="url(#cd)"/><path d="M567.4 453.1h0M679.4 384.7h0M567.4 447.0h0M509.7 495.7h0M481.9 522.6h0M519.1 502.1h0M561.7 448.2h0M538.1 440.7h0M519.9 498.7h0M603.5 422.3h0M482.2 494.6h0M479.9 508.1h0M469.2 516.2h0M520.9 473.8h0M541.0 447.7h0M505.0 507.9h0M470.0 512.0h0M492.9 473.0h0M532.8 460.7h0M619.6 360.0h0M605.6 358.4h0M527.9 475.4h0M509.2 492.0h0M526.5 481.4h0M493.6 486.4h0M522.7 496.6h0M532.3 455.2h0M620.8 362.4h0M649.9 387.3h0M645.4 377.4h0M575.7 418.8h0M487.1 504.9h0M508.8 496.5h0M574.6 436.4h0M610.2 415.4h0M584.2 453.1h0M556.4 453.9h0M540.0 477.7h0M504.5 494.1h0M535.8 469.7h0M570.8 434.0h0M474.2 503.7h0M496.9 483.8h0M490.3 507.3h0M539.2 439.7h0M553.7 465.2h0M579.5 358.8h0M585.6 405.9h0M549.1 424.7h0M546.5 444.2h0M573.9 452.9h0M484.9 498.8h0M522.1 468.2h0M556.3 458.3h0M636.2 380.6h0M563.7 356.6h0M494.2 502.6h0M568.4 445.7h0M550.8 467.7h0M558.6 416.1h0M489.2 497.2h0M517.0 452.5h0M593.5 377.5h0M510.3 470.5h0M529.9 449.8h0M525.9 472.0h0M489.1 457.2h0M548.8 433.7h0M635.6 367.7h0M548.0 449.9h0M496.6 505.5h0M567.2 424.7h0M664.0 387.4h0M617.8 401.2h0M481.8 495.0h0M488.0 464.4h0M544.1 398.2h0M460.6 525.1h0M568.0 428.1h0M578.4 443.3h0M663.7 365.6h0M583.0 415.0h0M466.8 521.0h0M455.9 530.1h0M473.6 507.8h0M541.3 475.5h0M617.3 418.2h0M477.7 507.8h0M524.8 426.7h0M485.4 494.2h0M521.3 459.6h0M511.3 504.5h0M611.7 350.5h0M604.5 427.0h0M473.2 507.1h0M551.4 441.4h0M480.7 509.6h0M482.1 510.0h0M456.4 516.4h0M491.8 506.7h0M587.9 399.6h0M569.1 430.0h0M486.2 499.4h0M646.9 358.8h0M481.5 488.9h0M491.4 488.0h0M600.7 422.4h0M614.7 398.5h0M575.0 453.3h0M488.3 508.6h0M513.6 477.2h0M483.2 501.2h0M480.3 515.8h0M652.6 424.8h0M523.6 479.0h0M545.7 449.8h0M503.0 512.9h0M547.1 429.5h0M567.0 454.1h0M663.6 336.7h0M484.1 505.0h0M557.7 418.7h0M557.8 457.5h0M499.8 474.9h0M499.1 485.3h0M538.8 445.4h0M506.9 482.5h0M579.3 449.5h0M616.0 429.9h0M486.7 487.2h0M568.7 421.4h0M550.3 410.3h0M603.6 403.0h0M574.2 437.5h0M649.1 414.3h0M600.4 392.4h0M505.1 478.0h0M623.1 361.7h0M580.1 400.9h0M550.3 466.9h0M575.5 470.4h0M500.0 486.6h0M640.8 354.2h0M502.0 509.2h0M480.4 511.7h0M594.0 434.1h0M503.2 488.3h0M487.8 483.4h0M568.2 466.3h0M592.8 405.8h0M450.7 521.3h0M604.6 362.5h0M562.7 436.5h0M527.0 460.7h0M520.3 478.6h0M590.0 399.5h0M540.6 427.3h0M526.4 485.4h0M520.5 467.4h0M545.4 442.6h0M485.2 506.0h0M518.7 470.6h0M460.9 531.4h0M598.7 432.1h0M593.1 413.0h0M607.2 367.6h0M488.3 503.3h0M472.1 508.5h0M594.7 444.5h0M572.0 426.8h0M502.5 485.5h0M501.3 498.3h0M542.7 403.4h0M561.0 430.1h0M519.5 467.3h0M577.5 417.6h0M606.5 436.4h0M519.6 465.2h0M553.0 436.0h0M604.4 441.2h0M499.9 475.6h0M507.5 470.1h0M672.4 337.6h0M588.5 390.8h0M503.4 498.9h0M506.8 461.0h0M474.3 519.1h0M483.5 498.1h0M482.3 499.0h0" stroke="#174780" stroke-opacity="0.85" stroke-width="3.5" stroke-linecap="round" fill="none" clip-path="url(#cd)"/><path d="M510.9 488.0h0M514.3 477.4h0M511.1 411.2h0M554.0 408.5h0M504.3 471.3h0M539.5 457.6h0M555.1 457.2h0M598.0 353.0h0M498.3 449.5h0M498.4 513.5h0M520.4 452.0h0M515.3 480.3h0M505.1 459.1h0M459.9 533.8h0M504.5 417.5h0M559.9 420.9h0M516.9 502.0h0M480.0 498.1h0M502.9 474.2h0M562.1 356.7h0M462.4 480.8h0M553.4 442.4h0M529.4 429.3h0M514.9 509.2h0M515.6 456.5h0M498.2 423.4h0M486.6 434.8h0" stroke="#d15200" stroke-opacity="0.42" stroke-width="3.5" stroke-linecap="round" fill="none" clip-path="url(#cd)"/><path d="M496.1 503.3h0M561.7 463.0h0M573.1 361.4h0M520.8 469.6h0M544.9 468.5h0M515.6 453.4h0M517.3 419.8h0M522.3 435.7h0M553.3 456.1h0M540.0 464.9h0M511.4 492.7h0M496.1 424.6h0M588.0 478.8h0M534.4 444.5h0M581.9 431.7h0M508.9 500.6h0M519.7 463.9h0M564.6 443.3h0M490.4 530.2h0M468.8 344.3h0M502.1 468.7h0M508.0 453.0h0M537.4 454.3h0M487.1 500.4h0M514.3 474.3h0M526.0 470.7h0M623.6 354.0h0M495.3 479.1h0M486.6 521.8h0M510.3 374.5h0M521.8 480.2h0M473.2 489.6h0M524.8 499.9h0M475.8 524.3h0M491.7 516.7h0M513.3 456.7h0M490.2 442.6h0M495.9 493.0h0M504.3 458.1h0M575.0 423.5h0M477.4 509.8h0M499.8 412.6h0M515.2 441.7h0M515.2 459.4h0M503.7 489.5h0M521.4 451.4h0M555.7 413.2h0M560.2 466.6h0M500.2 338.5h0M527.7 450.3h0M581.7 475.9h0M486.3 411.8h0M521.6 367.2h0M520.9 441.8h0M537.3 436.0h0M485.7 487.8h0M504.5 417.2h0M510.1 460.4h0M519.9 475.2h0M497.3 486.7h0M492.8 509.7h0M516.2 470.0h0M500.5 482.8h0M514.3 497.4h0M482.3 471.2h0M520.2 513.8h0M518.6 398.8h0M552.7 409.2h0M477.1 501.6h0M579.5 364.9h0M549.6 447.5h0M538.0 471.3h0M508.4 437.2h0M533.6 427.9h0M518.0 475.5h0M513.6 482.9h0M473.4 505.3h0M542.8 440.2h0M602.6 397.5h0M488.8 501.2h0M496.4 485.2h0M493.4 453.0h0M516.0 404.9h0M506.7 447.4h0M535.5 360.9h0M502.3 486.4h0M457.4 515.2h0M488.7 450.3h0M547.3 387.1h0M556.7 407.2h0M483.2 491.7h0M591.2 364.5h0M516.7 488.8h0M520.3 451.4h0M518.0 470.9h0M487.4 462.8h0M512.5 482.1h0M548.9 440.4h0M487.0 481.4h0M498.2 514.0h0M495.8 491.2h0M536.7 395.9h0M476.6 526.5h0M587.4 431.5h0M512.6 436.5h0M470.1 495.0h0M487.0 463.9h0M504.1 430.5h0M530.2 447.3h0M500.5 402.0h0M545.5 449.8h0M474.4 518.2h0M472.3 495.8h0M484.1 498.4h0M500.1 482.2h0M475.7 470.2h0M464.0 511.8h0M476.4 515.4h0M532.3 412.1h0M507.2 506.4h0M531.2 468.2h0M528.3 421.2h0M579.5 359.0h0M614.0 387.6h0M523.3 460.2h0M489.7 492.6h0M472.5 418.2h0M561.7 436.8h0M491.9 448.2h0M518.0 472.4h0M549.8 370.7h0M512.7 359.6h0M513.1 448.0h0M555.1 364.3h0M541.9 463.7h0M520.3 483.0h0M493.9 497.1h0M506.4 488.6h0M506.6 506.0h0M506.7 466.1h0M543.2 431.8h0M466.7 521.8h0M515.0 450.0h0M541.7 434.0h0M509.1 358.4h0M531.8 449.0h0M518.8 433.6h0M517.5 469.9h0M498.7 474.8h0M587.1 412.7h0M585.4 505.3h0M497.3 465.9h0M499.3 469.5h0M569.5 454.7h0M522.9 418.7h0M497.2 491.9h0M598.9 385.6h0M501.2 486.5h0M575.6 409.7h0M486.2 518.8h0M520.4 472.5h0M470.3 510.8h0M528.7 359.5h0M480.1 478.7h0M530.4 445.4h0M518.4 501.8h0M520.9 475.0h0M521.6 487.2h0M506.6 492.4h0M559.9 402.9h0M500.3 461.1h0M538.2 368.2h0M585.0 352.9h0M545.3 466.9h0M487.7 441.5h0M544.2 472.6h0M505.5 430.7h0M547.0 413.2h0M497.6 497.6h0M534.2 455.0h0M534.2 462.3h0M518.8 466.2h0M517.0 498.0h0M525.9 430.2h0M545.4 426.9h0M528.7 451.8h0M535.5 427.2h0M534.9 381.0h0M525.4 479.6h0M516.3 464.0h0M537.0 430.6h0M498.9 511.9h0M504.1 480.4h0M528.8 476.8h0M481.0 473.8h0M470.7 486.9h0M529.6 420.7h0M480.4 519.3h0M495.4 496.9h0M512.8 468.1h0M513.1 442.2h0M496.9 531.6h0M537.4 474.4h0M478.0 521.5h0M517.9 456.8h0M503.2 500.9h0M488.7 455.0h0M508.3 476.8h0M495.7 448.3h0M471.7 507.1h0M511.3 465.2h0M473.8 517.5h0M519.8 474.6h0M528.7 486.9h0M519.5 487.6h0M525.7 360.6h0M544.2 451.2h0M500.3 521.1h0" stroke="#d15200" stroke-opacity="0.8" stroke-width="3.5" stroke-linecap="round" fill="none" clip-path="url(#cd)"/><path d="M510.7 479.7h0M507.9 489.1h0M471.5 507.2h0M534.0 450.5h0M499.6 501.9h0M498.6 476.6h0M516.1 485.2h0M526.0 490.2h0M514.0 476.9h0M509.1 494.5h0M565.1 441.9h0M603.7 424.6h0M517.6 496.2h0M643.1 430.3h0M482.1 509.0h0M506.5 497.3h0M514.2 504.1h0M500.8 504.9h0M611.9 407.7h0M514.7 476.5h0M632.2 410.8h0M519.5 499.9h0M569.9 451.5h0M508.7 485.2h0M502.5 501.4h0M511.2 451.8h0M523.3 471.4h0M590.8 439.3h0M488.6 510.4h0M621.8 392.3h0M476.6 505.5h0M577.8 449.2h0M532.8 450.5h0M548.8 485.7h0M543.7 439.6h0M470.5 524.8h0M549.0 436.2h0M491.4 496.2h0M507.3 502.6h0M524.1 465.8h0M485.8 512.6h0M667.8 357.3h0M566.5 443.7h0M682.8 346.0h0M566.1 438.2h0M648.8 425.1h0M599.8 438.5h0M586.6 338.5h0M564.6 448.2h0M524.7 477.1h0M576.4 430.8h0M523.0 484.6h0M547.3 436.2h0M479.8 508.0h0M606.9 434.4h0M476.7 508.5h0M554.7 472.1h0M493.8 486.8h0M497.1 500.5h0M512.2 486.1h0M579.4 369.7h0M518.8 442.1h0M484.5 506.1h0M492.1 485.4h0M535.2 460.2h0M482.5 499.9h0M490.1 484.9h0M658.6 412.4h0M673.9 388.0h0M489.5 483.8h0M526.2 476.7h0M521.0 486.9h0M490.5 479.8h0M643.4 381.7h0M571.7 406.7h0M465.5 530.9h0M538.4 433.4h0M604.0 414.6h0M522.0 500.4h0M583.8 396.6h0M472.6 518.7h0M668.9 416.1h0M566.8 440.2h0M555.5 426.8h0M556.5 454.7h0M515.7 476.1h0M464.7 525.4h0M622.7 400.9h0M492.7 510.9h0M522.3 478.7h0M554.4 458.7h0M545.1 490.8h0M511.1 472.8h0M627.3 424.4h0M451.9 532.7h0M472.3 505.2h0M556.1 439.9h0M514.5 487.1h0M508.8 433.4h0M546.7 458.0h0M526.4 452.9h0M498.1 487.2h0M453.1 520.1h0M568.2 425.4h0M648.2 356.8h0M581.4 395.4h0M647.8 360.1h0M470.7 515.5h0M562.2 454.7h0M610.5 422.0h0M582.5 453.1h0M589.5 437.5h0M564.0 397.5h0M564.9 430.8h0M492.9 509.6h0M550.9 466.1h0M529.1 412.9h0M462.4 519.6h0M600.2 381.3h0M499.7 483.3h0M449.2 529.6h0M553.7 461.2h0M550.8 454.6h0M579.6 448.0h0M547.3 430.3h0M479.1 511.4h0M528.8 469.5h0M664.6 369.9h0M587.3 418.4h0M680.4 346.1h0M566.1 444.8h0M583.2 427.4h0M463.1 520.5h0M517.5 467.1h0M653.3 400.4h0M523.5 461.8h0M517.8 488.9h0M484.8 519.7h0M616.6 400.1h0M539.6 427.8h0M532.2 470.0h0M509.9 482.2h0M478.7 499.0h0M572.3 451.9h0M500.4 507.1h0M484.6 512.8h0M531.0 455.8h0M488.4 507.8h0M559.8 440.9h0M484.7 506.1h0M508.3 499.3h0M519.4 465.5h0M596.0 339.4h0M565.3 449.4h0M479.3 518.0h0M494.8 484.3h0M612.3 414.7h0M592.5 381.6h0M550.3 419.6h0M544.8 463.5h0M500.8 456.2h0M517.7 475.9h0M507.5 476.6h0M541.8 473.5h0M636.9 387.8h0M523.5 463.3h0M543.2 412.8h0M520.3 497.1h0M518.7 484.9h0M559.8 431.7h0M519.2 490.0h0M543.4 467.1h0M584.3 424.7h0M517.9 476.2h0M522.6 457.7h0M559.6 436.3h0M607.0 431.3h0M486.6 484.7h0M486.2 514.3h0M467.8 517.6h0M613.6 337.0h0M479.3 519.3h0M512.7 502.7h0M472.3 512.2h0M624.5 386.0h0M634.2 392.9h0M579.2 423.8h0M621.2 444.3h0M472.7 505.7h0" stroke="#174780" stroke-opacity="0.85" stroke-width="3.5" stroke-linecap="round" fill="none" clip-path="url(#cd)"/><path d="M510.0 484.1h0M552.1 466.6h0M510.0 491.0h0M523.0 449.8h0M549.2 446.4h0M479.5 493.2h0M508.3 454.7h0M499.3 480.3h0M497.2 503.9h0M562.7 437.7h0M502.6 497.3h0M518.9 459.2h0M507.9 481.1h0M456.7 524.6h0M537.2 506.3h0M508.3 511.1h0M511.0 469.4h0M573.5 458.4h0M547.9 457.0h0M549.5 403.4h0M512.3 426.2h0M547.1 453.2h0M484.3 491.1h0M484.6 482.6h0M518.0 486.5h0M524.1 469.0h0M520.2 514.4h0M511.4 454.2h0M589.7 456.3h0M559.3 369.0h0M481.2 464.2h0M510.9 457.3h0M528.9 464.7h0M563.9 430.4h0M500.2 520.7h0M506.2 458.3h0M541.0 465.9h0M522.1 410.4h0M568.0 409.6h0M561.4 453.7h0" stroke="#d15200" stroke-opacity="0.42" stroke-width="3.5" stroke-linecap="round" fill="none" clip-path="url(#cd)"/><path d="M524.9 473.7h0M507.0 464.6h0M482.9 498.7h0M509.4 509.0h0M496.8 449.4h0M486.3 490.3h0M523.7 489.6h0M505.0 466.7h0M590.4 442.7h0M488.7 470.4h0M626.2 411.0h0M554.9 444.1h0M496.3 474.9h0M551.2 418.8h0M494.6 450.0h0M543.0 344.9h0M509.4 490.9h0M501.3 479.4h0M501.5 457.8h0M549.2 398.5h0M512.5 502.8h0M494.0 502.6h0M506.8 483.3h0M588.8 434.7h0M522.0 484.2h0M484.1 480.3h0M528.9 498.7h0M525.3 422.9h0M576.4 423.7h0M551.2 456.3h0M526.6 493.5h0M506.0 442.8h0M478.3 478.6h0M509.6 458.7h0M507.4 453.4h0M474.8 487.0h0M522.1 373.3h0M560.9 378.1h0M585.4 334.8h0M519.2 480.3h0M523.6 497.8h0M499.3 509.4h0M509.0 347.7h0M484.9 496.4h0M547.4 447.7h0M541.3 436.6h0M527.3 445.5h0M489.2 485.2h0M491.5 445.0h0M509.6 455.0h0M491.5 498.3h0M496.9 454.4h0M541.2 411.4h0M482.4 496.0h0M482.6 504.0h0M524.5 446.5h0M465.3 485.0h0M523.1 439.6h0M560.8 448.0h0M554.2 461.4h0M482.7 485.3h0M500.9 509.7h0M539.4 471.5h0M508.5 432.0h0M514.2 435.7h0M503.0 482.0h0M545.7 349.4h0M514.7 478.5h0M607.1 357.1h0M469.4 508.4h0M511.0 473.1h0M512.6 441.3h0M480.8 468.6h0M490.9 489.8h0M547.6 458.8h0M529.7 451.1h0M530.5 389.8h0M516.7 366.4h0M561.8 415.3h0M502.6 508.4h0M495.4 467.3h0M519.4 479.8h0M556.5 432.5h0M518.2 455.8h0M493.2 492.0h0M501.9 478.3h0M493.7 471.7h0M505.0 488.7h0M615.7 397.8h0M475.0 490.5h0M599.8 387.1h0M504.7 480.3h0M499.1 486.6h0M538.1 485.5h0M568.9 337.2h0M472.4 431.0h0M603.2 423.8h0M483.0 516.9h0M537.7 427.1h0M491.3 482.2h0M519.2 424.2h0M507.9 512.3h0M474.2 508.1h0M478.9 498.6h0M531.6 424.7h0M471.6 500.3h0M508.0 430.9h0M496.5 497.6h0M478.3 527.1h0M487.2 499.4h0M485.4 483.7h0M487.6 497.3h0M511.7 508.4h0M567.5 350.7h0M499.4 489.5h0M489.1 481.3h0M535.5 498.8h0M519.1 464.8h0M513.9 466.4h0M541.1 430.2h0M568.2 407.4h0M544.8 472.9h0M505.5 456.8h0M624.2 399.4h0M545.0 432.4h0M505.5 512.4h0M486.8 491.2h0M507.6 482.1h0M529.2 473.1h0M495.8 490.9h0M600.1 412.1h0M545.4 454.9h0M509.4 505.7h0M485.1 495.0h0M518.6 492.9h0M517.6 452.2h0M511.7 515.4h0M514.3 475.9h0M496.2 475.3h0M490.7 511.6h0M508.9 480.3h0M536.5 442.7h0M575.2 435.1h0M500.9 518.8h0M572.9 425.2h0M547.6 434.9h0M480.0 512.9h0M530.8 447.0h0M520.4 378.0h0M483.0 506.1h0M554.2 419.0h0M580.8 411.1h0M526.4 439.0h0M509.5 505.5h0M531.6 364.1h0M514.6 490.1h0M568.9 421.7h0M520.8 438.7h0M488.4 468.1h0M500.3 461.6h0M508.6 401.3h0M471.3 521.1h0M495.8 479.5h0M495.7 479.0h0M560.2 431.3h0M512.9 484.0h0M473.2 532.3h0M491.6 496.5h0M472.8 491.2h0M542.4 447.2h0M543.4 417.9h0M516.0 444.3h0M500.1 494.4h0M481.1 431.2h0M491.5 385.1h0M530.0 485.1h0M498.2 422.2h0M527.8 490.5h0M455.3 527.4h0M507.3 449.5h0M458.3 511.4h0M481.8 511.2h0M550.8 398.1h0M502.8 465.6h0M612.1 410.7h0M528.1 489.3h0M492.7 477.0h0M537.4 432.4h0M500.0 505.2h0M512.8 461.7h0M510.7 474.4h0M492.2 479.5h0M527.9 433.3h0M498.7 474.1h0M509.9 431.5h0M481.7 528.6h0M518.8 497.0h0M570.2 421.3h0M531.2 438.8h0M495.8 484.5h0M484.5 497.7h0M582.2 435.3h0M502.6 462.4h0M534.5 424.1h0M476.9 461.4h0M543.3 497.1h0" stroke="#d15200" stroke-opacity="0.8" stroke-width="3.5" stroke-linecap="round" fill="none" clip-path="url(#cd)"/><path d="M555.6 442.4h0M465.2 524.7h0M493.0 511.9h0M518.0 490.9h0M561.0 482.0h0M635.0 407.1h0M561.3 462.4h0M613.9 425.4h0M632.4 436.8h0M486.2 509.3h0M537.1 471.9h0M612.4 387.5h0M514.3 469.1h0M625.6 399.6h0M618.4 378.8h0M496.1 503.1h0M538.2 481.5h0M548.5 414.3h0M602.2 419.4h0M556.4 424.9h0M613.5 373.3h0M476.3 505.2h0M576.2 458.7h0M653.2 353.6h0M638.9 369.2h0M542.7 466.4h0M527.8 480.5h0M548.7 437.7h0M517.4 460.8h0M524.4 483.8h0M504.4 465.4h0M627.2 407.2h0M563.7 431.7h0M479.4 509.9h0M628.2 410.5h0M560.8 464.6h0M496.8 486.9h0M506.3 477.7h0M578.4 422.1h0M539.7 445.8h0M498.9 491.8h0M522.3 468.8h0M507.5 483.0h0M612.8 367.7h0M554.1 425.5h0M617.3 406.3h0M479.8 513.5h0M588.2 385.5h0M477.6 506.9h0M628.1 381.1h0M498.8 494.8h0M575.5 466.8h0M510.0 491.6h0M495.3 485.1h0M491.3 510.0h0M554.6 447.4h0M561.5 440.8h0M493.4 485.7h0M485.2 490.7h0M555.6 487.9h0M642.1 360.5h0M506.8 505.2h0M525.4 472.2h0M472.9 503.2h0M542.7 450.7h0M588.3 385.4h0M532.4 449.2h0M635.6 403.9h0M516.9 445.4h0M527.7 448.3h0M514.6 476.5h0M534.1 445.7h0M610.3 381.5h0M514.6 455.7h0M471.3 527.2h0M563.3 422.1h0M521.2 478.5h0M558.7 445.2h0M493.5 497.6h0M489.8 502.4h0M528.9 455.3h0M572.6 441.5h0M479.0 515.1h0M669.1 371.9h0M534.0 431.0h0M471.9 500.1h0M518.8 487.0h0M621.3 404.1h0M646.6 403.7h0M648.0 447.3h0M506.8 478.1h0M505.5 476.0h0M556.7 390.2h0M563.3 478.9h0M482.7 503.8h0M611.8 436.6h0M472.7 487.8h0M506.9 464.4h0M490.0 497.6h0M524.9 439.2h0M489.8 504.1h0M515.0 468.7h0M581.6 430.3h0M494.6 497.3h0M495.1 498.5h0M546.3 434.9h0M557.5 480.8h0M564.7 403.6h0M503.8 504.0h0M531.2 473.4h0M621.7 365.1h0M507.4 483.7h0M526.2 495.5h0M629.3 427.1h0M572.9 397.5h0M520.4 490.7h0M479.5 521.8h0M485.4 487.2h0M542.2 453.9h0M500.3 489.0h0M493.0 512.9h0M521.2 463.2h0M578.0 431.1h0M518.6 495.6h0M520.7 492.0h0M496.2 499.6h0M542.1 427.5h0M566.4 427.3h0M592.3 442.3h0M489.9 493.5h0M483.8 509.7h0M532.9 473.4h0M583.0 430.9h0M508.1 490.2h0M482.8 484.9h0M647.7 388.9h0M563.2 401.7h0M534.7 472.3h0M482.6 506.2h0M585.1 408.8h0M496.1 501.5h0M619.9 377.6h0M542.2 445.5h0M550.7 443.1h0M528.5 479.0h0M504.6 476.7h0M546.7 437.7h0M474.9 503.4h0M553.5 445.8h0M584.6 381.0h0M526.2 472.9h0M548.1 449.3h0M552.5 439.3h0M647.2 411.4h0M617.2 365.2h0M563.9 406.2h0M624.6 428.3h0M549.7 394.5h0M625.8 395.8h0M523.8 469.0h0M521.2 488.6h0M548.6 454.1h0M537.2 449.9h0M502.4 495.1h0M498.0 479.9h0M562.2 454.6h0M609.2 412.5h0M534.1 455.6h0M564.2 474.7h0M474.5 520.4h0M516.2 467.6h0M545.8 484.6h0M509.0 443.7h0M622.2 401.6h0M487.8 498.8h0M515.2 482.4h0M563.0 421.8h0M542.2 465.4h0M538.3 445.2h0M507.5 490.5h0M535.1 464.6h0M638.6 448.3h0M481.9 518.3h0M559.6 408.3h0M495.5 508.6h0M513.4 481.9h0M538.9 472.9h0M522.9 461.9h0M529.8 446.6h0M619.9 355.5h0M558.9 450.7h0M628.8 406.6h0M547.6 405.6h0M579.2 461.5h0M664.4 339.5h0M604.0 368.4h0M489.7 512.7h0" stroke="#174780" stroke-opacity="0.85" stroke-width="3.5" stroke-linecap="round" fill="none" clip-path="url(#cd)"/><path d="M510.6 486.1h0M487.8 486.6h0M513.1 484.7h0M524.2 443.2h0M499.7 455.5h0M534.2 468.7h0M503.5 421.2h0M481.8 475.4h0M474.5 464.0h0M517.2 492.7h0M495.5 429.6h0M511.6 463.6h0M595.8 387.3h0M519.3 457.6h0M486.0 468.3h0M478.7 501.2h0M500.8 506.9h0M512.4 432.7h0M604.9 402.7h0M524.1 476.3h0M500.8 471.3h0M568.3 421.6h0M487.6 487.0h0M506.7 448.4h0M514.3 462.3h0M491.2 518.0h0M506.2 462.2h0M503.2 471.6h0M491.6 488.0h0M503.5 456.6h0M529.5 432.7h0M571.9 400.4h0M500.7 489.9h0M583.8 445.1h0M523.7 457.5h0M491.0 478.7h0M520.6 452.1h0M528.4 455.0h0" stroke="#d15200" stroke-opacity="0.42" stroke-width="3.5" stroke-linecap="round" fill="none" clip-path="url(#cd)"/><path d="M567.5 388.9h0M508.8 470.2h0M483.9 485.4h0M493.5 450.3h0M545.8 408.1h0M464.8 480.9h0M557.2 355.9h0M511.3 471.1h0M563.6 419.6h0M506.3 483.0h0M505.3 485.3h0M533.7 452.9h0M498.7 506.6h0M555.9 358.6h0M550.7 455.2h0M571.5 432.8h0M538.7 445.0h0M514.6 406.9h0M611.0 403.0h0M542.1 479.2h0M472.5 517.5h0M503.8 499.2h0M531.3 495.1h0M542.9 408.4h0M548.3 455.9h0M524.6 430.6h0M549.7 383.3h0M550.0 387.8h0M533.4 374.5h0M471.8 524.0h0M545.8 474.7h0M474.8 496.2h0M510.5 451.6h0M497.2 519.9h0M594.7 477.3h0M586.0 475.6h0M490.8 461.3h0M494.7 487.5h0M520.2 459.9h0M491.2 510.4h0M542.3 477.8h0M526.8 454.0h0M521.7 442.3h0M518.0 467.3h0M486.6 500.6h0M514.4 454.0h0M539.8 473.1h0M521.2 430.8h0M560.9 467.5h0M474.8 488.4h0M466.3 450.8h0M467.6 510.0h0M515.9 474.6h0M557.7 446.1h0M533.2 462.6h0M532.7 447.7h0M480.8 439.2h0M519.2 458.4h0M527.9 466.8h0M559.8 427.4h0M502.6 374.7h0M519.9 465.3h0M539.0 474.5h0M506.8 429.0h0M539.9 435.7h0M505.5 453.9h0M500.4 494.8h0M476.0 466.0h0M505.5 480.4h0M554.4 443.2h0M528.0 478.3h0M486.4 510.1h0M501.3 474.5h0M511.0 433.0h0M543.2 433.3h0M513.8 447.2h0M464.1 511.1h0M565.4 389.2h0M463.4 509.3h0M537.9 387.4h0M525.6 436.9h0M578.9 401.1h0M500.8 459.4h0M588.1 436.6h0M509.3 413.1h0M511.7 456.3h0M515.1 473.2h0M592.6 417.3h0M493.9 455.4h0M532.4 465.6h0M478.9 479.5h0M505.1 442.1h0M505.6 478.7h0M508.0 453.7h0M480.6 474.1h0M495.7 495.7h0M485.8 489.8h0M512.1 454.7h0M496.2 481.7h0M501.6 483.4h0M492.9 453.1h0M536.3 398.9h0M487.1 381.1h0M528.6 456.4h0M548.1 438.4h0M489.4 511.4h0M504.3 513.3h0M506.1 463.6h0M583.1 418.2h0M481.2 483.6h0M509.9 491.1h0M496.1 499.6h0M488.7 491.5h0M525.6 468.5h0M524.8 368.8h0M499.3 457.2h0M560.9 392.2h0M468.8 487.8h0M504.5 470.5h0M484.0 517.0h0M521.8 473.3h0M517.8 495.5h0M490.4 515.1h0M518.9 493.4h0M498.8 444.1h0M551.1 434.9h0M558.5 412.1h0M526.6 476.0h0M486.8 522.4h0M601.4 456.9h0M496.3 486.0h0M486.0 513.5h0M498.8 495.0h0M507.4 509.1h0M512.6 378.4h0M546.2 459.4h0M493.5 470.3h0M558.3 448.6h0M496.0 450.2h0M534.5 433.8h0M486.8 463.1h0M555.4 448.2h0M570.1 405.9h0M508.4 502.2h0M524.5 477.1h0M515.5 365.5h0M529.4 425.0h0M480.8 528.0h0M483.3 502.2h0M581.3 459.3h0M521.1 444.9h0M539.4 506.6h0M565.9 389.1h0M479.8 509.4h0M540.7 435.8h0M481.3 497.5h0M488.1 521.7h0M519.7 459.9h0M501.9 484.1h0M584.1 419.9h0M585.4 441.9h0M508.3 379.6h0M506.5 455.7h0M511.2 450.8h0M476.2 508.4h0M531.0 402.4h0M482.7 495.4h0M509.0 490.7h0M526.3 452.9h0M532.6 442.9h0M602.4 431.5h0M488.1 460.2h0M559.3 446.0h0M523.6 496.6h0M538.4 440.4h0M543.3 475.6h0M558.5 466.7h0M503.6 452.4h0M518.1 500.3h0M557.6 440.2h0M500.7 407.4h0M500.8 469.1h0M501.6 500.8h0M523.1 437.7h0M495.7 482.4h0M581.6 383.0h0M499.0 436.7h0M540.0 367.5h0M525.3 482.5h0M483.2 497.3h0M514.1 423.2h0M498.3 499.0h0M491.5 480.1h0M573.4 459.1h0M507.4 467.1h0M519.3 472.2h0M573.8 417.2h0M604.8 391.4h0M542.2 464.2h0M507.9 510.2h0M526.8 477.4h0M487.2 430.3h0M544.5 406.0h0M538.7 420.5h0M512.6 433.2h0M520.6 475.3h0" stroke="#d15200" stroke-opacity="0.8" stroke-width="3.5" stroke-linecap="round" fill="none" clip-path="url(#cd)"/><path d="M573.7 386.0h0M596.7 405.3h0M574.2 469.5h0M571.1 458.5h0M523.1 498.8h0M463.0 515.2h0M461.5 531.8h0M575.7 424.2h0M460.8 519.2h0M535.2 468.7h0M453.1 528.2h0M634.7 354.1h0M523.9 475.9h0M544.3 446.4h0M626.2 422.8h0M482.6 485.0h0M527.8 491.5h0M482.0 499.7h0M503.4 447.1h0M497.2 493.4h0M597.4 413.7h0M615.5 353.4h0M554.1 402.5h0M510.7 470.1h0M522.0 475.2h0M518.0 469.8h0M546.8 457.3h0M545.6 439.6h0M572.2 446.3h0M524.1 482.8h0M480.1 501.6h0M486.6 517.9h0M607.8 405.9h0M578.8 401.8h0M545.6 468.8h0M636.7 407.2h0M582.7 395.2h0M532.9 453.7h0M512.0 480.0h0M552.9 413.5h0M498.9 490.2h0M480.2 503.2h0M575.4 396.5h0M554.5 365.0h0M519.9 482.5h0M503.9 486.8h0M493.8 509.2h0M517.1 466.6h0M477.1 504.2h0M484.2 526.0h0M521.2 475.5h0M532.9 463.0h0M519.0 488.1h0M528.1 465.2h0M498.6 514.1h0M528.8 456.2h0M544.5 434.7h0M575.9 397.0h0M561.7 449.1h0M553.7 470.3h0M558.1 452.8h0M476.4 506.5h0M485.0 484.6h0M602.3 369.6h0M497.2 506.4h0M537.1 391.5h0M531.5 482.8h0M468.7 518.3h0M511.6 498.3h0M571.5 403.5h0M556.1 390.5h0M561.4 402.7h0M538.1 441.8h0M597.5 433.3h0M463.6 524.8h0M476.9 517.3h0M563.7 430.8h0M526.1 477.0h0M510.4 469.3h0M508.1 478.8h0M532.9 466.3h0M475.7 524.1h0M550.5 439.6h0M599.1 433.4h0M509.8 493.4h0M539.9 444.6h0M525.0 473.8h0M518.3 489.3h0M517.5 495.7h0M484.0 502.9h0M483.6 503.0h0M541.8 458.3h0M552.9 421.0h0M445.7 527.1h0M592.0 430.0h0M589.6 381.0h0M509.1 496.6h0M647.7 415.6h0M498.3 482.5h0M512.4 480.4h0M475.9 516.4h0M529.7 452.0h0M478.8 508.4h0M503.8 478.2h0M459.7 508.1h0M476.8 489.0h0M531.6 470.4h0M622.6 381.8h0M517.3 481.0h0M547.3 450.7h0M624.0 367.3h0M501.1 468.8h0M538.6 464.8h0M613.8 404.0h0M554.0 370.8h0M521.1 446.7h0M507.5 492.5h0M532.6 443.7h0M540.5 432.7h0M600.1 444.6h0M530.1 439.8h0M501.0 507.6h0M518.6 499.6h0M570.5 459.0h0M586.4 396.1h0M507.1 461.9h0M518.5 470.3h0M470.4 515.9h0M526.2 472.5h0M492.6 508.4h0M555.9 468.5h0M572.0 442.9h0M483.9 493.6h0M574.3 369.9h0M556.4 454.4h0M503.6 503.5h0M562.3 472.2h0M536.9 465.8h0M544.0 432.1h0M657.6 367.9h0M649.8 406.0h0M472.8 512.3h0M546.8 448.0h0M651.4 401.7h0M458.8 529.4h0M627.1 410.7h0M678.3 394.4h0M469.2 511.7h0M517.5 485.7h0M546.0 431.6h0M529.8 471.2h0M504.1 483.9h0M609.9 397.8h0M597.0 441.0h0M503.8 484.7h0M639.1 415.3h0M515.9 465.5h0M509.4 466.3h0M566.0 424.4h0M538.4 466.4h0M526.9 459.5h0M487.9 520.9h0M635.9 382.3h0M602.7 447.9h0M601.6 413.4h0M485.8 508.2h0M562.2 472.0h0M681.4 365.7h0M563.9 443.3h0M524.0 471.5h0M645.0 392.8h0M533.7 462.8h0M551.5 437.2h0M623.0 412.7h0M501.1 476.8h0M491.5 522.2h0M482.4 506.9h0M527.6 471.0h0M493.8 509.7h0M462.6 522.4h0M505.0 493.5h0M501.5 492.3h0M563.4 432.3h0M498.7 453.5h0M591.7 423.4h0M522.9 476.6h0M496.3 507.8h0M628.1 389.1h0M583.4 397.3h0M585.3 395.6h0M642.6 420.6h0M563.0 478.3h0M491.0 487.8h0M465.3 522.0h0" stroke="#174780" stroke-opacity="0.85" stroke-width="3.5" stroke-linecap="round" fill="none" clip-path="url(#cd)"/><path d="M500.2 426.7h0M471.8 487.4h0M522.1 477.9h0M503.9 450.6h0M545.6 444.5h0M493.6 515.4h0M523.8 490.7h0M540.2 482.9h0M570.2 456.9h0M488.5 462.3h0M475.6 455.6h0M505.1 486.5h0M533.5 450.7h0M522.5 479.0h0M539.6 454.1h0M525.2 462.8h0M510.0 491.6h0M555.8 365.6h0M559.9 421.2h0M534.7 414.7h0M504.0 363.7h0M540.4 415.0h0M528.0 437.9h0M605.3 411.6h0M540.5 478.2h0M478.5 490.8h0M509.9 480.1h0M602.5 403.7h0M568.1 428.3h0M504.4 476.7h0M560.5 401.7h0M506.5 477.5h0M492.6 466.9h0M514.3 457.9h0M500.6 428.2h0M459.9 516.3h0M507.9 493.6h0M510.1 486.5h0M584.4 452.1h0M507.6 481.7h0M517.8 443.5h0M529.3 468.4h0M477.2 460.8h0M556.7 347.8h0M510.7 474.6h0M455.7 502.2h0M588.7 397.1h0M526.4 441.5h0M482.5 497.7h0" stroke="#d15200" stroke-opacity="0.42" stroke-width="3.5" stroke-linecap="round" fill="none" clip-path="url(#cd)"/><path d="M545.2 395.5h0M515.3 431.7h0M475.7 511.2h0M513.3 455.8h0M482.0 462.8h0M563.1 396.6h0M522.3 516.0h0M494.1 457.6h0M517.7 489.0h0M521.6 475.5h0M470.8 490.0h0M488.1 493.1h0M540.2 472.7h0M569.1 370.7h0M529.4 496.8h0M549.6 401.9h0M497.9 488.0h0M542.9 432.6h0M550.5 449.4h0M519.7 429.6h0M487.6 434.8h0M512.7 530.3h0M487.0 437.5h0M549.9 497.9h0M510.3 471.5h0M539.2 442.1h0M488.3 515.9h0M538.0 473.0h0M508.4 479.4h0M508.9 465.3h0M523.4 457.9h0M546.1 445.5h0M488.4 485.6h0M586.7 359.1h0M544.7 457.9h0M498.1 504.0h0M534.4 467.7h0M489.1 493.3h0M525.0 470.7h0M505.9 444.7h0M487.1 470.6h0M600.1 412.7h0M505.3 474.0h0M500.8 468.2h0M474.0 516.8h0M525.1 494.6h0M555.5 380.1h0M532.0 469.5h0M516.3 458.1h0M573.3 468.9h0M494.0 471.0h0M569.4 433.9h0M513.3 499.5h0M578.6 422.3h0M522.1 493.3h0M524.0 493.6h0M493.2 519.3h0M494.9 485.2h0M500.4 472.7h0M507.4 514.1h0M526.8 451.5h0M601.3 417.5h0M528.9 362.0h0M535.3 493.1h0M515.0 474.4h0M503.8 485.5h0M554.7 385.6h0M492.9 462.2h0M535.3 428.2h0M471.9 493.1h0M515.6 461.8h0M525.4 466.6h0M530.4 446.3h0M508.1 501.5h0M536.1 485.6h0M535.6 494.2h0M497.2 470.6h0M504.4 495.2h0M499.8 486.4h0M474.6 508.3h0M494.4 492.0h0M508.7 492.6h0M557.6 457.1h0M481.7 482.1h0M558.4 471.6h0M540.6 461.7h0M540.9 463.1h0M484.7 502.3h0M477.4 515.5h0M531.4 463.7h0M505.5 516.0h0M520.2 481.9h0M507.8 406.5h0M496.3 389.2h0M506.3 454.3h0M502.2 454.5h0M524.4 433.8h0M499.9 512.9h0M470.5 524.0h0M500.6 480.8h0M461.2 518.1h0M476.4 532.9h0M509.3 492.4h0M498.3 492.8h0M498.9 505.3h0M507.7 463.4h0M515.5 473.7h0M530.3 436.7h0M504.1 482.4h0M509.4 477.1h0M500.5 501.8h0M603.8 408.3h0M554.5 398.7h0M478.4 484.8h0M517.1 437.9h0M508.8 490.5h0M501.7 453.3h0M496.1 422.9h0M509.2 496.2h0M490.9 465.6h0M492.6 482.3h0M461.6 505.5h0M506.2 516.9h0M471.7 479.4h0M538.4 416.6h0M490.2 481.4h0M622.9 337.6h0M482.8 487.6h0M518.2 456.2h0M511.2 482.7h0M539.2 456.2h0M472.2 496.4h0M594.4 405.5h0M534.2 493.9h0M546.3 471.3h0M506.2 487.9h0M521.2 478.8h0M522.6 427.2h0M524.3 494.8h0M544.3 469.2h0M491.4 483.6h0M499.3 436.0h0M524.0 481.5h0M475.8 501.5h0M542.7 438.6h0M513.0 477.3h0M527.1 501.9h0M485.4 521.6h0M542.3 415.2h0M544.3 444.0h0M477.7 465.6h0M473.6 523.4h0M468.7 508.0h0M564.3 444.0h0M551.7 459.2h0M563.7 464.9h0M537.3 456.6h0M480.6 478.4h0M488.1 462.0h0M567.1 435.1h0M505.1 407.7h0M493.9 505.1h0M518.8 408.9h0M509.9 466.1h0M471.0 521.5h0M533.1 407.7h0M505.7 483.4h0M519.3 458.8h0M507.8 471.2h0M491.9 465.5h0M521.5 423.8h0M503.5 477.2h0M502.0 512.8h0M529.9 456.8h0M591.7 427.4h0M490.4 453.3h0M527.0 489.7h0M494.7 497.9h0M550.7 446.1h0M521.8 477.3h0M515.2 433.3h0M535.5 452.7h0M572.3 420.8h0M566.8 354.1h0M484.7 524.4h0M518.4 480.5h0M541.6 460.8h0M544.3 437.0h0M475.3 510.0h0M569.6 467.3h0M570.6 407.4h0M514.6 427.3h0M518.4 450.4h0M514.3 497.5h0M516.3 409.3h0M565.3 367.7h0M525.4 418.7h0" stroke="#d15200" stroke-opacity="0.8" stroke-width="3.5" stroke-linecap="round" fill="none" clip-path="url(#cd)"/><path d="M519.5 504.9h0M506.7 495.7h0M480.3 516.7h0M571.8 462.3h0M545.1 444.3h0M589.0 443.6h0M513.5 465.7h0M512.8 475.5h0M505.7 483.7h0M496.2 482.8h0M518.1 474.8h0M513.1 468.9h0M532.1 456.1h0M610.4 402.5h0M536.9 458.5h0M568.4 446.7h0M481.7 505.9h0M495.2 494.3h0M557.8 388.8h0M478.2 510.8h0M644.2 392.3h0M532.3 457.6h0M573.1 427.9h0M580.4 403.4h0M543.7 447.2h0M575.1 433.1h0M535.4 460.8h0M497.2 485.9h0M485.0 508.8h0M593.8 455.3h0M620.6 378.2h0M602.1 377.3h0M556.3 430.0h0M536.3 427.4h0M512.4 453.3h0M554.5 422.2h0M540.5 389.1h0M618.8 390.2h0M594.5 395.3h0M538.3 462.5h0M517.8 499.1h0M505.6 479.2h0M557.6 437.9h0M487.7 513.0h0M501.2 482.8h0M541.9 442.5h0M562.1 351.0h0M582.5 389.7h0M532.0 470.6h0M521.3 488.2h0M486.0 501.4h0M561.7 451.0h0M500.9 502.9h0M538.3 464.3h0M489.5 496.1h0M497.0 506.9h0M486.4 501.8h0M568.7 452.8h0M567.3 421.6h0M609.9 408.6h0M524.7 467.1h0M492.5 505.1h0M600.6 445.2h0M507.0 494.3h0M660.0 415.3h0M552.3 478.7h0M484.2 490.9h0M532.3 471.7h0M522.3 472.1h0M582.4 451.5h0M624.1 415.5h0M486.2 508.0h0M588.8 444.8h0M559.9 381.1h0M600.3 398.9h0M501.8 494.7h0M600.8 416.6h0M570.3 430.1h0M598.8 366.5h0M529.1 467.1h0M487.4 522.8h0M506.2 495.1h0M545.6 462.5h0M473.6 499.9h0M526.3 449.6h0M561.0 434.5h0M606.4 420.8h0M575.5 443.6h0M467.4 519.0h0M485.9 507.3h0M546.5 466.1h0M497.1 492.8h0M485.2 490.1h0M540.7 459.5h0M513.6 497.0h0M540.4 469.0h0M504.7 508.1h0M577.5 457.9h0M487.6 501.6h0M481.8 511.0h0M604.8 413.8h0M591.8 361.9h0M503.9 513.2h0M492.8 491.9h0M522.4 471.0h0M528.5 453.9h0M518.9 467.1h0M546.9 459.1h0M636.7 439.8h0M554.6 431.1h0M582.0 371.1h0M522.2 489.4h0M654.0 335.7h0M585.2 450.9h0M553.4 419.9h0M507.1 515.6h0M536.5 493.0h0M533.3 448.8h0M487.5 503.3h0M477.9 515.5h0M500.6 499.8h0M525.5 504.5h0M570.4 466.2h0M501.7 491.7h0M681.1 360.6h0M655.5 389.4h0M591.0 424.6h0M536.0 435.0h0M545.0 440.9h0M544.1 472.0h0M495.5 460.4h0M649.1 364.0h0M587.9 401.2h0M556.0 458.0h0M483.0 533.3h0M562.7 453.2h0M499.0 496.3h0M682.4 379.6h0M591.5 392.9h0M496.0 493.5h0M492.4 477.7h0M558.1 462.3h0M587.3 407.3h0M632.3 377.1h0M497.1 488.9h0M511.1 492.7h0M490.4 500.8h0M589.0 451.8h0M506.7 494.7h0M482.4 499.7h0M589.1 418.3h0M580.7 445.5h0M514.4 500.7h0M547.4 474.8h0M498.8 474.7h0M671.3 348.7h0M616.5 381.4h0M544.1 485.9h0M527.3 457.3h0M622.8 382.3h0M536.8 486.0h0M581.9 397.4h0M571.7 439.9h0M535.3 441.4h0M538.6 459.2h0M564.4 436.4h0M682.6 383.8h0M556.3 433.9h0M559.8 441.6h0M510.3 500.5h0M591.4 457.6h0M492.2 500.8h0M576.2 429.1h0M482.8 498.1h0M582.4 413.3h0M654.3 335.2h0M490.3 479.1h0M532.2 485.3h0M665.6 402.7h0M540.0 455.5h0M594.9 409.1h0M518.3 469.8h0M530.8 458.2h0M471.4 509.9h0M537.4 430.0h0M512.8 477.0h0M521.2 454.8h0M648.2 414.3h0M551.8 398.9h0M493.6 497.3h0M470.1 512.2h0M594.9 429.4h0M500.5 490.3h0M570.2 430.3h0M562.6 452.2h0M542.3 481.8h0M511.1 487.7h0M525.6 470.8h0M465.0 528.7h0" stroke="#174780" stroke-opacity="0.85" stroke-width="3.5" stroke-linecap="round" fill="none" clip-path="url(#cd)"/><path d="M495.3 492.9h0M504.9 479.0h0M515.9 432.6h0M551.5 485.2h0M505.4 478.4h0M476.4 528.2h0M518.1 446.4h0M540.9 438.0h0M552.4 456.2h0M487.1 500.7h0M472.2 500.4h0M520.9 476.3h0M594.7 416.0h0M494.2 468.8h0M586.1 480.2h0M497.5 494.1h0M524.3 409.0h0M485.2 506.9h0M524.7 482.8h0M503.2 481.7h0M494.3 471.7h0M488.8 453.1h0M556.7 377.9h0M537.3 418.1h0M561.9 432.6h0M511.3 446.2h0M495.5 390.2h0M519.3 457.4h0M549.2 384.3h0M510.4 449.2h0M553.6 437.5h0M521.2 461.7h0M527.8 455.3h0M531.1 447.5h0M539.5 423.5h0" stroke="#d15200" stroke-opacity="0.42" stroke-width="3.5" stroke-linecap="round" fill="none" clip-path="url(#cd)"/><path d="M529.6 498.0h0M500.5 475.5h0M525.6 468.2h0M511.0 483.4h0M513.1 424.0h0M570.6 412.7h0M496.4 470.1h0M522.8 479.4h0M615.7 430.8h0M494.1 499.9h0M527.0 496.6h0M501.4 469.6h0M575.2 445.9h0M681.4 419.2h0M538.7 376.5h0M516.7 464.9h0M565.7 435.1h0M532.2 484.2h0M497.3 450.5h0M505.0 483.5h0M511.2 485.1h0M507.9 419.2h0M485.4 486.7h0M494.6 501.3h0M621.5 383.7h0M476.8 514.8h0M524.6 490.1h0M516.6 456.1h0M614.3 348.8h0M506.6 464.9h0M527.3 501.0h0M476.7 504.9h0M533.7 466.5h0M509.2 442.0h0M471.0 524.3h0M556.6 456.8h0M517.0 414.5h0M509.0 474.0h0M512.7 449.4h0M499.3 458.9h0M497.6 503.9h0M520.1 450.3h0M519.6 489.6h0M502.3 509.3h0M502.7 505.0h0M483.8 466.4h0M475.1 487.3h0M525.3 514.0h0M490.3 514.4h0M537.5 492.7h0M488.5 446.4h0M537.6 456.6h0M513.9 484.0h0M475.7 506.0h0M496.7 470.5h0M553.1 433.9h0M482.4 486.5h0M470.9 435.4h0M530.2 433.9h0M558.8 355.6h0M478.9 514.7h0M518.3 479.8h0M485.3 469.8h0M507.0 469.5h0M488.5 520.4h0M558.0 413.4h0M485.9 456.7h0M567.0 394.2h0M512.2 451.5h0M577.7 465.6h0M488.1 454.8h0M563.4 344.3h0M484.6 495.8h0M521.5 441.4h0M483.0 510.8h0M501.9 409.6h0M537.4 454.3h0M555.8 420.1h0M469.8 496.8h0M600.4 439.3h0M540.3 454.7h0M481.0 479.5h0M504.9 436.2h0M492.2 493.8h0M532.5 486.4h0M493.8 481.5h0M568.7 468.5h0M573.2 440.4h0M464.7 523.1h0M498.0 451.3h0M552.0 442.3h0M554.6 460.6h0M537.7 423.3h0M514.3 459.1h0M524.7 512.7h0M519.8 416.9h0M580.7 357.4h0M478.3 510.9h0M493.0 427.2h0M505.8 449.1h0M547.0 477.3h0M457.7 534.9h0M474.9 497.7h0M536.0 408.3h0M497.8 461.4h0M512.1 506.1h0M587.7 390.5h0M491.7 387.7h0M530.1 353.3h0M512.1 467.3h0M541.9 428.0h0M505.7 511.8h0M516.0 436.6h0M589.5 375.6h0M537.3 453.9h0M559.2 449.7h0M504.7 378.3h0M513.2 442.8h0M469.1 524.9h0M530.9 473.8h0M529.0 499.0h0M540.1 455.7h0M480.3 473.4h0M479.1 504.3h0M490.9 454.0h0M682.4 366.2h0M505.2 507.1h0M503.0 472.6h0M549.9 481.4h0M494.4 505.3h0M540.2 472.1h0M499.6 481.4h0M512.2 491.1h0M554.9 417.6h0M577.2 425.4h0M536.1 415.2h0M492.3 515.1h0M492.1 477.0h0M516.2 509.8h0M469.6 497.0h0M557.3 449.6h0M486.3 507.5h0M558.1 471.0h0M530.7 495.3h0M502.6 444.8h0M479.2 478.1h0M496.9 509.0h0M504.7 512.6h0M565.4 429.6h0M461.5 517.2h0M494.2 485.4h0M475.0 487.2h0M483.0 472.9h0M475.1 523.2h0M546.3 455.1h0M472.6 520.1h0M509.2 476.7h0M551.9 427.8h0M489.8 494.4h0M533.8 414.7h0M489.0 476.3h0M495.8 457.9h0M498.5 496.7h0M519.7 440.9h0M504.3 449.0h0M452.7 532.7h0M532.0 402.2h0M489.5 454.5h0M549.1 399.9h0M552.2 435.1h0M519.6 469.1h0M490.3 358.1h0M536.0 439.7h0M561.9 432.6h0M527.9 406.1h0M487.6 472.0h0M540.6 435.6h0M489.7 473.4h0M551.9 454.2h0M478.4 517.1h0M509.8 488.7h0M534.0 482.3h0M494.1 483.7h0M532.2 475.1h0M493.2 504.0h0M494.7 490.6h0M566.1 442.5h0M465.8 531.1h0M536.0 410.5h0M492.4 498.7h0M516.5 444.9h0M533.3 481.7h0M519.2 459.0h0M570.8 475.1h0M547.1 423.5h0M461.7 511.2h0M560.1 465.9h0M507.7 490.1h0M544.6 464.9h0M510.1 449.9h0M505.7 459.6h0M531.6 453.8h0M533.4 443.9h0M518.2 421.7h0M584.5 423.0h0" stroke="#d15200" stroke-opacity="0.8" stroke-width="3.5" stroke-linecap="round" fill="none" clip-path="url(#cd)"/><path d="M501.9 489.6h0M499.2 495.6h0M523.6 453.4h0M528.4 443.5h0M564.9 454.7h0M484.6 520.5h0M547.0 415.7h0M542.8 459.0h0M602.6 428.9h0M514.7 481.6h0M508.5 480.3h0M535.2 451.2h0M476.2 498.9h0M472.0 513.7h0M614.6 383.9h0M498.4 474.0h0M597.5 405.4h0M506.9 471.4h0M548.1 379.3h0M527.6 499.3h0M551.8 426.5h0M463.9 532.0h0M471.9 514.3h0M600.8 414.0h0M555.6 416.3h0M599.6 399.8h0M526.5 433.8h0M505.8 469.7h0M601.8 406.1h0M512.6 477.2h0M545.6 491.0h0M559.7 460.6h0M538.3 468.8h0M540.7 482.8h0M618.7 425.5h0M575.7 439.4h0M552.5 469.6h0M648.7 415.7h0M497.8 450.0h0M627.8 414.9h0M631.5 387.2h0M609.4 405.0h0M455.5 528.8h0M543.9 474.6h0M517.9 477.8h0M541.9 469.7h0M468.8 522.9h0M456.5 519.8h0M523.5 465.1h0M533.4 418.5h0M521.9 483.5h0M496.3 496.8h0M579.4 366.8h0M542.3 452.0h0M605.6 364.8h0M605.7 397.3h0M679.4 402.0h0M493.0 502.0h0M484.9 509.3h0M587.6 454.0h0M488.6 495.5h0M546.4 475.2h0M521.9 454.7h0M520.2 481.0h0M506.5 483.3h0M576.0 452.0h0M581.0 438.2h0M588.1 365.7h0M517.0 486.4h0M499.0 486.9h0M540.0 438.0h0M526.0 443.4h0M560.5 459.1h0M502.3 470.9h0M564.2 387.5h0M548.7 462.4h0M680.6 375.7h0M540.2 452.6h0M510.5 492.7h0M540.7 457.6h0M510.5 486.6h0M564.8 500.8h0M567.7 400.8h0M678.4 356.5h0M594.1 458.5h0M543.2 469.3h0M618.1 414.3h0M502.8 480.9h0M634.5 431.8h0M461.5 517.0h0M504.8 478.3h0M592.4 440.7h0M601.5 390.9h0M533.0 454.0h0M563.1 416.3h0M594.2 373.4h0M522.7 487.4h0M523.7 462.4h0M644.1 411.6h0M483.5 500.5h0M461.7 525.0h0M573.3 423.0h0M476.3 497.0h0M524.7 487.9h0M496.4 514.2h0M597.8 426.3h0M663.6 342.3h0M510.2 496.6h0M565.9 461.1h0M559.8 471.7h0M568.4 455.4h0M673.9 373.6h0M527.7 490.3h0M471.8 509.4h0M531.3 457.0h0M581.3 460.1h0M543.1 487.5h0M563.8 441.3h0M598.6 429.5h0M580.4 414.4h0M567.5 416.2h0M653.4 371.9h0M540.1 424.6h0M635.5 381.9h0M618.9 440.7h0M464.1 533.4h0M517.8 491.7h0M553.5 465.2h0M497.1 477.1h0M606.6 383.5h0M632.3 385.9h0M502.9 494.6h0M574.7 421.6h0M558.5 474.9h0M491.6 509.7h0M663.9 365.6h0M582.9 410.1h0M565.4 427.4h0M563.0 390.9h0M494.7 513.3h0M517.1 473.2h0M478.3 490.6h0M481.2 497.1h0M610.5 395.1h0M558.3 435.2h0M480.3 508.7h0M600.4 465.3h0M587.4 368.4h0M487.5 511.3h0M492.3 470.5h0M523.8 476.6h0M454.0 529.3h0M519.6 477.7h0M498.4 510.3h0M567.8 391.5h0M575.6 391.3h0M521.6 492.7h0M531.6 458.0h0M551.4 386.9h0M507.1 508.9h0M625.5 431.3h0M479.1 511.2h0M516.2 486.8h0M553.4 453.6h0M665.9 369.7h0M571.1 440.3h0M565.9 407.4h0M568.7 401.9h0M596.8 400.2h0M487.3 507.3h0M507.1 502.1h0M562.0 390.4h0M547.7 476.5h0M517.0 464.9h0M581.3 447.3h0M602.4 442.0h0M650.7 349.0h0M591.6 418.6h0M549.1 449.8h0M543.3 427.3h0M577.9 448.3h0M521.8 474.0h0M498.1 500.7h0M570.4 381.8h0M488.2 488.4h0M508.4 487.1h0M559.4 462.4h0M523.6 456.5h0M521.5 451.9h0M501.8 500.5h0M583.3 401.3h0M475.3 516.6h0M555.8 448.4h0M606.1 364.7h0M647.8 336.4h0M479.8 516.7h0M499.6 473.9h0M582.8 418.6h0M534.9 467.3h0M490.0 508.0h0M512.0 485.0h0M582.9 433.8h0M625.9 391.6h0" stroke="#174780" stroke-opacity="0.85" stroke-width="3.5" stroke-linecap="round" fill="none" clip-path="url(#cd)"/><path d="M511.2 440.9h0M516.3 493.7h0M578.9 448.7h0M473.8 509.6h0M508.5 494.2h0M501.2 476.3h0M508.0 449.7h0M521.8 471.3h0M564.0 485.1h0M559.8 423.5h0M549.7 470.6h0M544.7 445.3h0M505.6 474.4h0M512.5 470.0h0M521.9 407.4h0M494.1 483.2h0M500.9 499.6h0M521.2 494.8h0M511.7 484.8h0M488.1 438.3h0M547.3 499.3h0M508.3 407.0h0M491.1 443.7h0M467.2 498.5h0M490.6 442.5h0M476.4 503.6h0M478.4 424.8h0M515.4 396.2h0M662.3 400.0h0M579.3 413.6h0M492.9 355.5h0M482.1 483.5h0M534.6 493.9h0" stroke="#d15200" stroke-opacity="0.42" stroke-width="3.5" stroke-linecap="round" fill="none" clip-path="url(#cd)"/><path d="M535.1 352.4h0M474.5 485.7h0M495.4 459.5h0M499.8 501.6h0M505.1 464.3h0M471.2 508.1h0M553.4 437.3h0M490.5 445.5h0M552.7 464.0h0M529.5 394.4h0M471.2 408.3h0M516.2 453.4h0M553.0 405.1h0M541.0 476.8h0M525.6 466.8h0M482.4 500.4h0M499.6 467.2h0M551.3 441.0h0M493.0 497.8h0M565.2 418.4h0M589.5 383.1h0M488.8 501.5h0M516.6 487.0h0M511.7 479.6h0M491.1 469.8h0M507.4 424.8h0M595.2 434.2h0M509.3 508.9h0M534.6 458.7h0M493.6 491.7h0M548.9 423.9h0M480.5 475.4h0M484.9 495.6h0M548.4 425.8h0M507.5 478.4h0M564.1 380.5h0M526.7 487.7h0M537.0 473.6h0M522.6 425.1h0M540.1 465.0h0M490.3 416.6h0M498.2 490.7h0M550.6 400.3h0M513.6 486.4h0M477.8 385.6h0M503.8 498.1h0M542.1 456.2h0M495.1 491.3h0M485.5 476.3h0M503.9 486.9h0M513.9 463.3h0M516.6 417.3h0M529.2 440.8h0M533.1 426.1h0M523.9 462.4h0M530.9 421.4h0M505.6 474.4h0M495.0 477.8h0M575.7 433.8h0M514.7 414.2h0M482.1 511.7h0M534.8 385.7h0M518.8 384.7h0M515.4 388.2h0M523.6 473.1h0M486.1 506.9h0M511.1 505.6h0M560.2 428.6h0M487.9 474.5h0M507.9 463.8h0M534.0 372.4h0M526.3 401.0h0M572.9 450.4h0M487.4 417.1h0M532.6 447.0h0M507.2 480.8h0M513.9 424.1h0M487.2 499.0h0M502.1 509.7h0M523.2 476.5h0M503.6 497.9h0M598.9 410.7h0M535.0 428.8h0M486.9 520.3h0M494.1 449.5h0M480.5 481.4h0M506.3 439.5h0M552.2 469.7h0M505.7 459.9h0M588.0 432.1h0M524.6 425.6h0M490.9 490.2h0M534.4 459.1h0M512.8 498.4h0M512.9 477.8h0M551.3 424.2h0M500.6 463.1h0M507.5 485.5h0M512.1 442.8h0M456.2 526.4h0M488.3 468.8h0M474.4 472.2h0M546.5 437.3h0M513.0 390.6h0M503.7 488.4h0M493.5 481.5h0M478.2 436.1h0M538.7 469.2h0M475.0 488.4h0M478.7 524.1h0M496.8 478.0h0M515.6 469.8h0M540.6 465.6h0M492.6 511.6h0M525.2 464.7h0M488.3 497.5h0M489.1 490.4h0M540.2 433.7h0M486.2 474.5h0M565.2 410.0h0M521.0 451.2h0M459.5 526.3h0M517.4 453.9h0M547.6 458.2h0M661.6 386.9h0M568.3 466.3h0M601.0 427.6h0M564.3 473.8h0M521.6 434.6h0M523.8 424.6h0M494.3 463.4h0M561.8 452.9h0M519.2 478.5h0M496.4 481.7h0M499.6 411.4h0M530.0 443.1h0M485.8 462.5h0M490.0 492.3h0M550.4 434.4h0M474.9 494.0h0M518.7 440.6h0M534.5 466.8h0M493.5 475.7h0M544.7 473.9h0M545.2 472.2h0M484.5 504.8h0M541.1 470.7h0M650.0 415.2h0M495.2 500.1h0M574.7 505.7h0M550.8 464.5h0M501.3 475.8h0M504.5 447.9h0M509.0 481.8h0M497.9 476.4h0M518.5 497.5h0M533.0 492.7h0M515.4 478.5h0M488.5 480.2h0M595.1 427.1h0M555.3 430.4h0M506.0 490.8h0M470.4 512.7h0M481.4 479.3h0M499.8 470.7h0M489.6 509.1h0M512.5 472.1h0M492.1 476.8h0M493.6 508.8h0M492.3 527.3h0M544.0 465.9h0M569.2 450.9h0M476.5 511.5h0M573.1 464.9h0M510.8 485.5h0M494.0 485.2h0M512.7 500.1h0M490.2 497.2h0M520.7 416.9h0M487.9 471.5h0M514.6 507.8h0M488.7 507.5h0M652.9 375.6h0M624.2 387.4h0M471.4 518.4h0M563.6 452.6h0M521.6 476.7h0M535.2 482.5h0M494.6 486.8h0M479.9 490.1h0M484.3 485.4h0M486.0 523.5h0M510.1 492.9h0M527.9 455.8h0M553.2 362.8h0M482.5 496.0h0M519.1 444.9h0M498.9 425.4h0M504.8 460.6h0M494.1 381.5h0M537.4 432.7h0M521.0 463.9h0M545.1 452.3h0M505.2 443.9h0M558.1 462.0h0M547.4 452.1h0M494.9 464.0h0M565.0 376.1h0M479.5 494.9h0" stroke="#d15200" stroke-opacity="0.8" stroke-width="3.5" stroke-linecap="round" fill="none" clip-path="url(#cd)"/><path d="M545.0 436.6h0M514.6 487.9h0M489.6 493.7h0M579.3 405.8h0M567.0 387.9h0M527.4 496.3h0M499.0 488.6h0M471.5 498.7h0M558.0 470.1h0M649.9 420.8h0M505.3 501.2h0M490.4 516.4h0M558.0 458.0h0M460.4 517.6h0M653.0 352.5h0M536.2 464.9h0M627.1 410.7h0M639.2 403.7h0M556.2 458.6h0M496.9 507.1h0M523.9 471.7h0M453.0 522.3h0M620.0 383.9h0M515.7 500.7h0M570.2 411.8h0M501.9 501.8h0M594.1 435.6h0M477.7 514.7h0M519.8 472.2h0M552.4 479.7h0M494.5 497.3h0M501.0 494.3h0M544.2 456.0h0M568.7 439.5h0M484.9 501.6h0M551.1 457.1h0M589.5 382.4h0M502.3 472.4h0M476.7 510.5h0M535.0 442.4h0M576.3 405.4h0M498.1 512.1h0M568.1 406.5h0M522.5 437.4h0M520.5 471.0h0M491.7 512.5h0M523.7 467.5h0M493.1 508.4h0M480.5 520.2h0M567.4 453.6h0M537.5 491.1h0M604.0 423.2h0M473.7 514.6h0M596.3 395.0h0M521.4 467.4h0M557.7 457.2h0M498.0 499.7h0M480.7 513.9h0M472.6 522.4h0M499.1 503.8h0M624.1 387.2h0M683.3 334.1h0M490.4 493.0h0M501.6 501.1h0M614.1 408.6h0M578.3 406.0h0M528.6 489.6h0M522.0 461.5h0M533.1 459.3h0M507.0 507.6h0M513.0 426.7h0M535.0 482.4h0M506.1 482.6h0M625.0 414.0h0M633.4 369.9h0M460.3 519.4h0M525.2 483.6h0M490.5 517.3h0M523.8 433.2h0M649.9 362.6h0M550.0 465.1h0M524.2 466.8h0M515.7 481.3h0M500.1 472.1h0M584.7 431.0h0M502.2 512.7h0M483.2 508.7h0M583.2 449.6h0M572.3 459.3h0M487.2 487.5h0M607.6 414.6h0M670.1 340.6h0M578.0 410.7h0M537.7 465.4h0M489.4 479.6h0M530.4 470.6h0M513.6 465.0h0M519.6 481.5h0M549.8 446.2h0M466.4 507.5h0M669.4 371.8h0M613.9 376.5h0M565.1 443.0h0M527.4 475.8h0M547.7 446.1h0M582.3 426.5h0M538.1 441.2h0M636.9 378.7h0M501.6 517.2h0M530.1 490.8h0M492.9 488.7h0M450.8 523.6h0M517.6 481.0h0M543.1 457.0h0M587.6 439.7h0M587.3 427.4h0M619.4 375.4h0M577.1 454.4h0M522.7 487.3h0M656.7 407.1h0M491.1 467.8h0M533.2 460.2h0M507.8 466.8h0M464.8 526.5h0M624.4 394.0h0M559.3 404.3h0M459.7 533.3h0M635.5 355.8h0M549.8 430.8h0M562.0 447.1h0M528.8 486.8h0M553.2 436.3h0M528.9 484.8h0M596.8 408.7h0M494.0 490.9h0M608.5 430.5h0M559.1 450.2h0M533.2 449.6h0M494.9 504.9h0M554.1 462.2h0M555.3 392.0h0M587.8 392.7h0M601.0 388.2h0M561.6 447.2h0M491.5 512.2h0M555.2 458.1h0M583.3 403.4h0M548.9 458.3h0M527.0 473.8h0M551.8 492.3h0M470.7 519.7h0M524.5 487.8h0M562.8 463.6h0M558.6 399.7h0M492.1 493.2h0M548.5 473.4h0M556.5 447.7h0M493.7 497.5h0M620.0 374.7h0M460.3 509.2h0M558.3 400.7h0M525.9 473.5h0M549.0 404.4h0M494.7 461.3h0M580.9 469.5h0M603.5 387.0h0M466.3 516.1h0M518.2 473.5h0M556.1 447.4h0M520.5 488.6h0M514.3 467.0h0M504.2 493.0h0M614.7 432.2h0M534.1 490.2h0M639.5 410.9h0M596.1 402.3h0M583.1 379.0h0M609.0 386.2h0M529.1 470.7h0M477.4 512.1h0M594.5 450.3h0M465.3 514.6h0M545.0 473.0h0M461.2 512.6h0M518.8 466.3h0M572.4 422.5h0M569.3 414.6h0M474.8 525.3h0M518.9 442.8h0M575.4 445.7h0M583.9 427.6h0M499.3 495.4h0M499.1 499.3h0M599.1 431.4h0M613.9 387.4h0M534.0 471.3h0M659.4 351.5h0M515.7 445.9h0M647.1 372.5h0M505.7 478.7h0M570.7 451.3h0M661.3 358.6h0M505.5 500.8h0" stroke="#174780" stroke-opacity="0.85" stroke-width="3.5" stroke-linecap="round" fill="none" clip-path="url(#cd)"/><path d="M479.3 416.0h0M475.6 512.7h0M504.5 490.0h0M537.7 480.3h0M528.8 453.1h0M482.6 467.9h0M563.0 418.9h0M489.3 513.8h0M495.8 497.0h0M577.3 392.2h0M499.1 497.4h0M490.6 480.6h0M571.0 438.2h0M492.7 460.0h0M533.0 458.0h0M477.5 511.9h0M510.2 414.0h0M495.6 503.9h0M526.4 485.5h0M521.1 448.0h0M552.5 416.0h0M523.4 443.8h0M521.7 419.5h0M502.0 476.1h0M542.2 422.2h0M523.5 464.6h0M521.9 462.2h0M542.3 460.2h0M560.1 434.0h0M489.2 486.8h0M495.1 499.0h0M515.3 415.4h0M499.6 461.7h0M500.8 476.4h0M521.7 417.5h0M468.7 507.4h0M496.6 491.8h0M517.3 419.0h0M525.3 472.6h0M530.2 442.9h0M534.4 479.3h0M506.7 517.4h0M533.5 454.3h0M554.4 452.9h0" stroke="#d15200" stroke-opacity="0.42" stroke-width="3.5" stroke-linecap="round" fill="none" clip-path="url(#cd)"/><path d="M505.1 433.0h0M511.1 449.8h0M510.4 460.0h0M495.4 450.3h0M528.0 477.4h0M467.0 520.4h0M468.0 500.8h0M491.1 386.1h0M633.5 396.4h0M595.1 430.9h0M463.6 496.6h0M499.0 478.7h0M483.0 479.4h0M490.0 510.8h0M514.9 443.2h0M510.2 429.7h0M554.2 467.6h0M500.4 438.8h0M514.5 403.3h0M515.4 480.5h0M500.0 469.6h0M567.2 432.0h0M518.9 488.8h0M675.5 417.8h0M505.4 397.6h0M477.1 479.0h0M508.2 461.9h0M519.7 462.9h0M539.2 469.3h0M494.0 502.3h0M492.2 511.7h0M525.9 447.5h0M516.6 424.3h0M528.9 462.5h0M580.4 354.4h0M574.4 389.7h0M506.9 455.5h0M490.1 497.9h0M533.5 448.4h0M550.9 450.1h0M565.7 447.8h0M517.3 467.3h0M492.6 498.6h0M540.9 390.4h0M467.3 515.5h0M509.5 500.3h0M510.1 503.6h0M539.9 409.2h0M502.0 465.7h0M549.6 415.3h0M525.3 505.2h0M539.8 476.4h0M471.7 497.4h0M569.4 431.8h0M583.5 444.6h0M637.3 409.8h0M543.0 335.9h0M498.5 486.1h0M527.9 471.4h0M490.7 404.9h0M575.9 341.8h0M496.6 462.1h0M507.2 528.6h0M507.3 470.0h0M526.6 363.8h0M515.1 457.8h0M474.8 491.5h0M472.2 520.9h0M481.0 501.9h0M530.9 449.0h0M517.2 479.1h0M583.1 454.5h0M515.5 454.5h0M509.0 491.2h0M471.3 509.0h0M525.6 482.0h0M544.7 430.2h0M491.9 490.9h0M552.0 463.6h0M503.9 462.4h0M557.8 402.0h0M496.2 485.4h0M485.0 524.3h0M524.1 486.3h0M513.8 475.0h0M563.2 434.5h0M480.1 481.9h0M490.3 471.6h0M569.1 410.1h0M510.3 492.6h0M480.5 492.8h0M560.6 333.2h0M513.2 488.6h0M529.7 417.2h0M478.9 491.0h0M527.4 504.9h0M547.9 426.6h0M534.1 461.8h0M471.8 479.8h0M498.9 383.0h0M571.2 486.9h0M518.8 476.0h0M496.0 426.0h0M555.7 389.6h0M492.4 468.5h0M488.5 500.7h0M478.6 489.7h0M550.9 436.1h0M531.3 485.8h0M566.3 412.3h0M503.7 432.0h0M514.9 384.2h0M480.6 389.0h0M479.4 527.8h0M510.7 474.3h0M575.7 363.4h0M505.3 475.7h0M523.3 460.9h0M520.8 477.3h0M552.9 394.4h0M507.8 434.3h0M502.7 454.6h0M518.6 491.1h0M534.9 443.8h0M514.0 439.9h0M473.9 397.9h0M535.3 458.8h0M501.7 496.3h0M539.5 451.3h0M501.5 511.7h0M518.8 415.6h0M511.5 490.5h0M541.2 441.9h0M523.7 472.3h0M537.2 426.6h0M530.8 482.2h0M550.7 469.2h0M591.4 451.8h0M565.9 423.7h0M513.8 489.3h0M498.4 524.3h0M508.3 474.9h0M492.0 465.0h0M523.3 467.4h0M522.4 467.9h0M488.8 420.3h0M530.1 451.0h0M522.3 439.8h0M519.1 422.4h0M553.7 450.3h0M535.1 428.3h0M489.5 439.8h0M586.1 446.6h0M477.3 505.8h0M551.7 392.7h0M479.7 531.3h0M476.4 502.6h0M470.8 495.8h0M479.9 432.9h0M520.1 468.8h0M472.7 519.2h0M535.4 472.6h0M513.5 469.8h0M522.6 491.6h0M508.1 452.9h0M556.0 396.2h0M560.7 432.9h0M496.7 490.5h0M514.9 487.7h0M539.9 469.8h0M507.4 481.2h0M595.0 424.4h0M500.9 439.9h0M499.3 476.0h0M558.3 494.4h0M501.6 486.7h0M540.4 427.2h0M540.4 427.3h0M557.2 456.8h0M532.6 472.5h0M502.8 391.6h0M515.2 467.2h0M533.3 442.9h0M523.7 437.4h0M581.0 430.2h0M519.2 505.0h0M495.7 475.9h0M526.6 381.1h0M521.7 480.4h0M525.8 466.3h0M564.0 444.0h0M529.3 469.5h0M508.8 355.2h0M496.6 501.9h0M517.8 405.9h0M568.1 406.2h0M541.4 445.5h0M534.0 477.3h0M520.7 419.3h0M535.7 469.9h0M503.2 493.1h0M518.3 452.4h0" stroke="#d15200" stroke-opacity="0.8" stroke-width="3.5" stroke-linecap="round" fill="none" clip-path="url(#cd)"/><path d="M524.6 485.4h0M603.5 408.1h0M477.2 513.1h0M514.0 482.1h0M499.7 492.3h0M506.3 495.8h0M528.6 478.2h0M590.9 400.0h0M617.9 422.9h0M642.9 381.7h0M572.6 437.3h0M507.7 496.2h0M569.7 391.5h0M549.4 396.8h0M611.5 431.2h0M581.5 416.7h0M562.2 420.5h0M655.1 391.6h0M625.2 366.1h0M648.2 368.7h0M476.9 509.9h0M562.6 460.5h0M650.9 334.8h0M516.7 497.1h0M507.2 475.4h0M494.3 519.5h0M508.1 484.2h0M578.7 411.4h0M609.3 409.8h0M613.7 397.2h0M507.3 477.5h0M493.5 487.3h0M627.1 340.6h0M598.4 463.5h0M643.2 375.3h0M492.8 502.3h0M495.6 504.3h0M516.1 449.0h0M486.9 497.0h0M582.4 431.1h0M524.5 454.6h0M544.0 485.8h0M679.2 350.8h0M578.5 399.3h0M542.0 445.6h0M663.0 353.4h0M608.4 386.4h0M563.7 467.2h0M531.9 463.5h0M553.7 469.1h0M599.1 414.0h0M510.6 500.8h0M576.5 454.3h0M644.4 360.5h0M524.3 486.9h0M512.9 479.2h0M503.0 504.7h0M519.1 442.2h0M546.6 433.2h0M487.9 509.0h0M546.9 412.4h0M468.1 507.0h0M658.8 348.3h0M533.5 443.1h0M469.4 508.8h0M501.3 468.4h0M519.1 448.8h0M591.0 417.9h0M512.3 487.5h0M493.1 503.9h0M486.4 506.3h0M551.7 458.4h0M519.1 440.5h0M592.8 387.3h0M579.0 413.4h0M469.0 517.4h0M506.5 491.9h0M450.7 529.6h0M632.7 357.1h0M474.7 526.4h0M528.0 455.4h0M477.7 519.0h0M573.0 410.6h0M519.9 488.2h0M498.5 471.7h0M512.5 483.6h0M518.4 481.9h0M511.2 474.9h0M652.3 347.2h0M641.3 357.2h0M483.5 508.5h0M594.4 400.3h0M462.4 521.2h0M473.6 505.6h0M623.8 419.2h0M481.3 509.3h0M451.2 531.3h0M598.2 372.0h0M480.2 514.0h0M491.0 488.6h0M524.6 472.2h0M572.0 408.9h0M506.7 479.4h0M518.0 506.0h0M509.1 483.6h0M507.0 493.7h0M659.4 364.6h0M544.8 451.1h0M497.1 493.9h0M498.6 486.0h0M552.7 438.5h0M535.4 462.2h0M537.1 473.8h0M529.4 479.2h0M534.5 469.5h0M623.6 382.5h0M516.5 478.3h0M515.6 487.1h0M496.1 506.9h0M564.1 420.6h0M560.6 398.6h0M636.9 383.9h0M582.4 427.2h0M477.3 528.9h0M550.9 440.0h0M644.9 398.1h0M547.0 429.3h0M594.8 421.5h0M531.0 419.4h0M542.9 491.3h0M631.5 400.9h0M614.2 420.8h0M577.3 459.1h0M528.8 476.5h0M581.7 442.2h0M501.7 476.2h0M477.3 518.4h0M456.0 525.4h0M453.2 528.4h0M528.9 478.0h0M503.3 467.0h0M489.7 495.4h0M479.4 485.7h0M453.5 530.3h0M584.8 452.6h0M635.3 409.2h0M505.2 489.6h0M488.1 510.2h0M572.9 473.6h0M578.8 471.2h0M572.8 422.6h0M510.5 492.0h0M555.7 447.2h0M537.5 467.4h0M635.4 400.9h0M591.7 361.5h0M656.5 372.3h0M494.0 472.7h0M532.9 437.5h0M508.2 493.0h0M504.8 453.2h0M455.7 529.3h0M580.5 472.4h0M567.9 406.1h0M473.0 518.0h0M553.5 468.9h0M582.3 396.6h0M573.4 359.5h0M545.5 453.3h0M526.5 483.2h0M572.8 424.5h0M471.9 515.1h0M616.6 413.1h0M471.0 512.1h0M481.4 521.7h0M609.0 339.7h0M493.2 489.1h0M620.8 366.1h0M643.7 399.1h0M504.4 478.2h0M606.0 423.6h0M574.2 412.8h0M572.1 414.2h0M517.1 456.8h0M509.0 486.9h0M499.4 492.7h0M536.2 470.3h0M582.9 426.0h0M615.3 396.8h0M497.3 501.2h0M515.2 460.1h0M509.6 476.3h0M492.3 485.3h0" stroke="#174780" stroke-opacity="0.85" stroke-width="3.5" stroke-linecap="round" fill="none" clip-path="url(#cd)"/><path d="M491.3 472.8h0M518.5 458.6h0M540.5 437.1h0M502.9 444.1h0M525.9 480.6h0M499.7 460.3h0M523.1 465.2h0M500.0 479.8h0M474.7 479.8h0M512.1 458.3h0M475.4 507.0h0M487.1 488.7h0M531.4 433.3h0M552.6 449.0h0M487.7 456.2h0M475.5 499.4h0M521.7 491.5h0M514.6 445.1h0M483.4 528.1h0M533.2 479.0h0M467.0 518.9h0M519.5 441.7h0M547.8 433.5h0M505.7 480.4h0M510.4 478.3h0M551.1 422.7h0M568.3 440.6h0M476.6 499.4h0M495.8 497.1h0M488.0 453.9h0M496.0 513.2h0M634.4 386.6h0M505.8 477.7h0M502.1 492.5h0M475.8 515.1h0M552.9 494.3h0" stroke="#d15200" stroke-opacity="0.42" stroke-width="3.5" stroke-linecap="round" fill="none" clip-path="url(#cd)"/><path d="M530.8 439.2h0M544.1 418.5h0M519.5 440.7h0M509.8 388.4h0M551.2 485.9h0M511.3 477.0h0M555.8 459.8h0M489.5 502.0h0M481.0 381.9h0M508.8 441.9h0M490.5 507.2h0M471.1 486.1h0M573.2 437.6h0M499.8 439.6h0M530.8 435.1h0M472.4 527.1h0M525.7 459.8h0M536.1 402.4h0M512.3 456.4h0M574.7 430.4h0M517.7 477.2h0M493.9 476.0h0M497.2 492.5h0M531.0 479.2h0M511.3 488.8h0M472.4 451.0h0M488.4 485.2h0M553.2 466.7h0M504.8 487.2h0M490.4 504.6h0M617.1 456.7h0M546.6 376.7h0M503.0 474.1h0M600.7 437.3h0M483.6 516.4h0M513.2 424.9h0M527.0 439.8h0M508.5 394.6h0M571.4 395.1h0M523.5 515.9h0M489.8 478.0h0M533.1 437.1h0M499.8 469.0h0M530.6 492.8h0M516.0 442.3h0M522.1 504.0h0M512.6 482.1h0M544.1 396.8h0M490.8 474.5h0M495.2 484.3h0M524.3 487.0h0M504.0 376.9h0M516.6 490.4h0M495.0 498.4h0M528.3 434.1h0M495.2 460.2h0M489.8 436.0h0M512.9 490.6h0M462.6 510.0h0M544.2 442.2h0M543.3 464.5h0M501.9 528.5h0M493.9 462.0h0M531.3 475.9h0M506.3 495.7h0M531.9 445.2h0M525.2 427.1h0M516.9 462.2h0M546.9 459.1h0M509.4 491.6h0M496.3 402.4h0M512.2 475.3h0M476.9 511.4h0M485.4 475.9h0M500.2 494.3h0M487.5 492.7h0M471.1 465.3h0M553.9 464.3h0M528.5 458.6h0M498.9 458.8h0M508.2 459.1h0M514.7 447.4h0M509.0 469.4h0M506.2 488.5h0M500.6 484.4h0M541.7 436.2h0M491.6 425.7h0M498.1 400.0h0M477.0 522.9h0M554.7 460.0h0M503.7 507.9h0M515.9 422.0h0M488.1 479.3h0M613.6 403.1h0M517.9 518.1h0M562.3 477.1h0M484.9 479.4h0M509.1 478.8h0M468.3 510.8h0M505.0 430.7h0M528.4 466.2h0M518.5 454.9h0M564.9 442.3h0M482.0 488.1h0M517.3 460.1h0M558.1 391.8h0M508.9 448.3h0M508.0 480.8h0M532.4 496.6h0M480.3 479.2h0M542.7 463.0h0M517.1 482.4h0M578.2 380.3h0M514.0 462.2h0M500.5 473.8h0M495.8 488.9h0M576.0 429.0h0M516.4 377.2h0M528.0 494.1h0M533.8 461.0h0M521.5 466.6h0M515.9 437.9h0M538.0 453.2h0M508.8 472.3h0M488.0 496.0h0M523.5 484.6h0M531.7 500.5h0M585.7 434.8h0M540.7 461.8h0M522.0 477.7h0M574.7 427.2h0M493.4 470.9h0M506.2 496.3h0M500.8 511.2h0M486.7 489.7h0M504.0 476.1h0M523.6 458.3h0M464.0 490.6h0M555.2 383.7h0M484.8 476.7h0M516.3 493.9h0M464.7 511.7h0M517.3 488.2h0M672.1 425.7h0M531.4 476.9h0M506.4 508.0h0M494.8 511.6h0M491.5 484.9h0M549.1 406.1h0M506.2 452.7h0M506.3 427.7h0M557.8 416.8h0M539.2 464.1h0M519.5 465.5h0M540.0 452.7h0M503.0 496.2h0M517.5 506.6h0M546.9 470.2h0M501.5 485.9h0M597.4 393.5h0M506.1 458.9h0M529.0 467.0h0M573.3 422.0h0M538.5 395.3h0M508.7 425.2h0M489.3 465.4h0M501.3 507.8h0M509.3 481.7h0M559.8 453.1h0M539.9 422.7h0M491.7 492.7h0M510.5 380.5h0M514.4 451.3h0M478.3 484.9h0M524.1 454.5h0M546.0 457.1h0M505.5 464.1h0M499.0 479.1h0M530.4 418.1h0M505.4 516.6h0M530.7 488.5h0M530.9 412.8h0M570.4 446.6h0M503.1 465.8h0M470.6 533.1h0M525.3 429.4h0M500.3 492.5h0M504.0 492.9h0M535.0 455.3h0M489.3 512.2h0M535.4 475.7h0M500.4 462.2h0M491.2 504.4h0M512.5 452.4h0M542.1 429.6h0M495.2 420.0h0M527.9 370.7h0M580.5 394.0h0M472.6 431.3h0M547.4 446.1h0M616.1 394.2h0M494.2 386.9h0M567.0 427.4h0M518.8 461.4h0M522.4 437.2h0M625.2 352.3h0" stroke="#d15200" stroke-opacity="0.8" stroke-width="3.5" stroke-linecap="round" fill="none" clip-path="url(#cd)"/><path d="M549.8 458.3h0M657.5 398.8h0M548.8 465.7h0M538.0 421.1h0M568.0 461.3h0M465.4 518.3h0M562.4 416.0h0M557.8 445.0h0M547.5 481.8h0M584.2 415.2h0M568.1 410.2h0M519.9 495.1h0M502.1 505.7h0M481.1 498.8h0M470.7 507.5h0M531.8 442.4h0M524.8 456.7h0M622.4 407.5h0M541.3 416.7h0M515.8 476.3h0M469.0 526.7h0M592.2 400.9h0M497.0 489.9h0M537.3 468.9h0M513.0 502.8h0M505.9 485.9h0M639.6 398.0h0M468.5 509.6h0M671.8 368.2h0M585.6 400.6h0M569.5 449.2h0M566.9 455.2h0M537.4 451.2h0M525.1 445.4h0M495.5 476.6h0M504.5 483.7h0M533.3 453.3h0M500.9 483.3h0M614.9 387.1h0M508.1 495.2h0M514.9 493.0h0M525.9 483.1h0M532.0 481.3h0M515.6 473.9h0M491.2 500.2h0M584.5 415.9h0M677.6 376.2h0M526.7 476.3h0M621.6 422.5h0M491.9 491.8h0M538.5 492.2h0M591.5 403.7h0M538.5 458.4h0M583.9 433.6h0M528.8 425.7h0M584.8 447.6h0M508.0 507.7h0M586.6 429.1h0M483.5 466.6h0M500.5 491.3h0M650.7 368.2h0M569.2 468.4h0M553.4 438.4h0M540.4 467.2h0M564.7 436.3h0M520.7 487.0h0M517.2 466.1h0M583.9 413.1h0M540.6 438.3h0M575.8 376.8h0M508.9 493.3h0M526.7 483.6h0M627.9 375.9h0M504.0 490.3h0M530.5 480.1h0M492.6 516.1h0M478.0 514.3h0M517.9 459.2h0M643.7 370.2h0M541.9 461.9h0M629.9 428.7h0M529.2 467.1h0M598.5 442.0h0M513.7 484.6h0M448.1 520.8h0M509.6 493.5h0M583.8 433.9h0M487.1 495.3h0M465.8 520.0h0M522.5 442.8h0M654.0 408.4h0M499.0 488.4h0M513.0 502.5h0M640.5 398.1h0M490.8 509.1h0M530.5 423.9h0M547.8 432.1h0M507.7 515.9h0M604.6 405.6h0M544.3 444.3h0M585.7 431.0h0M511.6 479.1h0M630.6 429.1h0M547.2 429.3h0M477.9 512.1h0M466.7 510.5h0M521.0 467.5h0M510.3 451.0h0M513.3 496.9h0M617.7 348.7h0M518.5 480.2h0M495.6 508.8h0M584.3 412.7h0M523.5 414.4h0M598.2 395.7h0M497.3 502.4h0M525.8 439.2h0M569.0 419.4h0M555.0 449.3h0M602.2 351.5h0M603.1 417.5h0M512.3 504.0h0M609.2 433.3h0M550.8 428.8h0M633.8 340.1h0M473.3 506.7h0M491.6 478.8h0M453.7 520.7h0M568.6 423.2h0M603.0 379.9h0M484.4 507.8h0M485.6 503.2h0M581.8 411.5h0M566.7 438.4h0M466.9 522.7h0M597.7 452.5h0M542.3 483.8h0M489.1 518.6h0M521.0 473.1h0M661.4 410.2h0M538.0 494.5h0M503.0 492.5h0M601.7 394.3h0M538.3 456.6h0M516.1 505.4h0M496.3 494.9h0M521.9 459.7h0M540.1 439.8h0M622.4 411.6h0M551.9 445.0h0M648.6 386.0h0M558.0 399.3h0M557.7 441.1h0M508.9 472.1h0M633.4 364.1h0M499.2 458.6h0M463.7 520.6h0M498.8 505.2h0M478.8 497.9h0M575.3 411.2h0M574.3 463.9h0M456.5 530.1h0M499.6 489.3h0M642.5 345.0h0M520.8 472.4h0M485.6 499.8h0M533.5 439.2h0M609.7 449.4h0M560.7 462.8h0M479.8 509.6h0M601.3 425.5h0M601.6 454.9h0M557.8 389.4h0M521.6 460.4h0M510.9 512.1h0M533.4 441.8h0M544.7 478.5h0M494.1 497.7h0M516.2 468.2h0M510.3 466.5h0M503.4 465.6h0M475.4 501.6h0M516.3 483.0h0M493.5 510.0h0M517.6 500.3h0M502.5 491.4h0M562.5 433.4h0M537.2 480.4h0M521.7 476.6h0M546.6 448.9h0M559.7 449.4h0M562.4 440.9h0M563.7 463.0h0M558.1 460.7h0M493.3 522.2h0M591.3 445.1h0" stroke="#174780" stroke-opacity="0.85" stroke-width="3.5" stroke-linecap="round" fill="none" clip-path="url(#cd)"/><path d="M505.1 438.8h0M536.4 444.1h0M511.8 477.0h0M538.6 494.3h0M502.4 452.1h0M530.7 432.0h0M543.3 484.5h0M514.9 476.1h0M478.3 504.7h0M569.7 415.3h0M513.7 457.9h0M529.5 407.2h0M588.9 425.6h0M501.9 503.2h0M646.0 421.4h0M519.4 372.7h0M541.8 414.6h0M548.2 377.2h0M497.5 420.7h0M596.5 418.5h0M493.3 527.9h0M611.9 341.7h0M514.4 509.3h0M519.9 453.1h0M492.0 473.4h0M546.9 410.9h0M478.5 494.7h0M495.3 455.7h0M648.6 385.2h0M524.7 452.8h0M546.0 455.7h0M543.0 460.3h0M553.6 449.8h0M578.0 389.6h0M534.8 487.2h0M552.1 485.8h0M529.5 501.9h0" stroke="#d15200" stroke-opacity="0.42" stroke-width="3.5" stroke-linecap="round" fill="none" clip-path="url(#cd)"/><path d="M487.7 487.6h0M557.1 389.6h0M521.2 456.3h0M595.9 391.2h0M472.0 518.3h0M527.9 453.0h0M580.3 452.1h0M512.6 471.4h0M512.5 488.4h0M491.1 509.4h0M528.6 454.9h0M478.6 474.4h0M538.0 337.6h0M492.5 449.8h0M493.0 503.6h0M517.2 492.6h0M490.1 506.2h0M553.2 426.8h0M561.6 419.9h0M512.0 461.6h0M595.4 413.9h0M463.8 507.2h0M554.9 449.1h0M554.0 439.0h0M581.4 336.6h0M605.3 394.4h0M529.4 429.0h0M513.4 435.5h0M537.8 463.1h0M495.8 517.5h0M529.4 471.5h0M621.1 368.8h0M535.0 442.8h0M538.7 411.7h0M483.9 509.9h0M495.5 469.4h0M540.1 402.7h0M517.4 444.1h0M477.1 517.4h0M549.2 429.9h0M506.2 458.4h0M586.5 402.1h0M524.7 493.2h0M493.5 466.3h0M535.3 435.4h0M523.5 464.7h0M465.2 526.3h0M506.7 413.6h0M505.4 350.6h0M473.5 500.7h0M472.4 471.2h0M500.8 518.3h0M568.3 462.4h0M511.2 396.5h0M529.8 484.6h0M530.0 477.4h0M521.5 489.9h0M494.9 472.9h0M499.1 476.9h0M517.0 357.1h0M512.3 444.9h0M501.0 478.0h0M523.1 468.2h0M613.2 369.7h0M488.1 505.4h0M496.4 473.2h0M518.1 475.4h0M562.3 442.2h0M488.9 486.5h0M505.7 424.7h0M474.6 501.6h0M574.1 459.1h0M509.6 444.0h0M508.4 489.7h0M514.8 480.5h0M519.8 476.3h0M486.6 471.2h0M500.0 462.2h0M549.3 459.2h0M485.6 498.2h0M481.9 478.1h0M511.7 469.6h0M583.9 436.3h0M537.1 479.6h0M525.6 461.3h0M496.3 502.6h0M488.2 488.7h0M521.1 479.2h0M550.1 444.2h0M522.5 467.7h0M477.1 519.1h0M519.9 440.4h0M484.1 452.3h0M555.1 456.5h0M492.0 484.5h0M525.3 409.4h0M529.9 452.2h0M575.1 454.3h0M657.9 396.8h0M536.2 472.5h0M478.3 494.9h0M529.6 420.9h0M472.9 491.9h0M481.0 511.3h0M501.4 378.5h0M527.3 483.8h0M618.0 442.5h0M614.7 414.7h0M532.4 441.8h0M496.0 460.8h0M564.0 407.6h0M497.3 498.4h0M581.4 362.0h0M509.9 487.1h0M468.3 512.3h0M511.4 481.6h0M491.8 496.2h0M518.6 479.9h0M505.4 476.3h0M495.8 471.9h0M529.7 509.5h0M547.2 440.8h0M508.2 452.1h0M500.0 496.7h0M523.0 447.9h0M499.6 496.4h0M496.1 490.3h0M520.5 444.8h0M484.1 504.5h0M521.5 447.8h0M610.8 451.9h0M563.8 479.9h0M526.8 471.9h0M525.1 414.0h0M520.5 482.6h0M532.8 379.3h0M551.7 458.1h0M513.0 485.0h0M587.8 427.6h0M493.6 456.0h0M493.3 495.4h0M503.3 498.5h0M574.4 452.1h0M557.1 383.9h0M496.2 496.0h0M556.7 463.8h0M569.1 443.5h0M510.0 498.4h0M460.7 521.8h0M518.2 470.2h0M555.6 408.3h0M513.0 344.7h0M524.6 478.0h0M480.6 474.0h0M527.2 498.8h0M551.0 479.0h0M527.1 495.8h0M491.8 496.0h0M545.6 398.5h0M554.6 437.7h0M506.0 480.1h0M461.7 512.9h0M484.7 478.3h0M513.1 484.3h0M508.6 459.4h0M524.6 498.6h0M522.3 405.7h0M503.1 474.3h0M536.8 425.3h0M503.9 481.5h0M555.3 410.6h0M502.1 480.1h0M553.1 428.5h0M507.2 459.7h0M505.8 442.1h0M499.5 479.0h0M523.5 428.2h0M480.9 468.7h0M527.1 443.4h0M573.1 421.4h0M537.0 450.9h0M510.7 450.9h0M545.7 413.4h0M517.4 501.6h0M504.5 491.6h0M496.7 500.0h0M507.9 375.8h0M497.3 510.0h0M501.8 444.0h0M539.3 406.7h0M549.3 476.7h0M508.7 441.7h0M536.0 353.3h0M494.9 457.8h0M484.0 484.4h0M532.6 409.2h0M546.2 445.7h0M535.0 372.8h0M552.0 437.6h0M493.0 355.8h0M464.6 532.8h0M559.8 442.8h0M513.9 372.4h0M494.3 483.9h0M514.8 497.0h0M561.0 481.0h0" stroke="#d15200" stroke-opacity="0.8" stroke-width="3.5" stroke-linecap="round" fill="none" clip-path="url(#cd)"/><line x1="276.55" y1="692.05" x2="4348.40" y2="-2890.00" stroke="#c0283a" stroke-width="1.05" clip-path="url(#cd)"/><rect x="397.50" y="335.50" width="283.50" height="250.00" fill="none" stroke="#4a4a4a" stroke-width="1.6"/><path d="M407.90 585.50V592.60M473.57 585.50V592.60M539.25 585.50V592.60M604.92 585.50V592.60M670.60 585.50V592.60M397.50 576.50H390.10M397.50 518.73H390.10M397.50 460.95H390.10M397.50 403.18H390.10M397.50 345.40H390.10" stroke="#383838" stroke-width="1.05" fill="none"/><g transform="translate(407.90 610.30)"><text x="-10.77" y="0" class="t">0.0</text></g><g transform="translate(473.57 610.30)"><text x="-10.77" y="0" class="t">0.5</text></g><g transform="translate(539.25 610.30)"><path d="M515 0L515 1237L197 1010L197 1180L530 1409L696 1409L696 0Z" fill="#111" stroke="#111" stroke-width="45" stroke-linejoin="round" transform="translate(-10.77 0) scale(0.00757 -0.00757)"/><text x="-2.15" y="0" class="t">.0</text></g><g transform="translate(604.92 610.30)"><path d="M515 0L515 1237L197 1010L197 1180L530 1409L696 1409L696 0Z" fill="#111" stroke="#111" stroke-width="45" stroke-linejoin="round" transform="translate(-10.77 0) scale(0.00757 -0.00757)"/><text x="-2.15" y="0" class="t">.5</text></g><g transform="translate(670.60 610.30)"><text x="-10.77" y="0" class="t">2.0</text></g><g transform="translate(381.80 576.50) rotate(-90) scale(1 1.060)"><text x="-10.77" y="0" class="t">0.0</text></g><g transform="translate(381.80 518.73) rotate(-90) scale(1 1.060)"><text x="-10.77" y="0" class="t">0.5</text></g><g transform="translate(381.80 460.95) rotate(-90) scale(1 1.060)"><path d="M515 0L515 1237L197 1010L197 1180L530 1409L696 1409L696 0Z" fill="#111" stroke="#111" stroke-width="45" stroke-linejoin="round" transform="translate(-10.77 0) scale(0.00757 -0.00757)"/><text x="-2.15" y="0" class="t">.0</text></g><g transform="translate(381.80 403.18) rotate(-90) scale(1 1.060)"><path d="M515 0L515 1237L197 1010L197 1180L530 1409L696 1409L696 0Z" fill="#111" stroke="#111" stroke-width="45" stroke-linejoin="round" transform="translate(-10.77 0) scale(0.00757 -0.00757)"/><text x="-2.15" y="0" class="t">.5</text></g><g transform="translate(381.80 345.40) rotate(-90) scale(1 1.060)"><text x="-10.77" y="0" class="t">2.0</text></g><text x="538.45" y="331.60" text-anchor="middle" class="h">d</text><rect x="573.6" y="540.5" width="107.4" height="45" fill="#fff" stroke="#4a4a4a" stroke-width="1.4"/><circle cx="584.6" cy="554.6" r="3.0" fill="#e5804a"/><circle cx="584.6" cy="569.4" r="3.0" fill="#33649c"/><text x="596.5" y="561.0" class="g">PMV &gt; 90%</text><text x="596.5" y="575.7" class="g">PMV &lt;= 90%</text><text transform="translate(357.9 634.6) scale(1 1.02)" text-anchor="middle" class="L">Estimated Variance</text><text transform="translate(20.8 310.1) rotate(-90)" text-anchor="middle" class="L" style="font-size:27px">True Variance</text></svg></body></html>
